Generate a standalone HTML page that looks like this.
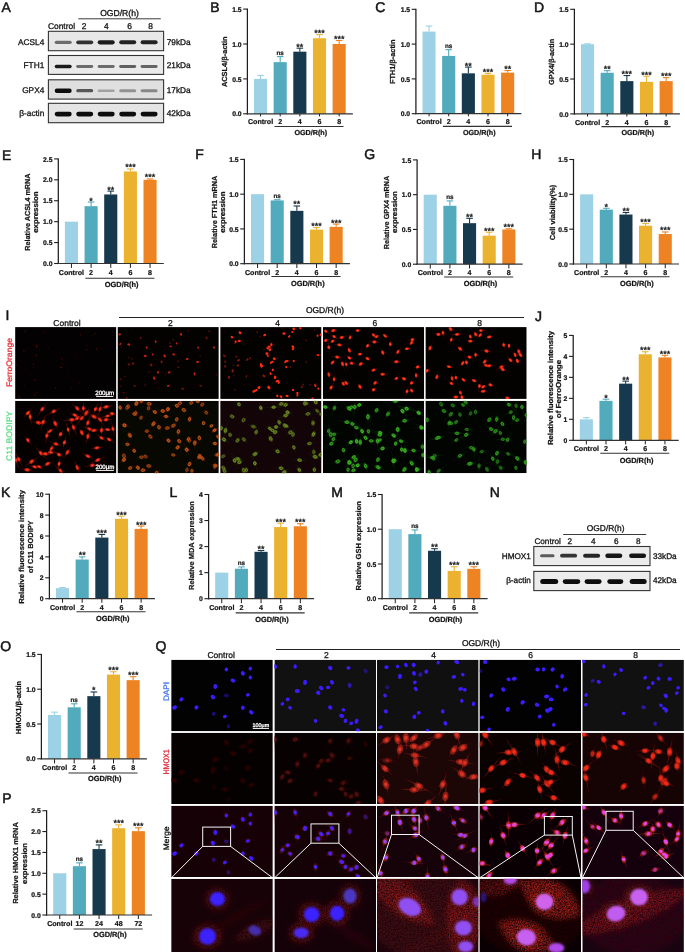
<!DOCTYPE html>
<html><head><meta charset="utf-8"><style>
html,body{margin:0;padding:0;background:#fff;width:685px;height:952px;overflow:hidden}
svg{display:block;font-family:"Liberation Sans",sans-serif;text-rendering:geometricPrecision;will-change:transform}
</style></head><body>
<svg width="685" height="952" viewBox="0 0 685 952">
<defs>
<filter id="bl" x="-30%" y="-100%" width="160%" height="300%"><feGaussianBlur stdDeviation="0.7"/></filter>
<filter id="cb" x="-5%" y="-5%" width="110%" height="110%"><feGaussianBlur stdDeviation="0.45"/></filter>
<filter id="hb" x="-5%" y="-5%" width="110%" height="110%"><feGaussianBlur stdDeviation="0.6"/></filter>
<filter id="mb" x="-20%" y="-20%" width="140%" height="140%"><feGaussianBlur stdDeviation="2.2"/></filter>
<filter id="gr" x="-10%" y="-10%" width="120%" height="120%"><feGaussianBlur in="SourceGraphic" stdDeviation="2.6" result="b"/><feTurbulence type="fractalNoise" baseFrequency="0.75" numOctaves="2" seed="7" result="n"/><feColorMatrix in="n" type="matrix" values="0 0 0 0 0  0 0 0 0 0  0 0 0 0 0  0 0 0 1.9 -0.35" result="na"/><feComposite in="b" in2="na" operator="in" result="g"/><feGaussianBlur in="g" stdDeviation="0.35"/></filter>
<filter id="nb" x="-20%" y="-20%" width="140%" height="140%"><feGaussianBlur stdDeviation="0.8"/></filter>
</defs>
<rect width="685" height="952" fill="#fff"/>
<text x="1.5" y="12.3" font-size="14" text-anchor="start" fill="#141414" stroke="#141414" stroke-width="0.5">A</text>
<text x="119.5" y="15.8" font-size="8.6" text-anchor="middle" fill="#141414" stroke="#141414" stroke-width="0.3">OGD/R(h)</text>
<line x1="78.3" y1="18.8" x2="160.8" y2="18.8" stroke="#3a3a3a" stroke-width="1"/>
<text x="61.5" y="29.4" font-size="8.4" text-anchor="middle" fill="#141414" stroke="#141414" stroke-width="0.3">Control</text>
<text x="84" y="29.4" font-size="8.4" text-anchor="middle" fill="#141414" stroke="#141414" stroke-width="0.3">2</text>
<text x="106.3" y="29.4" font-size="8.4" text-anchor="middle" fill="#141414" stroke="#141414" stroke-width="0.3">4</text>
<text x="129.5" y="29.4" font-size="8.4" text-anchor="middle" fill="#141414" stroke="#141414" stroke-width="0.3">6</text>
<text x="150.5" y="29.4" font-size="8.4" text-anchor="middle" fill="#141414" stroke="#141414" stroke-width="0.3">8</text>
<rect x="48.4" y="31.3" width="115.2" height="19.4" fill="#e7e7e7" stroke="#333" stroke-width="1.1"/>
<rect x="54.7" y="40.7" width="17" height="3.2" rx="1.6" fill="rgb(108,108,108)" filter="url(#bl)"/>
<rect x="76.2" y="40.4" width="17" height="3.8" rx="1.9" fill="rgb(49,49,49)" filter="url(#bl)"/>
<rect x="97.7" y="40.2" width="17" height="4.2" rx="2.1" fill="rgb(27,27,27)" filter="url(#bl)"/>
<rect x="119.2" y="40.3" width="17" height="4" rx="2" fill="rgb(36,36,36)" filter="url(#bl)"/>
<rect x="140.6" y="40.3" width="17" height="4" rx="2" fill="rgb(36,36,36)" filter="url(#bl)"/>
<text x="44.3" y="44.7" font-size="8.3" text-anchor="end" fill="#141414" stroke="#141414" stroke-width="0.3">ACSL4</text>
<text x="166.7" y="44.7" font-size="8.3" text-anchor="start" fill="#141414" stroke="#141414" stroke-width="0.3">79kDa</text>
<rect x="48.4" y="55.5" width="115.2" height="18.9" fill="#eaeaea" stroke="#333" stroke-width="1.1"/>
<rect x="54.7" y="64.85" width="17" height="3.3" rx="1.65" fill="rgb(31,31,31)" filter="url(#bl)"/>
<rect x="76.2" y="65.05" width="17" height="2.9" rx="1.45" fill="rgb(108,108,108)" filter="url(#bl)"/>
<rect x="97.7" y="65.05" width="17" height="2.9" rx="1.45" fill="rgb(108,108,108)" filter="url(#bl)"/>
<rect x="119.2" y="65.05" width="17" height="2.9" rx="1.45" fill="rgb(97,97,97)" filter="url(#bl)"/>
<rect x="140.6" y="65.05" width="17" height="2.9" rx="1.45" fill="rgb(101,101,101)" filter="url(#bl)"/>
<text x="44.3" y="68.1" font-size="8.3" text-anchor="end" fill="#141414" stroke="#141414" stroke-width="0.3">FTH1</text>
<text x="166.7" y="68.1" font-size="8.3" text-anchor="start" fill="#141414" stroke="#141414" stroke-width="0.3">21kDa</text>
<rect x="48.4" y="79.8" width="115.2" height="19.3" fill="#dfdfdf" stroke="#333" stroke-width="1.1"/>
<rect x="54.7" y="88.5" width="17" height="4.4" rx="2.2" fill="rgb(16,16,16)" filter="url(#bl)"/>
<rect x="76.2" y="89.05" width="17" height="3.3" rx="1.65" fill="rgb(86,86,86)" filter="url(#bl)"/>
<rect x="97.7" y="89.4" width="17" height="2.6" rx="1.3" fill="rgb(162,162,162)" filter="url(#bl)"/>
<rect x="119.2" y="89.2" width="17" height="3" rx="1.5" fill="rgb(145,145,145)" filter="url(#bl)"/>
<rect x="140.6" y="89.2" width="17" height="3" rx="1.5" fill="rgb(136,136,136)" filter="url(#bl)"/>
<text x="44.3" y="92.7" font-size="8.3" text-anchor="end" fill="#141414" stroke="#141414" stroke-width="0.3">GPX4</text>
<text x="166.7" y="92.7" font-size="8.3" text-anchor="start" fill="#141414" stroke="#141414" stroke-width="0.3">17kDa</text>
<rect x="48.4" y="103.3" width="115.2" height="19.4" fill="#e4e4e4" stroke="#333" stroke-width="1.1"/>
<rect x="54.7" y="111.7" width="17" height="4.8" rx="2.4" fill="rgb(14,14,14)" filter="url(#bl)"/>
<rect x="76.2" y="111.7" width="17" height="4.8" rx="2.4" fill="rgb(16,16,16)" filter="url(#bl)"/>
<rect x="97.7" y="111.7" width="17" height="4.8" rx="2.4" fill="rgb(16,16,16)" filter="url(#bl)"/>
<rect x="119.2" y="111.7" width="17" height="4.8" rx="2.4" fill="rgb(16,16,16)" filter="url(#bl)"/>
<rect x="140.6" y="111.7" width="17" height="4.8" rx="2.4" fill="rgb(16,16,16)" filter="url(#bl)"/>
<text x="44.3" y="116" font-size="8.3" text-anchor="end" fill="#141414" stroke="#141414" stroke-width="0.3">β-actin</text>
<text x="166.7" y="116" font-size="8.3" text-anchor="start" fill="#141414" stroke="#141414" stroke-width="0.3">42kDa</text>
<text x="210.3" y="12.4" font-size="14" text-anchor="start" fill="#141414" stroke="#141414" stroke-width="0.5">B</text>
<line x1="260.55" y1="78.9" x2="260.55" y2="75.41" stroke="#9dd2e6" stroke-width="1.1"/>
<line x1="257.25" y1="75.41" x2="263.85" y2="75.41" stroke="#9dd2e6" stroke-width="1.1"/>
<rect x="254" y="78.9" width="13.1" height="34.9" fill="#9dd2e6"/>
<line x1="260.55" y1="113.8" x2="260.55" y2="116.4" stroke="#1e1e1e" stroke-width="1"/>
<text x="260.55" y="124.4" font-size="7.1" font-weight="bold" text-anchor="middle" fill="#141414" stroke="#141414" stroke-width="0.22">Control</text>
<line x1="280.2" y1="62.15" x2="280.2" y2="56.56" stroke="#51abbd" stroke-width="1.1"/>
<line x1="276.9" y1="56.56" x2="283.5" y2="56.56" stroke="#51abbd" stroke-width="1.1"/>
<rect x="273.65" y="62.15" width="13.1" height="51.65" fill="#51abbd"/>
<text x="280.2" y="54.86" font-size="6.3" font-weight="bold" text-anchor="middle" fill="#1a1a1a" stroke="#1a1a1a" stroke-width="0.22">ns</text>
<line x1="280.2" y1="113.8" x2="280.2" y2="116.4" stroke="#1e1e1e" stroke-width="1"/>
<text x="280.2" y="124.4" font-size="7.1" font-weight="bold" text-anchor="middle" fill="#141414" stroke="#141414" stroke-width="0.22">2</text>
<line x1="299.85" y1="51.68" x2="299.85" y2="48.19" stroke="#17394d" stroke-width="1.1"/>
<line x1="296.55" y1="48.19" x2="303.15" y2="48.19" stroke="#17394d" stroke-width="1.1"/>
<rect x="293.3" y="51.68" width="13.1" height="62.12" fill="#17394d"/>
<text x="299.85" y="49.69" font-size="9" text-anchor="middle" fill="#1a1a1a" stroke="#1a1a1a" stroke-width="0.35">**</text>
<line x1="299.85" y1="113.8" x2="299.85" y2="116.4" stroke="#1e1e1e" stroke-width="1"/>
<text x="299.85" y="124.4" font-size="7.1" font-weight="bold" text-anchor="middle" fill="#141414" stroke="#141414" stroke-width="0.22">4</text>
<line x1="319.5" y1="38.21" x2="319.5" y2="34.65" stroke="#ebb22f" stroke-width="1.1"/>
<line x1="316.2" y1="34.65" x2="322.8" y2="34.65" stroke="#ebb22f" stroke-width="1.1"/>
<rect x="312.95" y="38.21" width="13.1" height="75.59" fill="#ebb22f"/>
<text x="319.5" y="36.15" font-size="9" text-anchor="middle" fill="#1a1a1a" stroke="#1a1a1a" stroke-width="0.35">***</text>
<line x1="319.5" y1="113.8" x2="319.5" y2="116.4" stroke="#1e1e1e" stroke-width="1"/>
<text x="319.5" y="124.4" font-size="7.1" font-weight="bold" text-anchor="middle" fill="#141414" stroke="#141414" stroke-width="0.22">6</text>
<line x1="339.15" y1="44" x2="339.15" y2="40.51" stroke="#ed8323" stroke-width="1.1"/>
<line x1="335.85" y1="40.51" x2="342.45" y2="40.51" stroke="#ed8323" stroke-width="1.1"/>
<rect x="332.6" y="44" width="13.1" height="69.8" fill="#ed8323"/>
<text x="339.15" y="42.01" font-size="9" text-anchor="middle" fill="#1a1a1a" stroke="#1a1a1a" stroke-width="0.35">***</text>
<line x1="339.15" y1="113.8" x2="339.15" y2="116.4" stroke="#1e1e1e" stroke-width="1"/>
<text x="339.15" y="124.4" font-size="7.1" font-weight="bold" text-anchor="middle" fill="#141414" stroke="#141414" stroke-width="0.22">8</text>
<line x1="247.4" y1="8.6" x2="247.4" y2="114.4" stroke="#1e1e1e" stroke-width="1.25"/>
<line x1="246.8" y1="113.8" x2="352.9" y2="113.8" stroke="#333" stroke-width="1.2"/>
<line x1="243.2" y1="113.8" x2="247.4" y2="113.8" stroke="#1e1e1e" stroke-width="1.1"/>
<text x="241.6" y="116.4" font-size="6.8" font-weight="bold" text-anchor="end" fill="#141414" stroke="#141414" stroke-width="0.22">0.0</text>
<line x1="243.2" y1="78.9" x2="247.4" y2="78.9" stroke="#1e1e1e" stroke-width="1.1"/>
<text x="241.6" y="81.5" font-size="6.8" font-weight="bold" text-anchor="end" fill="#141414" stroke="#141414" stroke-width="0.22">0.5</text>
<line x1="243.2" y1="44" x2="247.4" y2="44" stroke="#1e1e1e" stroke-width="1.1"/>
<text x="241.6" y="46.6" font-size="6.8" font-weight="bold" text-anchor="end" fill="#141414" stroke="#141414" stroke-width="0.22">1.0</text>
<line x1="243.2" y1="9.1" x2="247.4" y2="9.1" stroke="#1e1e1e" stroke-width="1.1"/>
<text x="241.6" y="11.7" font-size="6.8" font-weight="bold" text-anchor="end" fill="#141414" stroke="#141414" stroke-width="0.22">1.5</text>
<line x1="274.45" y1="126.5" x2="343.5" y2="126.5" stroke="#333" stroke-width="1.1"/>
<text x="310.78" y="134.6" font-size="7.2" font-weight="bold" text-anchor="middle" fill="#141414" stroke="#141414" stroke-width="0.22">OGD/R(h)</text>
<text x="227.2" y="61.75" font-size="7.3" font-weight="bold" text-anchor="middle" fill="#141414" transform="rotate(-90 227.2 61.75)" textLength="50.7" lengthAdjust="spacingAndGlyphs" stroke="#141414" stroke-width="0.22">ACSL4/β-actin</text>
<text x="375.2" y="12.4" font-size="14" text-anchor="start" fill="#141414" stroke="#141414" stroke-width="0.5">C</text>
<line x1="429.05" y1="31.57" x2="429.05" y2="26" stroke="#9dd2e6" stroke-width="1.1"/>
<line x1="425.75" y1="26" x2="432.35" y2="26" stroke="#9dd2e6" stroke-width="1.1"/>
<rect x="422.5" y="31.57" width="13.1" height="82.13" fill="#9dd2e6"/>
<line x1="429.05" y1="113.7" x2="429.05" y2="116.3" stroke="#1e1e1e" stroke-width="1"/>
<text x="429.05" y="124.3" font-size="7.1" font-weight="bold" text-anchor="middle" fill="#141414" stroke="#141414" stroke-width="0.22">Control</text>
<line x1="448.7" y1="55.93" x2="448.7" y2="49.67" stroke="#51abbd" stroke-width="1.1"/>
<line x1="445.4" y1="49.67" x2="452" y2="49.67" stroke="#51abbd" stroke-width="1.1"/>
<rect x="442.15" y="55.93" width="13.1" height="57.77" fill="#51abbd"/>
<text x="448.7" y="47.97" font-size="6.3" font-weight="bold" text-anchor="middle" fill="#1a1a1a" stroke="#1a1a1a" stroke-width="0.22">ns</text>
<line x1="448.7" y1="113.7" x2="448.7" y2="116.3" stroke="#1e1e1e" stroke-width="1"/>
<text x="448.7" y="124.3" font-size="7.1" font-weight="bold" text-anchor="middle" fill="#141414" stroke="#141414" stroke-width="0.22">2</text>
<line x1="468.35" y1="73.33" x2="468.35" y2="67.07" stroke="#17394d" stroke-width="1.1"/>
<line x1="465.05" y1="67.07" x2="471.65" y2="67.07" stroke="#17394d" stroke-width="1.1"/>
<rect x="461.8" y="73.33" width="13.1" height="40.37" fill="#17394d"/>
<text x="468.35" y="68.57" font-size="9" text-anchor="middle" fill="#1a1a1a" stroke="#1a1a1a" stroke-width="0.35">**</text>
<line x1="468.35" y1="113.7" x2="468.35" y2="116.3" stroke="#1e1e1e" stroke-width="1"/>
<text x="468.35" y="124.3" font-size="7.1" font-weight="bold" text-anchor="middle" fill="#141414" stroke="#141414" stroke-width="0.22">4</text>
<line x1="488" y1="74.72" x2="488" y2="73.33" stroke="#ebb22f" stroke-width="1.1"/>
<line x1="484.7" y1="73.33" x2="491.3" y2="73.33" stroke="#ebb22f" stroke-width="1.1"/>
<rect x="481.45" y="74.72" width="13.1" height="38.98" fill="#ebb22f"/>
<text x="488" y="74.83" font-size="9" text-anchor="middle" fill="#1a1a1a" stroke="#1a1a1a" stroke-width="0.35">***</text>
<line x1="488" y1="113.7" x2="488" y2="116.3" stroke="#1e1e1e" stroke-width="1"/>
<text x="488" y="124.3" font-size="7.1" font-weight="bold" text-anchor="middle" fill="#141414" stroke="#141414" stroke-width="0.22">6</text>
<line x1="507.65" y1="72.64" x2="507.65" y2="70.55" stroke="#ed8323" stroke-width="1.1"/>
<line x1="504.35" y1="70.55" x2="510.95" y2="70.55" stroke="#ed8323" stroke-width="1.1"/>
<rect x="501.1" y="72.64" width="13.1" height="41.06" fill="#ed8323"/>
<text x="507.65" y="72.05" font-size="9" text-anchor="middle" fill="#1a1a1a" stroke="#1a1a1a" stroke-width="0.35">**</text>
<line x1="507.65" y1="113.7" x2="507.65" y2="116.3" stroke="#1e1e1e" stroke-width="1"/>
<text x="507.65" y="124.3" font-size="7.1" font-weight="bold" text-anchor="middle" fill="#141414" stroke="#141414" stroke-width="0.22">8</text>
<line x1="415.9" y1="8.8" x2="415.9" y2="114.3" stroke="#1e1e1e" stroke-width="1.25"/>
<line x1="415.3" y1="113.7" x2="521.4" y2="113.7" stroke="#333" stroke-width="1.2"/>
<line x1="411.7" y1="113.7" x2="415.9" y2="113.7" stroke="#1e1e1e" stroke-width="1.1"/>
<text x="410.1" y="116.3" font-size="6.8" font-weight="bold" text-anchor="end" fill="#141414" stroke="#141414" stroke-width="0.22">0.0</text>
<line x1="411.7" y1="78.9" x2="415.9" y2="78.9" stroke="#1e1e1e" stroke-width="1.1"/>
<text x="410.1" y="81.5" font-size="6.8" font-weight="bold" text-anchor="end" fill="#141414" stroke="#141414" stroke-width="0.22">0.5</text>
<line x1="411.7" y1="44.1" x2="415.9" y2="44.1" stroke="#1e1e1e" stroke-width="1.1"/>
<text x="410.1" y="46.7" font-size="6.8" font-weight="bold" text-anchor="end" fill="#141414" stroke="#141414" stroke-width="0.22">1.0</text>
<line x1="411.7" y1="9.3" x2="415.9" y2="9.3" stroke="#1e1e1e" stroke-width="1.1"/>
<text x="410.1" y="11.9" font-size="6.8" font-weight="bold" text-anchor="end" fill="#141414" stroke="#141414" stroke-width="0.22">1.5</text>
<line x1="442.95" y1="126.4" x2="512" y2="126.4" stroke="#333" stroke-width="1.1"/>
<text x="479.28" y="134.5" font-size="7.2" font-weight="bold" text-anchor="middle" fill="#141414" stroke="#141414" stroke-width="0.22">OGD/R(h)</text>
<text x="394.8" y="61.85" font-size="7.3" font-weight="bold" text-anchor="middle" fill="#141414" transform="rotate(-90 394.8 61.85)" textLength="44.5" lengthAdjust="spacingAndGlyphs" stroke="#141414" stroke-width="0.22">FTH1/β-actin</text>
<text x="534" y="12.4" font-size="14" text-anchor="start" fill="#141414" stroke="#141414" stroke-width="0.5">D</text>
<line x1="587.55" y1="44.17" x2="587.55" y2="43.82" stroke="#9dd2e6" stroke-width="1.1"/>
<line x1="584.25" y1="43.82" x2="590.85" y2="43.82" stroke="#9dd2e6" stroke-width="1.1"/>
<rect x="581" y="44.17" width="13.1" height="69.73" fill="#9dd2e6"/>
<line x1="587.55" y1="113.9" x2="587.55" y2="116.5" stroke="#1e1e1e" stroke-width="1"/>
<text x="587.55" y="124.5" font-size="7.1" font-weight="bold" text-anchor="middle" fill="#141414" stroke="#141414" stroke-width="0.22">Control</text>
<line x1="607.2" y1="72.76" x2="607.2" y2="70.67" stroke="#51abbd" stroke-width="1.1"/>
<line x1="603.9" y1="70.67" x2="610.5" y2="70.67" stroke="#51abbd" stroke-width="1.1"/>
<rect x="600.65" y="72.76" width="13.1" height="41.14" fill="#51abbd"/>
<text x="607.2" y="72.17" font-size="9" text-anchor="middle" fill="#1a1a1a" stroke="#1a1a1a" stroke-width="0.35">**</text>
<line x1="607.2" y1="113.9" x2="607.2" y2="116.5" stroke="#1e1e1e" stroke-width="1"/>
<text x="607.2" y="124.5" font-size="7.1" font-weight="bold" text-anchor="middle" fill="#141414" stroke="#141414" stroke-width="0.22">2</text>
<line x1="626.85" y1="81.13" x2="626.85" y2="75.55" stroke="#17394d" stroke-width="1.1"/>
<line x1="623.55" y1="75.55" x2="630.15" y2="75.55" stroke="#17394d" stroke-width="1.1"/>
<rect x="620.3" y="81.13" width="13.1" height="32.77" fill="#17394d"/>
<text x="626.85" y="77.05" font-size="9" text-anchor="middle" fill="#1a1a1a" stroke="#1a1a1a" stroke-width="0.35">***</text>
<line x1="626.85" y1="113.9" x2="626.85" y2="116.5" stroke="#1e1e1e" stroke-width="1"/>
<text x="626.85" y="124.5" font-size="7.1" font-weight="bold" text-anchor="middle" fill="#141414" stroke="#141414" stroke-width="0.22">4</text>
<line x1="646.5" y1="81.82" x2="646.5" y2="76.24" stroke="#ebb22f" stroke-width="1.1"/>
<line x1="643.2" y1="76.24" x2="649.8" y2="76.24" stroke="#ebb22f" stroke-width="1.1"/>
<rect x="639.95" y="81.82" width="13.1" height="32.08" fill="#ebb22f"/>
<text x="646.5" y="77.74" font-size="9" text-anchor="middle" fill="#1a1a1a" stroke="#1a1a1a" stroke-width="0.35">***</text>
<line x1="646.5" y1="113.9" x2="646.5" y2="116.5" stroke="#1e1e1e" stroke-width="1"/>
<text x="646.5" y="124.5" font-size="7.1" font-weight="bold" text-anchor="middle" fill="#141414" stroke="#141414" stroke-width="0.22">6</text>
<line x1="666.15" y1="81.13" x2="666.15" y2="77.64" stroke="#ed8323" stroke-width="1.1"/>
<line x1="662.85" y1="77.64" x2="669.45" y2="77.64" stroke="#ed8323" stroke-width="1.1"/>
<rect x="659.6" y="81.13" width="13.1" height="32.77" fill="#ed8323"/>
<text x="666.15" y="79.14" font-size="9" text-anchor="middle" fill="#1a1a1a" stroke="#1a1a1a" stroke-width="0.35">***</text>
<line x1="666.15" y1="113.9" x2="666.15" y2="116.5" stroke="#1e1e1e" stroke-width="1"/>
<text x="666.15" y="124.5" font-size="7.1" font-weight="bold" text-anchor="middle" fill="#141414" stroke="#141414" stroke-width="0.22">8</text>
<line x1="574.4" y1="8.8" x2="574.4" y2="114.5" stroke="#1e1e1e" stroke-width="1.25"/>
<line x1="573.8" y1="113.9" x2="679.9" y2="113.9" stroke="#333" stroke-width="1.2"/>
<line x1="570.2" y1="113.9" x2="574.4" y2="113.9" stroke="#1e1e1e" stroke-width="1.1"/>
<text x="568.6" y="116.5" font-size="6.8" font-weight="bold" text-anchor="end" fill="#141414" stroke="#141414" stroke-width="0.22">0.0</text>
<line x1="570.2" y1="79.03" x2="574.4" y2="79.03" stroke="#1e1e1e" stroke-width="1.1"/>
<text x="568.6" y="81.63" font-size="6.8" font-weight="bold" text-anchor="end" fill="#141414" stroke="#141414" stroke-width="0.22">0.5</text>
<line x1="570.2" y1="44.17" x2="574.4" y2="44.17" stroke="#1e1e1e" stroke-width="1.1"/>
<text x="568.6" y="46.77" font-size="6.8" font-weight="bold" text-anchor="end" fill="#141414" stroke="#141414" stroke-width="0.22">1.0</text>
<line x1="570.2" y1="9.3" x2="574.4" y2="9.3" stroke="#1e1e1e" stroke-width="1.1"/>
<text x="568.6" y="11.9" font-size="6.8" font-weight="bold" text-anchor="end" fill="#141414" stroke="#141414" stroke-width="0.22">1.5</text>
<line x1="601.45" y1="126.6" x2="670.5" y2="126.6" stroke="#333" stroke-width="1.1"/>
<text x="637.77" y="134.7" font-size="7.2" font-weight="bold" text-anchor="middle" fill="#141414" stroke="#141414" stroke-width="0.22">OGD/R(h)</text>
<text x="554" y="61.85" font-size="7.3" font-weight="bold" text-anchor="middle" fill="#141414" transform="rotate(-90 554 61.85)" textLength="46.1" lengthAdjust="spacingAndGlyphs" stroke="#141414" stroke-width="0.22">GPX4/β-actin</text>
<text x="2" y="160.4" font-size="14" text-anchor="start" fill="#141414" stroke="#141414" stroke-width="0.5">E</text>
<rect x="64.9" y="221.66" width="13.1" height="41.84" fill="#9dd2e6"/>
<line x1="71.45" y1="263.5" x2="71.45" y2="267.9" stroke="#1e1e1e" stroke-width="1"/>
<text x="71.45" y="274.8" font-size="7.1" font-weight="bold" text-anchor="middle" fill="#141414" stroke="#141414" stroke-width="0.22">Control</text>
<line x1="91.1" y1="206.18" x2="91.1" y2="202" stroke="#51abbd" stroke-width="1.1"/>
<line x1="87.8" y1="202" x2="94.4" y2="202" stroke="#51abbd" stroke-width="1.1"/>
<rect x="84.55" y="206.18" width="13.1" height="57.32" fill="#51abbd"/>
<text x="91.1" y="203.5" font-size="9" text-anchor="middle" fill="#1a1a1a" stroke="#1a1a1a" stroke-width="0.35">*</text>
<line x1="91.1" y1="263.5" x2="91.1" y2="267.9" stroke="#1e1e1e" stroke-width="1"/>
<text x="91.1" y="274.8" font-size="7.1" font-weight="bold" text-anchor="middle" fill="#141414" stroke="#141414" stroke-width="0.22">2</text>
<line x1="110.75" y1="194.46" x2="110.75" y2="191.12" stroke="#17394d" stroke-width="1.1"/>
<line x1="107.45" y1="191.12" x2="114.05" y2="191.12" stroke="#17394d" stroke-width="1.1"/>
<rect x="104.2" y="194.46" width="13.1" height="69.04" fill="#17394d"/>
<text x="110.75" y="192.62" font-size="9" text-anchor="middle" fill="#1a1a1a" stroke="#1a1a1a" stroke-width="0.35">**</text>
<line x1="110.75" y1="263.5" x2="110.75" y2="267.9" stroke="#1e1e1e" stroke-width="1"/>
<text x="110.75" y="274.8" font-size="7.1" font-weight="bold" text-anchor="middle" fill="#141414" stroke="#141414" stroke-width="0.22">4</text>
<line x1="130.4" y1="171.45" x2="130.4" y2="168.94" stroke="#ebb22f" stroke-width="1.1"/>
<line x1="127.1" y1="168.94" x2="133.7" y2="168.94" stroke="#ebb22f" stroke-width="1.1"/>
<rect x="123.85" y="171.45" width="13.1" height="92.05" fill="#ebb22f"/>
<text x="130.4" y="170.44" font-size="9" text-anchor="middle" fill="#1a1a1a" stroke="#1a1a1a" stroke-width="0.35">***</text>
<line x1="130.4" y1="263.5" x2="130.4" y2="267.9" stroke="#1e1e1e" stroke-width="1"/>
<text x="130.4" y="274.8" font-size="7.1" font-weight="bold" text-anchor="middle" fill="#141414" stroke="#141414" stroke-width="0.22">6</text>
<line x1="150.05" y1="179.82" x2="150.05" y2="178.98" stroke="#ed8323" stroke-width="1.1"/>
<line x1="146.75" y1="178.98" x2="153.35" y2="178.98" stroke="#ed8323" stroke-width="1.1"/>
<rect x="143.5" y="179.82" width="13.1" height="83.68" fill="#ed8323"/>
<text x="150.05" y="180.48" font-size="9" text-anchor="middle" fill="#1a1a1a" stroke="#1a1a1a" stroke-width="0.35">***</text>
<line x1="150.05" y1="263.5" x2="150.05" y2="267.9" stroke="#1e1e1e" stroke-width="1"/>
<text x="150.05" y="274.8" font-size="7.1" font-weight="bold" text-anchor="middle" fill="#141414" stroke="#141414" stroke-width="0.22">8</text>
<line x1="58.3" y1="158.4" x2="58.3" y2="264.1" stroke="#1e1e1e" stroke-width="1.25"/>
<line x1="57.7" y1="263.5" x2="163.8" y2="263.5" stroke="#333" stroke-width="1.2"/>
<line x1="54.1" y1="263.5" x2="58.3" y2="263.5" stroke="#1e1e1e" stroke-width="1.1"/>
<text x="52.5" y="266.1" font-size="6.8" font-weight="bold" text-anchor="end" fill="#141414" stroke="#141414" stroke-width="0.22">0.0</text>
<line x1="54.1" y1="242.58" x2="58.3" y2="242.58" stroke="#1e1e1e" stroke-width="1.1"/>
<text x="52.5" y="245.18" font-size="6.8" font-weight="bold" text-anchor="end" fill="#141414" stroke="#141414" stroke-width="0.22">0.5</text>
<line x1="54.1" y1="221.66" x2="58.3" y2="221.66" stroke="#1e1e1e" stroke-width="1.1"/>
<text x="52.5" y="224.26" font-size="6.8" font-weight="bold" text-anchor="end" fill="#141414" stroke="#141414" stroke-width="0.22">1.0</text>
<line x1="54.1" y1="200.74" x2="58.3" y2="200.74" stroke="#1e1e1e" stroke-width="1.1"/>
<text x="52.5" y="203.34" font-size="6.8" font-weight="bold" text-anchor="end" fill="#141414" stroke="#141414" stroke-width="0.22">1.5</text>
<line x1="54.1" y1="179.82" x2="58.3" y2="179.82" stroke="#1e1e1e" stroke-width="1.1"/>
<text x="52.5" y="182.42" font-size="6.8" font-weight="bold" text-anchor="end" fill="#141414" stroke="#141414" stroke-width="0.22">2.0</text>
<line x1="54.1" y1="158.9" x2="58.3" y2="158.9" stroke="#1e1e1e" stroke-width="1.1"/>
<text x="52.5" y="161.5" font-size="6.8" font-weight="bold" text-anchor="end" fill="#141414" stroke="#141414" stroke-width="0.22">2.5</text>
<line x1="85.35" y1="278.2" x2="154.4" y2="278.2" stroke="#333" stroke-width="1.1"/>
<text x="121.67" y="287.1" font-size="7.45" font-weight="bold" text-anchor="middle" fill="#141414" stroke="#141414" stroke-width="0.22">OGD/R(h)</text>
<text x="29.8" y="212.1" font-size="7.3" font-weight="bold" text-anchor="middle" fill="#141414" transform="rotate(-90 29.8 212.1)" textLength="77.2" lengthAdjust="spacingAndGlyphs" stroke="#141414" stroke-width="0.22">Relative ACSL4 mRNA</text>
<text x="37.8" y="212.1" font-size="7.3" font-weight="bold" text-anchor="middle" fill="#141414" transform="rotate(-90 37.8 212.1)" textLength="41.4" lengthAdjust="spacingAndGlyphs" stroke="#141414" stroke-width="0.22">expression</text>
<text x="195.2" y="159.4" font-size="14" text-anchor="start" fill="#141414" stroke="#141414" stroke-width="0.5">F</text>
<rect x="251" y="194.17" width="13.1" height="69.53" fill="#9dd2e6"/>
<line x1="257.55" y1="263.7" x2="257.55" y2="268" stroke="#1e1e1e" stroke-width="1"/>
<text x="257.55" y="274.5" font-size="7.1" font-weight="bold" text-anchor="middle" fill="#141414" stroke="#141414" stroke-width="0.22">Control</text>
<line x1="277.2" y1="200.42" x2="277.2" y2="199.73" stroke="#51abbd" stroke-width="1.1"/>
<line x1="273.9" y1="199.73" x2="280.5" y2="199.73" stroke="#51abbd" stroke-width="1.1"/>
<rect x="270.65" y="200.42" width="13.1" height="63.28" fill="#51abbd"/>
<text x="277.2" y="198.03" font-size="6.3" font-weight="bold" text-anchor="middle" fill="#1a1a1a" stroke="#1a1a1a" stroke-width="0.22">ns</text>
<line x1="277.2" y1="263.7" x2="277.2" y2="268" stroke="#1e1e1e" stroke-width="1"/>
<text x="277.2" y="274.5" font-size="7.1" font-weight="bold" text-anchor="middle" fill="#141414" stroke="#141414" stroke-width="0.22">2</text>
<line x1="296.85" y1="210.85" x2="296.85" y2="205.99" stroke="#17394d" stroke-width="1.1"/>
<line x1="293.55" y1="205.99" x2="300.15" y2="205.99" stroke="#17394d" stroke-width="1.1"/>
<rect x="290.3" y="210.85" width="13.1" height="52.85" fill="#17394d"/>
<text x="296.85" y="207.49" font-size="9" text-anchor="middle" fill="#1a1a1a" stroke="#1a1a1a" stroke-width="0.35">**</text>
<line x1="296.85" y1="263.7" x2="296.85" y2="268" stroke="#1e1e1e" stroke-width="1"/>
<text x="296.85" y="274.5" font-size="7.1" font-weight="bold" text-anchor="middle" fill="#141414" stroke="#141414" stroke-width="0.22">4</text>
<line x1="316.5" y1="229.63" x2="316.5" y2="227.54" stroke="#ebb22f" stroke-width="1.1"/>
<line x1="313.2" y1="227.54" x2="319.8" y2="227.54" stroke="#ebb22f" stroke-width="1.1"/>
<rect x="309.95" y="229.63" width="13.1" height="34.07" fill="#ebb22f"/>
<text x="316.5" y="229.04" font-size="9" text-anchor="middle" fill="#1a1a1a" stroke="#1a1a1a" stroke-width="0.35">***</text>
<line x1="316.5" y1="263.7" x2="316.5" y2="268" stroke="#1e1e1e" stroke-width="1"/>
<text x="316.5" y="274.5" font-size="7.1" font-weight="bold" text-anchor="middle" fill="#141414" stroke="#141414" stroke-width="0.22">6</text>
<line x1="336.15" y1="226.85" x2="336.15" y2="224.07" stroke="#ed8323" stroke-width="1.1"/>
<line x1="332.85" y1="224.07" x2="339.45" y2="224.07" stroke="#ed8323" stroke-width="1.1"/>
<rect x="329.6" y="226.85" width="13.1" height="36.85" fill="#ed8323"/>
<text x="336.15" y="225.57" font-size="9" text-anchor="middle" fill="#1a1a1a" stroke="#1a1a1a" stroke-width="0.35">***</text>
<line x1="336.15" y1="263.7" x2="336.15" y2="268" stroke="#1e1e1e" stroke-width="1"/>
<text x="336.15" y="274.5" font-size="7.1" font-weight="bold" text-anchor="middle" fill="#141414" stroke="#141414" stroke-width="0.22">8</text>
<line x1="244.4" y1="158.9" x2="244.4" y2="264.3" stroke="#1e1e1e" stroke-width="1.25"/>
<line x1="243.8" y1="263.7" x2="349.9" y2="263.7" stroke="#333" stroke-width="1.2"/>
<line x1="240.2" y1="263.7" x2="244.4" y2="263.7" stroke="#1e1e1e" stroke-width="1.1"/>
<text x="238.6" y="266.3" font-size="6.8" font-weight="bold" text-anchor="end" fill="#141414" stroke="#141414" stroke-width="0.22">0.0</text>
<line x1="240.2" y1="228.93" x2="244.4" y2="228.93" stroke="#1e1e1e" stroke-width="1.1"/>
<text x="238.6" y="231.53" font-size="6.8" font-weight="bold" text-anchor="end" fill="#141414" stroke="#141414" stroke-width="0.22">0.5</text>
<line x1="240.2" y1="194.17" x2="244.4" y2="194.17" stroke="#1e1e1e" stroke-width="1.1"/>
<text x="238.6" y="196.77" font-size="6.8" font-weight="bold" text-anchor="end" fill="#141414" stroke="#141414" stroke-width="0.22">1.0</text>
<line x1="240.2" y1="159.4" x2="244.4" y2="159.4" stroke="#1e1e1e" stroke-width="1.1"/>
<text x="238.6" y="162" font-size="6.8" font-weight="bold" text-anchor="end" fill="#141414" stroke="#141414" stroke-width="0.22">1.5</text>
<line x1="271.45" y1="276.5" x2="340.5" y2="276.5" stroke="#333" stroke-width="1.1"/>
<text x="307.78" y="285.5" font-size="7.4" font-weight="bold" text-anchor="middle" fill="#141414" stroke="#141414" stroke-width="0.22">OGD/R(h)</text>
<text x="216.8" y="212" font-size="7.3" font-weight="bold" text-anchor="middle" fill="#141414" transform="rotate(-90 216.8 212)" textLength="72.5" lengthAdjust="spacingAndGlyphs" stroke="#141414" stroke-width="0.22">Relative FTH1 mRNA</text>
<text x="224.9" y="212.1" font-size="7.3" font-weight="bold" text-anchor="middle" fill="#141414" transform="rotate(-90 224.9 212.1)" textLength="41.5" lengthAdjust="spacingAndGlyphs" stroke="#141414" stroke-width="0.22">expression</text>
<text x="364.3" y="159.4" font-size="14" text-anchor="start" fill="#141414" stroke="#141414" stroke-width="0.5">G</text>
<rect x="423.7" y="194.67" width="13.1" height="69.53" fill="#9dd2e6"/>
<line x1="430.25" y1="264.2" x2="430.25" y2="268.5" stroke="#1e1e1e" stroke-width="1"/>
<text x="430.25" y="275" font-size="7.1" font-weight="bold" text-anchor="middle" fill="#141414" stroke="#141414" stroke-width="0.22">Control</text>
<line x1="449.9" y1="205.79" x2="449.9" y2="200.92" stroke="#51abbd" stroke-width="1.1"/>
<line x1="446.6" y1="200.92" x2="453.2" y2="200.92" stroke="#51abbd" stroke-width="1.1"/>
<rect x="443.35" y="205.79" width="13.1" height="58.41" fill="#51abbd"/>
<text x="449.9" y="199.22" font-size="6.3" font-weight="bold" text-anchor="middle" fill="#1a1a1a" stroke="#1a1a1a" stroke-width="0.22">ns</text>
<line x1="449.9" y1="264.2" x2="449.9" y2="268.5" stroke="#1e1e1e" stroke-width="1"/>
<text x="449.9" y="275" font-size="7.1" font-weight="bold" text-anchor="middle" fill="#141414" stroke="#141414" stroke-width="0.22">2</text>
<line x1="469.55" y1="223.18" x2="469.55" y2="218.31" stroke="#17394d" stroke-width="1.1"/>
<line x1="466.25" y1="218.31" x2="472.85" y2="218.31" stroke="#17394d" stroke-width="1.1"/>
<rect x="463" y="223.18" width="13.1" height="41.02" fill="#17394d"/>
<text x="469.55" y="219.81" font-size="9" text-anchor="middle" fill="#1a1a1a" stroke="#1a1a1a" stroke-width="0.35">**</text>
<line x1="469.55" y1="264.2" x2="469.55" y2="268.5" stroke="#1e1e1e" stroke-width="1"/>
<text x="469.55" y="275" font-size="7.1" font-weight="bold" text-anchor="middle" fill="#141414" stroke="#141414" stroke-width="0.22">4</text>
<line x1="489.2" y1="235.69" x2="489.2" y2="232.21" stroke="#ebb22f" stroke-width="1.1"/>
<line x1="485.9" y1="232.21" x2="492.5" y2="232.21" stroke="#ebb22f" stroke-width="1.1"/>
<rect x="482.65" y="235.69" width="13.1" height="28.51" fill="#ebb22f"/>
<text x="489.2" y="233.71" font-size="9" text-anchor="middle" fill="#1a1a1a" stroke="#1a1a1a" stroke-width="0.35">***</text>
<line x1="489.2" y1="264.2" x2="489.2" y2="268.5" stroke="#1e1e1e" stroke-width="1"/>
<text x="489.2" y="275" font-size="7.1" font-weight="bold" text-anchor="middle" fill="#141414" stroke="#141414" stroke-width="0.22">6</text>
<line x1="508.85" y1="229.43" x2="508.85" y2="228.74" stroke="#ed8323" stroke-width="1.1"/>
<line x1="505.55" y1="228.74" x2="512.15" y2="228.74" stroke="#ed8323" stroke-width="1.1"/>
<rect x="502.3" y="229.43" width="13.1" height="34.77" fill="#ed8323"/>
<text x="508.85" y="230.24" font-size="9" text-anchor="middle" fill="#1a1a1a" stroke="#1a1a1a" stroke-width="0.35">***</text>
<line x1="508.85" y1="264.2" x2="508.85" y2="268.5" stroke="#1e1e1e" stroke-width="1"/>
<text x="508.85" y="275" font-size="7.1" font-weight="bold" text-anchor="middle" fill="#141414" stroke="#141414" stroke-width="0.22">8</text>
<line x1="417.1" y1="159.4" x2="417.1" y2="264.8" stroke="#1e1e1e" stroke-width="1.25"/>
<line x1="416.5" y1="264.2" x2="522.6" y2="264.2" stroke="#333" stroke-width="1.2"/>
<line x1="412.9" y1="264.2" x2="417.1" y2="264.2" stroke="#1e1e1e" stroke-width="1.1"/>
<text x="411.3" y="266.8" font-size="6.8" font-weight="bold" text-anchor="end" fill="#141414" stroke="#141414" stroke-width="0.22">0.0</text>
<line x1="412.9" y1="229.43" x2="417.1" y2="229.43" stroke="#1e1e1e" stroke-width="1.1"/>
<text x="411.3" y="232.03" font-size="6.8" font-weight="bold" text-anchor="end" fill="#141414" stroke="#141414" stroke-width="0.22">0.5</text>
<line x1="412.9" y1="194.67" x2="417.1" y2="194.67" stroke="#1e1e1e" stroke-width="1.1"/>
<text x="411.3" y="197.27" font-size="6.8" font-weight="bold" text-anchor="end" fill="#141414" stroke="#141414" stroke-width="0.22">1.0</text>
<line x1="412.9" y1="159.9" x2="417.1" y2="159.9" stroke="#1e1e1e" stroke-width="1.1"/>
<text x="411.3" y="162.5" font-size="6.8" font-weight="bold" text-anchor="end" fill="#141414" stroke="#141414" stroke-width="0.22">1.5</text>
<line x1="444.15" y1="277" x2="513.2" y2="277" stroke="#333" stroke-width="1.1"/>
<text x="480.48" y="286" font-size="7.4" font-weight="bold" text-anchor="middle" fill="#141414" stroke="#141414" stroke-width="0.22">OGD/R(h)</text>
<text x="388.5" y="212.5" font-size="7.3" font-weight="bold" text-anchor="middle" fill="#141414" transform="rotate(-90 388.5 212.5)" textLength="73.5" lengthAdjust="spacingAndGlyphs" stroke="#141414" stroke-width="0.22">Relative GPX4 mRNA</text>
<text x="396.9" y="212" font-size="7.3" font-weight="bold" text-anchor="middle" fill="#141414" transform="rotate(-90 396.9 212)" textLength="41.8" lengthAdjust="spacingAndGlyphs" stroke="#141414" stroke-width="0.22">expression</text>
<text x="531.2" y="159.4" font-size="14" text-anchor="start" fill="#141414" stroke="#141414" stroke-width="0.5">H</text>
<rect x="580.1" y="194.33" width="13.1" height="69.67" fill="#9dd2e6"/>
<line x1="586.65" y1="264" x2="586.65" y2="268.3" stroke="#1e1e1e" stroke-width="1"/>
<text x="586.65" y="274.8" font-size="7.1" font-weight="bold" text-anchor="middle" fill="#141414" stroke="#141414" stroke-width="0.22">Control</text>
<line x1="606.3" y1="209.66" x2="606.3" y2="208.27" stroke="#51abbd" stroke-width="1.1"/>
<line x1="603" y1="208.27" x2="609.6" y2="208.27" stroke="#51abbd" stroke-width="1.1"/>
<rect x="599.75" y="209.66" width="13.1" height="54.34" fill="#51abbd"/>
<text x="606.3" y="209.77" font-size="9" text-anchor="middle" fill="#1a1a1a" stroke="#1a1a1a" stroke-width="0.35">*</text>
<line x1="606.3" y1="264" x2="606.3" y2="268.3" stroke="#1e1e1e" stroke-width="1"/>
<text x="606.3" y="274.8" font-size="7.1" font-weight="bold" text-anchor="middle" fill="#141414" stroke="#141414" stroke-width="0.22">2</text>
<line x1="625.95" y1="214.54" x2="625.95" y2="212.45" stroke="#17394d" stroke-width="1.1"/>
<line x1="622.65" y1="212.45" x2="629.25" y2="212.45" stroke="#17394d" stroke-width="1.1"/>
<rect x="619.4" y="214.54" width="13.1" height="49.46" fill="#17394d"/>
<text x="625.95" y="213.95" font-size="9" text-anchor="middle" fill="#1a1a1a" stroke="#1a1a1a" stroke-width="0.35">**</text>
<line x1="625.95" y1="264" x2="625.95" y2="268.3" stroke="#1e1e1e" stroke-width="1"/>
<text x="625.95" y="274.8" font-size="7.1" font-weight="bold" text-anchor="middle" fill="#141414" stroke="#141414" stroke-width="0.22">4</text>
<line x1="645.6" y1="225.68" x2="645.6" y2="223.59" stroke="#ebb22f" stroke-width="1.1"/>
<line x1="642.3" y1="223.59" x2="648.9" y2="223.59" stroke="#ebb22f" stroke-width="1.1"/>
<rect x="639.05" y="225.68" width="13.1" height="38.32" fill="#ebb22f"/>
<text x="645.6" y="225.09" font-size="9" text-anchor="middle" fill="#1a1a1a" stroke="#1a1a1a" stroke-width="0.35">***</text>
<line x1="645.6" y1="264" x2="645.6" y2="268.3" stroke="#1e1e1e" stroke-width="1"/>
<text x="645.6" y="274.8" font-size="7.1" font-weight="bold" text-anchor="middle" fill="#141414" stroke="#141414" stroke-width="0.22">6</text>
<line x1="665.25" y1="234.04" x2="665.25" y2="231.95" stroke="#ed8323" stroke-width="1.1"/>
<line x1="661.95" y1="231.95" x2="668.55" y2="231.95" stroke="#ed8323" stroke-width="1.1"/>
<rect x="658.7" y="234.04" width="13.1" height="29.96" fill="#ed8323"/>
<text x="665.25" y="233.45" font-size="9" text-anchor="middle" fill="#1a1a1a" stroke="#1a1a1a" stroke-width="0.35">***</text>
<line x1="665.25" y1="264" x2="665.25" y2="268.3" stroke="#1e1e1e" stroke-width="1"/>
<text x="665.25" y="274.8" font-size="7.1" font-weight="bold" text-anchor="middle" fill="#141414" stroke="#141414" stroke-width="0.22">8</text>
<line x1="573.5" y1="159" x2="573.5" y2="264.6" stroke="#1e1e1e" stroke-width="1.25"/>
<line x1="572.9" y1="264" x2="679" y2="264" stroke="#333" stroke-width="1.2"/>
<line x1="569.3" y1="264" x2="573.5" y2="264" stroke="#1e1e1e" stroke-width="1.1"/>
<text x="567.7" y="266.6" font-size="6.8" font-weight="bold" text-anchor="end" fill="#141414" stroke="#141414" stroke-width="0.22">0.0</text>
<line x1="569.3" y1="229.17" x2="573.5" y2="229.17" stroke="#1e1e1e" stroke-width="1.1"/>
<text x="567.7" y="231.77" font-size="6.8" font-weight="bold" text-anchor="end" fill="#141414" stroke="#141414" stroke-width="0.22">0.5</text>
<line x1="569.3" y1="194.33" x2="573.5" y2="194.33" stroke="#1e1e1e" stroke-width="1.1"/>
<text x="567.7" y="196.93" font-size="6.8" font-weight="bold" text-anchor="end" fill="#141414" stroke="#141414" stroke-width="0.22">1.0</text>
<line x1="569.3" y1="159.5" x2="573.5" y2="159.5" stroke="#1e1e1e" stroke-width="1.1"/>
<text x="567.7" y="162.1" font-size="6.8" font-weight="bold" text-anchor="end" fill="#141414" stroke="#141414" stroke-width="0.22">1.5</text>
<line x1="600.55" y1="276.8" x2="669.6" y2="276.8" stroke="#333" stroke-width="1.1"/>
<text x="636.88" y="285.8" font-size="7.4" font-weight="bold" text-anchor="middle" fill="#141414" stroke="#141414" stroke-width="0.22">OGD/R(h)</text>
<text x="554.8" y="212.6" font-size="7.3" font-weight="bold" text-anchor="middle" fill="#141414" transform="rotate(-90 554.8 212.6)" textLength="55.5" lengthAdjust="spacingAndGlyphs" stroke="#141414" stroke-width="0.22">Cell viability(%)</text>
<text x="5.5" y="319.6" font-size="14" text-anchor="start" fill="#141414" stroke="#141414" stroke-width="0.5">I</text>
<text x="67" y="326.1" font-size="8.5" text-anchor="middle" fill="#141414" stroke="#141414" stroke-width="0.3">Control</text>
<text x="170.4" y="326" font-size="8.5" text-anchor="middle" fill="#141414" stroke="#141414" stroke-width="0.3">2</text>
<text x="277.7" y="326" font-size="8.5" text-anchor="middle" fill="#141414" stroke="#141414" stroke-width="0.3">4</text>
<text x="374.9" y="326" font-size="8.5" text-anchor="middle" fill="#141414" stroke="#141414" stroke-width="0.3">6</text>
<text x="479.5" y="326" font-size="8.5" text-anchor="middle" fill="#141414" stroke="#141414" stroke-width="0.3">8</text>
<line x1="119" y1="317.5" x2="524" y2="317.5" stroke="#222" stroke-width="1"/>
<text x="325" y="313.4" font-size="8.5" text-anchor="middle" fill="#141414" stroke="#141414" stroke-width="0.3">OGD/R(h)</text>
<text x="11.6" y="362.6" font-size="8" text-anchor="middle" fill="#e8343c" transform="rotate(-90 11.6 362.6)" textLength="49" lengthAdjust="spacingAndGlyphs" stroke="#e8343c" stroke-width="0.3">FerroOrange</text>
<text x="11.6" y="435.9" font-size="8" text-anchor="middle" fill="#5ee08a" transform="rotate(-90 11.6 435.9)" textLength="50" lengthAdjust="spacingAndGlyphs" stroke="#5ee08a" stroke-width="0.3">C11 BODIPY</text>
<clipPath id="c1"><rect x="15.1" y="327.1" width="101.3" height="71.8"/></clipPath>
<g clip-path="url(#c1)">
<rect x="15.1" y="327.1" width="101.3" height="71.8" fill="#030101"/>
<g filter="url(#cb)">
<ellipse cx="60.93" cy="367.29" rx="1.14" ry="0.75" transform="rotate(24.19 60.93 367.29)" fill="#ff2a10" opacity="0.24"/>
<ellipse cx="62.27" cy="363.56" rx="0.89" ry="0.65" transform="rotate(45.91 62.27 363.56)" fill="#ff2a10" opacity="0.19"/>
<ellipse cx="33.81" cy="363.86" rx="0.91" ry="0.74" transform="rotate(117.29 33.81 363.86)" fill="#ff2a10" opacity="0.19"/>
<ellipse cx="95.43" cy="333.86" rx="1.03" ry="0.75" transform="rotate(5.1 95.43 333.86)" fill="#ff2a10" opacity="0.15"/>
<ellipse cx="24.28" cy="385.23" rx="0.69" ry="0.5" transform="rotate(137.21 24.28 385.23)" fill="#ff2a10" opacity="0.2"/>
<ellipse cx="19.34" cy="397.62" rx="0.9" ry="0.57" transform="rotate(129.88 19.34 397.62)" fill="#ff2a10" opacity="0.24"/>
<ellipse cx="81.34" cy="371.3" rx="0.62" ry="0.51" transform="rotate(162.26 81.34 371.3)" fill="#ff2a10" opacity="0.12"/>
<ellipse cx="16.62" cy="365.04" rx="1.06" ry="0.78" transform="rotate(97.45 16.62 365.04)" fill="#ff2a10" opacity="0.11"/>
<ellipse cx="34.37" cy="344.47" rx="0.76" ry="0.63" transform="rotate(38.99 34.37 344.47)" fill="#ff2a10" opacity="0.1"/>
<ellipse cx="62.1" cy="358.73" rx="0.88" ry="0.63" transform="rotate(39.9 62.1 358.73)" fill="#ff2a10" opacity="0.23"/>
<ellipse cx="67.69" cy="373.07" rx="0.73" ry="0.57" transform="rotate(41.96 67.69 373.07)" fill="#ff2a10" opacity="0.17"/>
<ellipse cx="82.21" cy="359.94" rx="0.71" ry="0.59" transform="rotate(82.73 82.21 359.94)" fill="#ff2a10" opacity="0.14"/>
<ellipse cx="116.16" cy="398.59" rx="0.97" ry="0.67" transform="rotate(150.76 116.16 398.59)" fill="#ff2a10" opacity="0.23"/>
<ellipse cx="86.8" cy="349.74" rx="1.23" ry="0.8" transform="rotate(33.46 86.8 349.74)" fill="#ff2a10" opacity="0.13"/>
<ellipse cx="44.38" cy="332.14" rx="0.89" ry="0.6" transform="rotate(21.76 44.38 332.14)" fill="#ff2a10" opacity="0.21"/>
<ellipse cx="55.66" cy="387.88" rx="1.07" ry="0.78" transform="rotate(128.01 55.66 387.88)" fill="#ff2a10" opacity="0.16"/>
<ellipse cx="112.15" cy="387.94" rx="0.93" ry="0.7" transform="rotate(149.41 112.15 387.94)" fill="#ff2a10" opacity="0.1"/>
<ellipse cx="36.34" cy="392.46" rx="1.18" ry="0.76" transform="rotate(105.76 36.34 392.46)" fill="#ff2a10" opacity="0.17"/>
<ellipse cx="114.41" cy="355.64" rx="0.82" ry="0.68" transform="rotate(90.95 114.41 355.64)" fill="#ff2a10" opacity="0.11"/>
<ellipse cx="78.86" cy="383" rx="1.01" ry="0.74" transform="rotate(43.69 78.86 383)" fill="#ff2a10" opacity="0.14"/>
<ellipse cx="23.93" cy="350.98" rx="0.98" ry="0.66" transform="rotate(31.14 23.93 350.98)" fill="#ff2a10" opacity="0.24"/>
<ellipse cx="91.89" cy="335.57" rx="0.84" ry="0.61" transform="rotate(121.41 91.89 335.57)" fill="#ff2a10" opacity="0.14"/>
<ellipse cx="25.34" cy="331.4" rx="1.03" ry="0.73" transform="rotate(91.52 25.34 331.4)" fill="#ff2a10" opacity="0.22"/>
<ellipse cx="33.1" cy="367.26" rx="0.78" ry="0.65" transform="rotate(70.79 33.1 367.26)" fill="#ff2a10" opacity="0.17"/>
<ellipse cx="34.42" cy="379.65" rx="1.13" ry="0.71" transform="rotate(7.83 34.42 379.65)" fill="#ff2a10" opacity="0.12"/>
<ellipse cx="80.31" cy="335.47" rx="0.78" ry="0.62" transform="rotate(106.77 80.31 335.47)" fill="#ff2a10" opacity="0.16"/>
<ellipse cx="36.66" cy="346.47" rx="1.2" ry="0.79" transform="rotate(90.4 36.66 346.47)" fill="#ff2a10" opacity="0.25"/>
<ellipse cx="96.49" cy="348.94" rx="0.98" ry="0.76" transform="rotate(97.13 96.49 348.94)" fill="#ff2a10" opacity="0.23"/>
<ellipse cx="36.44" cy="355.41" rx="1.12" ry="0.79" transform="rotate(92.48 36.44 355.41)" fill="#ff2a10" opacity="0.23"/>
<ellipse cx="80.12" cy="334.3" rx="0.82" ry="0.58" transform="rotate(82.64 80.12 334.3)" fill="#ff2a10" opacity="0.25"/>
<ellipse cx="36.7" cy="345.64" rx="0.76" ry="0.5" transform="rotate(172.28 36.7 345.64)" fill="#ff2a10" opacity="0.22"/>
<ellipse cx="48.42" cy="348.38" rx="1.15" ry="0.77" transform="rotate(147.69 48.42 348.38)" fill="#ff2a10" opacity="0.11"/>
<ellipse cx="24.23" cy="368.94" rx="0.93" ry="0.66" transform="rotate(145.65 24.23 368.94)" fill="#ff2a10" opacity="0.14"/>
<ellipse cx="76.01" cy="353.79" rx="0.8" ry="0.52" transform="rotate(76.7 76.01 353.79)" fill="#ff2a10" opacity="0.17"/>
<ellipse cx="112.26" cy="361.83" rx="0.78" ry="0.56" transform="rotate(102.6 112.26 361.83)" fill="#ff2a10" opacity="0.19"/>
<ellipse cx="102.88" cy="340.23" rx="0.81" ry="0.61" transform="rotate(87.29 102.88 340.23)" fill="#ff2a10" opacity="0.12"/>
<ellipse cx="107.12" cy="385.82" rx="0.99" ry="0.69" transform="rotate(96.93 107.12 385.82)" fill="#ff2a10" opacity="0.14"/>
<ellipse cx="34.33" cy="380.19" rx="0.66" ry="0.51" transform="rotate(82.47 34.33 380.19)" fill="#ff2a10" opacity="0.24"/>
<ellipse cx="35.01" cy="395.32" rx="1.04" ry="0.68" transform="rotate(31.9 35.01 395.32)" fill="#ff2a10" opacity="0.23"/>
<ellipse cx="76.24" cy="357.36" rx="1.13" ry="0.74" transform="rotate(143.72 76.24 357.36)" fill="#ff2a10" opacity="0.12"/>
<ellipse cx="19.02" cy="396.22" rx="1.11" ry="0.75" transform="rotate(45.95 19.02 396.22)" fill="#ff2a10" opacity="0.14"/>
<ellipse cx="86.47" cy="345.55" rx="0.61" ry="0.51" transform="rotate(14.98 86.47 345.55)" fill="#ff2a10" opacity="0.22"/>
<ellipse cx="75.52" cy="348.17" rx="0.72" ry="0.57" transform="rotate(136.01 75.52 348.17)" fill="#ff2a10" opacity="0.13"/>
<ellipse cx="88.07" cy="332.04" rx="0.74" ry="0.6" transform="rotate(112.46 88.07 332.04)" fill="#ff2a10" opacity="0.13"/>
<ellipse cx="71.76" cy="388.3" rx="0.83" ry="0.66" transform="rotate(28.73 71.76 388.3)" fill="#ff2a10" opacity="0.19"/>
</g></g>
<clipPath id="c2"><rect x="117.5" y="327.1" width="101.3" height="71.8"/></clipPath>
<g clip-path="url(#c2)">
<rect x="117.5" y="327.1" width="101.3" height="71.8" fill="#040101"/>
<g filter="url(#cb)">
<ellipse cx="119.74" cy="334.38" rx="1.33" ry="1.08" transform="rotate(172.09 119.74 334.38)" fill="#ff2a10" opacity="0.75"/>
<ellipse cx="128.72" cy="344.55" rx="1.57" ry="1.05" transform="rotate(15.28 128.72 344.55)" fill="#ff2a10" opacity="0.75"/>
<ellipse cx="120.34" cy="343.96" rx="1.29" ry="0.89" transform="rotate(120.55 120.34 343.96)" fill="#ff2a10" opacity="0.75"/>
<ellipse cx="146.68" cy="347.55" rx="1.23" ry="0.97" transform="rotate(109.22 146.68 347.55)" fill="#ff2a10" opacity="0.75"/>
<ellipse cx="155.66" cy="341.56" rx="1.37" ry="0.92" transform="rotate(77.52 155.66 341.56)" fill="#ff2a10" opacity="0.75"/>
<ellipse cx="145.18" cy="355.93" rx="1.54" ry="1.08" transform="rotate(179.07 145.18 355.93)" fill="#ff2a10" opacity="0.75"/>
<ellipse cx="152.66" cy="354.43" rx="1.07" ry="0.88" transform="rotate(80.07 152.66 354.43)" fill="#ff2a10" opacity="0.75"/>
<ellipse cx="170.62" cy="346.35" rx="1.25" ry="0.94" transform="rotate(4.94 170.62 346.35)" fill="#ff2a10" opacity="0.75"/>
<ellipse cx="181.09" cy="334.38" rx="1.51" ry="1.07" transform="rotate(68.4 181.09 334.38)" fill="#ff2a10" opacity="0.75"/>
<ellipse cx="176.61" cy="343.36" rx="1.05" ry="0.87" transform="rotate(100.89 176.61 343.36)" fill="#ff2a10" opacity="0.75"/>
<ellipse cx="198.15" cy="347.55" rx="1.18" ry="0.84" transform="rotate(58.53 198.15 347.55)" fill="#ff2a10" opacity="0.75"/>
<ellipse cx="214.01" cy="347.55" rx="1.28" ry="1" transform="rotate(179.76 214.01 347.55)" fill="#ff2a10" opacity="0.75"/>
<ellipse cx="187.08" cy="358.92" rx="1.55" ry="1.04" transform="rotate(160.84 187.08 358.92)" fill="#ff2a10" opacity="0.75"/>
<ellipse cx="197.55" cy="361.91" rx="1.56" ry="1.03" transform="rotate(163.19 197.55 361.91)" fill="#ff2a10" opacity="0.75"/>
<ellipse cx="164.64" cy="355.93" rx="1.73" ry="1.09" transform="rotate(63.68 164.64 355.93)" fill="#ff2a10" opacity="0.75"/>
<ellipse cx="173.61" cy="354.43" rx="1.52" ry="1.03" transform="rotate(29.01 173.61 354.43)" fill="#ff2a10" opacity="0.75"/>
<ellipse cx="158.05" cy="372.39" rx="1.34" ry="0.96" transform="rotate(83.05 158.05 372.39)" fill="#ff2a10" opacity="0.75"/>
<ellipse cx="169.12" cy="372.39" rx="1.46" ry="0.95" transform="rotate(166.47 169.12 372.39)" fill="#ff2a10" opacity="0.75"/>
<ellipse cx="154.16" cy="378.37" rx="1.66" ry="1.06" transform="rotate(63.71 154.16 378.37)" fill="#ff2a10" opacity="0.75"/>
<ellipse cx="194.56" cy="373.88" rx="1.52" ry="0.97" transform="rotate(82.98 194.56 373.88)" fill="#ff2a10" opacity="0.75"/>
<ellipse cx="128.72" cy="364.31" rx="1.22" ry="0.95" transform="rotate(130.28 128.72 364.31)" fill="#ff2a10" opacity="0.45"/>
<ellipse cx="133.21" cy="363.41" rx="1.28" ry="1.01" transform="rotate(58.44 133.21 363.41)" fill="#ff2a10" opacity="0.45"/>
<ellipse cx="168.23" cy="385.85" rx="1.38" ry="0.88" transform="rotate(163.43 168.23 385.85)" fill="#ff2a10" opacity="0.75"/>
<ellipse cx="151.17" cy="364.91" rx="1.61" ry="1.09" transform="rotate(55.72 151.17 364.91)" fill="#ff2a10" opacity="0.45"/>
<ellipse cx="161.64" cy="361.91" rx="1.4" ry="0.96" transform="rotate(90.76 161.64 361.91)" fill="#ff2a10" opacity="0.52"/>
<ellipse cx="140.69" cy="337.97" rx="1.15" ry="0.89" transform="rotate(105.83 140.69 337.97)" fill="#ff2a10" opacity="0.38"/>
<ellipse cx="206.53" cy="337.97" rx="1.57" ry="1.08" transform="rotate(92.14 206.53 337.97)" fill="#ff2a10" opacity="0.38"/>
<ellipse cx="182.59" cy="388.85" rx="1.56" ry="1.05" transform="rotate(13.57 182.59 388.85)" fill="#ff2a10" opacity="0.38"/>
<ellipse cx="134.71" cy="385.85" rx="1.28" ry="0.86" transform="rotate(163.38 134.71 385.85)" fill="#ff2a10" opacity="0.38"/>
<ellipse cx="200.55" cy="385.85" rx="1.3" ry="1" transform="rotate(10.58 200.55 385.85)" fill="#ff2a10" opacity="0.38"/>
<ellipse cx="165.57" cy="374.31" rx="0.78" ry="0.64" transform="rotate(172.48 165.57 374.31)" fill="#ff2a10" opacity="0.32"/>
<ellipse cx="131.95" cy="327.88" rx="0.82" ry="0.66" transform="rotate(179.75 131.95 327.88)" fill="#ff2a10" opacity="0.24"/>
<ellipse cx="145.26" cy="385.28" rx="1.09" ry="0.7" transform="rotate(117.26 145.26 385.28)" fill="#ff2a10" opacity="0.32"/>
<ellipse cx="178.43" cy="367.18" rx="1.18" ry="0.89" transform="rotate(41.71 178.43 367.18)" fill="#ff2a10" opacity="0.32"/>
<ellipse cx="132.22" cy="358.7" rx="1.3" ry="0.88" transform="rotate(108.21 132.22 358.7)" fill="#ff2a10" opacity="0.19"/>
<ellipse cx="209.28" cy="331.32" rx="0.99" ry="0.81" transform="rotate(166.29 209.28 331.32)" fill="#ff2a10" opacity="0.35"/>
<ellipse cx="125.06" cy="376.42" rx="1.03" ry="0.78" transform="rotate(158.65 125.06 376.42)" fill="#ff2a10" opacity="0.23"/>
<ellipse cx="158.49" cy="387.58" rx="1.23" ry="0.85" transform="rotate(34.22 158.49 387.58)" fill="#ff2a10" opacity="0.15"/>
<ellipse cx="123.66" cy="392.8" rx="1.32" ry="0.83" transform="rotate(168.84 123.66 392.8)" fill="#ff2a10" opacity="0.28"/>
<ellipse cx="126.72" cy="397.98" rx="1.17" ry="0.81" transform="rotate(101.94 126.72 397.98)" fill="#ff2a10" opacity="0.39"/>
<ellipse cx="128.9" cy="357.49" rx="1.18" ry="0.89" transform="rotate(46.51 128.9 357.49)" fill="#ff2a10" opacity="0.18"/>
<ellipse cx="149.16" cy="371.72" rx="1.29" ry="0.89" transform="rotate(140.6 149.16 371.72)" fill="#ff2a10" opacity="0.19"/>
<ellipse cx="188.09" cy="330.79" rx="1.24" ry="0.85" transform="rotate(25.6 188.09 330.79)" fill="#ff2a10" opacity="0.19"/>
<ellipse cx="200.13" cy="355.86" rx="0.87" ry="0.61" transform="rotate(33.31 200.13 355.86)" fill="#ff2a10" opacity="0.25"/>
<ellipse cx="177.87" cy="361.33" rx="1.23" ry="0.88" transform="rotate(5.81 177.87 361.33)" fill="#ff2a10" opacity="0.25"/>
<ellipse cx="120.59" cy="379.25" rx="1.06" ry="0.72" transform="rotate(93.12 120.59 379.25)" fill="#ff2a10" opacity="0.39"/>
<ellipse cx="216.4" cy="374.75" rx="0.93" ry="0.69" transform="rotate(164.96 216.4 374.75)" fill="#ff2a10" opacity="0.24"/>
<ellipse cx="154.28" cy="376.65" rx="0.99" ry="0.69" transform="rotate(104.87 154.28 376.65)" fill="#ff2a10" opacity="0.32"/>
<ellipse cx="129.03" cy="343.97" rx="1.07" ry="0.73" transform="rotate(97.76 129.03 343.97)" fill="#ff2a10" opacity="0.24"/>
<ellipse cx="169.3" cy="385.27" rx="1" ry="0.63" transform="rotate(95.08 169.3 385.27)" fill="#ff2a10" opacity="0.28"/>
<ellipse cx="120.35" cy="386.16" rx="0.99" ry="0.73" transform="rotate(64.03 120.35 386.16)" fill="#ff2a10" opacity="0.26"/>
<ellipse cx="170.07" cy="343.05" rx="1.24" ry="0.89" transform="rotate(167.31 170.07 343.05)" fill="#ff2a10" opacity="0.26"/>
<ellipse cx="156.83" cy="382.52" rx="0.98" ry="0.63" transform="rotate(72.12 156.83 382.52)" fill="#ff2a10" opacity="0.18"/>
<ellipse cx="173.21" cy="339.88" rx="1.02" ry="0.76" transform="rotate(30.85 173.21 339.88)" fill="#ff2a10" opacity="0.32"/>
<ellipse cx="121.23" cy="346.96" rx="0.9" ry="0.71" transform="rotate(59.09 121.23 346.96)" fill="#ff2a10" opacity="0.24"/>
</g></g>
<clipPath id="c3"><rect x="220.2" y="327.1" width="101.3" height="71.8"/></clipPath>
<g clip-path="url(#c3)">
<rect x="220.2" y="327.1" width="101.3" height="71.8" fill="#040101"/>
<g filter="url(#cb)">
<ellipse cx="231.91" cy="337.17" rx="1.37" ry="1.12" transform="rotate(42.83 231.91 337.17)" fill="#ff2a10" opacity="1"/>
<ellipse cx="235.64" cy="341.64" rx="1.2" ry="1.15" transform="rotate(108.71 235.64 341.64)" fill="#ff2a10" opacity="1"/>
<ellipse cx="239.36" cy="340.89" rx="1.43" ry="1.23" transform="rotate(2.37 239.36 340.89)" fill="#ff2a10" opacity="1"/>
<ellipse cx="240.1" cy="332.7" rx="1.66" ry="1.3" transform="rotate(42.18 240.1 332.7)" fill="#ff2a10" opacity="1"/>
<ellipse cx="264.67" cy="334.93" rx="1.51" ry="1.09" transform="rotate(150.56 264.67 334.93)" fill="#ff2a10" opacity="1"/>
<ellipse cx="269.14" cy="346.85" rx="1.75" ry="1.15" transform="rotate(27.11 269.14 346.85)" fill="#ff2a10" opacity="1"/>
<ellipse cx="271.37" cy="344.61" rx="1.68" ry="1.2" transform="rotate(94.17 271.37 344.61)" fill="#ff2a10" opacity="1"/>
<ellipse cx="266.91" cy="353.55" rx="1.63" ry="1.2" transform="rotate(11.53 266.91 353.55)" fill="#ff2a10" opacity="1"/>
<ellipse cx="267.65" cy="355.78" rx="1.39" ry="0.91" transform="rotate(54.23 267.65 355.78)" fill="#ff2a10" opacity="1"/>
<ellipse cx="260.95" cy="364.72" rx="1.81" ry="1.19" transform="rotate(85.09 260.95 364.72)" fill="#ff2a10" opacity="1"/>
<ellipse cx="261.69" cy="366.2" rx="1.57" ry="1.27" transform="rotate(128.54 261.69 366.2)" fill="#ff2a10" opacity="1"/>
<ellipse cx="271.37" cy="362.48" rx="1.68" ry="1.08" transform="rotate(144.16 271.37 362.48)" fill="#ff2a10" opacity="1"/>
<ellipse cx="272.86" cy="361.74" rx="1.02" ry="0.94" transform="rotate(158.2 272.86 361.74)" fill="#ff2a10" opacity="1"/>
<ellipse cx="274.35" cy="358.76" rx="1.62" ry="1.29" transform="rotate(39.06 274.35 358.76)" fill="#ff2a10" opacity="1"/>
<ellipse cx="272.86" cy="369.93" rx="1.33" ry="1.02" transform="rotate(112.8 272.86 369.93)" fill="#ff2a10" opacity="1"/>
<ellipse cx="270.63" cy="373.65" rx="1.41" ry="1.04" transform="rotate(69.46 270.63 373.65)" fill="#ff2a10" opacity="1"/>
<ellipse cx="275.09" cy="377.37" rx="1.78" ry="1.26" transform="rotate(105.17 275.09 377.37)" fill="#ff2a10" opacity="1"/>
<ellipse cx="277.33" cy="381.09" rx="1.98" ry="1.24" transform="rotate(167.21 277.33 381.09)" fill="#ff2a10" opacity="1"/>
<ellipse cx="278.82" cy="382.58" rx="1.46" ry="0.97" transform="rotate(120.83 278.82 382.58)" fill="#ff2a10" opacity="1"/>
<ellipse cx="284.03" cy="333.45" rx="1.69" ry="1.26" transform="rotate(173.63 284.03 333.45)" fill="#ff2a10" opacity="1"/>
<ellipse cx="289.24" cy="336.42" rx="1.48" ry="0.98" transform="rotate(128.49 289.24 336.42)" fill="#ff2a10" opacity="1"/>
<ellipse cx="292.22" cy="331.96" rx="1.05" ry="1.01" transform="rotate(103.24 292.22 331.96)" fill="#ff2a10" opacity="1"/>
<ellipse cx="293.71" cy="328.98" rx="1.36" ry="1.3" transform="rotate(153.71 293.71 328.98)" fill="#ff2a10" opacity="1"/>
<ellipse cx="300.41" cy="328.23" rx="1.16" ry="1.06" transform="rotate(144.11 300.41 328.23)" fill="#ff2a10" opacity="1"/>
<ellipse cx="292.96" cy="346.85" rx="1.84" ry="1.21" transform="rotate(52.9 292.96 346.85)" fill="#ff2a10" opacity="1"/>
<ellipse cx="292.96" cy="349.08" rx="1.18" ry="1.15" transform="rotate(7.95 292.96 349.08)" fill="#ff2a10" opacity="1"/>
<ellipse cx="285.52" cy="361.74" rx="1.58" ry="1.03" transform="rotate(129.32 285.52 361.74)" fill="#ff2a10" opacity="1"/>
<ellipse cx="287.01" cy="360.99" rx="1.76" ry="1.1" transform="rotate(176.51 287.01 360.99)" fill="#ff2a10" opacity="1"/>
<ellipse cx="286.26" cy="366.95" rx="1.27" ry="0.93" transform="rotate(55.74 286.26 366.95)" fill="#ff2a10" opacity="1"/>
<ellipse cx="293.71" cy="360.99" rx="1.22" ry="0.98" transform="rotate(5.65 293.71 360.99)" fill="#ff2a10" opacity="1"/>
<ellipse cx="247.55" cy="359.5" rx="0.99" ry="0.96" transform="rotate(109.88 247.55 359.5)" fill="#ff2a10" opacity="0.6"/>
<ellipse cx="238.61" cy="360.25" rx="1.62" ry="1.03" transform="rotate(156.2 238.61 360.25)" fill="#ff2a10" opacity="0.5"/>
<ellipse cx="237.87" cy="365.46" rx="1.34" ry="1.05" transform="rotate(161.4 237.87 365.46)" fill="#ff2a10" opacity="0.5"/>
<ellipse cx="228.93" cy="377.37" rx="1.57" ry="1.16" transform="rotate(93.61 228.93 377.37)" fill="#ff2a10" opacity="0.5"/>
<ellipse cx="232.66" cy="370.67" rx="1.8" ry="1.15" transform="rotate(100.67 232.66 370.67)" fill="#ff2a10" opacity="0.5"/>
<ellipse cx="225.21" cy="366.2" rx="1.54" ry="1.07" transform="rotate(91.26 225.21 366.2)" fill="#ff2a10" opacity="0.4"/>
<ellipse cx="263.93" cy="375.88" rx="1.62" ry="1.02" transform="rotate(42.77 263.93 375.88)" fill="#ff2a10" opacity="0.6"/>
<ellipse cx="259.46" cy="387.05" rx="1.13" ry="1.12" transform="rotate(93.8 259.46 387.05)" fill="#ff2a10" opacity="1"/>
<ellipse cx="256.48" cy="390.03" rx="1.15" ry="1.13" transform="rotate(74.74 256.48 390.03)" fill="#ff2a10" opacity="1"/>
<ellipse cx="253.5" cy="391.52" rx="1.19" ry="1.15" transform="rotate(110.84 253.5 391.52)" fill="#ff2a10" opacity="1"/>
<ellipse cx="268.39" cy="387.05" rx="1.53" ry="1.09" transform="rotate(112.92 268.39 387.05)" fill="#ff2a10" opacity="1"/>
<ellipse cx="269.14" cy="387.8" rx="1.71" ry="1.18" transform="rotate(63.46 269.14 387.8)" fill="#ff2a10" opacity="1"/>
<ellipse cx="292.96" cy="390.03" rx="1.3" ry="0.92" transform="rotate(3.99 292.96 390.03)" fill="#ff2a10" opacity="1"/>
<ellipse cx="297.43" cy="393.01" rx="1.27" ry="1" transform="rotate(173.4 297.43 393.01)" fill="#ff2a10" opacity="1"/>
<ellipse cx="297.43" cy="395.24" rx="1.25" ry="1.03" transform="rotate(106.68 297.43 395.24)" fill="#ff2a10" opacity="1"/>
<ellipse cx="277.33" cy="395.99" rx="1.42" ry="1.05" transform="rotate(56.28 277.33 395.99)" fill="#ff2a10" opacity="1"/>
<ellipse cx="281.05" cy="396.73" rx="1.54" ry="1.05" transform="rotate(54.07 281.05 396.73)" fill="#ff2a10" opacity="1"/>
<ellipse cx="287.01" cy="395.99" rx="1.63" ry="1.13" transform="rotate(4.85 287.01 395.99)" fill="#ff2a10" opacity="1"/>
<ellipse cx="315.3" cy="385.56" rx="1.47" ry="0.99" transform="rotate(55.8 315.3 385.56)" fill="#ff2a10" opacity="1"/>
<ellipse cx="318.28" cy="388.54" rx="1.23" ry="0.97" transform="rotate(42.97 318.28 388.54)" fill="#ff2a10" opacity="1"/>
<ellipse cx="317.53" cy="335.68" rx="1.12" ry="0.94" transform="rotate(125.65 317.53 335.68)" fill="#ff2a10" opacity="1"/>
<ellipse cx="321.26" cy="334.93" rx="1.56" ry="1.23" transform="rotate(60.08 321.26 334.93)" fill="#ff2a10" opacity="1"/>
<ellipse cx="318.28" cy="355.04" rx="1.16" ry="0.97" transform="rotate(154 318.28 355.04)" fill="#ff2a10" opacity="1"/>
<ellipse cx="312.32" cy="398.96" rx="1.59" ry="1.25" transform="rotate(117.04 312.32 398.96)" fill="#ff2a10" opacity="1"/>
<ellipse cx="225.21" cy="361.74" rx="1.25" ry="0.95" transform="rotate(40.51 225.21 361.74)" fill="#ff2a10" opacity="0.4"/>
<ellipse cx="224.47" cy="355.78" rx="1.84" ry="1.22" transform="rotate(34.34 224.47 355.78)" fill="#ff2a10" opacity="0.4"/>
<ellipse cx="267.65" cy="348.34" rx="1.5" ry="1.01" transform="rotate(33.05 267.65 348.34)" fill="#ff2a10" opacity="1"/>
<ellipse cx="269.88" cy="349.82" rx="1.48" ry="1.22" transform="rotate(115.55 269.88 349.82)" fill="#ff2a10" opacity="1"/>
<ellipse cx="258.72" cy="387.8" rx="1.5" ry="1.02" transform="rotate(23.34 258.72 387.8)" fill="#ff2a10" opacity="1"/>
<ellipse cx="254.99" cy="390.77" rx="1.3" ry="1.04" transform="rotate(48.81 254.99 390.77)" fill="#ff2a10" opacity="1"/>
<ellipse cx="246.44" cy="376.3" rx="1.21" ry="0.79" transform="rotate(102.66 246.44 376.3)" fill="#ff2a10" opacity="0.41"/>
<ellipse cx="306.24" cy="340.43" rx="1.24" ry="0.8" transform="rotate(49.91 306.24 340.43)" fill="#ff2a10" opacity="0.27"/>
<ellipse cx="235.11" cy="343.27" rx="0.96" ry="0.66" transform="rotate(163.59 235.11 343.27)" fill="#ff2a10" opacity="0.42"/>
<ellipse cx="233.39" cy="365.25" rx="1.19" ry="0.75" transform="rotate(111.08 233.39 365.25)" fill="#ff2a10" opacity="0.26"/>
<ellipse cx="250.05" cy="358.09" rx="1.16" ry="0.73" transform="rotate(95.09 250.05 358.09)" fill="#ff2a10" opacity="0.45"/>
<ellipse cx="281.83" cy="328.14" rx="0.91" ry="0.69" transform="rotate(114.41 281.83 328.14)" fill="#ff2a10" opacity="0.28"/>
<ellipse cx="235.06" cy="389.66" rx="0.89" ry="0.62" transform="rotate(89.3 235.06 389.66)" fill="#ff2a10" opacity="0.44"/>
<ellipse cx="301.85" cy="386.43" rx="1.12" ry="0.73" transform="rotate(132.45 301.85 386.43)" fill="#ff2a10" opacity="0.42"/>
<ellipse cx="316.37" cy="384.09" rx="1.13" ry="0.77" transform="rotate(167.04 316.37 384.09)" fill="#ff2a10" opacity="0.28"/>
<ellipse cx="306.3" cy="362.05" rx="0.98" ry="0.62" transform="rotate(21.11 306.3 362.05)" fill="#ff2a10" opacity="0.43"/>
<ellipse cx="277.35" cy="357.94" rx="1.03" ry="0.66" transform="rotate(51.2 277.35 357.94)" fill="#ff2a10" opacity="0.31"/>
<ellipse cx="263.74" cy="349.63" rx="0.85" ry="0.64" transform="rotate(134.97 263.74 349.63)" fill="#ff2a10" opacity="0.24"/>
<ellipse cx="303.23" cy="384.41" rx="0.82" ry="0.68" transform="rotate(43.68 303.23 384.41)" fill="#ff2a10" opacity="0.5"/>
<ellipse cx="290.19" cy="366.89" rx="0.94" ry="0.69" transform="rotate(94.44 290.19 366.89)" fill="#ff2a10" opacity="0.42"/>
<ellipse cx="233.86" cy="375.7" rx="0.77" ry="0.63" transform="rotate(33.38 233.86 375.7)" fill="#ff2a10" opacity="0.33"/>
<ellipse cx="238.09" cy="341.65" rx="1.17" ry="0.82" transform="rotate(157.1 238.09 341.65)" fill="#ff2a10" opacity="0.36"/>
<ellipse cx="245.86" cy="360.09" rx="0.8" ry="0.64" transform="rotate(22.29 245.86 360.09)" fill="#ff2a10" opacity="0.38"/>
<ellipse cx="260.29" cy="336.49" rx="0.81" ry="0.62" transform="rotate(56.98 260.29 336.49)" fill="#ff2a10" opacity="0.35"/>
<ellipse cx="244.05" cy="344.02" rx="0.96" ry="0.66" transform="rotate(36.52 244.05 344.02)" fill="#ff2a10" opacity="0.26"/>
<ellipse cx="257.32" cy="332.36" rx="1" ry="0.74" transform="rotate(82.4 257.32 332.36)" fill="#ff2a10" opacity="0.4"/>
<ellipse cx="316.81" cy="355.08" rx="1.11" ry="0.84" transform="rotate(97.02 316.81 355.08)" fill="#ff2a10" opacity="0.42"/>
<ellipse cx="314.71" cy="330.2" rx="1.01" ry="0.74" transform="rotate(12.64 314.71 330.2)" fill="#ff2a10" opacity="0.24"/>
<ellipse cx="301.86" cy="387.28" rx="0.98" ry="0.63" transform="rotate(140.49 301.86 387.28)" fill="#ff2a10" opacity="0.39"/>
<ellipse cx="236.38" cy="356.79" rx="1.05" ry="0.76" transform="rotate(2.67 236.38 356.79)" fill="#ff2a10" opacity="0.46"/>
<ellipse cx="309.97" cy="384.77" rx="1.28" ry="0.87" transform="rotate(56.76 309.97 384.77)" fill="#ff2a10" opacity="0.26"/>
</g></g>
<clipPath id="c4"><rect x="322.9" y="327.1" width="101.3" height="71.8"/></clipPath>
<g clip-path="url(#c4)">
<rect x="322.9" y="327.1" width="101.3" height="71.8" fill="#040101"/>
<g filter="url(#cb)">
<path d="M321.96,328.74 Q325.16,332.26 329.63,333.89 Q326.43,330.37 321.96,328.74Z" fill="#901408" opacity="0.45"/>
<ellipse cx="325.8" cy="331.31" rx="1.86" ry="1.42" transform="rotate(42.49 325.8 331.31)" fill="#f02814" opacity="0.9"/>
<ellipse cx="325.8" cy="331.31" rx="1.06" ry="0.88" transform="rotate(42.49 325.8 331.31)" fill="#ff3a1e" opacity="1"/>
<path d="M338.13,329.37 Q333.09,329.37 328.65,331.74 Q333.68,331.74 338.13,329.37Z" fill="#901408" opacity="0.45"/>
<ellipse cx="333.39" cy="330.55" rx="2.28" ry="1.53" transform="rotate(165.23 333.39 330.55)" fill="#f02814" opacity="0.9"/>
<ellipse cx="333.39" cy="330.55" rx="1.03" ry="0.86" transform="rotate(165.23 333.39 330.55)" fill="#ff3a1e" opacity="1"/>
<path d="M328.04,331.92 Q333.48,337.49 340.25,341.34 Q334.81,335.76 328.04,331.92Z" fill="#901408" opacity="0.45"/>
<ellipse cx="334.15" cy="336.63" rx="1.86" ry="1.36" transform="rotate(31.08 334.15 336.63)" fill="#f02814" opacity="0.9"/>
<ellipse cx="334.15" cy="336.63" rx="1.15" ry="0.96" transform="rotate(31.08 334.15 336.63)" fill="#ff3a1e" opacity="1"/>
<path d="M338.19,337.8 Q332.05,340.23 327.07,344.56 Q333.21,342.13 338.19,337.8Z" fill="#901408" opacity="0.45"/>
<ellipse cx="332.63" cy="341.18" rx="1.92" ry="1.39" transform="rotate(144.08 332.63 341.18)" fill="#f02814" opacity="0.9"/>
<ellipse cx="332.63" cy="341.18" rx="1.17" ry="0.97" transform="rotate(144.08 332.63 341.18)" fill="#ff3a1e" opacity="1"/>
<path d="M332.02,337.98 Q325.36,339.32 319.57,342.87 Q326.23,341.53 332.02,337.98Z" fill="#901408" opacity="0.45"/>
<ellipse cx="325.8" cy="340.42" rx="1.85" ry="1.48" transform="rotate(158.41 325.8 340.42)" fill="#f02814" opacity="0.9"/>
<ellipse cx="325.8" cy="340.42" rx="1" ry="0.84" transform="rotate(158.41 325.8 340.42)" fill="#ff3a1e" opacity="1"/>
<path d="M328.34,339.81 Q327.57,347.34 329.33,354.7 Q330.09,347.17 328.34,339.81Z" fill="#901408" opacity="0.45"/>
<ellipse cx="328.83" cy="347.26" rx="1.85" ry="1.58" transform="rotate(85.25 328.83 347.26)" fill="#f02814" opacity="0.9"/>
<ellipse cx="328.83" cy="347.26" rx="1.03" ry="0.86" transform="rotate(85.25 328.83 347.26)" fill="#ff3a1e" opacity="1"/>
<path d="M348.83,335.32 Q341.39,336.19 334.64,339.45 Q342.09,338.59 348.83,335.32Z" fill="#901408" opacity="0.45"/>
<ellipse cx="341.74" cy="337.39" rx="2.14" ry="1.56" transform="rotate(163.6 341.74 337.39)" fill="#f02814" opacity="0.9"/>
<ellipse cx="341.74" cy="337.39" rx="1.06" ry="0.88" transform="rotate(163.6 341.74 337.39)" fill="#ff3a1e" opacity="1"/>
<path d="M352.22,332.62 Q349.1,336.95 347.96,342.15 Q351.07,337.83 352.22,332.62Z" fill="#901408" opacity="0.45"/>
<ellipse cx="350.09" cy="337.39" rx="2.06" ry="1.35" transform="rotate(107.8 350.09 337.39)" fill="#f02814" opacity="0.9"/>
<ellipse cx="350.09" cy="337.39" rx="0.97" ry="0.81" transform="rotate(107.8 350.09 337.39)" fill="#ff3a1e" opacity="1"/>
<path d="M333.38,344.15 Q339.31,346.08 345.54,345.81 Q339.61,343.88 333.38,344.15Z" fill="#901408" opacity="0.45"/>
<ellipse cx="339.46" cy="344.98" rx="2.18" ry="1.38" transform="rotate(8.34 339.46 344.98)" fill="#f02814" opacity="0.9"/>
<ellipse cx="339.46" cy="344.98" rx="1.04" ry="0.87" transform="rotate(8.34 339.46 344.98)" fill="#ff3a1e" opacity="1"/>
<path d="M362.49,330.74 Q357.72,329.42 352.87,330.37 Q357.64,331.69 362.49,330.74Z" fill="#901408" opacity="0.45"/>
<ellipse cx="357.68" cy="330.55" rx="1.92" ry="1.42" transform="rotate(179.51 357.68 330.55)" fill="#f02814" opacity="0.9"/>
<ellipse cx="357.68" cy="330.55" rx="1.03" ry="0.86" transform="rotate(179.51 357.68 330.55)" fill="#ff3a1e" opacity="1"/>
<path d="M347.42,344.36 Q348.27,350.63 351.24,356.23 Q350.39,349.95 347.42,344.36Z" fill="#901408" opacity="0.45"/>
<ellipse cx="349.33" cy="350.29" rx="2.25" ry="1.4" transform="rotate(64.05 349.33 350.29)" fill="#f02814" opacity="0.9"/>
<ellipse cx="349.33" cy="350.29" rx="0.98" ry="0.82" transform="rotate(64.05 349.33 350.29)" fill="#ff3a1e" opacity="1"/>
<path d="M330.75,356.47 Q337.06,358.34 343.61,357.78 Q337.31,355.91 330.75,356.47Z" fill="#901408" opacity="0.45"/>
<ellipse cx="337.18" cy="357.12" rx="1.94" ry="1.53" transform="rotate(11.09 337.18 357.12)" fill="#f02814" opacity="0.9"/>
<ellipse cx="337.18" cy="357.12" rx="1.04" ry="0.87" transform="rotate(11.09 337.18 357.12)" fill="#ff3a1e" opacity="1"/>
<path d="M344.12,353.53 Q348.66,358.69 354.54,362.24 Q350,357.08 344.12,353.53Z" fill="#901408" opacity="0.45"/>
<ellipse cx="349.33" cy="357.88" rx="2.08" ry="1.31" transform="rotate(31.96 349.33 357.88)" fill="#f02814" opacity="0.9"/>
<ellipse cx="349.33" cy="357.88" rx="1.19" ry="0.99" transform="rotate(31.96 349.33 357.88)" fill="#ff3a1e" opacity="1"/>
<path d="M336.67,359.24 Q331.98,361.62 328.59,365.64 Q333.28,363.26 336.67,359.24Z" fill="#901408" opacity="0.45"/>
<ellipse cx="332.63" cy="362.44" rx="2.38" ry="1.31" transform="rotate(132.28 332.63 362.44)" fill="#f02814" opacity="0.9"/>
<ellipse cx="332.63" cy="362.44" rx="1.15" ry="0.96" transform="rotate(132.28 332.63 362.44)" fill="#ff3a1e" opacity="1"/>
<path d="M339.98,357.13 Q341.38,364.37 345.01,370.78 Q343.61,363.54 339.98,357.13Z" fill="#901408" opacity="0.45"/>
<ellipse cx="342.5" cy="363.96" rx="2.37" ry="1.49" transform="rotate(73.88 342.5 363.96)" fill="#f02814" opacity="0.9"/>
<ellipse cx="342.5" cy="363.96" rx="1.01" ry="0.84" transform="rotate(73.88 342.5 363.96)" fill="#ff3a1e" opacity="1"/>
<path d="M344.47,356.63 Q345.19,364.52 348.11,371.89 Q347.39,364 344.47,356.63Z" fill="#901408" opacity="0.45"/>
<ellipse cx="346.29" cy="364.26" rx="1.88" ry="1.41" transform="rotate(79.95 346.29 364.26)" fill="#f02814" opacity="0.9"/>
<ellipse cx="346.29" cy="364.26" rx="0.96" ry="0.8" transform="rotate(79.95 346.29 364.26)" fill="#ff3a1e" opacity="1"/>
<path d="M346.17,362.83 Q351.52,364.42 357.04,363.56 Q351.69,361.97 346.17,362.83Z" fill="#901408" opacity="0.45"/>
<ellipse cx="351.61" cy="363.2" rx="1.9" ry="1.54" transform="rotate(8.06 351.61 363.2)" fill="#f02814" opacity="0.9"/>
<ellipse cx="351.61" cy="363.2" rx="0.98" ry="0.82" transform="rotate(8.06 351.61 363.2)" fill="#ff3a1e" opacity="1"/>
<path d="M364.1,353.19 Q359.73,353.02 355.81,354.98 Q360.19,355.15 364.1,353.19Z" fill="#901408" opacity="0.45"/>
<ellipse cx="359.96" cy="354.09" rx="2.05" ry="1.36" transform="rotate(176.71 359.96 354.09)" fill="#f02814" opacity="0.9"/>
<ellipse cx="359.96" cy="354.09" rx="1" ry="0.83" transform="rotate(176.71 359.96 354.09)" fill="#ff3a1e" opacity="1"/>
<path d="M370.24,340.42 Q366.61,345.26 364.86,351.06 Q368.48,346.21 370.24,340.42Z" fill="#901408" opacity="0.45"/>
<ellipse cx="367.55" cy="345.74" rx="1.89" ry="1.31" transform="rotate(121.83 367.55 345.74)" fill="#f02814" opacity="0.9"/>
<ellipse cx="367.55" cy="345.74" rx="1.2" ry="1" transform="rotate(121.83 367.55 345.74)" fill="#ff3a1e" opacity="1"/>
<path d="M362.75,355.67 Q366.9,359.68 372.34,361.61 Q368.19,357.6 362.75,355.67Z" fill="#901408" opacity="0.45"/>
<ellipse cx="367.55" cy="358.64" rx="2.12" ry="1.53" transform="rotate(22.01 367.55 358.64)" fill="#f02814" opacity="0.9"/>
<ellipse cx="367.55" cy="358.64" rx="1.07" ry="0.9" transform="rotate(22.01 367.55 358.64)" fill="#ff3a1e" opacity="1"/>
<path d="M369.17,331.57 Q372.97,335.93 378.07,338.65 Q374.27,334.29 369.17,331.57Z" fill="#901408" opacity="0.45"/>
<ellipse cx="373.62" cy="335.11" rx="2.05" ry="1.31" transform="rotate(43.54 373.62 335.11)" fill="#f02814" opacity="0.9"/>
<ellipse cx="373.62" cy="335.11" rx="1.17" ry="0.98" transform="rotate(43.54 373.62 335.11)" fill="#ff3a1e" opacity="1"/>
<path d="M380.74,333.71 Q376.05,335.78 372.58,339.55 Q377.27,337.48 380.74,333.71Z" fill="#901408" opacity="0.45"/>
<ellipse cx="376.66" cy="336.63" rx="2.1" ry="1.31" transform="rotate(149.59 376.66 336.63)" fill="#f02814" opacity="0.9"/>
<ellipse cx="376.66" cy="336.63" rx="1.01" ry="0.84" transform="rotate(149.59 376.66 336.63)" fill="#ff3a1e" opacity="1"/>
<path d="M382.32,332.64 Q384.18,336.56 387.7,339.1 Q385.83,335.18 382.32,332.64Z" fill="#901408" opacity="0.45"/>
<ellipse cx="385.01" cy="335.87" rx="2.32" ry="1.34" transform="rotate(41.66 385.01 335.87)" fill="#f02814" opacity="0.9"/>
<ellipse cx="385.01" cy="335.87" rx="1.1" ry="0.91" transform="rotate(41.66 385.01 335.87)" fill="#ff3a1e" opacity="1"/>
<path d="M380.98,342.42 Q374.47,340.69 367.78,341.47 Q374.29,343.19 380.98,342.42Z" fill="#901408" opacity="0.45"/>
<ellipse cx="374.38" cy="341.94" rx="2.04" ry="1.57" transform="rotate(178.3 374.38 341.94)" fill="#f02814" opacity="0.9"/>
<ellipse cx="374.38" cy="341.94" rx="1.14" ry="0.95" transform="rotate(178.3 374.38 341.94)" fill="#ff3a1e" opacity="1"/>
<path d="M391.23,336.78 Q389.24,344.09 389.41,351.66 Q391.4,344.35 391.23,336.78Z" fill="#901408" opacity="0.45"/>
<ellipse cx="390.32" cy="344.22" rx="1.86" ry="1.36" transform="rotate(88.97 390.32 344.22)" fill="#f02814" opacity="0.9"/>
<ellipse cx="390.32" cy="344.22" rx="1.18" ry="0.98" transform="rotate(88.97 390.32 344.22)" fill="#ff3a1e" opacity="1"/>
<path d="M380.15,346.53 Q381.6,353.05 385.31,358.61 Q383.86,352.09 380.15,346.53Z" fill="#901408" opacity="0.45"/>
<ellipse cx="382.73" cy="352.57" rx="2.19" ry="1.54" transform="rotate(60.59 382.73 352.57)" fill="#f02814" opacity="0.9"/>
<ellipse cx="382.73" cy="352.57" rx="1.09" ry="0.91" transform="rotate(60.59 382.73 352.57)" fill="#ff3a1e" opacity="1"/>
<path d="M402.54,345.67 Q397.03,351.15 393.29,357.95 Q398.79,352.47 402.54,345.67Z" fill="#901408" opacity="0.45"/>
<ellipse cx="397.91" cy="351.81" rx="2.21" ry="1.38" transform="rotate(117.85 397.91 351.81)" fill="#f02814" opacity="0.9"/>
<ellipse cx="397.91" cy="351.81" rx="0.98" ry="0.81" transform="rotate(117.85 397.91 351.81)" fill="#ff3a1e" opacity="1"/>
<path d="M400.57,361.88 Q396.45,360.48 392.22,361.48 Q396.34,362.88 400.57,361.88Z" fill="#901408" opacity="0.45"/>
<ellipse cx="396.39" cy="361.68" rx="2.38" ry="1.5" transform="rotate(174.8 396.39 361.68)" fill="#f02814" opacity="0.9"/>
<ellipse cx="396.39" cy="361.68" rx="0.99" ry="0.83" transform="rotate(174.8 396.39 361.68)" fill="#ff3a1e" opacity="1"/>
<path d="M411.68,348.53 Q406.97,347.72 402.36,349.01 Q407.08,349.83 411.68,348.53Z" fill="#901408" opacity="0.45"/>
<ellipse cx="407.02" cy="348.77" rx="2.2" ry="1.32" transform="rotate(174.34 407.02 348.77)" fill="#f02814" opacity="0.9"/>
<ellipse cx="407.02" cy="348.77" rx="1.1" ry="0.91" transform="rotate(174.34 407.02 348.77)" fill="#ff3a1e" opacity="1"/>
<path d="M414.77,340.28 Q410.92,341.83 408.38,345.13 Q412.24,343.57 414.77,340.28Z" fill="#901408" opacity="0.45"/>
<ellipse cx="411.58" cy="342.7" rx="2.36" ry="1.37" transform="rotate(134.37 411.58 342.7)" fill="#f02814" opacity="0.9"/>
<ellipse cx="411.58" cy="342.7" rx="0.96" ry="0.8" transform="rotate(134.37 411.58 342.7)" fill="#ff3a1e" opacity="1"/>
<path d="M419.23,337.86 Q412.02,338.47 405.44,341.47 Q412.65,340.86 419.23,337.86Z" fill="#901408" opacity="0.45"/>
<ellipse cx="412.34" cy="339.66" rx="1.87" ry="1.54" transform="rotate(157.76 412.34 339.66)" fill="#f02814" opacity="0.9"/>
<ellipse cx="412.34" cy="339.66" rx="1.09" ry="0.91" transform="rotate(157.76 412.34 339.66)" fill="#ff3a1e" opacity="1"/>
<path d="M422.81,365.71 Q417.36,365.83 412.49,368.28 Q417.94,368.16 422.81,365.71Z" fill="#901408" opacity="0.45"/>
<ellipse cx="417.65" cy="366.99" rx="1.92" ry="1.5" transform="rotate(158.17 417.65 366.99)" fill="#f02814" opacity="0.9"/>
<ellipse cx="417.65" cy="366.99" rx="1.15" ry="0.95" transform="rotate(158.17 417.65 366.99)" fill="#ff3a1e" opacity="1"/>
<path d="M415.9,371.21 Q415.09,375.4 416.37,379.47 Q417.18,375.28 415.9,371.21Z" fill="#901408" opacity="0.45"/>
<ellipse cx="416.13" cy="375.34" rx="2.12" ry="1.31" transform="rotate(84.87 416.13 375.34)" fill="#f02814" opacity="0.9"/>
<ellipse cx="416.13" cy="375.34" rx="1.08" ry="0.9" transform="rotate(84.87 416.13 375.34)" fill="#ff3a1e" opacity="1"/>
<path d="M378.77,368.25 Q373.27,369.01 368.47,371.8 Q373.97,371.04 378.77,368.25Z" fill="#901408" opacity="0.45"/>
<ellipse cx="373.62" cy="370.03" rx="2.16" ry="1.34" transform="rotate(155.65 373.62 370.03)" fill="#f02814" opacity="0.9"/>
<ellipse cx="373.62" cy="370.03" rx="1.09" ry="0.9" transform="rotate(155.65 373.62 370.03)" fill="#ff3a1e" opacity="1"/>
<path d="M378.39,374.07 Q382.67,375.52 387.07,374.49 Q382.79,373.04 378.39,374.07Z" fill="#901408" opacity="0.45"/>
<ellipse cx="382.73" cy="374.28" rx="2.3" ry="1.55" transform="rotate(1.9 382.73 374.28)" fill="#f02814" opacity="0.9"/>
<ellipse cx="382.73" cy="374.28" rx="1.05" ry="0.88" transform="rotate(1.9 382.73 374.28)" fill="#ff3a1e" opacity="1"/>
<path d="M401.6,375.5 Q395.86,377.42 391.19,381.26 Q396.92,379.34 401.6,375.5Z" fill="#901408" opacity="0.45"/>
<ellipse cx="396.39" cy="378.38" rx="1.99" ry="1.37" transform="rotate(141.73 396.39 378.38)" fill="#f02814" opacity="0.9"/>
<ellipse cx="396.39" cy="378.38" rx="0.98" ry="0.82" transform="rotate(141.73 396.39 378.38)" fill="#ff3a1e" opacity="1"/>
<path d="M398.27,376.84 Q403.57,380.02 409.7,380.83 Q404.4,377.65 398.27,376.84Z" fill="#901408" opacity="0.45"/>
<ellipse cx="403.99" cy="378.84" rx="2.17" ry="1.57" transform="rotate(20.6 403.99 378.84)" fill="#f02814" opacity="0.9"/>
<ellipse cx="403.99" cy="378.84" rx="1.17" ry="0.97" transform="rotate(20.6 403.99 378.84)" fill="#ff3a1e" opacity="1"/>
<path d="M415.01,379.6 Q410.7,382.04 408.15,386.27 Q412.45,383.83 415.01,379.6Z" fill="#901408" opacity="0.45"/>
<ellipse cx="411.58" cy="382.93" rx="1.84" ry="1.56" transform="rotate(139.79 411.58 382.93)" fill="#f02814" opacity="0.9"/>
<ellipse cx="411.58" cy="382.93" rx="1.16" ry="0.97" transform="rotate(139.79 411.58 382.93)" fill="#ff3a1e" opacity="1"/>
<path d="M326.22,367.56 Q327.82,374.96 331.45,381.61 Q329.84,374.21 326.22,367.56Z" fill="#901408" opacity="0.45"/>
<ellipse cx="328.83" cy="374.58" rx="2.28" ry="1.35" transform="rotate(76.04 328.83 374.58)" fill="#f02814" opacity="0.9"/>
<ellipse cx="328.83" cy="374.58" rx="1" ry="0.83" transform="rotate(76.04 328.83 374.58)" fill="#ff3a1e" opacity="1"/>
<path d="M334.57,371.53 Q332.98,379.07 333.72,386.74 Q335.31,379.2 334.57,371.53Z" fill="#901408" opacity="0.45"/>
<ellipse cx="334.15" cy="379.14" rx="2" ry="1.46" transform="rotate(88.97 334.15 379.14)" fill="#f02814" opacity="0.9"/>
<ellipse cx="334.15" cy="379.14" rx="0.96" ry="0.8" transform="rotate(88.97 334.15 379.14)" fill="#ff3a1e" opacity="1"/>
<path d="M339.4,378.02 Q342.3,384.34 347.11,389.37 Q344.21,383.04 339.4,378.02Z" fill="#901408" opacity="0.45"/>
<ellipse cx="343.26" cy="383.69" rx="2.13" ry="1.45" transform="rotate(56.13 343.26 383.69)" fill="#f02814" opacity="0.9"/>
<ellipse cx="343.26" cy="383.69" rx="0.98" ry="0.82" transform="rotate(56.13 343.26 383.69)" fill="#ff3a1e" opacity="1"/>
<path d="M342.13,377.22 Q345.38,383.6 350.46,388.64 Q347.2,382.27 342.13,377.22Z" fill="#901408" opacity="0.45"/>
<ellipse cx="346.29" cy="382.93" rx="2.31" ry="1.41" transform="rotate(44.18 346.29 382.93)" fill="#f02814" opacity="0.9"/>
<ellipse cx="346.29" cy="382.93" rx="1.11" ry="0.93" transform="rotate(44.18 346.29 382.93)" fill="#ff3a1e" opacity="1"/>
<path d="M335.07,380.94 Q330.16,386.91 327.15,394.04 Q332.06,388.07 335.07,380.94Z" fill="#901408" opacity="0.45"/>
<ellipse cx="331.11" cy="387.49" rx="2.17" ry="1.39" transform="rotate(121.81 331.11 387.49)" fill="#f02814" opacity="0.9"/>
<ellipse cx="331.11" cy="387.49" rx="1.18" ry="0.98" transform="rotate(121.81 331.11 387.49)" fill="#ff3a1e" opacity="1"/>
<path d="M356.15,381.52 Q358.96,387.45 363.76,391.94 Q360.95,386.01 356.15,381.52Z" fill="#901408" opacity="0.45"/>
<ellipse cx="359.96" cy="386.73" rx="2.32" ry="1.54" transform="rotate(55.02 359.96 386.73)" fill="#f02814" opacity="0.9"/>
<ellipse cx="359.96" cy="386.73" rx="0.99" ry="0.83" transform="rotate(55.02 359.96 386.73)" fill="#ff3a1e" opacity="1"/>
<path d="M378.08,379.48 Q374.23,382.16 372.2,386.38 Q376.05,383.71 378.08,379.48Z" fill="#901408" opacity="0.45"/>
<ellipse cx="375.14" cy="382.93" rx="2.02" ry="1.5" transform="rotate(138.79 375.14 382.93)" fill="#f02814" opacity="0.9"/>
<ellipse cx="375.14" cy="382.93" rx="0.99" ry="0.83" transform="rotate(138.79 375.14 382.93)" fill="#ff3a1e" opacity="1"/>
<path d="M378.23,386.79 Q372.94,388.71 369.01,392.74 Q374.3,390.82 378.23,386.79Z" fill="#901408" opacity="0.45"/>
<ellipse cx="373.62" cy="389.77" rx="1.91" ry="1.57" transform="rotate(145.62 373.62 389.77)" fill="#f02814" opacity="0.9"/>
<ellipse cx="373.62" cy="389.77" rx="1.04" ry="0.87" transform="rotate(145.62 373.62 389.77)" fill="#ff3a1e" opacity="1"/>
<path d="M409.07,383.82 Q405.93,390.98 404.97,398.75 Q408.12,391.59 409.07,383.82Z" fill="#901408" opacity="0.45"/>
<ellipse cx="407.02" cy="391.28" rx="1.86" ry="1.42" transform="rotate(111.75 407.02 391.28)" fill="#f02814" opacity="0.9"/>
<ellipse cx="407.02" cy="391.28" rx="1.12" ry="0.93" transform="rotate(111.75 407.02 391.28)" fill="#ff3a1e" opacity="1"/>
<path d="M410.03,386.75 Q410.61,390.92 413.12,394.3 Q412.54,390.13 410.03,386.75Z" fill="#901408" opacity="0.45"/>
<ellipse cx="411.58" cy="390.53" rx="1.98" ry="1.31" transform="rotate(58.8 411.58 390.53)" fill="#f02814" opacity="0.9"/>
<ellipse cx="411.58" cy="390.53" rx="1.16" ry="0.97" transform="rotate(58.8 411.58 390.53)" fill="#ff3a1e" opacity="1"/>
<path d="M364.55,361.36 Q360,362.91 356.88,366.56 Q361.43,365.01 364.55,361.36Z" fill="#901408" opacity="0.45"/>
<ellipse cx="360.72" cy="363.96" rx="2.28" ry="1.59" transform="rotate(144.2 360.72 363.96)" fill="#f02814" opacity="0.9"/>
<ellipse cx="360.72" cy="363.96" rx="1.08" ry="0.9" transform="rotate(144.2 360.72 363.96)" fill="#ff3a1e" opacity="1"/>
</g></g>
<clipPath id="c5"><rect x="425.4" y="327.1" width="101.3" height="71.8"/></clipPath>
<g clip-path="url(#c5)">
<rect x="425.4" y="327.1" width="101.3" height="71.8" fill="#040101"/>
<g filter="url(#cb)">
<path d="M433.59,341.09 Q428.98,347.46 426.56,354.94 Q431.17,348.57 433.59,341.09Z" fill="#901408" opacity="0.45"/>
<ellipse cx="430.07" cy="348.01" rx="2.25" ry="1.54" transform="rotate(112.12 430.07 348.01)" fill="#f02814" opacity="0.9"/>
<ellipse cx="430.07" cy="348.01" rx="1.18" ry="0.98" transform="rotate(112.12 430.07 348.01)" fill="#ff3a1e" opacity="1"/>
<path d="M432,332.84 Q438.13,335.58 444.84,335.86 Q438.71,333.12 432,332.84Z" fill="#901408" opacity="0.45"/>
<ellipse cx="438.42" cy="334.35" rx="2.08" ry="1.58" transform="rotate(5.22 438.42 334.35)" fill="#f02814" opacity="0.9"/>
<ellipse cx="438.42" cy="334.35" rx="0.99" ry="0.82" transform="rotate(5.22 438.42 334.35)" fill="#ff3a1e" opacity="1"/>
<path d="M441.32,326.76 Q441.85,333.14 444.64,338.9 Q444.11,332.52 441.32,326.76Z" fill="#901408" opacity="0.45"/>
<ellipse cx="442.98" cy="332.83" rx="1.95" ry="1.46" transform="rotate(84.43 442.98 332.83)" fill="#f02814" opacity="0.9"/>
<ellipse cx="442.98" cy="332.83" rx="1.01" ry="0.84" transform="rotate(84.43 442.98 332.83)" fill="#ff3a1e" opacity="1"/>
<path d="M447.99,325.18 Q449.55,329.72 453.15,332.89 Q451.59,328.36 447.99,325.18Z" fill="#901408" opacity="0.45"/>
<ellipse cx="450.57" cy="329.04" rx="2.35" ry="1.53" transform="rotate(50.31 450.57 329.04)" fill="#f02814" opacity="0.9"/>
<ellipse cx="450.57" cy="329.04" rx="0.99" ry="0.83" transform="rotate(50.31 450.57 329.04)" fill="#ff3a1e" opacity="1"/>
<path d="M453.31,332.44 Q450.33,339.39 449.35,346.88 Q452.33,339.94 453.31,332.44Z" fill="#901408" opacity="0.45"/>
<ellipse cx="451.33" cy="339.66" rx="1.88" ry="1.3" transform="rotate(111.14 451.33 339.66)" fill="#f02814" opacity="0.9"/>
<ellipse cx="451.33" cy="339.66" rx="1.01" ry="0.84" transform="rotate(111.14 451.33 339.66)" fill="#ff3a1e" opacity="1"/>
<path d="M464.94,334.02 Q457.05,333.24 449.26,334.68 Q457.14,335.46 464.94,334.02Z" fill="#901408" opacity="0.45"/>
<ellipse cx="457.1" cy="334.35" rx="2.32" ry="1.39" transform="rotate(176.84 457.1 334.35)" fill="#f02814" opacity="0.9"/>
<ellipse cx="457.1" cy="334.35" rx="1.12" ry="0.94" transform="rotate(176.84 457.1 334.35)" fill="#ff3a1e" opacity="1"/>
<path d="M454.55,343.24 Q459.29,349.63 465.72,354.31 Q460.98,347.92 454.55,343.24Z" fill="#901408" opacity="0.45"/>
<ellipse cx="460.13" cy="348.77" rx="2.36" ry="1.51" transform="rotate(36.86 460.13 348.77)" fill="#f02814" opacity="0.9"/>
<ellipse cx="460.13" cy="348.77" rx="1.03" ry="0.86" transform="rotate(36.86 460.13 348.77)" fill="#ff3a1e" opacity="1"/>
<path d="M468.24,332.9 Q469.37,337.15 472.37,340.36 Q471.25,336.11 468.24,332.9Z" fill="#901408" opacity="0.45"/>
<ellipse cx="470.31" cy="336.63" rx="1.9" ry="1.34" transform="rotate(65.01 470.31 336.63)" fill="#f02814" opacity="0.9"/>
<ellipse cx="470.31" cy="336.63" rx="1.1" ry="0.92" transform="rotate(65.01 470.31 336.63)" fill="#ff3a1e" opacity="1"/>
<path d="M465.11,340.55 Q470.17,342.3 475.51,341.82 Q470.44,340.07 465.11,340.55Z" fill="#901408" opacity="0.45"/>
<ellipse cx="470.31" cy="341.18" rx="2.21" ry="1.4" transform="rotate(0.61 470.31 341.18)" fill="#f02814" opacity="0.9"/>
<ellipse cx="470.31" cy="341.18" rx="1.08" ry="0.9" transform="rotate(0.61 470.31 341.18)" fill="#ff3a1e" opacity="1"/>
<path d="M473.92,330.48 Q474.51,334.84 477.32,338.22 Q476.73,333.87 473.92,330.48Z" fill="#901408" opacity="0.45"/>
<ellipse cx="475.62" cy="334.35" rx="2.09" ry="1.51" transform="rotate(56.84 475.62 334.35)" fill="#f02814" opacity="0.9"/>
<ellipse cx="475.62" cy="334.35" rx="0.97" ry="0.8" transform="rotate(56.84 475.62 334.35)" fill="#ff3a1e" opacity="1"/>
<path d="M484.99,329.82 Q479.4,334.41 475.36,340.4 Q480.95,335.81 484.99,329.82Z" fill="#901408" opacity="0.45"/>
<ellipse cx="480.18" cy="335.11" rx="2.31" ry="1.31" transform="rotate(134.96 480.18 335.11)" fill="#f02814" opacity="0.9"/>
<ellipse cx="480.18" cy="335.11" rx="1.1" ry="0.92" transform="rotate(134.96 480.18 335.11)" fill="#ff3a1e" opacity="1"/>
<path d="M473.14,331.16 Q481.02,331.63 488.73,329.95 Q480.85,329.47 473.14,331.16Z" fill="#901408" opacity="0.45"/>
<ellipse cx="480.93" cy="330.55" rx="1.83" ry="1.35" transform="rotate(1.63 480.93 330.55)" fill="#f02814" opacity="0.9"/>
<ellipse cx="480.93" cy="330.55" rx="1.14" ry="0.95" transform="rotate(1.63 480.93 330.55)" fill="#ff3a1e" opacity="1"/>
<path d="M494.58,335.79 Q489.05,335.83 483.99,338.07 Q489.52,338.03 494.58,335.79Z" fill="#901408" opacity="0.45"/>
<ellipse cx="489.28" cy="336.93" rx="2.37" ry="1.4" transform="rotate(167.34 489.28 336.93)" fill="#f02814" opacity="0.9"/>
<ellipse cx="489.28" cy="336.93" rx="1.15" ry="0.96" transform="rotate(167.34 489.28 336.93)" fill="#ff3a1e" opacity="1"/>
<path d="M479.23,349.74 Q486.33,352.26 493.87,352.37 Q486.77,349.84 479.23,349.74Z" fill="#901408" opacity="0.45"/>
<ellipse cx="486.55" cy="351.05" rx="2.25" ry="1.54" transform="rotate(19.45 486.55 351.05)" fill="#f02814" opacity="0.9"/>
<ellipse cx="486.55" cy="351.05" rx="1.19" ry="0.99" transform="rotate(19.45 486.55 351.05)" fill="#ff3a1e" opacity="1"/>
<path d="M462.08,355.37 Q469.28,358.28 477.02,358.88 Q469.82,355.97 462.08,355.37Z" fill="#901408" opacity="0.45"/>
<ellipse cx="469.55" cy="357.12" rx="2" ry="1.48" transform="rotate(16.41 469.55 357.12)" fill="#f02814" opacity="0.9"/>
<ellipse cx="469.55" cy="357.12" rx="1.18" ry="0.98" transform="rotate(16.41 469.55 357.12)" fill="#ff3a1e" opacity="1"/>
<path d="M475.59,350.14 Q474.5,354.85 475.65,359.56 Q476.74,354.84 475.59,350.14Z" fill="#901408" opacity="0.45"/>
<ellipse cx="475.62" cy="354.85" rx="1.99" ry="1.4" transform="rotate(98.13 475.62 354.85)" fill="#f02814" opacity="0.9"/>
<ellipse cx="475.62" cy="354.85" rx="1" ry="0.83" transform="rotate(98.13 475.62 354.85)" fill="#ff3a1e" opacity="1"/>
<path d="M465.62,360.17 Q461.94,362.45 459.81,366.23 Q463.49,363.94 465.62,360.17Z" fill="#901408" opacity="0.45"/>
<ellipse cx="462.72" cy="363.2" rx="2.4" ry="1.35" transform="rotate(124.05 462.72 363.2)" fill="#f02814" opacity="0.9"/>
<ellipse cx="462.72" cy="363.2" rx="1.09" ry="0.91" transform="rotate(124.05 462.72 363.2)" fill="#ff3a1e" opacity="1"/>
<path d="M464.27,355.48 Q465.39,362.8 468.75,369.39 Q467.64,362.08 464.27,355.48Z" fill="#901408" opacity="0.45"/>
<ellipse cx="466.51" cy="362.44" rx="1.94" ry="1.48" transform="rotate(73.06 466.51 362.44)" fill="#f02814" opacity="0.9"/>
<ellipse cx="466.51" cy="362.44" rx="1.06" ry="0.88" transform="rotate(73.06 466.51 362.44)" fill="#ff3a1e" opacity="1"/>
<path d="M443.33,364.96 Q448.75,367.69 454.77,368.42 Q449.35,365.69 443.33,364.96Z" fill="#901408" opacity="0.45"/>
<ellipse cx="449.05" cy="366.69" rx="2.35" ry="1.31" transform="rotate(10.03 449.05 366.69)" fill="#f02814" opacity="0.9"/>
<ellipse cx="449.05" cy="366.69" rx="0.99" ry="0.83" transform="rotate(10.03 449.05 366.69)" fill="#ff3a1e" opacity="1"/>
<path d="M488.71,355.74 Q483.74,361.02 480.75,367.62 Q485.72,362.34 488.71,355.74Z" fill="#901408" opacity="0.45"/>
<ellipse cx="484.73" cy="361.68" rx="2.37" ry="1.49" transform="rotate(131.7 484.73 361.68)" fill="#f02814" opacity="0.9"/>
<ellipse cx="484.73" cy="361.68" rx="1.06" ry="0.89" transform="rotate(131.7 484.73 361.68)" fill="#ff3a1e" opacity="1"/>
<path d="M481.6,361.99 Q485.58,366.36 490.9,368.96 Q486.91,364.59 481.6,361.99Z" fill="#901408" opacity="0.45"/>
<ellipse cx="486.25" cy="365.47" rx="2.31" ry="1.39" transform="rotate(26.86 486.25 365.47)" fill="#f02814" opacity="0.9"/>
<ellipse cx="486.25" cy="365.47" rx="1.16" ry="0.97" transform="rotate(26.86 486.25 365.47)" fill="#ff3a1e" opacity="1"/>
<path d="M496.18,365.21 Q489.19,364.62 482.39,366.35 Q489.38,366.93 496.18,365.21Z" fill="#901408" opacity="0.45"/>
<ellipse cx="489.28" cy="365.78" rx="2.07" ry="1.45" transform="rotate(175.68 489.28 365.78)" fill="#f02814" opacity="0.9"/>
<ellipse cx="489.28" cy="365.78" rx="1.03" ry="0.86" transform="rotate(175.68 489.28 365.78)" fill="#ff3a1e" opacity="1"/>
<path d="M502.58,337.1 Q502.59,345.14 504.83,352.85 Q504.83,344.82 502.58,337.1Z" fill="#901408" opacity="0.45"/>
<ellipse cx="503.71" cy="344.98" rx="1.89" ry="1.41" transform="rotate(72.68 503.71 344.98)" fill="#f02814" opacity="0.9"/>
<ellipse cx="503.71" cy="344.98" rx="1.11" ry="0.93" transform="rotate(72.68 503.71 344.98)" fill="#ff3a1e" opacity="1"/>
<path d="M509.51,340.67 Q507.97,345.64 508.53,350.8 Q510.08,345.84 509.51,340.67Z" fill="#901408" opacity="0.45"/>
<ellipse cx="509.02" cy="345.74" rx="2" ry="1.33" transform="rotate(89.88 509.02 345.74)" fill="#f02814" opacity="0.9"/>
<ellipse cx="509.02" cy="345.74" rx="1.17" ry="0.97" transform="rotate(89.88 509.02 345.74)" fill="#ff3a1e" opacity="1"/>
<path d="M516.39,345.21 Q517.75,351.96 521.39,357.81 Q520.03,351.05 516.39,345.21Z" fill="#901408" opacity="0.45"/>
<ellipse cx="518.89" cy="351.51" rx="2.27" ry="1.53" transform="rotate(65.04 518.89 351.51)" fill="#f02814" opacity="0.9"/>
<ellipse cx="518.89" cy="351.51" rx="1.14" ry="0.95" transform="rotate(65.04 518.89 351.51)" fill="#ff3a1e" opacity="1"/>
<path d="M513.14,349.23 Q514.05,355.21 517.05,360.46 Q516.14,354.48 513.14,349.23Z" fill="#901408" opacity="0.45"/>
<ellipse cx="515.09" cy="354.85" rx="2.22" ry="1.38" transform="rotate(65.42 515.09 354.85)" fill="#f02814" opacity="0.9"/>
<ellipse cx="515.09" cy="354.85" rx="1.13" ry="0.94" transform="rotate(65.42 515.09 354.85)" fill="#ff3a1e" opacity="1"/>
<path d="M515.79,350.52 Q519.59,355.72 525.02,359.17 Q521.23,353.97 515.79,350.52Z" fill="#901408" opacity="0.45"/>
<ellipse cx="520.41" cy="354.85" rx="2.37" ry="1.49" transform="rotate(52.89 520.41 354.85)" fill="#f02814" opacity="0.9"/>
<ellipse cx="520.41" cy="354.85" rx="1.09" ry="0.91" transform="rotate(52.89 520.41 354.85)" fill="#ff3a1e" opacity="1"/>
<path d="M505.68,354.75 Q509.68,360.93 515.4,365.57 Q511.4,359.39 505.68,354.75Z" fill="#901408" opacity="0.45"/>
<ellipse cx="510.54" cy="360.16" rx="2.2" ry="1.44" transform="rotate(45.12 510.54 360.16)" fill="#f02814" opacity="0.9"/>
<ellipse cx="510.54" cy="360.16" rx="1.15" ry="0.96" transform="rotate(45.12 510.54 360.16)" fill="#ff3a1e" opacity="1"/>
<path d="M513.67,354.61 Q516.32,361.54 521.07,367.23 Q518.42,360.3 513.67,354.61Z" fill="#901408" opacity="0.45"/>
<ellipse cx="517.37" cy="360.92" rx="2.19" ry="1.52" transform="rotate(62.62 517.37 360.92)" fill="#f02814" opacity="0.9"/>
<ellipse cx="517.37" cy="360.92" rx="1.16" ry="0.97" transform="rotate(62.62 517.37 360.92)" fill="#ff3a1e" opacity="1"/>
<path d="M508.63,363.93 Q500.93,365.82 494.23,370.06 Q501.93,368.17 508.63,363.93Z" fill="#901408" opacity="0.45"/>
<ellipse cx="501.43" cy="366.99" rx="2.21" ry="1.59" transform="rotate(156.58 501.43 366.99)" fill="#f02814" opacity="0.9"/>
<ellipse cx="501.43" cy="366.99" rx="1.09" ry="0.91" transform="rotate(156.58 501.43 366.99)" fill="#ff3a1e" opacity="1"/>
<path d="M497.73,365.99 Q501.94,370.32 507.56,372.55 Q503.35,368.22 497.73,365.99Z" fill="#901408" opacity="0.45"/>
<ellipse cx="502.65" cy="369.27" rx="2.3" ry="1.58" transform="rotate(29.91 502.65 369.27)" fill="#f02814" opacity="0.9"/>
<ellipse cx="502.65" cy="369.27" rx="1.13" ry="0.94" transform="rotate(29.91 502.65 369.27)" fill="#ff3a1e" opacity="1"/>
<path d="M431.49,366.3 Q426.17,369.92 422.58,375.28 Q427.91,371.65 431.49,366.3Z" fill="#901408" opacity="0.45"/>
<ellipse cx="427.04" cy="370.79" rx="1.9" ry="1.53" transform="rotate(131.46 427.04 370.79)" fill="#f02814" opacity="0.9"/>
<ellipse cx="427.04" cy="370.79" rx="1.06" ry="0.88" transform="rotate(131.46 427.04 370.79)" fill="#ff3a1e" opacity="1"/>
<path d="M438.43,370.15 Q435.74,376.6 435.38,383.57 Q438.07,377.13 438.43,370.15Z" fill="#901408" opacity="0.45"/>
<ellipse cx="436.91" cy="376.86" rx="2.26" ry="1.49" transform="rotate(112.27 436.91 376.86)" fill="#f02814" opacity="0.9"/>
<ellipse cx="436.91" cy="376.86" rx="1" ry="0.83" transform="rotate(112.27 436.91 376.86)" fill="#ff3a1e" opacity="1"/>
<path d="M451.15,371.7 Q451.01,378.53 453.03,385.06 Q453.17,378.23 451.15,371.7Z" fill="#901408" opacity="0.45"/>
<ellipse cx="452.09" cy="378.38" rx="2.19" ry="1.37" transform="rotate(79.39 452.09 378.38)" fill="#f02814" opacity="0.9"/>
<ellipse cx="452.09" cy="378.38" rx="0.97" ry="0.81" transform="rotate(79.39 452.09 378.38)" fill="#ff3a1e" opacity="1"/>
<path d="M455.19,373.14 Q454.84,377.78 456.57,382.1 Q456.92,377.46 455.19,373.14Z" fill="#901408" opacity="0.45"/>
<ellipse cx="455.88" cy="377.62" rx="1.94" ry="1.32" transform="rotate(84.89 455.88 377.62)" fill="#f02814" opacity="0.9"/>
<ellipse cx="455.88" cy="377.62" rx="1" ry="0.84" transform="rotate(84.89 455.88 377.62)" fill="#ff3a1e" opacity="1"/>
<path d="M446.92,380.06 Q450.63,384.31 455.74,386.72 Q452.02,382.47 446.92,380.06Z" fill="#901408" opacity="0.45"/>
<ellipse cx="451.33" cy="383.39" rx="1.82" ry="1.44" transform="rotate(34.8 451.33 383.39)" fill="#f02814" opacity="0.9"/>
<ellipse cx="451.33" cy="383.39" rx="1.1" ry="0.92" transform="rotate(34.8 451.33 383.39)" fill="#ff3a1e" opacity="1"/>
<path d="M459.07,376.41 Q462.83,380.71 467.88,383.39 Q464.12,379.08 459.07,376.41Z" fill="#901408" opacity="0.45"/>
<ellipse cx="463.47" cy="379.9" rx="2.34" ry="1.3" transform="rotate(42.81 463.47 379.9)" fill="#f02814" opacity="0.9"/>
<ellipse cx="463.47" cy="379.9" rx="1.06" ry="0.88" transform="rotate(42.81 463.47 379.9)" fill="#ff3a1e" opacity="1"/>
<path d="M470.29,379.04 Q473.66,381.7 477.92,382.28 Q474.54,379.62 470.29,379.04Z" fill="#901408" opacity="0.45"/>
<ellipse cx="474.1" cy="380.66" rx="2.3" ry="1.41" transform="rotate(20.71 474.1 380.66)" fill="#f02814" opacity="0.9"/>
<ellipse cx="474.1" cy="380.66" rx="0.98" ry="0.82" transform="rotate(20.71 474.1 380.66)" fill="#ff3a1e" opacity="1"/>
<path d="M481.38,378.39 Q478.27,385.68 477.45,393.55 Q480.56,386.27 481.38,378.39Z" fill="#901408" opacity="0.45"/>
<ellipse cx="479.42" cy="385.97" rx="2" ry="1.47" transform="rotate(98.14 479.42 385.97)" fill="#f02814" opacity="0.9"/>
<ellipse cx="479.42" cy="385.97" rx="1.06" ry="0.88" transform="rotate(98.14 479.42 385.97)" fill="#ff3a1e" opacity="1"/>
<path d="M487.1,384.33 Q482.62,385.77 479.33,389.13 Q483.81,387.69 487.1,384.33Z" fill="#901408" opacity="0.45"/>
<ellipse cx="483.21" cy="386.73" rx="2.19" ry="1.41" transform="rotate(146.34 483.21 386.73)" fill="#f02814" opacity="0.9"/>
<ellipse cx="483.21" cy="386.73" rx="1.1" ry="0.91" transform="rotate(146.34 483.21 386.73)" fill="#ff3a1e" opacity="1"/>
<path d="M488.62,391.3 Q483.22,390.1 477.81,391.27 Q483.21,392.47 488.62,391.3Z" fill="#901408" opacity="0.45"/>
<ellipse cx="483.21" cy="391.28" rx="2.38" ry="1.48" transform="rotate(172.3 483.21 391.28)" fill="#f02814" opacity="0.9"/>
<ellipse cx="483.21" cy="391.28" rx="0.96" ry="0.8" transform="rotate(172.3 483.21 391.28)" fill="#ff3a1e" opacity="1"/>
<path d="M486.27,383.2 Q490.05,386.01 494.73,386.62 Q490.94,383.81 486.27,383.2Z" fill="#901408" opacity="0.45"/>
<ellipse cx="490.5" cy="384.91" rx="2.14" ry="1.48" transform="rotate(19.43 490.5 384.91)" fill="#f02814" opacity="0.9"/>
<ellipse cx="490.5" cy="384.91" rx="1.17" ry="0.98" transform="rotate(19.43 490.5 384.91)" fill="#ff3a1e" opacity="1"/>
<path d="M459.28,387.77 Q459.37,393.05 461.59,397.84 Q461.5,392.56 459.28,387.77Z" fill="#901408" opacity="0.45"/>
<ellipse cx="460.44" cy="392.8" rx="2.06" ry="1.37" transform="rotate(67.65 460.44 392.8)" fill="#f02814" opacity="0.9"/>
<ellipse cx="460.44" cy="392.8" rx="1.05" ry="0.88" transform="rotate(67.65 460.44 392.8)" fill="#ff3a1e" opacity="1"/>
<path d="M460.92,397.28 Q455.94,395.87 450.85,396.82 Q455.83,398.24 460.92,397.28Z" fill="#901408" opacity="0.45"/>
<ellipse cx="455.88" cy="397.05" rx="2.35" ry="1.48" transform="rotate(173.01 455.88 397.05)" fill="#f02814" opacity="0.9"/>
<ellipse cx="455.88" cy="397.05" rx="1.08" ry="0.9" transform="rotate(173.01 455.88 397.05)" fill="#ff3a1e" opacity="1"/>
<path d="M459.97,391.73 Q460.75,397.78 463.95,402.98 Q463.16,396.93 459.97,391.73Z" fill="#901408" opacity="0.45"/>
<ellipse cx="461.96" cy="397.36" rx="1.99" ry="1.6" transform="rotate(74.79 461.96 397.36)" fill="#f02814" opacity="0.9"/>
<ellipse cx="461.96" cy="397.36" rx="1.07" ry="0.9" transform="rotate(74.79 461.96 397.36)" fill="#ff3a1e" opacity="1"/>
<path d="M502.92,395.72 Q506.97,399.13 512.09,400.51 Q508.03,397.1 502.92,395.72Z" fill="#901408" opacity="0.45"/>
<ellipse cx="507.5" cy="398.12" rx="2.17" ry="1.43" transform="rotate(21.94 507.5 398.12)" fill="#f02814" opacity="0.9"/>
<ellipse cx="507.5" cy="398.12" rx="1.16" ry="0.97" transform="rotate(21.94 507.5 398.12)" fill="#ff3a1e" opacity="1"/>
</g></g>
<clipPath id="c6"><rect x="15.1" y="400.8" width="101.3" height="72.4"/></clipPath>
<g clip-path="url(#c6)">
<rect x="15.1" y="400.8" width="101.3" height="72.4" fill="#060101"/>
<g filter="url(#cb)">
<path d="M32.87,407.54 Q26.85,411.93 22.94,418.27 Q28.96,413.88 32.87,407.54Z" fill="#b01a0c" opacity="0.45"/>
<ellipse cx="27.91" cy="412.91" rx="2.78" ry="1.59" transform="rotate(142.8 27.91 412.91)" fill="#d42212" opacity="0.9"/>
<ellipse cx="27.91" cy="412.91" rx="1.2" ry="1" transform="rotate(142.8 27.91 412.91)" fill="#ff3a1e" opacity="1"/>
<path d="M28.49,407 Q28.81,416.94 31.88,426.4 Q31.56,416.46 28.49,407Z" fill="#b01a0c" opacity="0.45"/>
<ellipse cx="30.18" cy="416.7" rx="2.73" ry="1.55" transform="rotate(84.65 30.18 416.7)" fill="#d42212" opacity="0.9"/>
<ellipse cx="30.18" cy="416.7" rx="1.25" ry="1.04" transform="rotate(84.65 30.18 416.7)" fill="#ff3a1e" opacity="1"/>
<path d="M47.76,401.42 Q41.14,408.27 36.9,416.8 Q43.52,409.95 47.76,401.42Z" fill="#b01a0c" opacity="0.45"/>
<ellipse cx="42.33" cy="409.11" rx="2.49" ry="1.62" transform="rotate(131.37 42.33 409.11)" fill="#d42212" opacity="0.9"/>
<ellipse cx="42.33" cy="409.11" rx="1.16" ry="0.97" transform="rotate(131.37 42.33 409.11)" fill="#ff3a1e" opacity="1"/>
<path d="M62.03,406.93 Q52.98,410.02 45.41,415.84 Q54.45,412.75 62.03,406.93Z" fill="#b01a0c" opacity="0.45"/>
<ellipse cx="53.72" cy="411.39" rx="2.39" ry="1.72" transform="rotate(144.92 53.72 411.39)" fill="#d42212" opacity="0.9"/>
<ellipse cx="53.72" cy="411.39" rx="1.08" ry="0.9" transform="rotate(144.92 53.72 411.39)" fill="#ff3a1e" opacity="1"/>
<path d="M30.4,421.54 Q38.3,424.31 46.67,424.01 Q38.77,421.24 30.4,421.54Z" fill="#b01a0c" opacity="0.45"/>
<ellipse cx="38.53" cy="422.77" rx="2.76" ry="1.72" transform="rotate(16.76 38.53 422.77)" fill="#d42212" opacity="0.9"/>
<ellipse cx="38.53" cy="422.77" rx="1.03" ry="0.86" transform="rotate(16.76 38.53 422.77)" fill="#ff3a1e" opacity="1"/>
<path d="M45.9,413.52 Q41.57,421.51 40.28,430.51 Q44.61,422.52 45.9,413.52Z" fill="#b01a0c" opacity="0.45"/>
<ellipse cx="43.09" cy="422.01" rx="2.4" ry="1.78" transform="rotate(114.29 43.09 422.01)" fill="#d42212" opacity="0.9"/>
<ellipse cx="43.09" cy="422.01" rx="1.2" ry="1" transform="rotate(114.29 43.09 422.01)" fill="#ff3a1e" opacity="1"/>
<path d="M51.99,415.6 Q53.76,424.13 58.48,431.47 Q56.7,422.93 51.99,415.6Z" fill="#b01a0c" opacity="0.45"/>
<ellipse cx="55.23" cy="423.53" rx="2.85" ry="1.76" transform="rotate(64.87 55.23 423.53)" fill="#d42212" opacity="0.9"/>
<ellipse cx="55.23" cy="423.53" rx="1.21" ry="1.01" transform="rotate(64.87 55.23 423.53)" fill="#ff3a1e" opacity="1"/>
<path d="M56.47,426.88 Q49.23,430.06 43.37,435.37 Q50.61,432.19 56.47,426.88Z" fill="#b01a0c" opacity="0.45"/>
<ellipse cx="49.92" cy="431.12" rx="2.88" ry="1.41" transform="rotate(144.99 49.92 431.12)" fill="#d42212" opacity="0.9"/>
<ellipse cx="49.92" cy="431.12" rx="1.07" ry="0.89" transform="rotate(144.99 49.92 431.12)" fill="#ff3a1e" opacity="1"/>
<path d="M48.14,427.14 Q45.32,435.45 45.63,444.21 Q48.44,435.91 48.14,427.14Z" fill="#b01a0c" opacity="0.45"/>
<ellipse cx="46.88" cy="435.68" rx="2.26" ry="1.75" transform="rotate(106.05 46.88 435.68)" fill="#d42212" opacity="0.9"/>
<ellipse cx="46.88" cy="435.68" rx="1.2" ry="1" transform="rotate(106.05 46.88 435.68)" fill="#ff3a1e" opacity="1"/>
<path d="M23.64,435.08 Q26.8,441.15 32.17,445.39 Q29.01,439.32 23.64,435.08Z" fill="#b01a0c" opacity="0.45"/>
<ellipse cx="27.91" cy="440.23" rx="2.34" ry="1.59" transform="rotate(56.21 27.91 440.23)" fill="#d42212" opacity="0.9"/>
<ellipse cx="27.91" cy="440.23" rx="1.27" ry="1.06" transform="rotate(56.21 27.91 440.23)" fill="#ff3a1e" opacity="1"/>
<path d="M63.8,429.02 Q59.25,433.34 57.29,439.3 Q61.85,434.98 63.8,429.02Z" fill="#b01a0c" opacity="0.45"/>
<ellipse cx="60.55" cy="434.16" rx="2.21" ry="1.71" transform="rotate(125.68 60.55 434.16)" fill="#d42212" opacity="0.9"/>
<ellipse cx="60.55" cy="434.16" rx="1.29" ry="1.07" transform="rotate(125.68 60.55 434.16)" fill="#ff3a1e" opacity="1"/>
<path d="M66.29,434.81 Q62.99,442.17 62.4,450.21 Q65.7,442.85 66.29,434.81Z" fill="#b01a0c" opacity="0.45"/>
<ellipse cx="64.34" cy="442.51" rx="2.41" ry="1.55" transform="rotate(111.65 64.34 442.51)" fill="#d42212" opacity="0.9"/>
<ellipse cx="64.34" cy="442.51" rx="1.32" ry="1.1" transform="rotate(111.65 64.34 442.51)" fill="#ff3a1e" opacity="1"/>
<path d="M48.45,441.39 Q55.49,445.47 63.53,446.67 Q56.5,442.59 48.45,441.39Z" fill="#b01a0c" opacity="0.45"/>
<ellipse cx="55.99" cy="444.03" rx="2.5" ry="1.7" transform="rotate(9.69 55.99 444.03)" fill="#d42212" opacity="0.9"/>
<ellipse cx="55.99" cy="444.03" rx="1.05" ry="0.87" transform="rotate(9.69 55.99 444.03)" fill="#ff3a1e" opacity="1"/>
<path d="M82.35,418.86 Q71.81,418.24 61.52,420.61 Q72.06,421.23 82.35,418.86Z" fill="#b01a0c" opacity="0.45"/>
<ellipse cx="71.93" cy="419.74" rx="2.82" ry="1.67" transform="rotate(176.27 71.93 419.74)" fill="#d42212" opacity="0.9"/>
<ellipse cx="71.93" cy="419.74" rx="1.26" ry="1.05" transform="rotate(176.27 71.93 419.74)" fill="#ff3a1e" opacity="1"/>
<path d="M84.7,412.28 Q76.36,417.1 69.79,424.15 Q78.14,419.34 84.7,412.28Z" fill="#b01a0c" opacity="0.45"/>
<ellipse cx="77.25" cy="418.22" rx="2.56" ry="1.59" transform="rotate(143.3 77.25 418.22)" fill="#d42212" opacity="0.9"/>
<ellipse cx="77.25" cy="418.22" rx="0.99" ry="0.83" transform="rotate(143.3 77.25 418.22)" fill="#ff3a1e" opacity="1"/>
<path d="M87.89,410.38 Q80.67,417.34 75.72,426.06 Q82.94,419.1 87.89,410.38Z" fill="#b01a0c" opacity="0.45"/>
<ellipse cx="81.8" cy="418.22" rx="2.39" ry="1.6" transform="rotate(134.37 81.8 418.22)" fill="#d42212" opacity="0.9"/>
<ellipse cx="81.8" cy="418.22" rx="0.97" ry="0.81" transform="rotate(134.37 81.8 418.22)" fill="#ff3a1e" opacity="1"/>
<path d="M68.18,412.54 Q74.47,416.48 81.76,417.82 Q75.47,413.89 68.18,412.54Z" fill="#b01a0c" opacity="0.45"/>
<ellipse cx="74.97" cy="415.18" rx="2.61" ry="1.54" transform="rotate(22.23 74.97 415.18)" fill="#d42212" opacity="0.9"/>
<ellipse cx="74.97" cy="415.18" rx="1.29" ry="1.08" transform="rotate(22.23 74.97 415.18)" fill="#ff3a1e" opacity="1"/>
<path d="M70.43,402.38 Q76.21,409.54 84.06,414.32 Q78.29,407.16 70.43,402.38Z" fill="#b01a0c" opacity="0.45"/>
<ellipse cx="77.25" cy="408.35" rx="2.49" ry="1.75" transform="rotate(45.86 77.25 408.35)" fill="#d42212" opacity="0.9"/>
<ellipse cx="77.25" cy="408.35" rx="1.13" ry="0.94" transform="rotate(45.86 77.25 408.35)" fill="#ff3a1e" opacity="1"/>
<path d="M83.61,400.83 Q81.93,408.3 83.03,415.87 Q84.72,408.4 83.61,400.83Z" fill="#b01a0c" opacity="0.45"/>
<ellipse cx="83.32" cy="408.35" rx="2.3" ry="1.55" transform="rotate(86.14 83.32 408.35)" fill="#d42212" opacity="0.9"/>
<ellipse cx="83.32" cy="408.35" rx="1.08" ry="0.9" transform="rotate(86.14 83.32 408.35)" fill="#ff3a1e" opacity="1"/>
<path d="M90.38,406.13 Q84.99,412.09 82.33,419.68 Q87.73,413.72 90.38,406.13Z" fill="#b01a0c" opacity="0.45"/>
<ellipse cx="86.36" cy="412.91" rx="2.88" ry="1.77" transform="rotate(118.66 86.36 412.91)" fill="#d42212" opacity="0.9"/>
<ellipse cx="86.36" cy="412.91" rx="1.08" ry="0.9" transform="rotate(118.66 86.36 412.91)" fill="#ff3a1e" opacity="1"/>
<path d="M69.37,417.46 Q72.02,427.92 77.54,437.2 Q74.88,426.74 69.37,417.46Z" fill="#b01a0c" opacity="0.45"/>
<ellipse cx="73.45" cy="427.33" rx="2.54" ry="1.72" transform="rotate(71.69 73.45 427.33)" fill="#d42212" opacity="0.9"/>
<ellipse cx="73.45" cy="427.33" rx="0.96" ry="0.8" transform="rotate(71.69 73.45 427.33)" fill="#ff3a1e" opacity="1"/>
<path d="M65.27,420.16 Q66.92,429.97 71,439.05 Q69.35,429.24 65.27,420.16Z" fill="#b01a0c" opacity="0.45"/>
<ellipse cx="68.14" cy="429.61" rx="2.24" ry="1.41" transform="rotate(80.88 68.14 429.61)" fill="#d42212" opacity="0.9"/>
<ellipse cx="68.14" cy="429.61" rx="1.22" ry="1.02" transform="rotate(80.88 68.14 429.61)" fill="#ff3a1e" opacity="1"/>
<path d="M78.55,427.23 Q80.46,433.45 85.05,438.05 Q83.15,431.84 78.55,427.23Z" fill="#b01a0c" opacity="0.45"/>
<ellipse cx="81.8" cy="432.64" rx="2.86" ry="1.74" transform="rotate(65.16 81.8 432.64)" fill="#d42212" opacity="0.9"/>
<ellipse cx="81.8" cy="432.64" rx="1.3" ry="1.08" transform="rotate(65.16 81.8 432.64)" fill="#ff3a1e" opacity="1"/>
<path d="M91.36,413.33 Q86.43,422.24 84.39,432.22 Q89.32,423.31 91.36,413.33Z" fill="#b01a0c" opacity="0.45"/>
<ellipse cx="87.88" cy="422.77" rx="2.5" ry="1.71" transform="rotate(110.42 87.88 422.77)" fill="#d42212" opacity="0.9"/>
<ellipse cx="87.88" cy="422.77" rx="1.13" ry="0.94" transform="rotate(110.42 87.88 422.77)" fill="#ff3a1e" opacity="1"/>
<path d="M80.83,425.7 Q88.94,430.08 97.96,431.99 Q89.85,427.61 80.83,425.7Z" fill="#b01a0c" opacity="0.45"/>
<ellipse cx="89.39" cy="428.85" rx="2.45" ry="1.46" transform="rotate(18.03 89.39 428.85)" fill="#d42212" opacity="0.9"/>
<ellipse cx="89.39" cy="428.85" rx="1.01" ry="0.84" transform="rotate(18.03 89.39 428.85)" fill="#ff3a1e" opacity="1"/>
<path d="M98.97,400.57 Q94.27,408.62 91.97,417.65 Q96.67,409.6 98.97,400.57Z" fill="#b01a0c" opacity="0.45"/>
<ellipse cx="95.47" cy="409.11" rx="2.27" ry="1.44" transform="rotate(113.04 95.47 409.11)" fill="#d42212" opacity="0.9"/>
<ellipse cx="95.47" cy="409.11" rx="1.28" ry="1.07" transform="rotate(113.04 95.47 409.11)" fill="#ff3a1e" opacity="1"/>
<path d="M102.64,399.29 Q98.76,408.77 97.4,418.93 Q101.28,409.45 102.64,399.29Z" fill="#b01a0c" opacity="0.45"/>
<ellipse cx="100.02" cy="409.11" rx="2.69" ry="1.45" transform="rotate(113.26 100.02 409.11)" fill="#d42212" opacity="0.9"/>
<ellipse cx="100.02" cy="409.11" rx="1.18" ry="0.99" transform="rotate(113.26 100.02 409.11)" fill="#ff3a1e" opacity="1"/>
<path d="M114.17,405.1 Q105.76,405.29 98.02,408.56 Q106.43,408.38 114.17,405.1Z" fill="#b01a0c" opacity="0.45"/>
<ellipse cx="106.09" cy="406.83" rx="2.84" ry="1.76" transform="rotate(164.05 106.09 406.83)" fill="#d42212" opacity="0.9"/>
<ellipse cx="106.09" cy="406.83" rx="1.24" ry="1.04" transform="rotate(164.05 106.09 406.83)" fill="#ff3a1e" opacity="1"/>
<path d="M86.86,412.57 Q93.15,418.07 101.04,420.83 Q94.75,415.33 86.86,412.57Z" fill="#b01a0c" opacity="0.45"/>
<ellipse cx="93.95" cy="416.7" rx="2.86" ry="1.76" transform="rotate(24.67 93.95 416.7)" fill="#d42212" opacity="0.9"/>
<ellipse cx="93.95" cy="416.7" rx="1.12" ry="0.93" transform="rotate(24.67 93.95 416.7)" fill="#ff3a1e" opacity="1"/>
<path d="M94.92,411.14 Q98.92,420.39 105.13,428.34 Q101.13,419.08 94.92,411.14Z" fill="#b01a0c" opacity="0.45"/>
<ellipse cx="100.02" cy="419.74" rx="2.7" ry="1.43" transform="rotate(49.75 100.02 419.74)" fill="#d42212" opacity="0.9"/>
<ellipse cx="100.02" cy="419.74" rx="1.06" ry="0.89" transform="rotate(49.75 100.02 419.74)" fill="#ff3a1e" opacity="1"/>
<path d="M113.49,419.54 Q106.05,418.17 98.7,419.94 Q106.14,421.31 113.49,419.54Z" fill="#b01a0c" opacity="0.45"/>
<ellipse cx="106.09" cy="419.74" rx="2.26" ry="1.74" transform="rotate(169.14 106.09 419.74)" fill="#d42212" opacity="0.9"/>
<ellipse cx="106.09" cy="419.74" rx="1.12" ry="0.93" transform="rotate(169.14 106.09 419.74)" fill="#ff3a1e" opacity="1"/>
<path d="M117.5,413.98 Q107.36,414.68 97.72,417.91 Q107.86,417.21 117.5,413.98Z" fill="#b01a0c" opacity="0.45"/>
<ellipse cx="107.61" cy="415.94" rx="2.22" ry="1.43" transform="rotate(165.99 107.61 415.94)" fill="#d42212" opacity="0.9"/>
<ellipse cx="107.61" cy="415.94" rx="1.15" ry="0.96" transform="rotate(165.99 107.61 415.94)" fill="#ff3a1e" opacity="1"/>
<path d="M106.14,411.97 Q111.79,415.01 118.19,415.36 Q112.55,412.32 106.14,411.97Z" fill="#b01a0c" opacity="0.45"/>
<ellipse cx="112.17" cy="413.66" rx="2.32" ry="1.55" transform="rotate(5.89 112.17 413.66)" fill="#d42212" opacity="0.9"/>
<ellipse cx="112.17" cy="413.66" rx="1.24" ry="1.03" transform="rotate(5.89 112.17 413.66)" fill="#ff3a1e" opacity="1"/>
<path d="M100.32,429.87 Q93.84,428.99 87.58,430.86 Q94.06,431.74 100.32,429.87Z" fill="#b01a0c" opacity="0.45"/>
<ellipse cx="93.95" cy="430.36" rx="2.69" ry="1.54" transform="rotate(170.96 93.95 430.36)" fill="#d42212" opacity="0.9"/>
<ellipse cx="93.95" cy="430.36" rx="1" ry="0.83" transform="rotate(170.96 93.95 430.36)" fill="#ff3a1e" opacity="1"/>
<path d="M101.54,423.99 Q100.1,430.37 101.54,436.74 Q102.98,430.36 101.54,423.99Z" fill="#b01a0c" opacity="0.45"/>
<ellipse cx="101.54" cy="430.36" rx="2.52" ry="1.6" transform="rotate(98.48 101.54 430.36)" fill="#d42212" opacity="0.9"/>
<ellipse cx="101.54" cy="430.36" rx="1.15" ry="0.96" transform="rotate(98.48 101.54 430.36)" fill="#ff3a1e" opacity="1"/>
<path d="M100.21,429.8 Q107.65,430.92 115.02,429.41 Q107.58,428.29 100.21,429.8Z" fill="#b01a0c" opacity="0.45"/>
<ellipse cx="107.61" cy="429.61" rx="2.57" ry="1.46" transform="rotate(5.49 107.61 429.61)" fill="#d42212" opacity="0.9"/>
<ellipse cx="107.61" cy="429.61" rx="1.16" ry="0.97" transform="rotate(5.49 107.61 429.61)" fill="#ff3a1e" opacity="1"/>
<path d="M111.11,420.22 Q111.62,429.12 114.74,437.48 Q114.24,428.57 111.11,420.22Z" fill="#b01a0c" opacity="0.45"/>
<ellipse cx="112.93" cy="428.85" rx="2.36" ry="1.49" transform="rotate(69.9 112.93 428.85)" fill="#d42212" opacity="0.9"/>
<ellipse cx="112.93" cy="428.85" rx="1.11" ry="0.93" transform="rotate(69.9 112.93 428.85)" fill="#ff3a1e" opacity="1"/>
<path d="M94.29,432.86 Q100.77,439.06 108.79,443.05 Q102.31,436.85 94.29,432.86Z" fill="#b01a0c" opacity="0.45"/>
<ellipse cx="101.54" cy="437.96" rx="2.42" ry="1.5" transform="rotate(29.37 101.54 437.96)" fill="#d42212" opacity="0.9"/>
<ellipse cx="101.54" cy="437.96" rx="1.16" ry="0.97" transform="rotate(29.37 101.54 437.96)" fill="#ff3a1e" opacity="1"/>
<path d="M102.16,435.15 Q108.39,440.66 116.1,443.8 Q109.87,438.29 102.16,435.15Z" fill="#b01a0c" opacity="0.45"/>
<ellipse cx="109.13" cy="439.47" rx="2.43" ry="1.55" transform="rotate(33.87 109.13 439.47)" fill="#d42212" opacity="0.9"/>
<ellipse cx="109.13" cy="439.47" rx="1.32" ry="1.1" transform="rotate(33.87 109.13 439.47)" fill="#ff3a1e" opacity="1"/>
<path d="M90.31,427.54 Q86.41,436.04 85.44,445.34 Q89.34,436.84 90.31,427.54Z" fill="#b01a0c" opacity="0.45"/>
<ellipse cx="87.88" cy="436.44" rx="2.66" ry="1.69" transform="rotate(99.19 87.88 436.44)" fill="#d42212" opacity="0.9"/>
<ellipse cx="87.88" cy="436.44" rx="1.09" ry="0.91" transform="rotate(99.19 87.88 436.44)" fill="#ff3a1e" opacity="1"/>
<path d="M55.68,440.5 Q50.27,447.97 47.2,456.67 Q52.61,449.2 55.68,440.5Z" fill="#b01a0c" opacity="0.45"/>
<ellipse cx="51.44" cy="448.58" rx="2.88" ry="1.47" transform="rotate(119.98 51.44 448.58)" fill="#d42212" opacity="0.9"/>
<ellipse cx="51.44" cy="448.58" rx="0.98" ry="0.82" transform="rotate(119.98 51.44 448.58)" fill="#ff3a1e" opacity="1"/>
<path d="M41.12,452.52 Q50.7,453.68 60.23,452.24 Q50.66,451.08 41.12,452.52Z" fill="#b01a0c" opacity="0.45"/>
<ellipse cx="50.68" cy="452.38" rx="2.73" ry="1.45" transform="rotate(7.18 50.68 452.38)" fill="#d42212" opacity="0.9"/>
<ellipse cx="50.68" cy="452.38" rx="1.09" ry="0.91" transform="rotate(7.18 50.68 452.38)" fill="#ff3a1e" opacity="1"/>
<path d="M38.29,453.02 Q45.17,455.43 52.44,454.78 Q45.56,452.37 38.29,453.02Z" fill="#b01a0c" opacity="0.45"/>
<ellipse cx="45.36" cy="453.9" rx="2.58" ry="1.71" transform="rotate(5.79 45.36 453.9)" fill="#d42212" opacity="0.9"/>
<ellipse cx="45.36" cy="453.9" rx="1.29" ry="1.08" transform="rotate(5.79 45.36 453.9)" fill="#ff3a1e" opacity="1"/>
<path d="M33.67,445.69 Q39.71,454.19 47.95,460.59 Q41.91,452.09 33.67,445.69Z" fill="#b01a0c" opacity="0.45"/>
<ellipse cx="40.81" cy="453.14" rx="2.53" ry="1.69" transform="rotate(52.83 40.81 453.14)" fill="#d42212" opacity="0.9"/>
<ellipse cx="40.81" cy="453.14" rx="1.2" ry="1" transform="rotate(52.83 40.81 453.14)" fill="#ff3a1e" opacity="1"/>
<path d="M53.62,451.53 Q58.22,456.05 64.44,457.78 Q59.84,453.26 53.62,451.53Z" fill="#b01a0c" opacity="0.45"/>
<ellipse cx="59.03" cy="454.66" rx="2.28" ry="1.79" transform="rotate(21.61 59.03 454.66)" fill="#d42212" opacity="0.9"/>
<ellipse cx="59.03" cy="454.66" rx="1.23" ry="1.03" transform="rotate(21.61 59.03 454.66)" fill="#ff3a1e" opacity="1"/>
<path d="M71.16,445.98 Q66.09,451.62 63.6,458.78 Q68.67,453.14 71.16,445.98Z" fill="#b01a0c" opacity="0.45"/>
<ellipse cx="67.38" cy="452.38" rx="2.71" ry="1.66" transform="rotate(121.67 67.38 452.38)" fill="#d42212" opacity="0.9"/>
<ellipse cx="67.38" cy="452.38" rx="1.03" ry="0.86" transform="rotate(121.67 67.38 452.38)" fill="#ff3a1e" opacity="1"/>
<path d="M54.13,460.95 Q47.03,462.35 41.16,466.58 Q48.26,465.18 54.13,460.95Z" fill="#b01a0c" opacity="0.45"/>
<ellipse cx="47.64" cy="463.77" rx="2.75" ry="1.72" transform="rotate(154.67 47.64 463.77)" fill="#d42212" opacity="0.9"/>
<ellipse cx="47.64" cy="463.77" rx="1.05" ry="0.88" transform="rotate(154.67 47.64 463.77)" fill="#ff3a1e" opacity="1"/>
<path d="M39.61,456.15 Q30.8,460.15 23.79,466.83 Q32.61,462.83 39.61,456.15Z" fill="#b01a0c" opacity="0.45"/>
<ellipse cx="31.7" cy="461.49" rx="2.72" ry="1.8" transform="rotate(142.3 31.7 461.49)" fill="#d42212" opacity="0.9"/>
<ellipse cx="31.7" cy="461.49" rx="1.24" ry="1.03" transform="rotate(142.3 31.7 461.49)" fill="#ff3a1e" opacity="1"/>
<path d="M27,465.55 Q34.53,468.06 42.47,468.06 Q34.94,465.55 27,465.55Z" fill="#b01a0c" opacity="0.45"/>
<ellipse cx="34.74" cy="466.8" rx="2.62" ry="1.41" transform="rotate(16.86 34.74 466.8)" fill="#d42212" opacity="0.9"/>
<ellipse cx="34.74" cy="466.8" rx="1.3" ry="1.08" transform="rotate(16.86 34.74 466.8)" fill="#ff3a1e" opacity="1"/>
<path d="M19.14,468.18 Q26.82,471.41 35.15,471.5 Q27.47,468.27 19.14,468.18Z" fill="#b01a0c" opacity="0.45"/>
<ellipse cx="27.15" cy="469.84" rx="2.84" ry="1.78" transform="rotate(5.04 27.15 469.84)" fill="#d42212" opacity="0.9"/>
<ellipse cx="27.15" cy="469.84" rx="0.98" ry="0.82" transform="rotate(5.04 27.15 469.84)" fill="#ff3a1e" opacity="1"/>
<path d="M34.17,463.65 Q38.62,467.9 44.41,469.96 Q39.97,465.71 34.17,463.65Z" fill="#b01a0c" opacity="0.45"/>
<ellipse cx="39.29" cy="466.8" rx="2.21" ry="1.43" transform="rotate(25.09 39.29 466.8)" fill="#d42212" opacity="0.9"/>
<ellipse cx="39.29" cy="466.8" rx="0.99" ry="0.83" transform="rotate(25.09 39.29 466.8)" fill="#ff3a1e" opacity="1"/>
<path d="M60.43,455.79 Q57.74,463.54 57.63,471.74 Q60.32,463.99 60.43,455.79Z" fill="#b01a0c" opacity="0.45"/>
<ellipse cx="59.03" cy="463.77" rx="2.39" ry="1.45" transform="rotate(106.33 59.03 463.77)" fill="#d42212" opacity="0.9"/>
<ellipse cx="59.03" cy="463.77" rx="1.31" ry="1.09" transform="rotate(106.33 59.03 463.77)" fill="#ff3a1e" opacity="1"/>
<path d="M73.93,459.05 Q75.89,468.09 80.56,476.07 Q78.61,467.03 73.93,459.05Z" fill="#b01a0c" opacity="0.45"/>
<ellipse cx="77.25" cy="467.56" rx="2.62" ry="1.63" transform="rotate(69.1 77.25 467.56)" fill="#d42212" opacity="0.9"/>
<ellipse cx="77.25" cy="467.56" rx="1.06" ry="0.88" transform="rotate(69.1 77.25 467.56)" fill="#ff3a1e" opacity="1"/>
<path d="M80.8,451.96 Q87.2,457.32 94.96,460.39 Q88.56,455.03 80.8,451.96Z" fill="#b01a0c" opacity="0.45"/>
<ellipse cx="87.88" cy="456.18" rx="2.82" ry="1.48" transform="rotate(24.62 87.88 456.18)" fill="#d42212" opacity="0.9"/>
<ellipse cx="87.88" cy="456.18" rx="1.17" ry="0.97" transform="rotate(24.62 87.88 456.18)" fill="#ff3a1e" opacity="1"/>
<path d="M103.53,446.96 Q96.8,446.39 90.44,448.69 Q97.17,449.26 103.53,446.96Z" fill="#b01a0c" opacity="0.45"/>
<ellipse cx="96.99" cy="447.82" rx="2.77" ry="1.61" transform="rotate(170.65 96.99 447.82)" fill="#d42212" opacity="0.9"/>
<ellipse cx="96.99" cy="447.82" rx="1.13" ry="0.94" transform="rotate(170.65 96.99 447.82)" fill="#ff3a1e" opacity="1"/>
<path d="M106.82,455.64 Q97.1,458.61 88.66,464.3 Q98.39,461.33 106.82,455.64Z" fill="#b01a0c" opacity="0.45"/>
<ellipse cx="97.74" cy="459.97" rx="2.57" ry="1.68" transform="rotate(155.12 97.74 459.97)" fill="#d42212" opacity="0.9"/>
<ellipse cx="97.74" cy="459.97" rx="1.26" ry="1.05" transform="rotate(155.12 97.74 459.97)" fill="#ff3a1e" opacity="1"/>
<path d="M102.59,463.31 Q92.13,463.72 82.27,467.26 Q92.73,466.85 102.59,463.31Z" fill="#b01a0c" opacity="0.45"/>
<ellipse cx="92.43" cy="465.28" rx="2.31" ry="1.77" transform="rotate(161.88 92.43 465.28)" fill="#d42212" opacity="0.9"/>
<ellipse cx="92.43" cy="465.28" rx="1.08" ry="0.9" transform="rotate(161.88 92.43 465.28)" fill="#ff3a1e" opacity="1"/>
<path d="M52.98,463.65 Q59.6,471.62 68.11,477.55 Q61.49,469.57 52.98,463.65Z" fill="#b01a0c" opacity="0.45"/>
<ellipse cx="60.55" cy="470.6" rx="2.29" ry="1.55" transform="rotate(45.33 60.55 470.6)" fill="#d42212" opacity="0.9"/>
<ellipse cx="60.55" cy="470.6" rx="0.96" ry="0.8" transform="rotate(45.33 60.55 470.6)" fill="#ff3a1e" opacity="1"/>
<path d="M14.39,450.41 Q17.47,459.88 23.2,468.01 Q20.12,458.55 14.39,450.41Z" fill="#b01a0c" opacity="0.45"/>
<ellipse cx="18.8" cy="459.21" rx="2.26" ry="1.65" transform="rotate(54.89 18.8 459.21)" fill="#d42212" opacity="0.9"/>
<ellipse cx="18.8" cy="459.21" rx="0.99" ry="0.83" transform="rotate(54.89 18.8 459.21)" fill="#ff3a1e" opacity="1"/>
<path d="M12.09,450.47 Q14.28,460.54 19.43,469.47 Q17.24,459.4 12.09,450.47Z" fill="#b01a0c" opacity="0.45"/>
<ellipse cx="15.76" cy="459.97" rx="2.29" ry="1.76" transform="rotate(68.47 15.76 459.97)" fill="#d42212" opacity="0.9"/>
<ellipse cx="15.76" cy="459.97" rx="1.3" ry="1.09" transform="rotate(68.47 15.76 459.97)" fill="#ff3a1e" opacity="1"/>
</g></g>
<clipPath id="c7"><rect x="117.5" y="400.8" width="101.3" height="72.4"/></clipPath>
<g clip-path="url(#c7)">
<rect x="117.5" y="400.8" width="101.3" height="72.4" fill="#070801"/>
<g filter="url(#cb)">
<path d="M131.49,446.2 Q133.2,451.34 136.93,455.27 Q135.22,450.13 131.49,446.2Z" fill="#5a1c06" opacity="0.38"/>
<ellipse cx="134.21" cy="450.74" rx="2.31" ry="1.96" transform="rotate(58.29 134.21 450.74)" fill="#a83410" opacity="0.63"/>
<ellipse cx="134.21" cy="450.74" rx="1.33" ry="1.11" transform="rotate(58.29 134.21 450.74)" fill="none" stroke="#e0781c" stroke-width="0.7" opacity="0.84"/>
<path d="M159.3,416.22 Q166,417.47 172.76,416.66 Q166.07,415.41 159.3,416.22Z" fill="#5a1c06" opacity="0.41"/>
<ellipse cx="166.03" cy="416.44" rx="2.56" ry="1.71" transform="rotate(10.44 166.03 416.44)" fill="#a83410" opacity="0.68"/>
<ellipse cx="166.03" cy="416.44" rx="1.23" ry="1.03" transform="rotate(10.44 166.03 416.44)" fill="none" stroke="#e0781c" stroke-width="0.7" opacity="0.91"/>
<path d="M198.21,432.12 Q198.31,438.1 200.46,443.69 Q200.37,437.7 198.21,432.12Z" fill="#5a1c06" opacity="0.35"/>
<ellipse cx="199.34" cy="437.9" rx="2.78" ry="1.75" transform="rotate(76.41 199.34 437.9)" fill="#a83410" opacity="0.58"/>
<ellipse cx="199.34" cy="437.9" rx="1.54" ry="1.28" transform="rotate(76.41 199.34 437.9)" fill="none" stroke="#e0781c" stroke-width="0.7" opacity="0.78"/>
<path d="M143.28,396.19 Q140.24,400.58 139.55,405.87 Q142.58,401.48 143.28,396.19Z" fill="#5a1c06" opacity="0.32"/>
<ellipse cx="141.41" cy="401.03" rx="2.48" ry="2.09" transform="rotate(103.88 141.41 401.03)" fill="#a83410" opacity="0.54"/>
<ellipse cx="141.41" cy="401.03" rx="1.3" ry="1.09" transform="rotate(103.88 141.41 401.03)" fill="none" stroke="#e0781c" stroke-width="0.7" opacity="0.72"/>
<path d="M169.01,403.05 Q176.43,406.85 184.58,408.58 Q177.16,404.78 169.01,403.05Z" fill="#5a1c06" opacity="0.41"/>
<ellipse cx="176.8" cy="405.81" rx="2.28" ry="1.82" transform="rotate(25.97 176.8 405.81)" fill="#a83410" opacity="0.68"/>
<ellipse cx="176.8" cy="405.81" rx="1.41" ry="1.17" transform="rotate(25.97 176.8 405.81)" fill="none" stroke="#e0781c" stroke-width="0.7" opacity="0.91"/>
<path d="M142.49,412.6 Q139.92,417.33 139.56,422.69 Q142.13,417.97 142.49,412.6Z" fill="#5a1c06" opacity="0.26"/>
<ellipse cx="141.03" cy="417.65" rx="2.46" ry="1.92" transform="rotate(115 141.03 417.65)" fill="#a83410" opacity="0.43"/>
<ellipse cx="141.03" cy="417.65" rx="1.27" ry="1.06" transform="rotate(115 141.03 417.65)" fill="none" stroke="#e0781c" stroke-width="0.7" opacity="0.57"/>
<path d="M222.39,448.02 Q217.62,453.71 214.71,460.54 Q219.49,454.85 222.39,448.02Z" fill="#5a1c06" opacity="0.42"/>
<ellipse cx="218.55" cy="454.28" rx="2.5" ry="1.83" transform="rotate(122.47 218.55 454.28)" fill="#a83410" opacity="0.71"/>
<ellipse cx="218.55" cy="454.28" rx="1.31" ry="1.09" transform="rotate(122.47 218.55 454.28)" fill="none" stroke="#e0781c" stroke-width="0.7" opacity="0.94"/>
<path d="M185.76,398.93 Q179.25,402.4 174.02,407.61 Q180.53,404.13 185.76,398.93Z" fill="#5a1c06" opacity="0.31"/>
<ellipse cx="179.89" cy="403.27" rx="2.69" ry="1.8" transform="rotate(142.99 179.89 403.27)" fill="#a83410" opacity="0.52"/>
<ellipse cx="179.89" cy="403.27" rx="1.52" ry="1.26" transform="rotate(142.99 179.89 403.27)" fill="none" stroke="#e0781c" stroke-width="0.7" opacity="0.7"/>
<path d="M171.39,404.97 Q166.94,408.38 164.41,413.4 Q168.87,409.99 171.39,404.97Z" fill="#5a1c06" opacity="0.44"/>
<ellipse cx="167.9" cy="409.18" rx="2.4" ry="2.09" transform="rotate(131.3 167.9 409.18)" fill="#a83410" opacity="0.73"/>
<ellipse cx="167.9" cy="409.18" rx="1.47" ry="1.23" transform="rotate(131.3 167.9 409.18)" fill="none" stroke="#e0781c" stroke-width="0.7" opacity="0.98"/>
<path d="M148.36,407.87 Q154.27,412.88 161.28,416.15 Q155.38,411.14 148.36,407.87Z" fill="#5a1c06" opacity="0.41"/>
<ellipse cx="154.82" cy="412.01" rx="2.54" ry="1.72" transform="rotate(27.36 154.82 412.01)" fill="#a83410" opacity="0.69"/>
<ellipse cx="154.82" cy="412.01" rx="1.41" ry="1.17" transform="rotate(27.36 154.82 412.01)" fill="none" stroke="#e0781c" stroke-width="0.7" opacity="0.92"/>
<path d="M137.05,465.36 Q129.73,466.87 123.25,470.6 Q130.57,469.09 137.05,465.36Z" fill="#5a1c06" opacity="0.34"/>
<ellipse cx="130.15" cy="467.98" rx="2.42" ry="1.98" transform="rotate(157.59 130.15 467.98)" fill="#a83410" opacity="0.57"/>
<ellipse cx="130.15" cy="467.98" rx="1.36" ry="1.14" transform="rotate(157.59 130.15 467.98)" fill="none" stroke="#e0781c" stroke-width="0.7" opacity="0.75"/>
<path d="M179.48,420.96 Q172.73,424.73 167.35,430.3 Q174.11,426.53 179.48,420.96Z" fill="#5a1c06" opacity="0.35"/>
<ellipse cx="173.42" cy="425.63" rx="2.86" ry="1.89" transform="rotate(151.19 173.42 425.63)" fill="#a83410" opacity="0.58"/>
<ellipse cx="173.42" cy="425.63" rx="1.45" ry="1.21" transform="rotate(151.19 173.42 425.63)" fill="none" stroke="#e0781c" stroke-width="0.7" opacity="0.77"/>
<path d="M138.95,397.89 Q135.32,402.99 133.92,409.09 Q137.54,403.99 138.95,397.89Z" fill="#5a1c06" opacity="0.42"/>
<ellipse cx="136.43" cy="403.49" rx="2.9" ry="2.03" transform="rotate(116.48 136.43 403.49)" fill="#a83410" opacity="0.7"/>
<ellipse cx="136.43" cy="403.49" rx="1.44" ry="1.2" transform="rotate(116.48 136.43 403.49)" fill="none" stroke="#e0781c" stroke-width="0.7" opacity="0.94"/>
<path d="M135.84,457.74 Q141.38,458.35 146.74,456.84 Q141.2,456.23 135.84,457.74Z" fill="#5a1c06" opacity="0.29"/>
<ellipse cx="141.29" cy="457.29" rx="2.52" ry="1.77" transform="rotate(4.06 141.29 457.29)" fill="#a83410" opacity="0.48"/>
<ellipse cx="141.29" cy="457.29" rx="1.48" ry="1.23" transform="rotate(4.06 141.29 457.29)" fill="none" stroke="#e0781c" stroke-width="0.7" opacity="0.64"/>
<path d="M207.44,463.34 Q215.35,466.6 223.84,467.7 Q215.92,464.45 207.44,463.34Z" fill="#5a1c06" opacity="0.4"/>
<ellipse cx="215.64" cy="465.52" rx="2.37" ry="1.86" transform="rotate(23.28 215.64 465.52)" fill="#a83410" opacity="0.67"/>
<ellipse cx="215.64" cy="465.52" rx="1.36" ry="1.13" transform="rotate(23.28 215.64 465.52)" fill="none" stroke="#e0781c" stroke-width="0.7" opacity="0.89"/>
<path d="M195.43,434.42 Q193.56,442.75 194.11,451.28 Q195.98,442.94 195.43,434.42Z" fill="#5a1c06" opacity="0.4"/>
<ellipse cx="194.77" cy="442.85" rx="2.82" ry="2.03" transform="rotate(98.9 194.77 442.85)" fill="#a83410" opacity="0.66"/>
<ellipse cx="194.77" cy="442.85" rx="1.35" ry="1.12" transform="rotate(98.9 194.77 442.85)" fill="none" stroke="#e0781c" stroke-width="0.7" opacity="0.88"/>
<path d="M126.95,430.53 Q128.85,435.95 132.87,440.04 Q130.97,434.63 126.95,430.53Z" fill="#5a1c06" opacity="0.41"/>
<ellipse cx="129.91" cy="435.29" rx="2.82" ry="2.08" transform="rotate(64.58 129.91 435.29)" fill="#a83410" opacity="0.69"/>
<ellipse cx="129.91" cy="435.29" rx="1.28" ry="1.07" transform="rotate(64.58 129.91 435.29)" fill="none" stroke="#e0781c" stroke-width="0.7" opacity="0.92"/>
<path d="M132.74,464.42 Q137.25,468.62 143,470.85 Q138.49,466.65 132.74,464.42Z" fill="#5a1c06" opacity="0.43"/>
<ellipse cx="137.87" cy="467.64" rx="2.54" ry="1.94" transform="rotate(42 137.87 467.64)" fill="#a83410" opacity="0.71"/>
<ellipse cx="137.87" cy="467.64" rx="1.35" ry="1.13" transform="rotate(42 137.87 467.64)" fill="none" stroke="#e0781c" stroke-width="0.7" opacity="0.95"/>
<path d="M155.93,420.11 Q157.85,427.73 162.05,434.37 Q160.14,426.75 155.93,420.11Z" fill="#5a1c06" opacity="0.34"/>
<ellipse cx="158.99" cy="427.24" rx="2.6" ry="2.08" transform="rotate(66.47 158.99 427.24)" fill="#a83410" opacity="0.56"/>
<ellipse cx="158.99" cy="427.24" rx="1.42" ry="1.19" transform="rotate(66.47 158.99 427.24)" fill="none" stroke="#e0781c" stroke-width="0.7" opacity="0.75"/>
<path d="M161.71,466.53 Q155.62,472.05 151.45,479.12 Q157.54,473.61 161.71,466.53Z" fill="#5a1c06" opacity="0.33"/>
<ellipse cx="156.58" cy="472.83" rx="2.24" ry="2.06" transform="rotate(121.72 156.58 472.83)" fill="#a83410" opacity="0.54"/>
<ellipse cx="156.58" cy="472.83" rx="1.49" ry="1.24" transform="rotate(121.72 156.58 472.83)" fill="none" stroke="#e0781c" stroke-width="0.7" opacity="0.72"/>
<path d="M116.67,400.91 Q119.3,408.04 123.77,414.2 Q121.14,407.06 116.67,400.91Z" fill="#5a1c06" opacity="0.39"/>
<ellipse cx="120.22" cy="407.55" rx="2.48" ry="1.74" transform="rotate(70.63 120.22 407.55)" fill="#a83410" opacity="0.65"/>
<ellipse cx="120.22" cy="407.55" rx="1.22" ry="1.02" transform="rotate(70.63 120.22 407.55)" fill="none" stroke="#e0781c" stroke-width="0.7" opacity="0.87"/>
<path d="M213.45,434.3 Q217.56,437.69 222.69,439.12 Q218.58,435.73 213.45,434.3Z" fill="#5a1c06" opacity="0.35"/>
<ellipse cx="218.07" cy="436.71" rx="2.31" ry="1.84" transform="rotate(37.58 218.07 436.71)" fill="#a83410" opacity="0.58"/>
<ellipse cx="218.07" cy="436.71" rx="1.25" ry="1.05" transform="rotate(37.58 218.07 436.71)" fill="none" stroke="#e0781c" stroke-width="0.7" opacity="0.77"/>
<path d="M165.3,451.99 Q172.9,455.93 181.22,457.95 Q173.62,454.01 165.3,451.99Z" fill="#5a1c06" opacity="0.29"/>
<ellipse cx="173.26" cy="454.97" rx="2.45" ry="1.71" transform="rotate(18.26 173.26 454.97)" fill="#a83410" opacity="0.49"/>
<ellipse cx="173.26" cy="454.97" rx="1.25" ry="1.04" transform="rotate(18.26 173.26 454.97)" fill="none" stroke="#e0781c" stroke-width="0.7" opacity="0.65"/>
<path d="M175.83,436.74 Q178.3,441.77 182.53,445.44 Q180.06,440.41 175.83,436.74Z" fill="#5a1c06" opacity="0.37"/>
<ellipse cx="179.18" cy="441.09" rx="2.44" ry="1.85" transform="rotate(45.41 179.18 441.09)" fill="#a83410" opacity="0.62"/>
<ellipse cx="179.18" cy="441.09" rx="1.56" ry="1.3" transform="rotate(45.41 179.18 441.09)" fill="none" stroke="#e0781c" stroke-width="0.7" opacity="0.83"/>
<path d="M134.93,407.78 Q134.78,413.28 136.67,418.45 Q136.83,412.95 134.93,407.78Z" fill="#5a1c06" opacity="0.32"/>
<ellipse cx="135.8" cy="413.11" rx="2.54" ry="1.73" transform="rotate(83.88 135.8 413.11)" fill="#a83410" opacity="0.53"/>
<ellipse cx="135.8" cy="413.11" rx="1.3" ry="1.08" transform="rotate(83.88 135.8 413.11)" fill="none" stroke="#e0781c" stroke-width="0.7" opacity="0.71"/>
<path d="M219.02,421.46 Q210.9,425.01 203.81,430.33 Q211.93,426.78 219.02,421.46Z" fill="#5a1c06" opacity="0.37"/>
<ellipse cx="211.41" cy="425.89" rx="2.31" ry="1.71" transform="rotate(149.19 211.41 425.89)" fill="#a83410" opacity="0.61"/>
<ellipse cx="211.41" cy="425.89" rx="1.25" ry="1.04" transform="rotate(149.19 211.41 425.89)" fill="none" stroke="#e0781c" stroke-width="0.7" opacity="0.82"/>
<path d="M150.87,399.67 Q147.45,407.98 146.25,416.89 Q149.67,408.57 150.87,399.67Z" fill="#5a1c06" opacity="0.26"/>
<ellipse cx="148.56" cy="408.28" rx="2.22" ry="1.91" transform="rotate(97.77 148.56 408.28)" fill="#a83410" opacity="0.43"/>
<ellipse cx="148.56" cy="408.28" rx="1.45" ry="1.21" transform="rotate(97.77 148.56 408.28)" fill="none" stroke="#e0781c" stroke-width="0.7" opacity="0.58"/>
<path d="M194.48,451.08 Q199.14,457.77 205.38,463.03 Q200.71,456.34 194.48,451.08Z" fill="#5a1c06" opacity="0.32"/>
<ellipse cx="199.93" cy="457.06" rx="2.46" ry="1.77" transform="rotate(47 199.93 457.06)" fill="#a83410" opacity="0.54"/>
<ellipse cx="199.93" cy="457.06" rx="1.48" ry="1.23" transform="rotate(47 199.93 457.06)" fill="none" stroke="#e0781c" stroke-width="0.7" opacity="0.72"/>
<path d="M183.14,441.54 Q185.61,450.22 190.3,457.93 Q187.84,449.25 183.14,441.54Z" fill="#5a1c06" opacity="0.43"/>
<ellipse cx="186.72" cy="449.74" rx="2.36" ry="2.02" transform="rotate(59.34 186.72 449.74)" fill="#a83410" opacity="0.72"/>
<ellipse cx="186.72" cy="449.74" rx="1.49" ry="1.24" transform="rotate(59.34 186.72 449.74)" fill="none" stroke="#e0781c" stroke-width="0.7" opacity="0.95"/>
<path d="M220.32,426.15 Q213.95,429.39 208.82,434.38 Q215.2,431.14 220.32,426.15Z" fill="#5a1c06" opacity="0.45"/>
<ellipse cx="214.57" cy="430.27" rx="2.72" ry="1.79" transform="rotate(147.3 214.57 430.27)" fill="#a83410" opacity="0.75"/>
<ellipse cx="214.57" cy="430.27" rx="1.21" ry="1.01" transform="rotate(147.3 214.57 430.27)" fill="none" stroke="#e0781c" stroke-width="0.7" opacity="1"/>
<path d="M207.36,441.65 Q214.63,444.6 222.43,445.45 Q215.16,442.5 207.36,441.65Z" fill="#5a1c06" opacity="0.43"/>
<ellipse cx="214.89" cy="443.55" rx="2.4" ry="1.8" transform="rotate(5.03 214.89 443.55)" fill="#a83410" opacity="0.71"/>
<ellipse cx="214.89" cy="443.55" rx="1.36" ry="1.13" transform="rotate(5.03 214.89 443.55)" fill="none" stroke="#e0781c" stroke-width="0.7" opacity="0.95"/>
<path d="M173.41,426.11 Q166.87,426.8 161.05,429.87 Q167.59,429.19 173.41,426.11Z" fill="#5a1c06" opacity="0.3"/>
<ellipse cx="167.23" cy="427.99" rx="2.89" ry="2.08" transform="rotate(168.66 167.23 427.99)" fill="#a83410" opacity="0.5"/>
<ellipse cx="167.23" cy="427.99" rx="1.28" ry="1.07" transform="rotate(168.66 167.23 427.99)" fill="none" stroke="#e0781c" stroke-width="0.7" opacity="0.66"/>
<path d="M199.88,406.77 Q205.47,413.42 212.62,418.33 Q207.04,411.68 199.88,406.77Z" fill="#5a1c06" opacity="0.26"/>
<ellipse cx="206.25" cy="412.55" rx="2.34" ry="1.95" transform="rotate(35.41 206.25 412.55)" fill="#a83410" opacity="0.44"/>
<ellipse cx="206.25" cy="412.55" rx="1.37" ry="1.14" transform="rotate(35.41 206.25 412.55)" fill="none" stroke="#e0781c" stroke-width="0.7" opacity="0.58"/>
<path d="M203.54,450.63 Q198.23,456.22 194.61,463.04 Q199.92,457.44 203.54,450.63Z" fill="#5a1c06" opacity="0.35"/>
<ellipse cx="199.08" cy="456.83" rx="2.76" ry="1.73" transform="rotate(117.54 199.08 456.83)" fill="#a83410" opacity="0.58"/>
<ellipse cx="199.08" cy="456.83" rx="1.48" ry="1.23" transform="rotate(117.54 199.08 456.83)" fill="none" stroke="#e0781c" stroke-width="0.7" opacity="0.77"/>
<path d="M207.71,398.49 Q201.49,403.87 196.86,410.67 Q203.08,405.28 207.71,398.49Z" fill="#5a1c06" opacity="0.3"/>
<ellipse cx="202.29" cy="404.58" rx="2.53" ry="1.77" transform="rotate(135.03 202.29 404.58)" fill="#a83410" opacity="0.5"/>
<ellipse cx="202.29" cy="404.58" rx="1.49" ry="1.24" transform="rotate(135.03 202.29 404.58)" fill="none" stroke="#e0781c" stroke-width="0.7" opacity="0.67"/>
<path d="M155.65,431.08 Q146.85,430.06 138.08,431.27 Q146.88,432.29 155.65,431.08Z" fill="#5a1c06" opacity="0.28"/>
<ellipse cx="146.86" cy="431.18" rx="2.48" ry="1.86" transform="rotate(174.9 146.86 431.18)" fill="#a83410" opacity="0.47"/>
<ellipse cx="146.86" cy="431.18" rx="1.26" ry="1.05" transform="rotate(174.9 146.86 431.18)" fill="none" stroke="#e0781c" stroke-width="0.7" opacity="0.63"/>
<path d="M116.62,423.04 Q124.2,426.47 132.45,427.52 Q124.87,424.09 116.62,423.04Z" fill="#5a1c06" opacity="0.43"/>
<ellipse cx="124.54" cy="425.28" rx="2.31" ry="2.06" transform="rotate(22.87 124.54 425.28)" fill="#a83410" opacity="0.72"/>
<ellipse cx="124.54" cy="425.28" rx="1.5" ry="1.25" transform="rotate(22.87 124.54 425.28)" fill="none" stroke="#e0781c" stroke-width="0.7" opacity="0.95"/>
<path d="M224.19,453.44 Q216.91,453.72 210.06,456.16 Q217.33,455.88 224.19,453.44Z" fill="#5a1c06" opacity="0.34"/>
<ellipse cx="217.12" cy="454.8" rx="2.66" ry="1.84" transform="rotate(176.46 217.12 454.8)" fill="#a83410" opacity="0.57"/>
<ellipse cx="217.12" cy="454.8" rx="1.21" ry="1" transform="rotate(176.46 217.12 454.8)" fill="none" stroke="#e0781c" stroke-width="0.7" opacity="0.77"/>
<path d="M151.73,469.22 Q142.92,469.08 134.37,471.22 Q143.18,471.36 151.73,469.22Z" fill="#5a1c06" opacity="0.35"/>
<ellipse cx="143.05" cy="470.22" rx="2.65" ry="1.91" transform="rotate(174.76 143.05 470.22)" fill="#a83410" opacity="0.59"/>
<ellipse cx="143.05" cy="470.22" rx="1.51" ry="1.26" transform="rotate(174.76 143.05 470.22)" fill="none" stroke="#e0781c" stroke-width="0.7" opacity="0.79"/>
<path d="M196.27,399.18 Q190.67,401.98 186.35,406.52 Q191.95,403.72 196.27,399.18Z" fill="#5a1c06" opacity="0.29"/>
<ellipse cx="191.31" cy="402.85" rx="2.35" ry="1.8" transform="rotate(148.71 191.31 402.85)" fill="#a83410" opacity="0.48"/>
<ellipse cx="191.31" cy="402.85" rx="1.41" ry="1.18" transform="rotate(148.71 191.31 402.85)" fill="none" stroke="#e0781c" stroke-width="0.7" opacity="0.65"/>
<path d="M196.18,452.4 Q201.69,459.13 208.66,464.35 Q203.14,457.61 196.18,452.4Z" fill="#5a1c06" opacity="0.43"/>
<ellipse cx="202.42" cy="458.37" rx="2.49" ry="1.75" transform="rotate(46.69 202.42 458.37)" fill="#a83410" opacity="0.71"/>
<ellipse cx="202.42" cy="458.37" rx="1.36" ry="1.14" transform="rotate(46.69 202.42 458.37)" fill="none" stroke="#e0781c" stroke-width="0.7" opacity="0.95"/>
<path d="M180.67,423.27 Q177.33,431.36 176.17,440.02 Q179.5,431.94 180.67,423.27Z" fill="#5a1c06" opacity="0.37"/>
<ellipse cx="178.42" cy="431.65" rx="2.83" ry="1.87" transform="rotate(105 178.42 431.65)" fill="#a83410" opacity="0.61"/>
<ellipse cx="178.42" cy="431.65" rx="1.39" ry="1.16" transform="rotate(105 178.42 431.65)" fill="none" stroke="#e0781c" stroke-width="0.7" opacity="0.81"/>
<path d="M202.97,417.39 Q202.42,423.21 204.11,428.8 Q204.66,422.99 202.97,417.39Z" fill="#5a1c06" opacity="0.36"/>
<ellipse cx="203.54" cy="423.1" rx="2.21" ry="1.88" transform="rotate(94.23 203.54 423.1)" fill="#a83410" opacity="0.59"/>
<ellipse cx="203.54" cy="423.1" rx="1.49" ry="1.24" transform="rotate(94.23 203.54 423.1)" fill="none" stroke="#e0781c" stroke-width="0.7" opacity="0.79"/>
<path d="M139.05,453.08 Q144.9,457.48 151.86,459.76 Q146.01,455.36 139.05,453.08Z" fill="#5a1c06" opacity="0.25"/>
<ellipse cx="145.46" cy="456.42" rx="2.53" ry="1.99" transform="rotate(31.02 145.46 456.42)" fill="#a83410" opacity="0.42"/>
<ellipse cx="145.46" cy="456.42" rx="1.39" ry="1.16" transform="rotate(31.02 145.46 456.42)" fill="none" stroke="#e0781c" stroke-width="0.7" opacity="0.55"/>
<path d="M187.55,462.65 Q185.88,469.78 186.3,477.08 Q187.96,469.96 187.55,462.65Z" fill="#5a1c06" opacity="0.25"/>
<ellipse cx="186.92" cy="469.87" rx="2.75" ry="1.74" transform="rotate(99.98 186.92 469.87)" fill="#a83410" opacity="0.42"/>
<ellipse cx="186.92" cy="469.87" rx="1.3" ry="1.08" transform="rotate(99.98 186.92 469.87)" fill="none" stroke="#e0781c" stroke-width="0.7" opacity="0.56"/>
<path d="M184.4,443.07 Q177.02,446.44 170.88,451.76 Q178.27,448.39 184.4,443.07Z" fill="#5a1c06" opacity="0.42"/>
<ellipse cx="177.64" cy="447.42" rx="2.56" ry="1.92" transform="rotate(139.01 177.64 447.42)" fill="#a83410" opacity="0.7"/>
<ellipse cx="177.64" cy="447.42" rx="1.36" ry="1.13" transform="rotate(139.01 177.64 447.42)" fill="none" stroke="#e0781c" stroke-width="0.7" opacity="0.93"/>
<path d="M179.26,412.09 Q175.61,419.04 174.13,426.76 Q177.77,419.8 179.26,412.09Z" fill="#5a1c06" opacity="0.33"/>
<ellipse cx="176.69" cy="419.42" rx="2.55" ry="1.9" transform="rotate(110.26 176.69 419.42)" fill="#a83410" opacity="0.55"/>
<ellipse cx="176.69" cy="419.42" rx="1.39" ry="1.16" transform="rotate(110.26 176.69 419.42)" fill="none" stroke="#e0781c" stroke-width="0.7" opacity="0.73"/>
<path d="M215.34,457.89 Q213.43,466.26 213.89,474.84 Q215.8,466.47 215.34,457.89Z" fill="#5a1c06" opacity="0.27"/>
<ellipse cx="214.62" cy="466.37" rx="2.86" ry="1.98" transform="rotate(86.05 214.62 466.37)" fill="#a83410" opacity="0.46"/>
<ellipse cx="214.62" cy="466.37" rx="1.29" ry="1.08" transform="rotate(86.05 214.62 466.37)" fill="none" stroke="#e0781c" stroke-width="0.7" opacity="0.61"/>
<path d="M127.41,402.06 Q125.89,407.53 126.8,413.14 Q128.33,407.67 127.41,402.06Z" fill="#5a1c06" opacity="0.25"/>
<ellipse cx="127.11" cy="407.6" rx="2.86" ry="2.04" transform="rotate(100.71 127.11 407.6)" fill="#a83410" opacity="0.42"/>
<ellipse cx="127.11" cy="407.6" rx="1.36" ry="1.13" transform="rotate(100.71 127.11 407.6)" fill="none" stroke="#e0781c" stroke-width="0.7" opacity="0.56"/>
<path d="M155.5,408.53 Q162.43,411.98 170.04,413.46 Q163.1,410.01 155.5,408.53Z" fill="#5a1c06" opacity="0.42"/>
<ellipse cx="162.77" cy="411" rx="2.37" ry="1.73" transform="rotate(13.06 162.77 411)" fill="#a83410" opacity="0.71"/>
<ellipse cx="162.77" cy="411" rx="1.52" ry="1.27" transform="rotate(13.06 162.77 411)" fill="none" stroke="#e0781c" stroke-width="0.7" opacity="0.94"/>
<path d="M179.35,406.73 Q183.2,410.92 188.42,413.19 Q184.57,409 179.35,406.73Z" fill="#5a1c06" opacity="0.36"/>
<ellipse cx="183.88" cy="409.96" rx="2.7" ry="1.96" transform="rotate(27.8 183.88 409.96)" fill="#a83410" opacity="0.59"/>
<ellipse cx="183.88" cy="409.96" rx="1.55" ry="1.29" transform="rotate(27.8 183.88 409.96)" fill="none" stroke="#e0781c" stroke-width="0.7" opacity="0.79"/>
<path d="M145.82,431.29 Q149.5,437.28 154.88,441.83 Q151.2,435.83 145.82,431.29Z" fill="#5a1c06" opacity="0.29"/>
<ellipse cx="150.35" cy="436.56" rx="2.87" ry="1.86" transform="rotate(39.53 150.35 436.56)" fill="#a83410" opacity="0.49"/>
<ellipse cx="150.35" cy="436.56" rx="1.5" ry="1.25" transform="rotate(39.53 150.35 436.56)" fill="none" stroke="#e0781c" stroke-width="0.7" opacity="0.65"/>
<path d="M128.47,411.64 Q133.88,415.17 140.18,416.6 Q134.77,413.06 128.47,411.64Z" fill="#5a1c06" opacity="0.32"/>
<ellipse cx="134.32" cy="414.12" rx="2.5" ry="1.91" transform="rotate(29.06 134.32 414.12)" fill="#a83410" opacity="0.54"/>
<ellipse cx="134.32" cy="414.12" rx="1.31" ry="1.1" transform="rotate(29.06 134.32 414.12)" fill="none" stroke="#e0781c" stroke-width="0.7" opacity="0.72"/>
<path d="M192.84,434.79 Q188.43,440.04 186,446.46 Q190.42,441.21 192.84,434.79Z" fill="#5a1c06" opacity="0.26"/>
<ellipse cx="189.42" cy="440.62" rx="2.21" ry="1.92" transform="rotate(129.99 189.42 440.62)" fill="#a83410" opacity="0.43"/>
<ellipse cx="189.42" cy="440.62" rx="1.32" ry="1.1" transform="rotate(129.99 189.42 440.62)" fill="none" stroke="#e0781c" stroke-width="0.7" opacity="0.57"/>
<path d="M193.72,456.18 Q188.6,463.58 185.3,471.96 Q190.43,464.56 193.72,456.18Z" fill="#5a1c06" opacity="0.4"/>
<ellipse cx="189.51" cy="464.07" rx="2.56" ry="1.73" transform="rotate(112.31 189.51 464.07)" fill="#a83410" opacity="0.67"/>
<ellipse cx="189.51" cy="464.07" rx="1.55" ry="1.29" transform="rotate(112.31 189.51 464.07)" fill="none" stroke="#e0781c" stroke-width="0.7" opacity="0.9"/>
<path d="M189.73,399.37 Q197.35,402.36 205.47,403.37 Q197.85,400.37 189.73,399.37Z" fill="#5a1c06" opacity="0.34"/>
<ellipse cx="197.6" cy="401.37" rx="2.39" ry="1.72" transform="rotate(18.86 197.6 401.37)" fill="#a83410" opacity="0.57"/>
<ellipse cx="197.6" cy="401.37" rx="1.25" ry="1.04" transform="rotate(18.86 197.6 401.37)" fill="none" stroke="#e0781c" stroke-width="0.7" opacity="0.76"/>
<path d="M121.77,450.47 Q122.8,456.54 126.09,461.74 Q125.07,455.67 121.77,450.47Z" fill="#5a1c06" opacity="0.28"/>
<ellipse cx="123.93" cy="456.11" rx="2.84" ry="2.03" transform="rotate(76.01 123.93 456.11)" fill="#a83410" opacity="0.47"/>
<ellipse cx="123.93" cy="456.11" rx="1.53" ry="1.28" transform="rotate(76.01 123.93 456.11)" fill="none" stroke="#e0781c" stroke-width="0.7" opacity="0.63"/>
<path d="M191.06,414.09 Q188.57,418.82 188.09,424.13 Q190.57,419.41 191.06,414.09Z" fill="#5a1c06" opacity="0.39"/>
<ellipse cx="189.57" cy="419.11" rx="2.69" ry="1.74" transform="rotate(102.71 189.57 419.11)" fill="#a83410" opacity="0.65"/>
<ellipse cx="189.57" cy="419.11" rx="1.35" ry="1.13" transform="rotate(102.71 189.57 419.11)" fill="none" stroke="#e0781c" stroke-width="0.7" opacity="0.86"/>
<path d="M141.09,403.16 Q149.17,405 157.45,404.51 Q149.37,402.67 141.09,403.16Z" fill="#5a1c06" opacity="0.33"/>
<ellipse cx="149.27" cy="403.83" rx="2.86" ry="1.95" transform="rotate(13.03 149.27 403.83)" fill="#a83410" opacity="0.54"/>
<ellipse cx="149.27" cy="403.83" rx="1.51" ry="1.26" transform="rotate(13.03 149.27 403.83)" fill="none" stroke="#e0781c" stroke-width="0.7" opacity="0.72"/>
<path d="M142.65,464.58 Q148.59,467.11 155.04,467.45 Q149.1,464.91 142.65,464.58Z" fill="#5a1c06" opacity="0.31"/>
<ellipse cx="148.84" cy="466.01" rx="2.8" ry="1.88" transform="rotate(11.99 148.84 466.01)" fill="#a83410" opacity="0.51"/>
<ellipse cx="148.84" cy="466.01" rx="1.53" ry="1.28" transform="rotate(11.99 148.84 466.01)" fill="none" stroke="#e0781c" stroke-width="0.7" opacity="0.68"/>
<path d="M163.93,436.71 Q167.72,441.44 173,444.43 Q169.21,439.7 163.93,436.71Z" fill="#5a1c06" opacity="0.44"/>
<ellipse cx="168.47" cy="440.57" rx="2.29" ry="1.91" transform="rotate(48.21 168.47 440.57)" fill="#a83410" opacity="0.73"/>
<ellipse cx="168.47" cy="440.57" rx="1.26" ry="1.05" transform="rotate(48.21 168.47 440.57)" fill="none" stroke="#e0781c" stroke-width="0.7" opacity="0.98"/>
<path d="M121.46,442.79 Q127.21,445.39 133.51,445.86 Q127.75,443.26 121.46,442.79Z" fill="#5a1c06" opacity="0.35"/>
<ellipse cx="127.48" cy="444.33" rx="2.34" ry="1.82" transform="rotate(9.07 127.48 444.33)" fill="#a83410" opacity="0.58"/>
<ellipse cx="127.48" cy="444.33" rx="1.3" ry="1.09" transform="rotate(9.07 127.48 444.33)" fill="none" stroke="#e0781c" stroke-width="0.7" opacity="0.78"/>
<path d="M191.47,465.77 Q190.81,470.91 192.35,475.87 Q193.01,470.72 191.47,465.77Z" fill="#5a1c06" opacity="0.31"/>
<ellipse cx="191.91" cy="470.82" rx="2.32" ry="1.84" transform="rotate(90.02 191.91 470.82)" fill="#a83410" opacity="0.52"/>
<ellipse cx="191.91" cy="470.82" rx="1.21" ry="1" transform="rotate(90.02 191.91 470.82)" fill="none" stroke="#e0781c" stroke-width="0.7" opacity="0.69"/>
<path d="M193.69,434.49 Q187.68,438.04 183.02,443.24 Q189.03,439.69 193.69,434.49Z" fill="#5a1c06" opacity="0.36"/>
<ellipse cx="188.35" cy="438.87" rx="2.59" ry="1.78" transform="rotate(131.95 188.35 438.87)" fill="#a83410" opacity="0.6"/>
<ellipse cx="188.35" cy="438.87" rx="1.24" ry="1.03" transform="rotate(131.95 188.35 438.87)" fill="none" stroke="#e0781c" stroke-width="0.7" opacity="0.8"/>
<path d="M130.81,455.03 Q123.31,458.85 117.1,464.53 Q124.6,460.72 130.81,455.03Z" fill="#5a1c06" opacity="0.45"/>
<ellipse cx="123.96" cy="459.78" rx="2.5" ry="1.9" transform="rotate(147.41 123.96 459.78)" fill="#a83410" opacity="0.74"/>
<ellipse cx="123.96" cy="459.78" rx="1.38" ry="1.15" transform="rotate(147.41 123.96 459.78)" fill="none" stroke="#e0781c" stroke-width="0.7" opacity="0.99"/>
<path d="M158.6,417.26 Q152.61,423.15 148.36,430.4 Q154.35,424.51 158.6,417.26Z" fill="#5a1c06" opacity="0.45"/>
<ellipse cx="153.48" cy="423.83" rx="2.89" ry="1.84" transform="rotate(123.79 153.48 423.83)" fill="#a83410" opacity="0.75"/>
<ellipse cx="153.48" cy="423.83" rx="1.43" ry="1.19" transform="rotate(123.79 153.48 423.83)" fill="none" stroke="#e0781c" stroke-width="0.7" opacity="1"/>
<path d="M126,401.34 Q127.47,406.76 130.8,411.28 Q129.33,405.86 126,401.34Z" fill="#5a1c06" opacity="0.26"/>
<ellipse cx="128.4" cy="406.31" rx="2.44" ry="1.72" transform="rotate(72.85 128.4 406.31)" fill="#a83410" opacity="0.44"/>
<ellipse cx="128.4" cy="406.31" rx="1.47" ry="1.22" transform="rotate(72.85 128.4 406.31)" fill="none" stroke="#e0781c" stroke-width="0.7" opacity="0.58"/>
<path d="M195.01,449.1 Q199.16,456.44 204.98,462.53 Q200.83,455.2 195.01,449.1Z" fill="#5a1c06" opacity="0.34"/>
<ellipse cx="199.99" cy="455.82" rx="2.31" ry="1.73" transform="rotate(46.01 199.99 455.82)" fill="#a83410" opacity="0.56"/>
<ellipse cx="199.99" cy="455.82" rx="1.44" ry="1.2" transform="rotate(46.01 199.99 455.82)" fill="none" stroke="#e0781c" stroke-width="0.7" opacity="0.75"/>
</g></g>
<clipPath id="c8"><rect x="220.2" y="400.8" width="101.3" height="72.4"/></clipPath>
<g clip-path="url(#c8)">
<rect x="220.2" y="400.8" width="101.3" height="72.4" fill="#130407"/>
<g filter="url(#cb)">
<path d="M309.24,405.84 Q316.7,411.85 325.3,416.08 Q317.83,410.08 309.24,405.84Z" fill="#2a3a0c" opacity="0.25"/>
<ellipse cx="317.27" cy="410.96" rx="2.97" ry="1.75" transform="rotate(40.81 317.27 410.96)" fill="#4e6c16" opacity="0.42"/>
<ellipse cx="317.27" cy="410.96" rx="1.29" ry="1.07" transform="rotate(40.81 317.27 410.96)" fill="none" stroke="#90b030" stroke-width="0.7" opacity="0.56"/>
<path d="M329.66,413.98 Q321.34,412.97 313.07,414.3 Q321.38,415.31 329.66,413.98Z" fill="#2a3a0c" opacity="0.27"/>
<ellipse cx="321.36" cy="414.14" rx="2.45" ry="1.96" transform="rotate(179.84 321.36 414.14)" fill="#4e6c16" opacity="0.45"/>
<ellipse cx="321.36" cy="414.14" rx="1.38" ry="1.15" transform="rotate(179.84 321.36 414.14)" fill="none" stroke="#90b030" stroke-width="0.7" opacity="0.6"/>
<path d="M279.69,422.79 Q285.75,426.77 292.69,428.86 Q286.63,424.88 279.69,422.79Z" fill="#2a3a0c" opacity="0.43"/>
<ellipse cx="286.19" cy="425.82" rx="2.88" ry="1.74" transform="rotate(34.6 286.19 425.82)" fill="#4e6c16" opacity="0.71"/>
<ellipse cx="286.19" cy="425.82" rx="1.3" ry="1.08" transform="rotate(34.6 286.19 425.82)" fill="none" stroke="#90b030" stroke-width="0.7" opacity="0.95"/>
<path d="M241.27,464.15 Q242.64,470.67 246.08,476.38 Q244.71,469.86 241.27,464.15Z" fill="#2a3a0c" opacity="0.31"/>
<ellipse cx="243.68" cy="470.27" rx="2.93" ry="1.85" transform="rotate(73.38 243.68 470.27)" fill="#4e6c16" opacity="0.52"/>
<ellipse cx="243.68" cy="470.27" rx="1.56" ry="1.3" transform="rotate(73.38 243.68 470.27)" fill="none" stroke="#90b030" stroke-width="0.7" opacity="0.69"/>
<path d="M271.88,466.97 Q280.94,469.38 290.31,469.6 Q281.25,467.18 271.88,466.97Z" fill="#2a3a0c" opacity="0.39"/>
<ellipse cx="281.1" cy="468.28" rx="2.73" ry="1.85" transform="rotate(11.36 281.1 468.28)" fill="#4e6c16" opacity="0.64"/>
<ellipse cx="281.1" cy="468.28" rx="1.45" ry="1.21" transform="rotate(11.36 281.1 468.28)" fill="none" stroke="#90b030" stroke-width="0.7" opacity="0.86"/>
<path d="M312.61,443.24 Q312.56,452.23 314.96,460.9 Q315.01,451.9 312.61,443.24Z" fill="#2a3a0c" opacity="0.26"/>
<ellipse cx="313.79" cy="452.07" rx="2.75" ry="2.06" transform="rotate(89.56 313.79 452.07)" fill="#4e6c16" opacity="0.43"/>
<ellipse cx="313.79" cy="452.07" rx="1.22" ry="1.02" transform="rotate(89.56 313.79 452.07)" fill="none" stroke="#90b030" stroke-width="0.7" opacity="0.57"/>
<path d="M320.1,441.97 Q309.33,442.43 298.86,445 Q309.63,444.54 320.1,441.97Z" fill="#2a3a0c" opacity="0.31"/>
<ellipse cx="309.48" cy="443.48" rx="2.64" ry="1.78" transform="rotate(170.29 309.48 443.48)" fill="#4e6c16" opacity="0.52"/>
<ellipse cx="309.48" cy="443.48" rx="1.46" ry="1.22" transform="rotate(170.29 309.48 443.48)" fill="none" stroke="#90b030" stroke-width="0.7" opacity="0.69"/>
<path d="M248.57,457.33 Q238.93,461.36 230.35,467.32 Q239.99,463.3 248.57,457.33Z" fill="#2a3a0c" opacity="0.37"/>
<ellipse cx="239.46" cy="462.33" rx="2.5" ry="1.84" transform="rotate(158.57 239.46 462.33)" fill="#4e6c16" opacity="0.61"/>
<ellipse cx="239.46" cy="462.33" rx="1.48" ry="1.23" transform="rotate(158.57 239.46 462.33)" fill="none" stroke="#90b030" stroke-width="0.7" opacity="0.81"/>
<path d="M305.43,452.39 Q314.73,457.92 325,461.28 Q315.71,455.75 305.43,452.39Z" fill="#2a3a0c" opacity="0.44"/>
<ellipse cx="315.22" cy="456.83" rx="2.78" ry="1.98" transform="rotate(17.57 315.22 456.83)" fill="#4e6c16" opacity="0.74"/>
<ellipse cx="315.22" cy="456.83" rx="1.38" ry="1.15" transform="rotate(17.57 315.22 456.83)" fill="none" stroke="#90b030" stroke-width="0.7" opacity="0.98"/>
<path d="M269.95,447.48 Q277.05,452.38 285.18,455.24 Q278.09,450.34 269.95,447.48Z" fill="#2a3a0c" opacity="0.37"/>
<ellipse cx="277.57" cy="451.36" rx="2.41" ry="1.91" transform="rotate(35.58 277.57 451.36)" fill="#4e6c16" opacity="0.62"/>
<ellipse cx="277.57" cy="451.36" rx="1.53" ry="1.27" transform="rotate(35.58 277.57 451.36)" fill="none" stroke="#90b030" stroke-width="0.7" opacity="0.83"/>
<path d="M245.32,462.92 Q245.32,470.22 247.43,477.21 Q247.44,469.91 245.32,462.92Z" fill="#2a3a0c" opacity="0.31"/>
<ellipse cx="246.38" cy="470.07" rx="2.79" ry="1.79" transform="rotate(91.34 246.38 470.07)" fill="#4e6c16" opacity="0.52"/>
<ellipse cx="246.38" cy="470.07" rx="1.32" ry="1.1" transform="rotate(91.34 246.38 470.07)" fill="none" stroke="#90b030" stroke-width="0.7" opacity="0.69"/>
<path d="M293.62,461.5 Q298.41,470.54 305.03,478.33 Q300.25,469.29 293.62,461.5Z" fill="#2a3a0c" opacity="0.38"/>
<ellipse cx="299.33" cy="469.92" rx="2.6" ry="1.85" transform="rotate(48.03 299.33 469.92)" fill="#4e6c16" opacity="0.63"/>
<ellipse cx="299.33" cy="469.92" rx="1.26" ry="1.05" transform="rotate(48.03 299.33 469.92)" fill="none" stroke="#90b030" stroke-width="0.7" opacity="0.84"/>
<path d="M230.07,450.66 Q233.54,461.04 239.14,470.43 Q235.68,460.05 230.07,450.66Z" fill="#2a3a0c" opacity="0.38"/>
<ellipse cx="234.61" cy="460.55" rx="2.42" ry="1.97" transform="rotate(71.33 234.61 460.55)" fill="#4e6c16" opacity="0.64"/>
<ellipse cx="234.61" cy="460.55" rx="1.48" ry="1.23" transform="rotate(71.33 234.61 460.55)" fill="none" stroke="#90b030" stroke-width="0.7" opacity="0.85"/>
<path d="M233.73,398.68 Q238.06,405.17 244.16,410.03 Q239.83,403.54 233.73,398.68Z" fill="#2a3a0c" opacity="0.36"/>
<ellipse cx="238.94" cy="404.36" rx="2.31" ry="2.01" transform="rotate(54.01 238.94 404.36)" fill="#4e6c16" opacity="0.59"/>
<ellipse cx="238.94" cy="404.36" rx="1.36" ry="1.13" transform="rotate(54.01 238.94 404.36)" fill="none" stroke="#90b030" stroke-width="0.7" opacity="0.79"/>
<path d="M217.6,462.21 Q222.69,468.59 229.34,473.34 Q224.24,466.96 217.6,462.21Z" fill="#2a3a0c" opacity="0.35"/>
<ellipse cx="223.47" cy="467.78" rx="2.59" ry="1.88" transform="rotate(41.71 223.47 467.78)" fill="#4e6c16" opacity="0.58"/>
<ellipse cx="223.47" cy="467.78" rx="1.3" ry="1.09" transform="rotate(41.71 223.47 467.78)" fill="none" stroke="#90b030" stroke-width="0.7" opacity="0.78"/>
<path d="M264.27,428.31 Q272.35,431.46 280.94,432.57 Q272.86,429.43 264.27,428.31Z" fill="#2a3a0c" opacity="0.38"/>
<ellipse cx="272.6" cy="430.44" rx="2.36" ry="1.74" transform="rotate(17.12 272.6 430.44)" fill="#4e6c16" opacity="0.64"/>
<ellipse cx="272.6" cy="430.44" rx="1.49" ry="1.24" transform="rotate(17.12 272.6 430.44)" fill="none" stroke="#90b030" stroke-width="0.7" opacity="0.85"/>
<path d="M312.07,416.81 Q311.8,423.24 314,429.29 Q314.28,422.86 312.07,416.81Z" fill="#2a3a0c" opacity="0.32"/>
<ellipse cx="313.04" cy="423.05" rx="2.8" ry="2.09" transform="rotate(90.89 313.04 423.05)" fill="#4e6c16" opacity="0.54"/>
<ellipse cx="313.04" cy="423.05" rx="1.25" ry="1.04" transform="rotate(90.89 313.04 423.05)" fill="none" stroke="#90b030" stroke-width="0.7" opacity="0.72"/>
<path d="M277.72,414.72 Q278.04,422.56 280.72,429.94 Q280.39,422.09 277.72,414.72Z" fill="#2a3a0c" opacity="0.37"/>
<ellipse cx="279.22" cy="422.33" rx="2.7" ry="2" transform="rotate(69.54 279.22 422.33)" fill="#4e6c16" opacity="0.61"/>
<ellipse cx="279.22" cy="422.33" rx="1.2" ry="1" transform="rotate(69.54 279.22 422.33)" fill="none" stroke="#90b030" stroke-width="0.7" opacity="0.82"/>
<path d="M281,430.05 Q274.79,431.03 269.43,434.32 Q275.64,433.34 281,430.05Z" fill="#2a3a0c" opacity="0.38"/>
<ellipse cx="275.22" cy="432.18" rx="2.45" ry="2.05" transform="rotate(150.42 275.22 432.18)" fill="#4e6c16" opacity="0.64"/>
<ellipse cx="275.22" cy="432.18" rx="1.47" ry="1.23" transform="rotate(150.42 275.22 432.18)" fill="none" stroke="#90b030" stroke-width="0.7" opacity="0.85"/>
<path d="M284.55,406.63 Q273.66,406.12 262.88,407.73 Q273.76,408.24 284.55,406.63Z" fill="#2a3a0c" opacity="0.45"/>
<ellipse cx="273.71" cy="407.18" rx="2.71" ry="1.77" transform="rotate(178.28 273.71 407.18)" fill="#4e6c16" opacity="0.75"/>
<ellipse cx="273.71" cy="407.18" rx="1.23" ry="1.03" transform="rotate(178.28 273.71 407.18)" fill="none" stroke="#90b030" stroke-width="0.7" opacity="1"/>
<path d="M257.57,425.42 Q255.12,431.84 254.89,438.7 Q257.34,432.28 257.57,425.42Z" fill="#2a3a0c" opacity="0.33"/>
<ellipse cx="256.23" cy="432.06" rx="2.65" ry="1.89" transform="rotate(108.97 256.23 432.06)" fill="#4e6c16" opacity="0.55"/>
<ellipse cx="256.23" cy="432.06" rx="1.41" ry="1.17" transform="rotate(108.97 256.23 432.06)" fill="none" stroke="#90b030" stroke-width="0.7" opacity="0.73"/>
<path d="M313.65,460.13 Q313.24,469.82 315.06,479.34 Q315.48,469.65 313.65,460.13Z" fill="#2a3a0c" opacity="0.35"/>
<ellipse cx="314.36" cy="469.74" rx="2.39" ry="1.88" transform="rotate(81.48 314.36 469.74)" fill="#4e6c16" opacity="0.59"/>
<ellipse cx="314.36" cy="469.74" rx="1.37" ry="1.14" transform="rotate(81.48 314.36 469.74)" fill="none" stroke="#90b030" stroke-width="0.7" opacity="0.78"/>
<path d="M258.37,401.23 Q259.78,408.16 263.2,414.35 Q261.79,407.42 258.37,401.23Z" fill="#2a3a0c" opacity="0.43"/>
<ellipse cx="260.79" cy="407.79" rx="2.55" ry="1.79" transform="rotate(70.88 260.79 407.79)" fill="#4e6c16" opacity="0.71"/>
<ellipse cx="260.79" cy="407.79" rx="1.24" ry="1.03" transform="rotate(70.88 260.79 407.79)" fill="none" stroke="#90b030" stroke-width="0.7" opacity="0.95"/>
<path d="M241.31,435.55 Q236.64,439.66 233.82,445.21 Q238.48,441.09 241.31,435.55Z" fill="#2a3a0c" opacity="0.32"/>
<ellipse cx="237.56" cy="440.38" rx="2.8" ry="1.94" transform="rotate(130.53 237.56 440.38)" fill="#4e6c16" opacity="0.53"/>
<ellipse cx="237.56" cy="440.38" rx="1.36" ry="1.13" transform="rotate(130.53 237.56 440.38)" fill="none" stroke="#90b030" stroke-width="0.7" opacity="0.71"/>
<path d="M245.5,423.62 Q253.03,427.78 261.41,429.7 Q253.88,425.54 245.5,423.62Z" fill="#2a3a0c" opacity="0.29"/>
<ellipse cx="253.46" cy="426.66" rx="2.98" ry="2" transform="rotate(16.8 253.46 426.66)" fill="#4e6c16" opacity="0.48"/>
<ellipse cx="253.46" cy="426.66" rx="1.27" ry="1.06" transform="rotate(16.8 253.46 426.66)" fill="none" stroke="#90b030" stroke-width="0.7" opacity="0.64"/>
<path d="M216.06,434.75 Q223.32,440.59 231.83,444.38 Q224.57,438.54 216.06,434.75Z" fill="#2a3a0c" opacity="0.41"/>
<ellipse cx="223.95" cy="439.57" rx="2.67" ry="2" transform="rotate(41.3 223.95 439.57)" fill="#4e6c16" opacity="0.68"/>
<ellipse cx="223.95" cy="439.57" rx="1.42" ry="1.18" transform="rotate(41.3 223.95 439.57)" fill="none" stroke="#90b030" stroke-width="0.7" opacity="0.91"/>
<path d="M295.87,411.31 Q285.28,414.24 275.63,419.46 Q286.21,416.54 295.87,411.31Z" fill="#2a3a0c" opacity="0.39"/>
<ellipse cx="285.75" cy="415.39" rx="2.82" ry="2.07" transform="rotate(163.59 285.75 415.39)" fill="#4e6c16" opacity="0.65"/>
<ellipse cx="285.75" cy="415.39" rx="1.31" ry="1.09" transform="rotate(163.59 285.75 415.39)" fill="none" stroke="#90b030" stroke-width="0.7" opacity="0.86"/>
<path d="M228.34,420.22 Q224.41,430.24 222.61,440.85 Q226.55,430.83 228.34,420.22Z" fill="#2a3a0c" opacity="0.42"/>
<ellipse cx="225.48" cy="430.54" rx="2.98" ry="1.85" transform="rotate(98.52 225.48 430.54)" fill="#4e6c16" opacity="0.69"/>
<ellipse cx="225.48" cy="430.54" rx="1.39" ry="1.15" transform="rotate(98.52 225.48 430.54)" fill="none" stroke="#90b030" stroke-width="0.7" opacity="0.92"/>
<path d="M317.17,427.63 Q312.45,433.55 309.82,440.66 Q314.55,434.74 317.17,427.63Z" fill="#2a3a0c" opacity="0.42"/>
<ellipse cx="313.5" cy="434.15" rx="2.97" ry="2.01" transform="rotate(112.52 313.5 434.15)" fill="#4e6c16" opacity="0.7"/>
<ellipse cx="313.5" cy="434.15" rx="1.27" ry="1.06" transform="rotate(112.52 313.5 434.15)" fill="none" stroke="#90b030" stroke-width="0.7" opacity="0.93"/>
<path d="M267.2,432.03 Q269.62,439.3 274.2,445.43 Q271.79,438.17 267.2,432.03Z" fill="#2a3a0c" opacity="0.37"/>
<ellipse cx="270.7" cy="438.73" rx="2.97" ry="2.04" transform="rotate(66.6 270.7 438.73)" fill="#4e6c16" opacity="0.61"/>
<ellipse cx="270.7" cy="438.73" rx="1.42" ry="1.18" transform="rotate(66.6 270.7 438.73)" fill="none" stroke="#90b030" stroke-width="0.7" opacity="0.81"/>
<path d="M329.56,451.05 Q320.15,453.49 311.67,458.24 Q321.08,455.8 329.56,451.05Z" fill="#2a3a0c" opacity="0.34"/>
<ellipse cx="320.62" cy="454.64" rx="2.78" ry="2.07" transform="rotate(151.67 320.62 454.64)" fill="#4e6c16" opacity="0.57"/>
<ellipse cx="320.62" cy="454.64" rx="1.42" ry="1.18" transform="rotate(151.67 320.62 454.64)" fill="none" stroke="#90b030" stroke-width="0.7" opacity="0.76"/>
<path d="M291.19,439.15 Q292.79,447.72 296.55,455.59 Q294.95,447.02 291.19,439.15Z" fill="#2a3a0c" opacity="0.32"/>
<ellipse cx="293.87" cy="447.37" rx="2.6" ry="1.9" transform="rotate(65.19 293.87 447.37)" fill="#4e6c16" opacity="0.53"/>
<ellipse cx="293.87" cy="447.37" rx="1.3" ry="1.08" transform="rotate(65.19 293.87 447.37)" fill="none" stroke="#90b030" stroke-width="0.7" opacity="0.71"/>
<path d="M291.57,459.49 Q299.55,461.23 307.71,460.82 Q299.73,459.07 291.57,459.49Z" fill="#2a3a0c" opacity="0.37"/>
<ellipse cx="299.64" cy="460.15" rx="2.81" ry="1.81" transform="rotate(12.35 299.64 460.15)" fill="#4e6c16" opacity="0.62"/>
<ellipse cx="299.64" cy="460.15" rx="1.5" ry="1.25" transform="rotate(12.35 299.64 460.15)" fill="none" stroke="#90b030" stroke-width="0.7" opacity="0.82"/>
<path d="M309.66,396.11 Q314.84,402.98 321.74,408.13 Q316.55,401.26 309.66,396.11Z" fill="#2a3a0c" opacity="0.35"/>
<ellipse cx="315.7" cy="402.12" rx="2.5" ry="2.02" transform="rotate(49.31 315.7 402.12)" fill="#4e6c16" opacity="0.58"/>
<ellipse cx="315.7" cy="402.12" rx="1.52" ry="1.27" transform="rotate(49.31 315.7 402.12)" fill="none" stroke="#90b030" stroke-width="0.7" opacity="0.78"/>
<path d="M282.6,415.69 Q283.25,425.69 286.37,435.23 Q285.71,425.22 282.6,415.69Z" fill="#2a3a0c" opacity="0.28"/>
<ellipse cx="284.48" cy="425.46" rx="2.55" ry="2.09" transform="rotate(74.12 284.48 425.46)" fill="#4e6c16" opacity="0.47"/>
<ellipse cx="284.48" cy="425.46" rx="1.29" ry="1.07" transform="rotate(74.12 284.48 425.46)" fill="none" stroke="#90b030" stroke-width="0.7" opacity="0.63"/>
<path d="M297.23,428.57 Q289.74,431.17 283.39,435.93 Q290.88,433.33 297.23,428.57Z" fill="#2a3a0c" opacity="0.3"/>
<ellipse cx="290.31" cy="432.25" rx="2.72" ry="2.03" transform="rotate(146.39 290.31 432.25)" fill="#4e6c16" opacity="0.5"/>
<ellipse cx="290.31" cy="432.25" rx="1.49" ry="1.24" transform="rotate(146.39 290.31 432.25)" fill="none" stroke="#90b030" stroke-width="0.7" opacity="0.67"/>
<path d="M222.21,460.09 Q223.26,471.07 226.68,481.56 Q225.62,470.57 222.21,460.09Z" fill="#2a3a0c" opacity="0.32"/>
<ellipse cx="224.44" cy="470.82" rx="2.76" ry="2.01" transform="rotate(69.83 224.44 470.82)" fill="#4e6c16" opacity="0.53"/>
<ellipse cx="224.44" cy="470.82" rx="1.48" ry="1.24" transform="rotate(69.83 224.44 470.82)" fill="none" stroke="#90b030" stroke-width="0.7" opacity="0.71"/>
<path d="M226.28,413.86 Q231.68,417.55 238.05,419.07 Q232.64,415.38 226.28,413.86Z" fill="#2a3a0c" opacity="0.3"/>
<ellipse cx="232.16" cy="416.46" rx="2.73" ry="1.97" transform="rotate(24.62 232.16 416.46)" fill="#4e6c16" opacity="0.5"/>
<ellipse cx="232.16" cy="416.46" rx="1.51" ry="1.26" transform="rotate(24.62 232.16 416.46)" fill="none" stroke="#90b030" stroke-width="0.7" opacity="0.66"/>
<path d="M316.85,412.35 Q307.77,412.85 299.04,415.41 Q308.12,414.91 316.85,412.35Z" fill="#2a3a0c" opacity="0.3"/>
<ellipse cx="307.95" cy="413.88" rx="2.95" ry="1.74" transform="rotate(162.98 307.95 413.88)" fill="#4e6c16" opacity="0.51"/>
<ellipse cx="307.95" cy="413.88" rx="1.43" ry="1.2" transform="rotate(162.98 307.95 413.88)" fill="none" stroke="#90b030" stroke-width="0.7" opacity="0.67"/>
<path d="M225.02,425.85 Q228.98,435.43 235.11,443.8 Q231.14,434.22 225.02,425.85Z" fill="#2a3a0c" opacity="0.29"/>
<ellipse cx="230.06" cy="434.83" rx="2.33" ry="2.07" transform="rotate(57.59 230.06 434.83)" fill="#4e6c16" opacity="0.48"/>
<ellipse cx="230.06" cy="434.83" rx="1.33" ry="1.11" transform="rotate(57.59 230.06 434.83)" fill="none" stroke="#90b030" stroke-width="0.7" opacity="0.64"/>
<path d="M262.48,448.91 Q254.38,453.02 247.64,459.1 Q255.74,454.99 262.48,448.91Z" fill="#2a3a0c" opacity="0.43"/>
<ellipse cx="255.06" cy="454.01" rx="2.87" ry="1.99" transform="rotate(149.12 255.06 454.01)" fill="#4e6c16" opacity="0.72"/>
<ellipse cx="255.06" cy="454.01" rx="1.31" ry="1.09" transform="rotate(149.12 255.06 454.01)" fill="none" stroke="#90b030" stroke-width="0.7" opacity="0.97"/>
<path d="M302.32,397.45 Q303.63,403.99 307.08,409.7 Q305.77,403.16 302.32,397.45Z" fill="#2a3a0c" opacity="0.32"/>
<ellipse cx="304.7" cy="403.57" rx="2.53" ry="1.91" transform="rotate(64.35 304.7 403.57)" fill="#4e6c16" opacity="0.54"/>
<ellipse cx="304.7" cy="403.57" rx="1.33" ry="1.1" transform="rotate(64.35 304.7 403.57)" fill="none" stroke="#90b030" stroke-width="0.7" opacity="0.72"/>
<path d="M299.47,398.58 Q305.57,404.11 312.93,407.79 Q306.83,402.27 299.47,398.58Z" fill="#2a3a0c" opacity="0.29"/>
<ellipse cx="306.2" cy="403.19" rx="2.48" ry="1.86" transform="rotate(28.75 306.2 403.19)" fill="#4e6c16" opacity="0.48"/>
<ellipse cx="306.2" cy="403.19" rx="1.24" ry="1.03" transform="rotate(28.75 306.2 403.19)" fill="none" stroke="#90b030" stroke-width="0.7" opacity="0.64"/>
<path d="M261.59,423.29 Q269.27,429.39 278.08,433.69 Q270.4,427.59 261.59,423.29Z" fill="#2a3a0c" opacity="0.4"/>
<ellipse cx="269.84" cy="428.49" rx="2.51" ry="1.77" transform="rotate(40.07 269.84 428.49)" fill="#4e6c16" opacity="0.67"/>
<ellipse cx="269.84" cy="428.49" rx="1.22" ry="1.02" transform="rotate(40.07 269.84 428.49)" fill="none" stroke="#90b030" stroke-width="0.7" opacity="0.89"/>
<path d="M293.96,425.69 Q291.74,434.29 291.94,443.17 Q294.16,434.57 293.96,425.69Z" fill="#2a3a0c" opacity="0.3"/>
<ellipse cx="292.95" cy="434.43" rx="2.82" ry="2.03" transform="rotate(100.05 292.95 434.43)" fill="#4e6c16" opacity="0.5"/>
<ellipse cx="292.95" cy="434.43" rx="1.52" ry="1.26" transform="rotate(100.05 292.95 434.43)" fill="none" stroke="#90b030" stroke-width="0.7" opacity="0.66"/>
<path d="M252.04,413.57 Q242.87,419.16 235.11,426.59 Q244.28,420.99 252.04,413.57Z" fill="#2a3a0c" opacity="0.26"/>
<ellipse cx="243.57" cy="420.08" rx="2.64" ry="1.93" transform="rotate(132.51 243.57 420.08)" fill="#4e6c16" opacity="0.43"/>
<ellipse cx="243.57" cy="420.08" rx="1.54" ry="1.28" transform="rotate(132.51 243.57 420.08)" fill="none" stroke="#90b030" stroke-width="0.7" opacity="0.58"/>
<path d="M281.66,408.89 Q287.1,413.2 293.62,415.56 Q288.19,411.25 281.66,408.89Z" fill="#2a3a0c" opacity="0.43"/>
<ellipse cx="287.64" cy="412.22" rx="2.53" ry="1.86" transform="rotate(23.88 287.64 412.22)" fill="#4e6c16" opacity="0.71"/>
<ellipse cx="287.64" cy="412.22" rx="1.22" ry="1.02" transform="rotate(23.88 287.64 412.22)" fill="none" stroke="#90b030" stroke-width="0.7" opacity="0.95"/>
<path d="M293.55,403.3 Q285.4,403.77 277.72,406.53 Q285.87,406.06 293.55,403.3Z" fill="#2a3a0c" opacity="0.35"/>
<ellipse cx="285.63" cy="404.91" rx="2.71" ry="1.95" transform="rotate(159.74 285.63 404.91)" fill="#4e6c16" opacity="0.58"/>
<ellipse cx="285.63" cy="404.91" rx="1.41" ry="1.17" transform="rotate(159.74 285.63 404.91)" fill="none" stroke="#90b030" stroke-width="0.7" opacity="0.77"/>
<path d="M291.68,400.34 Q280.97,402.74 271.02,407.38 Q281.73,404.98 291.68,400.34Z" fill="#2a3a0c" opacity="0.35"/>
<ellipse cx="281.35" cy="403.86" rx="2.95" ry="1.98" transform="rotate(161.38 281.35 403.86)" fill="#4e6c16" opacity="0.58"/>
<ellipse cx="281.35" cy="403.86" rx="1.33" ry="1.11" transform="rotate(161.38 281.35 403.86)" fill="none" stroke="#90b030" stroke-width="0.7" opacity="0.77"/>
<path d="M231.48,451.78 Q222.7,455.32 214.97,460.77 Q223.75,457.24 231.48,451.78Z" fill="#2a3a0c" opacity="0.25"/>
<ellipse cx="223.22" cy="456.28" rx="2.67" ry="1.82" transform="rotate(151.92 223.22 456.28)" fill="#4e6c16" opacity="0.41"/>
<ellipse cx="223.22" cy="456.28" rx="1.25" ry="1.04" transform="rotate(151.92 223.22 456.28)" fill="none" stroke="#90b030" stroke-width="0.7" opacity="0.55"/>
<path d="M292.34,469.12 Q283.78,470.98 276.1,475.18 Q284.66,473.33 292.34,469.12Z" fill="#2a3a0c" opacity="0.42"/>
<ellipse cx="284.22" cy="472.15" rx="2.65" ry="2.09" transform="rotate(150.81 284.22 472.15)" fill="#4e6c16" opacity="0.7"/>
<ellipse cx="284.22" cy="472.15" rx="1.3" ry="1.09" transform="rotate(150.81 284.22 472.15)" fill="none" stroke="#90b030" stroke-width="0.7" opacity="0.93"/>
<path d="M236.32,432.71 Q243.03,440.39 251.35,446.29 Q244.64,438.61 236.32,432.71Z" fill="#2a3a0c" opacity="0.28"/>
<ellipse cx="243.84" cy="439.5" rx="2.67" ry="2.01" transform="rotate(39.15 243.84 439.5)" fill="#4e6c16" opacity="0.46"/>
<ellipse cx="243.84" cy="439.5" rx="1.24" ry="1.04" transform="rotate(39.15 243.84 439.5)" fill="none" stroke="#90b030" stroke-width="0.7" opacity="0.61"/>
<path d="M250.84,453.41 Q253.85,463.76 258.91,473.28 Q255.9,462.93 250.84,453.41Z" fill="#2a3a0c" opacity="0.41"/>
<ellipse cx="254.87" cy="463.34" rx="2.32" ry="1.85" transform="rotate(70.93 254.87 463.34)" fill="#4e6c16" opacity="0.69"/>
<ellipse cx="254.87" cy="463.34" rx="1.45" ry="1.21" transform="rotate(70.93 254.87 463.34)" fill="none" stroke="#90b030" stroke-width="0.7" opacity="0.92"/>
<path d="M222.84,422.14 Q219.98,427.99 219.41,434.47 Q222.26,428.62 222.84,422.14Z" fill="#2a3a0c" opacity="0.38"/>
<ellipse cx="221.12" cy="428.3" rx="2.4" ry="1.98" transform="rotate(111.86 221.12 428.3)" fill="#4e6c16" opacity="0.63"/>
<ellipse cx="221.12" cy="428.3" rx="1.41" ry="1.17" transform="rotate(111.86 221.12 428.3)" fill="none" stroke="#90b030" stroke-width="0.7" opacity="0.84"/>
<path d="M230.24,454.03 Q237.38,459.86 245.72,463.79 Q238.57,457.96 230.24,454.03Z" fill="#2a3a0c" opacity="0.43"/>
<ellipse cx="237.98" cy="458.91" rx="2.98" ry="1.87" transform="rotate(22.93 237.98 458.91)" fill="#4e6c16" opacity="0.71"/>
<ellipse cx="237.98" cy="458.91" rx="1.24" ry="1.03" transform="rotate(22.93 237.98 458.91)" fill="none" stroke="#90b030" stroke-width="0.7" opacity="0.95"/>
<path d="M285.21,428.55 Q276.25,425.87 266.91,425.47 Q275.86,428.16 285.21,428.55Z" fill="#2a3a0c" opacity="0.42"/>
<ellipse cx="276.06" cy="427.01" rx="2.33" ry="1.94" transform="rotate(179.83 276.06 427.01)" fill="#4e6c16" opacity="0.7"/>
<ellipse cx="276.06" cy="427.01" rx="1.33" ry="1.11" transform="rotate(179.83 276.06 427.01)" fill="none" stroke="#90b030" stroke-width="0.7" opacity="0.93"/>
</g></g>
<clipPath id="c9"><rect x="322.9" y="400.8" width="101.3" height="72.4"/></clipPath>
<g clip-path="url(#c9)">
<rect x="322.9" y="400.8" width="101.3" height="72.4" fill="#020402"/>
<g filter="url(#cb)">
<path d="M413.36,458.61 Q415.58,469.78 419.81,480.34 Q417.6,469.18 413.36,458.61Z" fill="#14500c" opacity="0.48"/>
<ellipse cx="416.59" cy="469.48" rx="2.56" ry="1.76" transform="rotate(83.34 416.59 469.48)" fill="#2a9a18" opacity="0.77"/>
<ellipse cx="416.59" cy="469.48" rx="1.38" ry="1.15" transform="rotate(83.34 416.59 469.48)" fill="none" stroke="#50d82c" stroke-width="0.7" opacity="0.96"/>
<path d="M340.31,439.01 Q330.83,442.64 322.42,448.32 Q331.9,444.69 340.31,439.01Z" fill="#14500c" opacity="0.38"/>
<ellipse cx="331.36" cy="443.66" rx="2.36" ry="1.92" transform="rotate(161.69 331.36 443.66)" fill="#2a9a18" opacity="0.62"/>
<ellipse cx="331.36" cy="443.66" rx="1.34" ry="1.11" transform="rotate(161.69 331.36 443.66)" fill="none" stroke="#50d82c" stroke-width="0.7" opacity="0.77"/>
<path d="M380.65,403.59 Q375.58,409.61 372.54,416.88 Q377.62,410.86 380.65,403.59Z" fill="#14500c" opacity="0.34"/>
<ellipse cx="376.6" cy="410.23" rx="2.62" ry="1.99" transform="rotate(126.63 376.6 410.23)" fill="#2a9a18" opacity="0.54"/>
<ellipse cx="376.6" cy="410.23" rx="1.24" ry="1.03" transform="rotate(126.63 376.6 410.23)" fill="none" stroke="#50d82c" stroke-width="0.7" opacity="0.68"/>
<path d="M367.71,405.93 Q366.77,416.83 368.16,427.67 Q369.1,416.78 367.71,405.93Z" fill="#14500c" opacity="0.39"/>
<ellipse cx="367.94" cy="416.8" rx="2.95" ry="1.94" transform="rotate(91.13 367.94 416.8)" fill="#2a9a18" opacity="0.63"/>
<ellipse cx="367.94" cy="416.8" rx="1.47" ry="1.22" transform="rotate(91.13 367.94 416.8)" fill="none" stroke="#50d82c" stroke-width="0.7" opacity="0.78"/>
<path d="M315.23,403.95 Q325.07,408.14 335.59,410.07 Q325.75,405.88 315.23,403.95Z" fill="#14500c" opacity="0.44"/>
<ellipse cx="325.41" cy="407.01" rx="2.5" ry="1.97" transform="rotate(18.3 325.41 407.01)" fill="#2a9a18" opacity="0.71"/>
<ellipse cx="325.41" cy="407.01" rx="1.23" ry="1.03" transform="rotate(18.3 325.41 407.01)" fill="none" stroke="#50d82c" stroke-width="0.7" opacity="0.88"/>
<path d="M357.36,430.52 Q364.84,438.72 373.78,445.31 Q366.3,437.11 357.36,430.52Z" fill="#14500c" opacity="0.45"/>
<ellipse cx="365.57" cy="437.91" rx="2.45" ry="1.81" transform="rotate(48.01 365.57 437.91)" fill="#2a9a18" opacity="0.71"/>
<ellipse cx="365.57" cy="437.91" rx="1.52" ry="1.27" transform="rotate(48.01 365.57 437.91)" fill="none" stroke="#50d82c" stroke-width="0.7" opacity="0.89"/>
<path d="M367.35,400.06 Q358.69,404.02 351.18,409.87 Q359.84,405.92 367.35,400.06Z" fill="#14500c" opacity="0.46"/>
<ellipse cx="359.27" cy="404.97" rx="2.34" ry="1.85" transform="rotate(158.29 359.27 404.97)" fill="#2a9a18" opacity="0.73"/>
<ellipse cx="359.27" cy="404.97" rx="1.35" ry="1.13" transform="rotate(158.29 359.27 404.97)" fill="none" stroke="#50d82c" stroke-width="0.7" opacity="0.91"/>
<path d="M389.92,446.43 Q382.27,447.31 375.24,450.44 Q382.88,449.56 389.92,446.43Z" fill="#14500c" opacity="0.42"/>
<ellipse cx="382.58" cy="448.43" rx="2.38" ry="1.94" transform="rotate(163.15 382.58 448.43)" fill="#2a9a18" opacity="0.68"/>
<ellipse cx="382.58" cy="448.43" rx="1.52" ry="1.27" transform="rotate(163.15 382.58 448.43)" fill="none" stroke="#50d82c" stroke-width="0.7" opacity="0.85"/>
<path d="M412.59,422.68 Q420.76,427.99 429.88,431.45 Q421.71,426.14 412.59,422.68Z" fill="#14500c" opacity="0.45"/>
<ellipse cx="421.24" cy="427.07" rx="2.31" ry="1.73" transform="rotate(36.55 421.24 427.07)" fill="#2a9a18" opacity="0.72"/>
<ellipse cx="421.24" cy="427.07" rx="1.23" ry="1.03" transform="rotate(36.55 421.24 427.07)" fill="none" stroke="#50d82c" stroke-width="0.7" opacity="0.9"/>
<path d="M360.59,433.23 Q359.13,442.17 359.9,451.2 Q361.37,442.26 360.59,433.23Z" fill="#14500c" opacity="0.43"/>
<ellipse cx="360.25" cy="442.22" rx="2.94" ry="1.87" transform="rotate(89.41 360.25 442.22)" fill="#2a9a18" opacity="0.69"/>
<ellipse cx="360.25" cy="442.22" rx="1.23" ry="1.03" transform="rotate(89.41 360.25 442.22)" fill="none" stroke="#50d82c" stroke-width="0.7" opacity="0.86"/>
<path d="M355.87,395.27 Q353.59,406.9 353.63,418.75 Q355.91,407.12 355.87,395.27Z" fill="#14500c" opacity="0.39"/>
<ellipse cx="354.75" cy="407.01" rx="2.42" ry="1.94" transform="rotate(104.36 354.75 407.01)" fill="#2a9a18" opacity="0.63"/>
<ellipse cx="354.75" cy="407.01" rx="1.4" ry="1.17" transform="rotate(104.36 354.75 407.01)" fill="none" stroke="#50d82c" stroke-width="0.7" opacity="0.79"/>
<path d="M401.45,433.1 Q394.68,443.03 389.8,454.02 Q396.57,444.09 401.45,433.1Z" fill="#14500c" opacity="0.39"/>
<ellipse cx="395.62" cy="443.56" rx="2.4" ry="1.81" transform="rotate(109.15 395.62 443.56)" fill="#2a9a18" opacity="0.62"/>
<ellipse cx="395.62" cy="443.56" rx="1.24" ry="1.04" transform="rotate(109.15 395.62 443.56)" fill="none" stroke="#50d82c" stroke-width="0.7" opacity="0.78"/>
<path d="M392.67,405.09 Q387.02,413.48 383.28,422.87 Q388.93,414.48 392.67,405.09Z" fill="#14500c" opacity="0.34"/>
<ellipse cx="387.97" cy="413.98" rx="2.97" ry="1.79" transform="rotate(126.98 387.97 413.98)" fill="#2a9a18" opacity="0.54"/>
<ellipse cx="387.97" cy="413.98" rx="1.33" ry="1.11" transform="rotate(126.98 387.97 413.98)" fill="none" stroke="#50d82c" stroke-width="0.7" opacity="0.67"/>
<path d="M359.18,453.32 Q354.6,459.3 352.14,466.42 Q356.72,460.44 359.18,453.32Z" fill="#14500c" opacity="0.34"/>
<ellipse cx="355.66" cy="459.87" rx="2.71" ry="2.01" transform="rotate(121.34 355.66 459.87)" fill="#2a9a18" opacity="0.54"/>
<ellipse cx="355.66" cy="459.87" rx="1.51" ry="1.26" transform="rotate(121.34 355.66 459.87)" fill="none" stroke="#50d82c" stroke-width="0.7" opacity="0.68"/>
<path d="M337.89,396.51 Q333.41,407.62 331.06,419.37 Q335.55,408.26 337.89,396.51Z" fill="#14500c" opacity="0.31"/>
<ellipse cx="334.48" cy="407.94" rx="2.62" ry="1.86" transform="rotate(105.15 334.48 407.94)" fill="#2a9a18" opacity="0.49"/>
<ellipse cx="334.48" cy="407.94" rx="1.21" ry="1.01" transform="rotate(105.15 334.48 407.94)" fill="none" stroke="#50d82c" stroke-width="0.7" opacity="0.62"/>
<path d="M357.24,437.39 Q350.13,441.38 344.39,447.15 Q351.49,443.17 357.24,437.39Z" fill="#14500c" opacity="0.46"/>
<ellipse cx="350.81" cy="442.27" rx="2.53" ry="1.87" transform="rotate(143.89 350.81 442.27)" fill="#2a9a18" opacity="0.74"/>
<ellipse cx="350.81" cy="442.27" rx="1.32" ry="1.1" transform="rotate(143.89 350.81 442.27)" fill="none" stroke="#50d82c" stroke-width="0.7" opacity="0.93"/>
<path d="M345.56,426.33 Q356.29,428.6 367.26,428.8 Q356.53,426.52 345.56,426.33Z" fill="#14500c" opacity="0.36"/>
<ellipse cx="356.41" cy="427.56" rx="2.74" ry="1.74" transform="rotate(15.99 356.41 427.56)" fill="#2a9a18" opacity="0.57"/>
<ellipse cx="356.41" cy="427.56" rx="1.48" ry="1.23" transform="rotate(15.99 356.41 427.56)" fill="none" stroke="#50d82c" stroke-width="0.7" opacity="0.72"/>
<path d="M360.92,452.99 Q353.18,456.07 346.63,461.2 Q354.37,458.13 360.92,452.99Z" fill="#14500c" opacity="0.41"/>
<ellipse cx="353.77" cy="457.1" rx="2.65" ry="1.98" transform="rotate(145.36 353.77 457.1)" fill="#2a9a18" opacity="0.66"/>
<ellipse cx="353.77" cy="457.1" rx="1.35" ry="1.13" transform="rotate(145.36 353.77 457.1)" fill="none" stroke="#50d82c" stroke-width="0.7" opacity="0.82"/>
<path d="M343.24,401.89 Q348.24,409.29 354.92,415.22 Q349.92,407.82 343.24,401.89Z" fill="#14500c" opacity="0.46"/>
<ellipse cx="349.08" cy="408.56" rx="2.97" ry="1.86" transform="rotate(41.57 349.08 408.56)" fill="#2a9a18" opacity="0.73"/>
<ellipse cx="349.08" cy="408.56" rx="1.33" ry="1.11" transform="rotate(41.57 349.08 408.56)" fill="none" stroke="#50d82c" stroke-width="0.7" opacity="0.91"/>
<path d="M397.53,453.05 Q393.39,460.35 391.54,468.52 Q395.67,461.23 397.53,453.05Z" fill="#14500c" opacity="0.35"/>
<ellipse cx="394.53" cy="460.79" rx="2.42" ry="2.04" transform="rotate(120.15 394.53 460.79)" fill="#2a9a18" opacity="0.56"/>
<ellipse cx="394.53" cy="460.79" rx="1.55" ry="1.29" transform="rotate(120.15 394.53 460.79)" fill="none" stroke="#50d82c" stroke-width="0.7" opacity="0.7"/>
<path d="M368.81,463.67 Q377.7,468.49 387.5,470.97 Q378.61,466.15 368.81,463.67Z" fill="#14500c" opacity="0.42"/>
<ellipse cx="378.16" cy="467.32" rx="2.96" ry="2.09" transform="rotate(31.1 378.16 467.32)" fill="#2a9a18" opacity="0.67"/>
<ellipse cx="378.16" cy="467.32" rx="1.22" ry="1.02" transform="rotate(31.1 378.16 467.32)" fill="none" stroke="#50d82c" stroke-width="0.7" opacity="0.84"/>
<path d="M408.94,406.18 Q418.01,413.87 428.41,419.64 Q419.34,411.95 408.94,406.18Z" fill="#14500c" opacity="0.5"/>
<ellipse cx="418.68" cy="412.91" rx="2.57" ry="1.94" transform="rotate(37.55 418.68 412.91)" fill="#2a9a18" opacity="0.79"/>
<ellipse cx="418.68" cy="412.91" rx="1.25" ry="1.04" transform="rotate(37.55 418.68 412.91)" fill="none" stroke="#50d82c" stroke-width="0.7" opacity="0.99"/>
<path d="M331.11,421.49 Q327.56,430.66 326.02,440.38 Q329.57,431.21 331.11,421.49Z" fill="#14500c" opacity="0.3"/>
<ellipse cx="328.56" cy="430.93" rx="2.4" ry="1.73" transform="rotate(101.15 328.56 430.93)" fill="#2a9a18" opacity="0.49"/>
<ellipse cx="328.56" cy="430.93" rx="1.22" ry="1.02" transform="rotate(101.15 328.56 430.93)" fill="none" stroke="#50d82c" stroke-width="0.7" opacity="0.61"/>
<path d="M404.75,441.64 Q403.71,450.57 405.07,459.47 Q406.11,450.53 404.75,441.64Z" fill="#14500c" opacity="0.49"/>
<ellipse cx="404.91" cy="450.55" rx="2.79" ry="2.01" transform="rotate(81.25 404.91 450.55)" fill="#2a9a18" opacity="0.79"/>
<ellipse cx="404.91" cy="450.55" rx="1.26" ry="1.05" transform="rotate(81.25 404.91 450.55)" fill="none" stroke="#50d82c" stroke-width="0.7" opacity="0.99"/>
<path d="M409.29,461.36 Q403.38,468.87 399.6,477.63 Q405.5,470.13 409.29,461.36Z" fill="#14500c" opacity="0.41"/>
<ellipse cx="404.44" cy="469.5" rx="2.84" ry="2.05" transform="rotate(128.78 404.44 469.5)" fill="#2a9a18" opacity="0.65"/>
<ellipse cx="404.44" cy="469.5" rx="1.22" ry="1.01" transform="rotate(128.78 404.44 469.5)" fill="none" stroke="#50d82c" stroke-width="0.7" opacity="0.82"/>
<path d="M424.4,447.74 Q421.86,454.81 421.62,462.32 Q424.16,455.25 424.4,447.74Z" fill="#14500c" opacity="0.37"/>
<ellipse cx="423.01" cy="455.03" rx="2.42" ry="1.95" transform="rotate(95.19 423.01 455.03)" fill="#2a9a18" opacity="0.59"/>
<ellipse cx="423.01" cy="455.03" rx="1.28" ry="1.07" transform="rotate(95.19 423.01 455.03)" fill="none" stroke="#50d82c" stroke-width="0.7" opacity="0.74"/>
<path d="M411.81,428.08 Q421.6,429.22 431.4,428.11 Q421.61,426.97 411.81,428.08Z" fill="#14500c" opacity="0.34"/>
<ellipse cx="421.61" cy="428.09" rx="2.42" ry="1.88" transform="rotate(2.34 421.61 428.09)" fill="#2a9a18" opacity="0.54"/>
<ellipse cx="421.61" cy="428.09" rx="1.26" ry="1.05" transform="rotate(2.34 421.61 428.09)" fill="none" stroke="#50d82c" stroke-width="0.7" opacity="0.68"/>
<path d="M328.02,423.11 Q329.47,434.79 333.15,445.96 Q331.71,434.28 328.02,423.11Z" fill="#14500c" opacity="0.34"/>
<ellipse cx="330.59" cy="434.54" rx="2.96" ry="1.91" transform="rotate(86.77 330.59 434.54)" fill="#2a9a18" opacity="0.54"/>
<ellipse cx="330.59" cy="434.54" rx="1.56" ry="1.3" transform="rotate(86.77 330.59 434.54)" fill="none" stroke="#50d82c" stroke-width="0.7" opacity="0.68"/>
<path d="M426.95,467.63 Q417.24,468.49 407.99,471.59 Q417.71,470.73 426.95,467.63Z" fill="#14500c" opacity="0.34"/>
<ellipse cx="417.47" cy="469.61" rx="2.68" ry="1.91" transform="rotate(160.02 417.47 469.61)" fill="#2a9a18" opacity="0.55"/>
<ellipse cx="417.47" cy="469.61" rx="1.22" ry="1.02" transform="rotate(160.02 417.47 469.61)" fill="none" stroke="#50d82c" stroke-width="0.7" opacity="0.69"/>
<path d="M338.72,429.91 Q332.44,438.55 328.05,448.29 Q334.33,439.65 338.72,429.91Z" fill="#14500c" opacity="0.33"/>
<ellipse cx="333.38" cy="439.1" rx="2.68" ry="1.82" transform="rotate(115.71 333.38 439.1)" fill="#2a9a18" opacity="0.53"/>
<ellipse cx="333.38" cy="439.1" rx="1.24" ry="1.03" transform="rotate(115.71 333.38 439.1)" fill="none" stroke="#50d82c" stroke-width="0.7" opacity="0.67"/>
<path d="M382.59,450.57 Q376.96,459.13 373.35,468.73 Q378.99,460.17 382.59,450.57Z" fill="#14500c" opacity="0.35"/>
<ellipse cx="377.97" cy="459.65" rx="2.62" ry="1.9" transform="rotate(125.91 377.97 459.65)" fill="#2a9a18" opacity="0.56"/>
<ellipse cx="377.97" cy="459.65" rx="1.42" ry="1.18" transform="rotate(125.91 377.97 459.65)" fill="none" stroke="#50d82c" stroke-width="0.7" opacity="0.7"/>
<path d="M362.14,455.47 Q364.6,466.36 369.1,476.58 Q366.64,465.69 362.14,455.47Z" fill="#14500c" opacity="0.39"/>
<ellipse cx="365.62" cy="466.02" rx="2.92" ry="1.79" transform="rotate(67.17 365.62 466.02)" fill="#2a9a18" opacity="0.62"/>
<ellipse cx="365.62" cy="466.02" rx="1.42" ry="1.19" transform="rotate(67.17 365.62 466.02)" fill="none" stroke="#50d82c" stroke-width="0.7" opacity="0.78"/>
<path d="M367.15,462.16 Q357.25,464.3 348.09,468.65 Q358,466.51 367.15,462.16Z" fill="#14500c" opacity="0.46"/>
<ellipse cx="357.62" cy="465.4" rx="2.33" ry="1.94" transform="rotate(157.65 357.62 465.4)" fill="#2a9a18" opacity="0.74"/>
<ellipse cx="357.62" cy="465.4" rx="1.35" ry="1.12" transform="rotate(157.65 357.62 465.4)" fill="none" stroke="#50d82c" stroke-width="0.7" opacity="0.93"/>
<path d="M405.69,450.08 Q413.51,451.76 421.47,451.1 Q413.66,449.43 405.69,450.08Z" fill="#14500c" opacity="0.38"/>
<ellipse cx="413.58" cy="450.59" rx="2.43" ry="1.94" transform="rotate(12.41 413.58 450.59)" fill="#2a9a18" opacity="0.61"/>
<ellipse cx="413.58" cy="450.59" rx="1.33" ry="1.11" transform="rotate(12.41 413.58 450.59)" fill="none" stroke="#50d82c" stroke-width="0.7" opacity="0.77"/>
<path d="M391.46,450.13 Q392.09,461.03 394.74,471.63 Q394.12,460.72 391.46,450.13Z" fill="#14500c" opacity="0.43"/>
<ellipse cx="393.1" cy="460.88" rx="2.67" ry="1.71" transform="rotate(84.64 393.1 460.88)" fill="#2a9a18" opacity="0.68"/>
<ellipse cx="393.1" cy="460.88" rx="1.48" ry="1.23" transform="rotate(84.64 393.1 460.88)" fill="none" stroke="#50d82c" stroke-width="0.7" opacity="0.86"/>
<path d="M335.4,419.85 Q346.83,423.32 358.71,424.5 Q347.28,421.04 335.4,419.85Z" fill="#14500c" opacity="0.38"/>
<ellipse cx="347.05" cy="422.18" rx="2.97" ry="1.94" transform="rotate(1.54 347.05 422.18)" fill="#2a9a18" opacity="0.61"/>
<ellipse cx="347.05" cy="422.18" rx="1.5" ry="1.25" transform="rotate(1.54 347.05 422.18)" fill="none" stroke="#50d82c" stroke-width="0.7" opacity="0.76"/>
<path d="M390.45,438.69 Q400.83,442.18 411.69,443.58 Q401.31,440.09 390.45,438.69Z" fill="#14500c" opacity="0.41"/>
<ellipse cx="401.07" cy="441.13" rx="2.54" ry="1.79" transform="rotate(19.12 401.07 441.13)" fill="#2a9a18" opacity="0.66"/>
<ellipse cx="401.07" cy="441.13" rx="1.28" ry="1.07" transform="rotate(19.12 401.07 441.13)" fill="none" stroke="#50d82c" stroke-width="0.7" opacity="0.82"/>
<path d="M395.29,405.11 Q406.26,409.84 417.97,412.2 Q407,407.46 395.29,405.11Z" fill="#14500c" opacity="0.43"/>
<ellipse cx="406.63" cy="408.65" rx="2.38" ry="2.08" transform="rotate(19.91 406.63 408.65)" fill="#2a9a18" opacity="0.68"/>
<ellipse cx="406.63" cy="408.65" rx="1.47" ry="1.22" transform="rotate(19.91 406.63 408.65)" fill="none" stroke="#50d82c" stroke-width="0.7" opacity="0.85"/>
<path d="M354.62,431.31 Q355.49,441.51 358.55,451.28 Q357.67,441.08 354.62,431.31Z" fill="#14500c" opacity="0.47"/>
<ellipse cx="356.58" cy="441.3" rx="2.67" ry="1.85" transform="rotate(84.15 356.58 441.3)" fill="#2a9a18" opacity="0.75"/>
<ellipse cx="356.58" cy="441.3" rx="1.29" ry="1.08" transform="rotate(84.15 356.58 441.3)" fill="none" stroke="#50d82c" stroke-width="0.7" opacity="0.93"/>
<path d="M346.76,458.04 Q346.94,469.81 349.35,481.34 Q349.18,469.57 346.76,458.04Z" fill="#14500c" opacity="0.32"/>
<ellipse cx="348.06" cy="469.69" rx="2.44" ry="1.88" transform="rotate(93.21 348.06 469.69)" fill="#2a9a18" opacity="0.51"/>
<ellipse cx="348.06" cy="469.69" rx="1.24" ry="1.03" transform="rotate(93.21 348.06 469.69)" fill="none" stroke="#50d82c" stroke-width="0.7" opacity="0.63"/>
<path d="M389.18,433.75 Q379.23,439.13 370.49,446.31 Q380.44,440.92 389.18,433.75Z" fill="#14500c" opacity="0.35"/>
<ellipse cx="379.83" cy="440.03" rx="2.34" ry="1.8" transform="rotate(143.99 379.83 440.03)" fill="#2a9a18" opacity="0.56"/>
<ellipse cx="379.83" cy="440.03" rx="1.28" ry="1.07" transform="rotate(143.99 379.83 440.03)" fill="none" stroke="#50d82c" stroke-width="0.7" opacity="0.69"/>
<path d="M369.38,431.11 Q379.34,435.91 390.05,438.65 Q380.09,433.85 369.38,431.11Z" fill="#14500c" opacity="0.39"/>
<ellipse cx="379.71" cy="434.88" rx="2.49" ry="1.82" transform="rotate(10.55 379.71 434.88)" fill="#2a9a18" opacity="0.62"/>
<ellipse cx="379.71" cy="434.88" rx="1.48" ry="1.24" transform="rotate(10.55 379.71 434.88)" fill="none" stroke="#50d82c" stroke-width="0.7" opacity="0.78"/>
<path d="M407.15,399.4 Q395.49,399.87 384.19,402.77 Q395.85,402.3 407.15,399.4Z" fill="#14500c" opacity="0.38"/>
<ellipse cx="395.67" cy="401.09" rx="2.95" ry="2.05" transform="rotate(162.31 395.67 401.09)" fill="#2a9a18" opacity="0.6"/>
<ellipse cx="395.67" cy="401.09" rx="1.23" ry="1.03" transform="rotate(162.31 395.67 401.09)" fill="none" stroke="#50d82c" stroke-width="0.7" opacity="0.75"/>
<path d="M396.94,403.41 Q401.54,411.75 408.02,418.73 Q403.43,410.39 396.94,403.41Z" fill="#14500c" opacity="0.47"/>
<ellipse cx="402.48" cy="411.07" rx="2.47" ry="1.94" transform="rotate(57.18 402.48 411.07)" fill="#2a9a18" opacity="0.76"/>
<ellipse cx="402.48" cy="411.07" rx="1.5" ry="1.25" transform="rotate(57.18 402.48 411.07)" fill="none" stroke="#50d82c" stroke-width="0.7" opacity="0.95"/>
<path d="M340.97,441.16 Q342.48,450.41 346.08,459.06 Q344.57,449.82 340.97,441.16Z" fill="#14500c" opacity="0.33"/>
<ellipse cx="343.52" cy="450.11" rx="2.45" ry="1.81" transform="rotate(71.84 343.52 450.11)" fill="#2a9a18" opacity="0.54"/>
<ellipse cx="343.52" cy="450.11" rx="1.4" ry="1.17" transform="rotate(71.84 343.52 450.11)" fill="none" stroke="#50d82c" stroke-width="0.7" opacity="0.67"/>
<path d="M365.84,423.16 Q367.35,431.73 371,439.62 Q369.48,431.06 365.84,423.16Z" fill="#14500c" opacity="0.32"/>
<ellipse cx="368.42" cy="431.39" rx="2.43" ry="1.86" transform="rotate(79.19 368.42 431.39)" fill="#2a9a18" opacity="0.51"/>
<ellipse cx="368.42" cy="431.39" rx="1.4" ry="1.16" transform="rotate(79.19 368.42 431.39)" fill="none" stroke="#50d82c" stroke-width="0.7" opacity="0.63"/>
<path d="M387.59,431 Q393.07,436.51 399.95,440.13 Q394.47,434.62 387.59,431Z" fill="#14500c" opacity="0.44"/>
<ellipse cx="393.77" cy="435.56" rx="2.8" ry="1.96" transform="rotate(33.94 393.77 435.56)" fill="#2a9a18" opacity="0.7"/>
<ellipse cx="393.77" cy="435.56" rx="1.32" ry="1.1" transform="rotate(33.94 393.77 435.56)" fill="none" stroke="#50d82c" stroke-width="0.7" opacity="0.88"/>
<path d="M376.55,429.67 Q376.32,441.15 378.48,452.42 Q378.71,440.94 376.55,429.67Z" fill="#14500c" opacity="0.41"/>
<ellipse cx="377.51" cy="441.05" rx="2.72" ry="2" transform="rotate(80.47 377.51 441.05)" fill="#2a9a18" opacity="0.65"/>
<ellipse cx="377.51" cy="441.05" rx="1.28" ry="1.06" transform="rotate(80.47 377.51 441.05)" fill="none" stroke="#50d82c" stroke-width="0.7" opacity="0.81"/>
<path d="M354.25,456.18 Q352.05,465.75 351.88,475.56 Q354.08,465.99 354.25,456.18Z" fill="#14500c" opacity="0.32"/>
<ellipse cx="353.07" cy="465.87" rx="2.53" ry="1.71" transform="rotate(97.55 353.07 465.87)" fill="#2a9a18" opacity="0.51"/>
<ellipse cx="353.07" cy="465.87" rx="1.51" ry="1.26" transform="rotate(97.55 353.07 465.87)" fill="none" stroke="#50d82c" stroke-width="0.7" opacity="0.63"/>
<path d="M408.25,456.66 Q410.69,463.84 415.15,469.97 Q412.72,462.79 408.25,456.66Z" fill="#14500c" opacity="0.4"/>
<ellipse cx="411.7" cy="463.31" rx="2.88" ry="1.91" transform="rotate(58.26 411.7 463.31)" fill="#2a9a18" opacity="0.64"/>
<ellipse cx="411.7" cy="463.31" rx="1.3" ry="1.09" transform="rotate(58.26 411.7 463.31)" fill="none" stroke="#50d82c" stroke-width="0.7" opacity="0.8"/>
<path d="M400.97,437.96 Q400.58,449.61 402.24,461.14 Q402.63,449.5 400.97,437.96Z" fill="#14500c" opacity="0.42"/>
<ellipse cx="401.6" cy="449.55" rx="2.35" ry="1.7" transform="rotate(96.03 401.6 449.55)" fill="#2a9a18" opacity="0.67"/>
<ellipse cx="401.6" cy="449.55" rx="1.25" ry="1.04" transform="rotate(96.03 401.6 449.55)" fill="none" stroke="#50d82c" stroke-width="0.7" opacity="0.84"/>
<path d="M342.33,417.53 Q351.79,424.97 362.56,430.36 Q353.09,422.91 342.33,417.53Z" fill="#14500c" opacity="0.37"/>
<ellipse cx="352.44" cy="423.94" rx="2.37" ry="2.03" transform="rotate(29.39 352.44 423.94)" fill="#2a9a18" opacity="0.59"/>
<ellipse cx="352.44" cy="423.94" rx="1.34" ry="1.12" transform="rotate(29.39 352.44 423.94)" fill="none" stroke="#50d82c" stroke-width="0.7" opacity="0.74"/>
<path d="M363.14,466.22 Q353.1,469.31 343.88,474.35 Q353.92,471.25 363.14,466.22Z" fill="#14500c" opacity="0.37"/>
<ellipse cx="353.51" cy="470.28" rx="2.65" ry="1.75" transform="rotate(159.92 353.51 470.28)" fill="#2a9a18" opacity="0.59"/>
<ellipse cx="353.51" cy="470.28" rx="1.3" ry="1.08" transform="rotate(159.92 353.51 470.28)" fill="none" stroke="#50d82c" stroke-width="0.7" opacity="0.74"/>
<path d="M357.91,422.05 Q361.19,431.62 366.4,440.3 Q363.12,430.73 357.91,422.05Z" fill="#14500c" opacity="0.46"/>
<ellipse cx="362.16" cy="431.18" rx="2.57" ry="1.77" transform="rotate(57.68 362.16 431.18)" fill="#2a9a18" opacity="0.74"/>
<ellipse cx="362.16" cy="431.18" rx="1.41" ry="1.17" transform="rotate(57.68 362.16 431.18)" fill="none" stroke="#50d82c" stroke-width="0.7" opacity="0.93"/>
<path d="M362.02,439.42 Q371.14,441.9 380.57,442.36 Q371.46,439.88 362.02,439.42Z" fill="#14500c" opacity="0.35"/>
<ellipse cx="371.3" cy="440.89" rx="2.78" ry="1.71" transform="rotate(1.7 371.3 440.89)" fill="#2a9a18" opacity="0.56"/>
<ellipse cx="371.3" cy="440.89" rx="1.44" ry="1.2" transform="rotate(1.7 371.3 440.89)" fill="none" stroke="#50d82c" stroke-width="0.7" opacity="0.7"/>
<path d="M358.43,404.93 Q350.74,406.21 343.71,409.57 Q351.39,408.29 358.43,404.93Z" fill="#14500c" opacity="0.34"/>
<ellipse cx="351.07" cy="407.25" rx="2.83" ry="1.81" transform="rotate(163.48 351.07 407.25)" fill="#2a9a18" opacity="0.55"/>
<ellipse cx="351.07" cy="407.25" rx="1.44" ry="1.2" transform="rotate(163.48 351.07 407.25)" fill="none" stroke="#50d82c" stroke-width="0.7" opacity="0.69"/>
<path d="M343.32,456.46 Q348.8,463.37 355.94,468.55 Q350.46,461.64 343.32,456.46Z" fill="#14500c" opacity="0.4"/>
<ellipse cx="349.63" cy="462.5" rx="2.53" ry="2" transform="rotate(41.77 349.63 462.5)" fill="#2a9a18" opacity="0.64"/>
<ellipse cx="349.63" cy="462.5" rx="1.4" ry="1.16" transform="rotate(41.77 349.63 462.5)" fill="none" stroke="#50d82c" stroke-width="0.7" opacity="0.8"/>
<path d="M344.83,432.52 Q333.91,433.25 323.34,436.08 Q334.26,435.35 344.83,432.52Z" fill="#14500c" opacity="0.32"/>
<ellipse cx="334.08" cy="434.3" rx="2.32" ry="1.77" transform="rotate(167.2 334.08 434.3)" fill="#2a9a18" opacity="0.52"/>
<ellipse cx="334.08" cy="434.3" rx="1.23" ry="1.03" transform="rotate(167.2 334.08 434.3)" fill="none" stroke="#50d82c" stroke-width="0.7" opacity="0.65"/>
<path d="M369.32,429.15 Q379.87,433.9 391.15,436.47 Q380.6,431.72 369.32,429.15Z" fill="#14500c" opacity="0.47"/>
<ellipse cx="380.24" cy="432.81" rx="2.45" ry="1.92" transform="rotate(24.22 380.24 432.81)" fill="#2a9a18" opacity="0.75"/>
<ellipse cx="380.24" cy="432.81" rx="1.27" ry="1.06" transform="rotate(24.22 380.24 432.81)" fill="none" stroke="#50d82c" stroke-width="0.7" opacity="0.94"/>
<path d="M357.22,453.51 Q348.26,461.58 341.11,471.29 Q350.07,463.22 357.22,453.51Z" fill="#14500c" opacity="0.35"/>
<ellipse cx="349.16" cy="462.4" rx="2.6" ry="2.04" transform="rotate(123.44 349.16 462.4)" fill="#2a9a18" opacity="0.56"/>
<ellipse cx="349.16" cy="462.4" rx="1.46" ry="1.21" transform="rotate(123.44 349.16 462.4)" fill="none" stroke="#50d82c" stroke-width="0.7" opacity="0.7"/>
<path d="M422.22,437.72 Q421.23,446.74 422.66,455.7 Q423.65,446.68 422.22,437.72Z" fill="#14500c" opacity="0.31"/>
<ellipse cx="422.44" cy="446.71" rx="2.34" ry="2.02" transform="rotate(89.32 422.44 446.71)" fill="#2a9a18" opacity="0.49"/>
<ellipse cx="422.44" cy="446.71" rx="1.43" ry="1.19" transform="rotate(89.32 422.44 446.71)" fill="none" stroke="#50d82c" stroke-width="0.7" opacity="0.62"/>
<path d="M416.1,417.74 Q404.35,419.56 393.24,423.77 Q404.98,421.96 416.1,417.74Z" fill="#14500c" opacity="0.37"/>
<ellipse cx="404.67" cy="420.76" rx="2.69" ry="2.07" transform="rotate(173.53 404.67 420.76)" fill="#2a9a18" opacity="0.6"/>
<ellipse cx="404.67" cy="420.76" rx="1.33" ry="1.11" transform="rotate(173.53 404.67 420.76)" fill="none" stroke="#50d82c" stroke-width="0.7" opacity="0.74"/>
<path d="M345.23,458.79 Q337.33,460.25 330.27,464.07 Q338.17,462.61 345.23,458.79Z" fill="#14500c" opacity="0.32"/>
<ellipse cx="337.75" cy="461.43" rx="2.84" ry="2.09" transform="rotate(159.93 337.75 461.43)" fill="#2a9a18" opacity="0.51"/>
<ellipse cx="337.75" cy="461.43" rx="1.54" ry="1.28" transform="rotate(159.93 337.75 461.43)" fill="none" stroke="#50d82c" stroke-width="0.7" opacity="0.64"/>
<path d="M397.45,421.59 Q396.43,429.49 397.92,437.31 Q398.94,429.41 397.45,421.59Z" fill="#14500c" opacity="0.44"/>
<ellipse cx="397.69" cy="429.45" rx="2.77" ry="2.09" transform="rotate(97.17 397.69 429.45)" fill="#2a9a18" opacity="0.7"/>
<ellipse cx="397.69" cy="429.45" rx="1.51" ry="1.26" transform="rotate(97.17 397.69 429.45)" fill="none" stroke="#50d82c" stroke-width="0.7" opacity="0.87"/>
</g></g>
<clipPath id="c10"><rect x="425.4" y="400.8" width="101.3" height="72.4"/></clipPath>
<g clip-path="url(#c10)">
<rect x="425.4" y="400.8" width="101.3" height="72.4" fill="#020402"/>
<g filter="url(#cb)">
<path d="M500.19,454.01 Q496.52,461.24 494.93,469.19 Q498.6,461.96 500.19,454.01Z" fill="#124a0c" opacity="0.29"/>
<ellipse cx="497.56" cy="461.6" rx="2.5" ry="1.83" transform="rotate(102.85 497.56 461.6)" fill="#238416" opacity="0.47"/>
<ellipse cx="497.56" cy="461.6" rx="1.5" ry="1.25" transform="rotate(102.85 497.56 461.6)" fill="none" stroke="#40b826" stroke-width="0.7" opacity="0.58"/>
<path d="M529.85,406.88 Q525.52,414.44 523.2,422.83 Q527.53,415.27 529.85,406.88Z" fill="#124a0c" opacity="0.4"/>
<ellipse cx="526.53" cy="414.85" rx="2.31" ry="1.81" transform="rotate(117.63 526.53 414.85)" fill="#238416" opacity="0.64"/>
<ellipse cx="526.53" cy="414.85" rx="1.54" ry="1.29" transform="rotate(117.63 526.53 414.85)" fill="none" stroke="#40b826" stroke-width="0.7" opacity="0.8"/>
<path d="M444.7,455.14 Q434.64,454.5 424.7,456.18 Q434.76,456.83 444.7,455.14Z" fill="#124a0c" opacity="0.28"/>
<ellipse cx="434.7" cy="455.66" rx="2.23" ry="1.94" transform="rotate(179.38 434.7 455.66)" fill="#238416" opacity="0.45"/>
<ellipse cx="434.7" cy="455.66" rx="1.3" ry="1.09" transform="rotate(179.38 434.7 455.66)" fill="none" stroke="#40b826" stroke-width="0.7" opacity="0.57"/>
<path d="M501.19,443.84 Q495.95,452.79 492.76,462.66 Q498,453.71 501.19,443.84Z" fill="#124a0c" opacity="0.42"/>
<ellipse cx="496.98" cy="453.25" rx="2.52" ry="1.87" transform="rotate(121.49 496.98 453.25)" fill="#238416" opacity="0.68"/>
<ellipse cx="496.98" cy="453.25" rx="1.48" ry="1.23" transform="rotate(121.49 496.98 453.25)" fill="none" stroke="#40b826" stroke-width="0.7" opacity="0.84"/>
<path d="M477.15,461.85 Q469.86,462.4 463.08,465.12 Q470.36,464.56 477.15,461.85Z" fill="#124a0c" opacity="0.47"/>
<ellipse cx="470.11" cy="463.48" rx="2.88" ry="1.85" transform="rotate(176.83 470.11 463.48)" fill="#238416" opacity="0.76"/>
<ellipse cx="470.11" cy="463.48" rx="1.25" ry="1.04" transform="rotate(176.83 470.11 463.48)" fill="none" stroke="#40b826" stroke-width="0.7" opacity="0.94"/>
<path d="M448.24,435.38 Q436.85,437.21 425.98,441.07 Q437.37,439.24 448.24,435.38Z" fill="#124a0c" opacity="0.47"/>
<ellipse cx="437.11" cy="438.22" rx="2.41" ry="1.75" transform="rotate(169.38 437.11 438.22)" fill="#238416" opacity="0.74"/>
<ellipse cx="437.11" cy="438.22" rx="1.4" ry="1.16" transform="rotate(169.38 437.11 438.22)" fill="none" stroke="#40b826" stroke-width="0.7" opacity="0.93"/>
<path d="M496.74,422.31 Q499.23,433.31 503.81,443.61 Q501.32,432.61 496.74,422.31Z" fill="#124a0c" opacity="0.32"/>
<ellipse cx="500.28" cy="432.96" rx="2.25" ry="1.83" transform="rotate(78.49 500.28 432.96)" fill="#238416" opacity="0.51"/>
<ellipse cx="500.28" cy="432.96" rx="1.28" ry="1.07" transform="rotate(78.49 500.28 432.96)" fill="none" stroke="#40b826" stroke-width="0.7" opacity="0.64"/>
<path d="M519.54,396.14 Q520.89,407.2 524.35,417.79 Q523,406.73 519.54,396.14Z" fill="#124a0c" opacity="0.42"/>
<ellipse cx="521.94" cy="406.96" rx="2.23" ry="1.8" transform="rotate(74.32 521.94 406.96)" fill="#238416" opacity="0.67"/>
<ellipse cx="521.94" cy="406.96" rx="1.39" ry="1.16" transform="rotate(74.32 521.94 406.96)" fill="none" stroke="#40b826" stroke-width="0.7" opacity="0.84"/>
<path d="M518.92,408.6 Q510.37,411.22 502.72,415.83 Q511.27,413.22 518.92,408.6Z" fill="#124a0c" opacity="0.32"/>
<ellipse cx="510.82" cy="412.22" rx="2.3" ry="1.83" transform="rotate(153.92 510.82 412.22)" fill="#238416" opacity="0.52"/>
<ellipse cx="510.82" cy="412.22" rx="1.24" ry="1.03" transform="rotate(153.92 510.82 412.22)" fill="none" stroke="#40b826" stroke-width="0.7" opacity="0.65"/>
<path d="M465.75,434.29 Q455.81,439.19 446.92,445.81 Q456.85,440.9 465.75,434.29Z" fill="#124a0c" opacity="0.33"/>
<ellipse cx="456.33" cy="440.05" rx="2.27" ry="1.67" transform="rotate(139.59 456.33 440.05)" fill="#238416" opacity="0.53"/>
<ellipse cx="456.33" cy="440.05" rx="1.36" ry="1.13" transform="rotate(139.59 456.33 440.05)" fill="none" stroke="#40b826" stroke-width="0.7" opacity="0.67"/>
<path d="M512.17,458.38 Q514.98,468.13 519.69,477.1 Q516.88,467.36 512.17,458.38Z" fill="#124a0c" opacity="0.32"/>
<ellipse cx="515.93" cy="467.74" rx="2.37" ry="1.71" transform="rotate(74.53 515.93 467.74)" fill="#238416" opacity="0.51"/>
<ellipse cx="515.93" cy="467.74" rx="1.24" ry="1.04" transform="rotate(74.53 515.93 467.74)" fill="none" stroke="#40b826" stroke-width="0.7" opacity="0.64"/>
<path d="M515.57,394.74 Q514.93,405.89 516.51,416.94 Q517.16,405.79 515.57,394.74Z" fill="#124a0c" opacity="0.27"/>
<ellipse cx="516.04" cy="405.84" rx="2.32" ry="1.86" transform="rotate(82.03 516.04 405.84)" fill="#238416" opacity="0.43"/>
<ellipse cx="516.04" cy="405.84" rx="1.37" ry="1.14" transform="rotate(82.03 516.04 405.84)" fill="none" stroke="#40b826" stroke-width="0.7" opacity="0.54"/>
<path d="M487.37,449.58 Q491.95,459.14 498.19,467.73 Q493.6,458.16 487.37,449.58Z" fill="#124a0c" opacity="0.43"/>
<ellipse cx="492.78" cy="458.65" rx="2.5" ry="1.6" transform="rotate(62.56 492.78 458.65)" fill="#238416" opacity="0.69"/>
<ellipse cx="492.78" cy="458.65" rx="1.31" ry="1.1" transform="rotate(62.56 492.78 458.65)" fill="none" stroke="#40b826" stroke-width="0.7" opacity="0.87"/>
<path d="M517.57,459.72 Q525.48,464.07 534.2,466.37 Q526.3,462.02 517.57,459.72Z" fill="#124a0c" opacity="0.31"/>
<ellipse cx="525.89" cy="463.04" rx="2.51" ry="1.83" transform="rotate(14.39 525.89 463.04)" fill="#238416" opacity="0.5"/>
<ellipse cx="525.89" cy="463.04" rx="1.44" ry="1.2" transform="rotate(14.39 525.89 463.04)" fill="none" stroke="#40b826" stroke-width="0.7" opacity="0.62"/>
<path d="M493.91,460.9 Q499.8,468.57 507.37,474.59 Q501.48,466.92 493.91,460.9Z" fill="#124a0c" opacity="0.27"/>
<ellipse cx="500.64" cy="467.74" rx="2.57" ry="1.96" transform="rotate(43.45 500.64 467.74)" fill="#238416" opacity="0.43"/>
<ellipse cx="500.64" cy="467.74" rx="1.22" ry="1.02" transform="rotate(43.45 500.64 467.74)" fill="none" stroke="#40b826" stroke-width="0.7" opacity="0.54"/>
<path d="M475.45,402.87 Q474.43,411.97 475.52,421.07 Q476.54,411.97 475.45,402.87Z" fill="#124a0c" opacity="0.28"/>
<ellipse cx="475.49" cy="411.97" rx="2.52" ry="1.76" transform="rotate(88.09 475.49 411.97)" fill="#238416" opacity="0.45"/>
<ellipse cx="475.49" cy="411.97" rx="1.39" ry="1.16" transform="rotate(88.09 475.49 411.97)" fill="none" stroke="#40b826" stroke-width="0.7" opacity="0.56"/>
<path d="M473.25,437.51 Q472.91,449.4 474.7,461.16 Q475.04,449.27 473.25,437.51Z" fill="#124a0c" opacity="0.47"/>
<ellipse cx="473.98" cy="449.34" rx="2.32" ry="1.78" transform="rotate(88.18 473.98 449.34)" fill="#238416" opacity="0.75"/>
<ellipse cx="473.98" cy="449.34" rx="1.21" ry="1.01" transform="rotate(88.18 473.98 449.34)" fill="none" stroke="#40b826" stroke-width="0.7" opacity="0.94"/>
<path d="M431.3,438.34 Q438.83,438.36 446.11,436.44 Q438.58,436.43 431.3,438.34Z" fill="#124a0c" opacity="0.47"/>
<ellipse cx="438.71" cy="437.39" rx="2.57" ry="1.62" transform="rotate(0.51 438.71 437.39)" fill="#238416" opacity="0.76"/>
<ellipse cx="438.71" cy="437.39" rx="1.36" ry="1.14" transform="rotate(0.51 438.71 437.39)" fill="none" stroke="#40b826" stroke-width="0.7" opacity="0.95"/>
<path d="M512.08,439.12 Q502.87,438.25 493.71,439.53 Q502.92,440.39 512.08,439.12Z" fill="#124a0c" opacity="0.3"/>
<ellipse cx="502.9" cy="439.32" rx="2.54" ry="1.78" transform="rotate(178.68 502.9 439.32)" fill="#238416" opacity="0.49"/>
<ellipse cx="502.9" cy="439.32" rx="1.36" ry="1.13" transform="rotate(178.68 502.9 439.32)" fill="none" stroke="#40b826" stroke-width="0.7" opacity="0.61"/>
<path d="M495.62,413.1 Q488.5,418.91 483.02,426.28 Q490.13,420.47 495.62,413.1Z" fill="#124a0c" opacity="0.39"/>
<ellipse cx="489.32" cy="419.69" rx="2.83" ry="1.88" transform="rotate(130.72 489.32 419.69)" fill="#238416" opacity="0.63"/>
<ellipse cx="489.32" cy="419.69" rx="1.53" ry="1.27" transform="rotate(130.72 489.32 419.69)" fill="none" stroke="#40b826" stroke-width="0.7" opacity="0.79"/>
<path d="M482.12,423.83 Q490.55,430.08 500.1,434.42 Q491.68,428.17 482.12,423.83Z" fill="#124a0c" opacity="0.43"/>
<ellipse cx="491.11" cy="429.13" rx="2.37" ry="1.85" transform="rotate(27.65 491.11 429.13)" fill="#238416" opacity="0.69"/>
<ellipse cx="491.11" cy="429.13" rx="1.41" ry="1.18" transform="rotate(27.65 491.11 429.13)" fill="none" stroke="#40b826" stroke-width="0.7" opacity="0.86"/>
<path d="M476.3,428.49 Q465.67,433.77 456.26,441.01 Q466.89,435.73 476.3,428.49Z" fill="#124a0c" opacity="0.44"/>
<ellipse cx="466.28" cy="434.75" rx="2.54" ry="1.92" transform="rotate(149.3 466.28 434.75)" fill="#238416" opacity="0.7"/>
<ellipse cx="466.28" cy="434.75" rx="1.51" ry="1.26" transform="rotate(149.3 466.28 434.75)" fill="none" stroke="#40b826" stroke-width="0.7" opacity="0.87"/>
<path d="M458.9,406 Q450.09,413.55 442.65,422.46 Q451.47,414.91 458.9,406Z" fill="#124a0c" opacity="0.38"/>
<ellipse cx="450.78" cy="414.23" rx="2.82" ry="1.62" transform="rotate(129.28 450.78 414.23)" fill="#238416" opacity="0.61"/>
<ellipse cx="450.78" cy="414.23" rx="1.55" ry="1.29" transform="rotate(129.28 450.78 414.23)" fill="none" stroke="#40b826" stroke-width="0.7" opacity="0.76"/>
<path d="M477.13,463.89 Q469.39,462.97 461.72,464.29 Q469.45,465.21 477.13,463.89Z" fill="#124a0c" opacity="0.31"/>
<ellipse cx="469.42" cy="464.09" rx="2.4" ry="1.87" transform="rotate(176.64 469.42 464.09)" fill="#238416" opacity="0.49"/>
<ellipse cx="469.42" cy="464.09" rx="1.53" ry="1.28" transform="rotate(176.64 469.42 464.09)" fill="none" stroke="#40b826" stroke-width="0.7" opacity="0.61"/>
<path d="M456.02,401.15 Q462.54,405.84 470.01,408.81 Q463.49,404.12 456.02,401.15Z" fill="#124a0c" opacity="0.35"/>
<ellipse cx="463.01" cy="404.98" rx="2.44" ry="1.63" transform="rotate(34.56 463.01 404.98)" fill="#238416" opacity="0.56"/>
<ellipse cx="463.01" cy="404.98" rx="1.23" ry="1.03" transform="rotate(34.56 463.01 404.98)" fill="none" stroke="#40b826" stroke-width="0.7" opacity="0.7"/>
<path d="M467.76,434.01 Q457.14,432.22 446.37,432.57 Q456.99,434.36 467.76,434.01Z" fill="#124a0c" opacity="0.42"/>
<ellipse cx="457.06" cy="433.29" rx="2.82" ry="1.79" transform="rotate(179.95 457.06 433.29)" fill="#238416" opacity="0.68"/>
<ellipse cx="457.06" cy="433.29" rx="1.39" ry="1.16" transform="rotate(179.95 457.06 433.29)" fill="none" stroke="#40b826" stroke-width="0.7" opacity="0.84"/>
<path d="M426.83,464.43 Q428.15,472.73 431.56,480.41 Q430.24,472.11 426.83,464.43Z" fill="#124a0c" opacity="0.41"/>
<ellipse cx="429.2" cy="472.42" rx="2.66" ry="1.82" transform="rotate(76.23 429.2 472.42)" fill="#238416" opacity="0.66"/>
<ellipse cx="429.2" cy="472.42" rx="1.43" ry="1.19" transform="rotate(76.23 429.2 472.42)" fill="none" stroke="#40b826" stroke-width="0.7" opacity="0.82"/>
<path d="M513.33,429.99 Q506.63,439.25 501.85,449.63 Q508.54,440.37 513.33,429.99Z" fill="#124a0c" opacity="0.38"/>
<ellipse cx="507.59" cy="439.81" rx="2.35" ry="1.84" transform="rotate(112.88 507.59 439.81)" fill="#238416" opacity="0.61"/>
<ellipse cx="507.59" cy="439.81" rx="1.43" ry="1.2" transform="rotate(112.88 507.59 439.81)" fill="none" stroke="#40b826" stroke-width="0.7" opacity="0.76"/>
<path d="M459.68,428.5 Q466.76,430.46 474.1,430.46 Q467.02,428.51 459.68,428.5Z" fill="#124a0c" opacity="0.3"/>
<ellipse cx="466.89" cy="429.48" rx="2.5" ry="1.64" transform="rotate(12.63 466.89 429.48)" fill="#238416" opacity="0.48"/>
<ellipse cx="466.89" cy="429.48" rx="1.36" ry="1.14" transform="rotate(12.63 466.89 429.48)" fill="none" stroke="#40b826" stroke-width="0.7" opacity="0.6"/>
<path d="M463.73,414.91 Q455.39,421.32 448.45,429.24 Q456.8,422.82 463.73,414.91Z" fill="#124a0c" opacity="0.33"/>
<ellipse cx="456.09" cy="422.07" rx="2.64" ry="1.71" transform="rotate(136.69 456.09 422.07)" fill="#238416" opacity="0.52"/>
<ellipse cx="456.09" cy="422.07" rx="1.38" ry="1.15" transform="rotate(136.69 456.09 422.07)" fill="none" stroke="#40b826" stroke-width="0.7" opacity="0.65"/>
<path d="M510.06,450.82 Q516.54,459.31 524.54,466.39 Q518.06,457.9 510.06,450.82Z" fill="#124a0c" opacity="0.39"/>
<ellipse cx="517.3" cy="458.61" rx="2.51" ry="1.74" transform="rotate(47.45 517.3 458.61)" fill="#238416" opacity="0.63"/>
<ellipse cx="517.3" cy="458.61" rx="1.36" ry="1.13" transform="rotate(47.45 517.3 458.61)" fill="none" stroke="#40b826" stroke-width="0.7" opacity="0.79"/>
<path d="M427.49,409.2 Q426.02,419.76 426.79,430.39 Q428.27,419.83 427.49,409.2Z" fill="#124a0c" opacity="0.37"/>
<ellipse cx="427.14" cy="419.79" rx="2.54" ry="1.88" transform="rotate(85.86 427.14 419.79)" fill="#238416" opacity="0.6"/>
<ellipse cx="427.14" cy="419.79" rx="1.35" ry="1.12" transform="rotate(85.86 427.14 419.79)" fill="none" stroke="#40b826" stroke-width="0.7" opacity="0.74"/>
<path d="M502.9,423.55 Q494.65,430.32 488.12,438.76 Q496.37,431.99 502.9,423.55Z" fill="#124a0c" opacity="0.39"/>
<ellipse cx="495.51" cy="431.15" rx="2.88" ry="2" transform="rotate(142.84 495.51 431.15)" fill="#238416" opacity="0.63"/>
<ellipse cx="495.51" cy="431.15" rx="1.51" ry="1.25" transform="rotate(142.84 495.51 431.15)" fill="none" stroke="#40b826" stroke-width="0.7" opacity="0.78"/>
<path d="M524.92,416.58 Q516.66,419.22 509.26,423.76 Q517.52,421.11 524.92,416.58Z" fill="#124a0c" opacity="0.34"/>
<ellipse cx="517.09" cy="420.17" rx="2.21" ry="1.73" transform="rotate(150.56 517.09 420.17)" fill="#238416" opacity="0.54"/>
<ellipse cx="517.09" cy="420.17" rx="1.42" ry="1.18" transform="rotate(150.56 517.09 420.17)" fill="none" stroke="#40b826" stroke-width="0.7" opacity="0.67"/>
<path d="M498.3,417.62 Q501.58,424.42 506.53,430.11 Q503.25,423.31 498.3,417.62Z" fill="#124a0c" opacity="0.41"/>
<ellipse cx="502.41" cy="423.86" rx="2.33" ry="1.67" transform="rotate(50.82 502.41 423.86)" fill="#238416" opacity="0.66"/>
<ellipse cx="502.41" cy="423.86" rx="1.54" ry="1.28" transform="rotate(50.82 502.41 423.86)" fill="none" stroke="#40b826" stroke-width="0.7" opacity="0.82"/>
<path d="M459.63,396.98 Q464.85,403.1 471.64,407.43 Q466.41,401.31 459.63,396.98Z" fill="#124a0c" opacity="0.35"/>
<ellipse cx="465.63" cy="402.2" rx="2.72" ry="1.98" transform="rotate(39.58 465.63 402.2)" fill="#238416" opacity="0.57"/>
<ellipse cx="465.63" cy="402.2" rx="1.36" ry="1.13" transform="rotate(39.58 465.63 402.2)" fill="none" stroke="#40b826" stroke-width="0.7" opacity="0.71"/>
<path d="M440.3,457.95 Q432.34,456.65 424.3,457.27 Q432.26,458.58 440.3,457.95Z" fill="#124a0c" opacity="0.44"/>
<ellipse cx="432.3" cy="457.61" rx="2.81" ry="1.61" transform="rotate(175.47 432.3 457.61)" fill="#238416" opacity="0.7"/>
<ellipse cx="432.3" cy="457.61" rx="1.41" ry="1.17" transform="rotate(175.47 432.3 457.61)" fill="none" stroke="#40b826" stroke-width="0.7" opacity="0.88"/>
<path d="M479.18,454.14 Q477.9,465.9 478.91,477.68 Q480.19,465.92 479.18,454.14Z" fill="#124a0c" opacity="0.3"/>
<ellipse cx="479.04" cy="465.91" rx="2.77" ry="1.91" transform="rotate(94.11 479.04 465.91)" fill="#238416" opacity="0.48"/>
<ellipse cx="479.04" cy="465.91" rx="1.22" ry="1.01" transform="rotate(94.11 479.04 465.91)" fill="none" stroke="#40b826" stroke-width="0.7" opacity="0.6"/>
<path d="M476.63,403.99 Q469.63,412.93 464.47,423.04 Q471.47,414.11 476.63,403.99Z" fill="#124a0c" opacity="0.26"/>
<ellipse cx="470.55" cy="413.52" rx="2.24" ry="1.83" transform="rotate(124.61 470.55 413.52)" fill="#238416" opacity="0.42"/>
<ellipse cx="470.55" cy="413.52" rx="1.42" ry="1.18" transform="rotate(124.61 470.55 413.52)" fill="none" stroke="#40b826" stroke-width="0.7" opacity="0.52"/>
<path d="M500.35,397.17 Q508.19,405.42 517.48,411.99 Q509.64,403.74 500.35,397.17Z" fill="#124a0c" opacity="0.46"/>
<ellipse cx="508.92" cy="404.58" rx="2.31" ry="1.84" transform="rotate(30.86 508.92 404.58)" fill="#238416" opacity="0.74"/>
<ellipse cx="508.92" cy="404.58" rx="1.21" ry="1.01" transform="rotate(30.86 508.92 404.58)" fill="none" stroke="#40b826" stroke-width="0.7" opacity="0.92"/>
<path d="M490.57,449.56 Q481.57,450.51 473.03,453.5 Q482.03,452.55 490.57,449.56Z" fill="#124a0c" opacity="0.26"/>
<ellipse cx="481.8" cy="451.53" rx="2.56" ry="1.74" transform="rotate(165.78 481.8 451.53)" fill="#238416" opacity="0.42"/>
<ellipse cx="481.8" cy="451.53" rx="1.33" ry="1.1" transform="rotate(165.78 481.8 451.53)" fill="none" stroke="#40b826" stroke-width="0.7" opacity="0.52"/>
<path d="M508.66,453.15 Q516.73,459.24 525.95,463.39 Q517.88,457.3 508.66,453.15Z" fill="#124a0c" opacity="0.27"/>
<ellipse cx="517.31" cy="458.27" rx="2.81" ry="1.88" transform="rotate(26.19 517.31 458.27)" fill="#238416" opacity="0.44"/>
<ellipse cx="517.31" cy="458.27" rx="1.55" ry="1.3" transform="rotate(26.19 517.31 458.27)" fill="none" stroke="#40b826" stroke-width="0.7" opacity="0.55"/>
<path d="M436.59,406.29 Q443.3,411.97 451.26,415.7 Q444.55,410.02 436.59,406.29Z" fill="#124a0c" opacity="0.36"/>
<ellipse cx="443.92" cy="410.99" rx="2.78" ry="1.93" transform="rotate(31.52 443.92 410.99)" fill="#238416" opacity="0.58"/>
<ellipse cx="443.92" cy="410.99" rx="1.37" ry="1.14" transform="rotate(31.52 443.92 410.99)" fill="none" stroke="#40b826" stroke-width="0.7" opacity="0.73"/>
<path d="M423.15,453.01 Q432.89,459.48 443.6,464.22 Q433.85,457.74 423.15,453.01Z" fill="#124a0c" opacity="0.36"/>
<ellipse cx="433.37" cy="458.61" rx="2.5" ry="1.66" transform="rotate(34.98 433.37 458.61)" fill="#238416" opacity="0.58"/>
<ellipse cx="433.37" cy="458.61" rx="1.43" ry="1.19" transform="rotate(34.98 433.37 458.61)" fill="none" stroke="#40b826" stroke-width="0.7" opacity="0.72"/>
<path d="M498.27,410.57 Q495.59,419.03 495.18,427.9 Q497.86,419.44 498.27,410.57Z" fill="#124a0c" opacity="0.4"/>
<ellipse cx="496.72" cy="419.23" rx="2.88" ry="1.92" transform="rotate(102.6 496.72 419.23)" fill="#238416" opacity="0.64"/>
<ellipse cx="496.72" cy="419.23" rx="1.22" ry="1.01" transform="rotate(102.6 496.72 419.23)" fill="none" stroke="#40b826" stroke-width="0.7" opacity="0.79"/>
<path d="M464.11,447.38 Q471.29,448.93 478.59,448.1 Q471.41,446.55 464.11,447.38Z" fill="#124a0c" opacity="0.34"/>
<ellipse cx="471.35" cy="447.74" rx="2.42" ry="1.98" transform="rotate(9.33 471.35 447.74)" fill="#238416" opacity="0.55"/>
<ellipse cx="471.35" cy="447.74" rx="1.43" ry="1.19" transform="rotate(9.33 471.35 447.74)" fill="none" stroke="#40b826" stroke-width="0.7" opacity="0.68"/>
<path d="M522.83,455.43 Q524.57,462.53 528.5,468.7 Q526.75,461.6 522.83,455.43Z" fill="#124a0c" opacity="0.44"/>
<ellipse cx="525.66" cy="462.07" rx="2.33" ry="1.98" transform="rotate(64.88 525.66 462.07)" fill="#238416" opacity="0.7"/>
<ellipse cx="525.66" cy="462.07" rx="1.35" ry="1.13" transform="rotate(64.88 525.66 462.07)" fill="none" stroke="#40b826" stroke-width="0.7" opacity="0.87"/>
<path d="M456.47,406.31 Q459.05,415.02 463.47,422.96 Q460.89,414.25 456.47,406.31Z" fill="#124a0c" opacity="0.28"/>
<ellipse cx="459.97" cy="414.63" rx="2.34" ry="1.67" transform="rotate(62.16 459.97 414.63)" fill="#238416" opacity="0.46"/>
<ellipse cx="459.97" cy="414.63" rx="1.37" ry="1.14" transform="rotate(62.16 459.97 414.63)" fill="none" stroke="#40b826" stroke-width="0.7" opacity="0.57"/>
<path d="M447.66,463.75 Q438.11,470.06 429.81,477.93 Q439.35,471.63 447.66,463.75Z" fill="#124a0c" opacity="0.31"/>
<ellipse cx="438.73" cy="470.84" rx="2.82" ry="1.67" transform="rotate(139.92 438.73 470.84)" fill="#238416" opacity="0.5"/>
<ellipse cx="438.73" cy="470.84" rx="1.35" ry="1.13" transform="rotate(139.92 438.73 470.84)" fill="none" stroke="#40b826" stroke-width="0.7" opacity="0.63"/>
<path d="M515.09,410.29 Q512.56,417.4 512.09,424.93 Q514.62,417.82 515.09,410.29Z" fill="#124a0c" opacity="0.39"/>
<ellipse cx="513.59" cy="417.61" rx="2.82" ry="1.76" transform="rotate(92.4 513.59 417.61)" fill="#238416" opacity="0.62"/>
<ellipse cx="513.59" cy="417.61" rx="1.24" ry="1.04" transform="rotate(92.4 513.59 417.61)" fill="none" stroke="#40b826" stroke-width="0.7" opacity="0.78"/>
<path d="M442.82,419.84 Q450.25,424 458.47,426.23 Q451.04,422.08 442.82,419.84Z" fill="#124a0c" opacity="0.42"/>
<ellipse cx="450.64" cy="423.04" rx="2.71" ry="1.72" transform="rotate(19.23 450.64 423.04)" fill="#238416" opacity="0.67"/>
<ellipse cx="450.64" cy="423.04" rx="1.52" ry="1.27" transform="rotate(19.23 450.64 423.04)" fill="none" stroke="#40b826" stroke-width="0.7" opacity="0.84"/>
<path d="M482.45,460.35 Q486.04,469.79 491.61,478.22 Q488.02,468.78 482.45,460.35Z" fill="#124a0c" opacity="0.3"/>
<ellipse cx="487.03" cy="469.28" rx="2.84" ry="1.85" transform="rotate(62.2 487.03 469.28)" fill="#238416" opacity="0.49"/>
<ellipse cx="487.03" cy="469.28" rx="1.2" ry="1" transform="rotate(62.2 487.03 469.28)" fill="none" stroke="#40b826" stroke-width="0.7" opacity="0.61"/>
<path d="M446.4,401.47 Q452.22,406.31 459.2,409.22 Q453.38,404.38 446.4,401.47Z" fill="#124a0c" opacity="0.3"/>
<ellipse cx="452.8" cy="405.35" rx="2.67" ry="1.88" transform="rotate(28.45 452.8 405.35)" fill="#238416" opacity="0.48"/>
<ellipse cx="452.8" cy="405.35" rx="1.37" ry="1.14" transform="rotate(28.45 452.8 405.35)" fill="none" stroke="#40b826" stroke-width="0.7" opacity="0.6"/>
<path d="M528.2,433.55 Q523.81,441.22 521.28,449.69 Q525.67,442.02 528.2,433.55Z" fill="#124a0c" opacity="0.36"/>
<ellipse cx="524.74" cy="441.62" rx="2.48" ry="1.69" transform="rotate(103.85 524.74 441.62)" fill="#238416" opacity="0.57"/>
<ellipse cx="524.74" cy="441.62" rx="1.27" ry="1.06" transform="rotate(103.85 524.74 441.62)" fill="none" stroke="#40b826" stroke-width="0.7" opacity="0.71"/>
<path d="M469.05,449.55 Q459.37,455 450.81,462.06 Q460.48,456.61 469.05,449.55Z" fill="#124a0c" opacity="0.41"/>
<ellipse cx="459.93" cy="455.8" rx="2.57" ry="1.63" transform="rotate(155.21 459.93 455.8)" fill="#238416" opacity="0.65"/>
<ellipse cx="459.93" cy="455.8" rx="1.5" ry="1.25" transform="rotate(155.21 459.93 455.8)" fill="none" stroke="#40b826" stroke-width="0.7" opacity="0.81"/>
<path d="M437.23,396.29 Q440.15,404.66 445.1,412.02 Q442.18,403.65 437.23,396.29Z" fill="#124a0c" opacity="0.29"/>
<ellipse cx="441.16" cy="404.15" rx="2.84" ry="1.89" transform="rotate(60.93 441.16 404.15)" fill="#238416" opacity="0.46"/>
<ellipse cx="441.16" cy="404.15" rx="1.56" ry="1.3" transform="rotate(60.93 441.16 404.15)" fill="none" stroke="#40b826" stroke-width="0.7" opacity="0.58"/>
<path d="M498.17,449.04 Q507.73,454.79 518.18,458.68 Q508.62,452.93 498.17,449.04Z" fill="#124a0c" opacity="0.3"/>
<ellipse cx="508.18" cy="453.86" rx="2.34" ry="1.72" transform="rotate(30.8 508.18 453.86)" fill="#238416" opacity="0.48"/>
<ellipse cx="508.18" cy="453.86" rx="1.29" ry="1.07" transform="rotate(30.8 508.18 453.86)" fill="none" stroke="#40b826" stroke-width="0.7" opacity="0.6"/>
<path d="M451.03,413.48 Q448.08,422.84 447.22,432.61 Q450.16,423.25 451.03,413.48Z" fill="#124a0c" opacity="0.4"/>
<ellipse cx="449.12" cy="423.05" rx="2.61" ry="1.77" transform="rotate(110.65 449.12 423.05)" fill="#238416" opacity="0.64"/>
<ellipse cx="449.12" cy="423.05" rx="1.2" ry="1" transform="rotate(110.65 449.12 423.05)" fill="none" stroke="#40b826" stroke-width="0.7" opacity="0.81"/>
</g></g>
<line x1="96.1" y1="396.5" x2="113.4" y2="396.5" stroke="#fff" stroke-width="0.9"/>
<text x="104.75" y="394.8" font-size="6.2" text-anchor="middle" fill="#fff" stroke="#fff" stroke-width="0.3">200μm</text>
<line x1="96.1" y1="470.5" x2="113.9" y2="470.5" stroke="#fff" stroke-width="0.9"/>
<text x="105" y="469" font-size="6.2" text-anchor="middle" fill="#fff" stroke="#fff" stroke-width="0.3">200μm</text>
<text x="535" y="321" font-size="14" text-anchor="start" fill="#141414" stroke="#141414" stroke-width="0.5">J</text>
<line x1="586.35" y1="419.32" x2="586.35" y2="417.64" stroke="#9dd2e6" stroke-width="1.1"/>
<line x1="583.05" y1="417.64" x2="589.65" y2="417.64" stroke="#9dd2e6" stroke-width="1.1"/>
<rect x="579.8" y="419.32" width="13.1" height="20.98" fill="#9dd2e6"/>
<line x1="586.35" y1="440.3" x2="586.35" y2="444.4" stroke="#1e1e1e" stroke-width="1"/>
<text x="586.35" y="450.8" font-size="7.1" font-weight="bold" text-anchor="middle" fill="#141414" stroke="#141414" stroke-width="0.22">Control</text>
<line x1="606" y1="400.86" x2="606" y2="399.18" stroke="#51abbd" stroke-width="1.1"/>
<line x1="602.7" y1="399.18" x2="609.3" y2="399.18" stroke="#51abbd" stroke-width="1.1"/>
<rect x="599.45" y="400.86" width="13.1" height="39.44" fill="#51abbd"/>
<text x="606" y="400.68" font-size="9" text-anchor="middle" fill="#1a1a1a" stroke="#1a1a1a" stroke-width="0.35">*</text>
<line x1="606" y1="440.3" x2="606" y2="444.4" stroke="#1e1e1e" stroke-width="1"/>
<text x="606" y="450.8" font-size="7.1" font-weight="bold" text-anchor="middle" fill="#141414" stroke="#141414" stroke-width="0.22">2</text>
<line x1="625.65" y1="383.65" x2="625.65" y2="381.14" stroke="#17394d" stroke-width="1.1"/>
<line x1="622.35" y1="381.14" x2="628.95" y2="381.14" stroke="#17394d" stroke-width="1.1"/>
<rect x="619.1" y="383.65" width="13.1" height="56.65" fill="#17394d"/>
<text x="625.65" y="382.64" font-size="9" text-anchor="middle" fill="#1a1a1a" stroke="#1a1a1a" stroke-width="0.35">**</text>
<line x1="625.65" y1="440.3" x2="625.65" y2="444.4" stroke="#1e1e1e" stroke-width="1"/>
<text x="625.65" y="450.8" font-size="7.1" font-weight="bold" text-anchor="middle" fill="#141414" stroke="#141414" stroke-width="0.22">4</text>
<line x1="645.3" y1="354.28" x2="645.3" y2="351.76" stroke="#ebb22f" stroke-width="1.1"/>
<line x1="642" y1="351.76" x2="648.6" y2="351.76" stroke="#ebb22f" stroke-width="1.1"/>
<rect x="638.75" y="354.28" width="13.1" height="86.02" fill="#ebb22f"/>
<text x="645.3" y="353.26" font-size="9" text-anchor="middle" fill="#1a1a1a" stroke="#1a1a1a" stroke-width="0.35">***</text>
<line x1="645.3" y1="440.3" x2="645.3" y2="444.4" stroke="#1e1e1e" stroke-width="1"/>
<text x="645.3" y="450.8" font-size="7.1" font-weight="bold" text-anchor="middle" fill="#141414" stroke="#141414" stroke-width="0.22">6</text>
<line x1="664.95" y1="357.43" x2="664.95" y2="355.33" stroke="#ed8323" stroke-width="1.1"/>
<line x1="661.65" y1="355.33" x2="668.25" y2="355.33" stroke="#ed8323" stroke-width="1.1"/>
<rect x="658.4" y="357.43" width="13.1" height="82.87" fill="#ed8323"/>
<text x="664.95" y="356.83" font-size="9" text-anchor="middle" fill="#1a1a1a" stroke="#1a1a1a" stroke-width="0.35">***</text>
<line x1="664.95" y1="440.3" x2="664.95" y2="444.4" stroke="#1e1e1e" stroke-width="1"/>
<text x="664.95" y="450.8" font-size="7.1" font-weight="bold" text-anchor="middle" fill="#141414" stroke="#141414" stroke-width="0.22">8</text>
<line x1="573.2" y1="334.9" x2="573.2" y2="440.9" stroke="#1e1e1e" stroke-width="1.25"/>
<line x1="572.6" y1="440.3" x2="678.7" y2="440.3" stroke="#333" stroke-width="1.2"/>
<line x1="569" y1="440.3" x2="573.2" y2="440.3" stroke="#1e1e1e" stroke-width="1.1"/>
<text x="567.4" y="442.9" font-size="6.8" font-weight="bold" text-anchor="end" fill="#141414" stroke="#141414" stroke-width="0.22">0</text>
<line x1="569" y1="419.32" x2="573.2" y2="419.32" stroke="#1e1e1e" stroke-width="1.1"/>
<text x="567.4" y="421.92" font-size="6.8" font-weight="bold" text-anchor="end" fill="#141414" stroke="#141414" stroke-width="0.22">1</text>
<line x1="569" y1="398.34" x2="573.2" y2="398.34" stroke="#1e1e1e" stroke-width="1.1"/>
<text x="567.4" y="400.94" font-size="6.8" font-weight="bold" text-anchor="end" fill="#141414" stroke="#141414" stroke-width="0.22">2</text>
<line x1="569" y1="377.36" x2="573.2" y2="377.36" stroke="#1e1e1e" stroke-width="1.1"/>
<text x="567.4" y="379.96" font-size="6.8" font-weight="bold" text-anchor="end" fill="#141414" stroke="#141414" stroke-width="0.22">3</text>
<line x1="569" y1="356.38" x2="573.2" y2="356.38" stroke="#1e1e1e" stroke-width="1.1"/>
<text x="567.4" y="358.98" font-size="6.8" font-weight="bold" text-anchor="end" fill="#141414" stroke="#141414" stroke-width="0.22">4</text>
<line x1="569" y1="335.4" x2="573.2" y2="335.4" stroke="#1e1e1e" stroke-width="1.1"/>
<text x="567.4" y="338" font-size="6.8" font-weight="bold" text-anchor="end" fill="#141414" stroke="#141414" stroke-width="0.22">5</text>
<line x1="600.25" y1="453.2" x2="669.3" y2="453.2" stroke="#333" stroke-width="1.1"/>
<text x="636.58" y="462.5" font-size="7.4" font-weight="bold" text-anchor="middle" fill="#141414" stroke="#141414" stroke-width="0.22">OGD/R(h)</text>
<text x="552.5" y="388" font-size="7.3" font-weight="bold" text-anchor="middle" fill="#141414" transform="rotate(-90 552.5 388)" textLength="114.2" lengthAdjust="spacingAndGlyphs" stroke="#141414" stroke-width="0.22">Relative fluorescence intensity</text>
<text x="561" y="389" font-size="7.3" font-weight="bold" text-anchor="middle" fill="#141414" transform="rotate(-90 561 389)" textLength="58.4" lengthAdjust="spacingAndGlyphs" stroke="#141414" stroke-width="0.22">of FerroOrange</text>
<text x="1" y="496.9" font-size="14" text-anchor="start" fill="#141414" stroke="#141414" stroke-width="0.5">K</text>
<line x1="62.55" y1="588.15" x2="62.55" y2="587.52" stroke="#9dd2e6" stroke-width="1.1"/>
<line x1="59.25" y1="587.52" x2="65.85" y2="587.52" stroke="#9dd2e6" stroke-width="1.1"/>
<rect x="56" y="588.15" width="13.1" height="10.55" fill="#9dd2e6"/>
<line x1="62.55" y1="598.7" x2="62.55" y2="602.7" stroke="#1e1e1e" stroke-width="1"/>
<text x="62.55" y="609.5" font-size="7.1" font-weight="bold" text-anchor="middle" fill="#141414" stroke="#141414" stroke-width="0.22">Control</text>
<line x1="82.2" y1="559.51" x2="82.2" y2="556.9" stroke="#51abbd" stroke-width="1.1"/>
<line x1="78.9" y1="556.9" x2="85.5" y2="556.9" stroke="#51abbd" stroke-width="1.1"/>
<rect x="75.65" y="559.51" width="13.1" height="39.19" fill="#51abbd"/>
<text x="82.2" y="558.4" font-size="9" text-anchor="middle" fill="#1a1a1a" stroke="#1a1a1a" stroke-width="0.35">**</text>
<line x1="82.2" y1="598.7" x2="82.2" y2="602.7" stroke="#1e1e1e" stroke-width="1"/>
<text x="82.2" y="609.5" font-size="7.1" font-weight="bold" text-anchor="middle" fill="#141414" stroke="#141414" stroke-width="0.22">2</text>
<line x1="101.85" y1="537.57" x2="101.85" y2="534.43" stroke="#17394d" stroke-width="1.1"/>
<line x1="98.55" y1="534.43" x2="105.15" y2="534.43" stroke="#17394d" stroke-width="1.1"/>
<rect x="95.3" y="537.57" width="13.1" height="61.13" fill="#17394d"/>
<text x="101.85" y="535.93" font-size="9" text-anchor="middle" fill="#1a1a1a" stroke="#1a1a1a" stroke-width="0.35">***</text>
<line x1="101.85" y1="598.7" x2="101.85" y2="602.7" stroke="#1e1e1e" stroke-width="1"/>
<text x="101.85" y="609.5" font-size="7.1" font-weight="bold" text-anchor="middle" fill="#141414" stroke="#141414" stroke-width="0.22">4</text>
<line x1="121.5" y1="518.76" x2="121.5" y2="516.14" stroke="#ebb22f" stroke-width="1.1"/>
<line x1="118.2" y1="516.14" x2="124.8" y2="516.14" stroke="#ebb22f" stroke-width="1.1"/>
<rect x="114.95" y="518.76" width="13.1" height="79.94" fill="#ebb22f"/>
<text x="121.5" y="517.64" font-size="9" text-anchor="middle" fill="#1a1a1a" stroke="#1a1a1a" stroke-width="0.35">***</text>
<line x1="121.5" y1="598.7" x2="121.5" y2="602.7" stroke="#1e1e1e" stroke-width="1"/>
<text x="121.5" y="609.5" font-size="7.1" font-weight="bold" text-anchor="middle" fill="#141414" stroke="#141414" stroke-width="0.22">6</text>
<line x1="141.15" y1="528.89" x2="141.15" y2="526.07" stroke="#ed8323" stroke-width="1.1"/>
<line x1="137.85" y1="526.07" x2="144.45" y2="526.07" stroke="#ed8323" stroke-width="1.1"/>
<rect x="134.6" y="528.89" width="13.1" height="69.81" fill="#ed8323"/>
<text x="141.15" y="527.57" font-size="9" text-anchor="middle" fill="#1a1a1a" stroke="#1a1a1a" stroke-width="0.35">***</text>
<line x1="141.15" y1="598.7" x2="141.15" y2="602.7" stroke="#1e1e1e" stroke-width="1"/>
<text x="141.15" y="609.5" font-size="7.1" font-weight="bold" text-anchor="middle" fill="#141414" stroke="#141414" stroke-width="0.22">8</text>
<line x1="49.4" y1="493.7" x2="49.4" y2="599.3" stroke="#1e1e1e" stroke-width="1.25"/>
<line x1="48.8" y1="598.7" x2="154.9" y2="598.7" stroke="#333" stroke-width="1.2"/>
<line x1="45.2" y1="598.7" x2="49.4" y2="598.7" stroke="#1e1e1e" stroke-width="1.1"/>
<text x="43.6" y="601.3" font-size="6.8" font-weight="bold" text-anchor="end" fill="#141414" stroke="#141414" stroke-width="0.22">0</text>
<line x1="45.2" y1="577.8" x2="49.4" y2="577.8" stroke="#1e1e1e" stroke-width="1.1"/>
<text x="43.6" y="580.4" font-size="6.8" font-weight="bold" text-anchor="end" fill="#141414" stroke="#141414" stroke-width="0.22">2</text>
<line x1="45.2" y1="556.9" x2="49.4" y2="556.9" stroke="#1e1e1e" stroke-width="1.1"/>
<text x="43.6" y="559.5" font-size="6.8" font-weight="bold" text-anchor="end" fill="#141414" stroke="#141414" stroke-width="0.22">4</text>
<line x1="45.2" y1="536" x2="49.4" y2="536" stroke="#1e1e1e" stroke-width="1.1"/>
<text x="43.6" y="538.6" font-size="6.8" font-weight="bold" text-anchor="end" fill="#141414" stroke="#141414" stroke-width="0.22">6</text>
<line x1="45.2" y1="515.1" x2="49.4" y2="515.1" stroke="#1e1e1e" stroke-width="1.1"/>
<text x="43.6" y="517.7" font-size="6.8" font-weight="bold" text-anchor="end" fill="#141414" stroke="#141414" stroke-width="0.22">8</text>
<line x1="45.2" y1="494.2" x2="49.4" y2="494.2" stroke="#1e1e1e" stroke-width="1.1"/>
<text x="43.6" y="496.8" font-size="6.8" font-weight="bold" text-anchor="end" fill="#141414" stroke="#141414" stroke-width="0.22">10</text>
<line x1="76.45" y1="611.7" x2="145.5" y2="611.7" stroke="#333" stroke-width="1.1"/>
<text x="112.77" y="620.6" font-size="7.4" font-weight="bold" text-anchor="middle" fill="#141414" stroke="#141414" stroke-width="0.22">OGD/R(h)</text>
<text x="24.5" y="546.9" font-size="7.3" font-weight="bold" text-anchor="middle" fill="#141414" transform="rotate(-90 24.5 546.9)" textLength="113.8" lengthAdjust="spacingAndGlyphs" stroke="#141414" stroke-width="0.22">Relative fluorescence intensity</text>
<text x="33" y="546.7" font-size="7.3" font-weight="bold" text-anchor="middle" fill="#141414" transform="rotate(-90 33 546.7)" textLength="52.5" lengthAdjust="spacingAndGlyphs" stroke="#141414" stroke-width="0.22">of C11 BODIPY</text>
<text x="169.5" y="497" font-size="14" text-anchor="start" fill="#141414" stroke="#141414" stroke-width="0.5">L</text>
<rect x="215.2" y="572.65" width="13.1" height="26.05" fill="#9dd2e6"/>
<line x1="221.75" y1="598.7" x2="221.75" y2="603.2" stroke="#1e1e1e" stroke-width="1"/>
<text x="221.75" y="610" font-size="7.1" font-weight="bold" text-anchor="middle" fill="#141414" stroke="#141414" stroke-width="0.22">Control</text>
<line x1="241.4" y1="568.74" x2="241.4" y2="566.92" stroke="#51abbd" stroke-width="1.1"/>
<line x1="238.1" y1="566.92" x2="244.7" y2="566.92" stroke="#51abbd" stroke-width="1.1"/>
<rect x="234.85" y="568.74" width="13.1" height="29.96" fill="#51abbd"/>
<text x="241.4" y="565.22" font-size="6.3" font-weight="bold" text-anchor="middle" fill="#1a1a1a" stroke="#1a1a1a" stroke-width="0.22">ns</text>
<line x1="241.4" y1="598.7" x2="241.4" y2="603.2" stroke="#1e1e1e" stroke-width="1"/>
<text x="241.4" y="610" font-size="7.1" font-weight="bold" text-anchor="middle" fill="#141414" stroke="#141414" stroke-width="0.22">2</text>
<line x1="261.05" y1="551.81" x2="261.05" y2="550.51" stroke="#17394d" stroke-width="1.1"/>
<line x1="257.75" y1="550.51" x2="264.35" y2="550.51" stroke="#17394d" stroke-width="1.1"/>
<rect x="254.5" y="551.81" width="13.1" height="46.89" fill="#17394d"/>
<text x="261.05" y="552.01" font-size="9" text-anchor="middle" fill="#1a1a1a" stroke="#1a1a1a" stroke-width="0.35">**</text>
<line x1="261.05" y1="598.7" x2="261.05" y2="603.2" stroke="#1e1e1e" stroke-width="1"/>
<text x="261.05" y="610" font-size="7.1" font-weight="bold" text-anchor="middle" fill="#141414" stroke="#141414" stroke-width="0.22">4</text>
<line x1="280.7" y1="527.06" x2="280.7" y2="523.15" stroke="#ebb22f" stroke-width="1.1"/>
<line x1="277.4" y1="523.15" x2="284" y2="523.15" stroke="#ebb22f" stroke-width="1.1"/>
<rect x="274.15" y="527.06" width="13.1" height="71.64" fill="#ebb22f"/>
<text x="280.7" y="524.65" font-size="9" text-anchor="middle" fill="#1a1a1a" stroke="#1a1a1a" stroke-width="0.35">***</text>
<line x1="280.7" y1="598.7" x2="280.7" y2="603.2" stroke="#1e1e1e" stroke-width="1"/>
<text x="280.7" y="610" font-size="7.1" font-weight="bold" text-anchor="middle" fill="#141414" stroke="#141414" stroke-width="0.22">6</text>
<line x1="300.35" y1="526.28" x2="300.35" y2="523.68" stroke="#ed8323" stroke-width="1.1"/>
<line x1="297.05" y1="523.68" x2="303.65" y2="523.68" stroke="#ed8323" stroke-width="1.1"/>
<rect x="293.8" y="526.28" width="13.1" height="72.42" fill="#ed8323"/>
<text x="300.35" y="525.18" font-size="9" text-anchor="middle" fill="#1a1a1a" stroke="#1a1a1a" stroke-width="0.35">***</text>
<line x1="300.35" y1="598.7" x2="300.35" y2="603.2" stroke="#1e1e1e" stroke-width="1"/>
<text x="300.35" y="610" font-size="7.1" font-weight="bold" text-anchor="middle" fill="#141414" stroke="#141414" stroke-width="0.22">8</text>
<line x1="208.6" y1="494" x2="208.6" y2="599.3" stroke="#1e1e1e" stroke-width="1.25"/>
<line x1="208" y1="598.7" x2="314.1" y2="598.7" stroke="#333" stroke-width="1.2"/>
<line x1="204.4" y1="598.7" x2="208.6" y2="598.7" stroke="#1e1e1e" stroke-width="1.1"/>
<text x="202.8" y="601.3" font-size="6.8" font-weight="bold" text-anchor="end" fill="#141414" stroke="#141414" stroke-width="0.22">0</text>
<line x1="204.4" y1="572.65" x2="208.6" y2="572.65" stroke="#1e1e1e" stroke-width="1.1"/>
<text x="202.8" y="575.25" font-size="6.8" font-weight="bold" text-anchor="end" fill="#141414" stroke="#141414" stroke-width="0.22">1</text>
<line x1="204.4" y1="546.6" x2="208.6" y2="546.6" stroke="#1e1e1e" stroke-width="1.1"/>
<text x="202.8" y="549.2" font-size="6.8" font-weight="bold" text-anchor="end" fill="#141414" stroke="#141414" stroke-width="0.22">2</text>
<line x1="204.4" y1="520.55" x2="208.6" y2="520.55" stroke="#1e1e1e" stroke-width="1.1"/>
<text x="202.8" y="523.15" font-size="6.8" font-weight="bold" text-anchor="end" fill="#141414" stroke="#141414" stroke-width="0.22">3</text>
<line x1="204.4" y1="494.5" x2="208.6" y2="494.5" stroke="#1e1e1e" stroke-width="1.1"/>
<text x="202.8" y="497.1" font-size="6.8" font-weight="bold" text-anchor="end" fill="#141414" stroke="#141414" stroke-width="0.22">4</text>
<line x1="235.65" y1="612.9" x2="304.7" y2="612.9" stroke="#333" stroke-width="1.1"/>
<text x="271.98" y="621.5" font-size="7.4" font-weight="bold" text-anchor="middle" fill="#141414" stroke="#141414" stroke-width="0.22">OGD/R(h)</text>
<text x="193.9" y="545.5" font-size="7.3" font-weight="bold" text-anchor="middle" fill="#141414" transform="rotate(-90 193.9 545.5)" textLength="88.9" lengthAdjust="spacingAndGlyphs" stroke="#141414" stroke-width="0.22">Relative MDA expression</text>
<text x="331.3" y="497" font-size="14" text-anchor="start" fill="#141414" stroke="#141414" stroke-width="0.5">M</text>
<rect x="388.7" y="529.23" width="13.1" height="69.47" fill="#9dd2e6"/>
<line x1="395.25" y1="598.7" x2="395.25" y2="603.2" stroke="#1e1e1e" stroke-width="1"/>
<text x="395.25" y="610" font-size="7.1" font-weight="bold" text-anchor="middle" fill="#141414" stroke="#141414" stroke-width="0.22">Control</text>
<line x1="414.9" y1="534.1" x2="414.9" y2="529.93" stroke="#51abbd" stroke-width="1.1"/>
<line x1="411.6" y1="529.93" x2="418.2" y2="529.93" stroke="#51abbd" stroke-width="1.1"/>
<rect x="408.35" y="534.1" width="13.1" height="64.6" fill="#51abbd"/>
<text x="414.9" y="528.23" font-size="6.3" font-weight="bold" text-anchor="middle" fill="#1a1a1a" stroke="#1a1a1a" stroke-width="0.22">ns</text>
<line x1="414.9" y1="598.7" x2="414.9" y2="603.2" stroke="#1e1e1e" stroke-width="1"/>
<text x="414.9" y="610" font-size="7.1" font-weight="bold" text-anchor="middle" fill="#141414" stroke="#141414" stroke-width="0.22">2</text>
<line x1="434.55" y1="550.77" x2="434.55" y2="548.68" stroke="#17394d" stroke-width="1.1"/>
<line x1="431.25" y1="548.68" x2="437.85" y2="548.68" stroke="#17394d" stroke-width="1.1"/>
<rect x="428" y="550.77" width="13.1" height="47.93" fill="#17394d"/>
<text x="434.55" y="550.18" font-size="9" text-anchor="middle" fill="#1a1a1a" stroke="#1a1a1a" stroke-width="0.35">**</text>
<line x1="434.55" y1="598.7" x2="434.55" y2="603.2" stroke="#1e1e1e" stroke-width="1"/>
<text x="434.55" y="610" font-size="7.1" font-weight="bold" text-anchor="middle" fill="#141414" stroke="#141414" stroke-width="0.22">4</text>
<line x1="454.2" y1="570.91" x2="454.2" y2="566.75" stroke="#ebb22f" stroke-width="1.1"/>
<line x1="450.9" y1="566.75" x2="457.5" y2="566.75" stroke="#ebb22f" stroke-width="1.1"/>
<rect x="447.65" y="570.91" width="13.1" height="27.79" fill="#ebb22f"/>
<text x="454.2" y="568.25" font-size="9" text-anchor="middle" fill="#1a1a1a" stroke="#1a1a1a" stroke-width="0.35">***</text>
<line x1="454.2" y1="598.7" x2="454.2" y2="603.2" stroke="#1e1e1e" stroke-width="1"/>
<text x="454.2" y="610" font-size="7.1" font-weight="bold" text-anchor="middle" fill="#141414" stroke="#141414" stroke-width="0.22">6</text>
<line x1="473.85" y1="568.83" x2="473.85" y2="566.75" stroke="#ed8323" stroke-width="1.1"/>
<line x1="470.55" y1="566.75" x2="477.15" y2="566.75" stroke="#ed8323" stroke-width="1.1"/>
<rect x="467.3" y="568.83" width="13.1" height="29.87" fill="#ed8323"/>
<text x="473.85" y="568.25" font-size="9" text-anchor="middle" fill="#1a1a1a" stroke="#1a1a1a" stroke-width="0.35">***</text>
<line x1="473.85" y1="598.7" x2="473.85" y2="603.2" stroke="#1e1e1e" stroke-width="1"/>
<text x="473.85" y="610" font-size="7.1" font-weight="bold" text-anchor="middle" fill="#141414" stroke="#141414" stroke-width="0.22">8</text>
<line x1="382.1" y1="494" x2="382.1" y2="599.3" stroke="#1e1e1e" stroke-width="1.25"/>
<line x1="381.5" y1="598.7" x2="487.6" y2="598.7" stroke="#333" stroke-width="1.2"/>
<line x1="377.9" y1="598.7" x2="382.1" y2="598.7" stroke="#1e1e1e" stroke-width="1.1"/>
<text x="376.3" y="601.3" font-size="6.8" font-weight="bold" text-anchor="end" fill="#141414" stroke="#141414" stroke-width="0.22">0.0</text>
<line x1="377.9" y1="563.97" x2="382.1" y2="563.97" stroke="#1e1e1e" stroke-width="1.1"/>
<text x="376.3" y="566.57" font-size="6.8" font-weight="bold" text-anchor="end" fill="#141414" stroke="#141414" stroke-width="0.22">0.5</text>
<line x1="377.9" y1="529.23" x2="382.1" y2="529.23" stroke="#1e1e1e" stroke-width="1.1"/>
<text x="376.3" y="531.83" font-size="6.8" font-weight="bold" text-anchor="end" fill="#141414" stroke="#141414" stroke-width="0.22">1.0</text>
<line x1="377.9" y1="494.5" x2="382.1" y2="494.5" stroke="#1e1e1e" stroke-width="1.1"/>
<text x="376.3" y="497.1" font-size="6.8" font-weight="bold" text-anchor="end" fill="#141414" stroke="#141414" stroke-width="0.22">1.5</text>
<line x1="409.15" y1="612.9" x2="478.2" y2="612.9" stroke="#333" stroke-width="1.1"/>
<text x="445.48" y="621.5" font-size="7.4" font-weight="bold" text-anchor="middle" fill="#141414" stroke="#141414" stroke-width="0.22">OGD/R(h)</text>
<text x="361.3" y="545.8" font-size="7.3" font-weight="bold" text-anchor="middle" fill="#141414" transform="rotate(-90 361.3 545.8)" textLength="89.5" lengthAdjust="spacingAndGlyphs" stroke="#141414" stroke-width="0.22">Relative GSH expression</text>
<text x="489.8" y="497.3" font-size="14" text-anchor="start" fill="#141414" stroke="#141414" stroke-width="0.5">N</text>
<text x="605.7" y="530.8" font-size="8.4" text-anchor="middle" fill="#141414" stroke="#141414" stroke-width="0.3">OGD/R(h)</text>
<line x1="563.2" y1="534.5" x2="646.2" y2="534.5" stroke="#3a3a3a" stroke-width="1"/>
<text x="547.6" y="543.8" font-size="8.2" text-anchor="middle" fill="#141414" stroke="#141414" stroke-width="0.3">Control</text>
<text x="569.8" y="543.8" font-size="8.2" text-anchor="middle" fill="#141414" stroke="#141414" stroke-width="0.3">2</text>
<text x="593.2" y="543.8" font-size="8.2" text-anchor="middle" fill="#141414" stroke="#141414" stroke-width="0.3">4</text>
<text x="616.2" y="543.8" font-size="8.2" text-anchor="middle" fill="#141414" stroke="#141414" stroke-width="0.3">6</text>
<text x="638.2" y="543.8" font-size="8.2" text-anchor="middle" fill="#141414" stroke="#141414" stroke-width="0.3">8</text>
<rect x="533.8" y="546.5" width="116.2" height="19.1" fill="#ececec" stroke="#333" stroke-width="1.1"/>
<rect x="540.05" y="554.2" width="14.5" height="3" rx="1.5" fill="rgb(92,92,92)" filter="url(#bl)"/>
<rect x="560.1" y="553.8" width="17" height="3.8" rx="1.9" fill="rgb(53,53,53)" filter="url(#bl)"/>
<rect x="583.1" y="553.7" width="17" height="4" rx="2" fill="rgb(40,40,40)" filter="url(#bl)"/>
<rect x="605.3" y="553.4" width="17" height="4.6" rx="2.3" fill="rgb(25,25,25)" filter="url(#bl)"/>
<rect x="629.1" y="553.4" width="17" height="4.6" rx="2.3" fill="rgb(25,25,25)" filter="url(#bl)"/>
<text x="530.9" y="559" font-size="8.2" text-anchor="end" fill="#141414" stroke="#141414" stroke-width="0.3">HMOX1</text>
<text x="653" y="559" font-size="8.2" text-anchor="start" fill="#141414" stroke="#141414" stroke-width="0.3">33kDa</text>
<rect x="533.8" y="571.4" width="116.2" height="19.2" fill="#ececec" stroke="#333" stroke-width="1.1"/>
<rect x="540.2" y="579.1" width="18" height="5" rx="2.5" fill="rgb(14,14,14)" filter="url(#bl)"/>
<rect x="562.75" y="579.2" width="17.5" height="4.8" rx="2.4" fill="rgb(16,16,16)" filter="url(#bl)"/>
<rect x="584.6" y="579.2" width="17" height="4.8" rx="2.4" fill="rgb(16,16,16)" filter="url(#bl)"/>
<rect x="607.3" y="579.2" width="16" height="4.8" rx="2.4" fill="rgb(16,16,16)" filter="url(#bl)"/>
<rect x="629.7" y="579.1" width="17" height="5" rx="2.5" fill="rgb(16,16,16)" filter="url(#bl)"/>
<text x="530.9" y="583" font-size="8.2" text-anchor="end" fill="#141414" stroke="#141414" stroke-width="0.3">β-actin</text>
<text x="653" y="583" font-size="8.2" text-anchor="start" fill="#141414" stroke="#141414" stroke-width="0.3">42kDa</text>
<text x="0.3" y="651" font-size="14" text-anchor="start" fill="#141414" stroke="#141414" stroke-width="0.5">O</text>
<line x1="54.55" y1="714.95" x2="54.55" y2="712.17" stroke="#9dd2e6" stroke-width="1.1"/>
<line x1="51.25" y1="712.17" x2="57.85" y2="712.17" stroke="#9dd2e6" stroke-width="1.1"/>
<rect x="48" y="714.95" width="13.1" height="43.85" fill="#9dd2e6"/>
<line x1="54.55" y1="758.8" x2="54.55" y2="763.4" stroke="#1e1e1e" stroke-width="1"/>
<text x="54.55" y="770.4" font-size="7.1" font-weight="bold" text-anchor="middle" fill="#141414" stroke="#141414" stroke-width="0.22">Control</text>
<line x1="74.2" y1="707.3" x2="74.2" y2="703.82" stroke="#51abbd" stroke-width="1.1"/>
<line x1="70.9" y1="703.82" x2="77.5" y2="703.82" stroke="#51abbd" stroke-width="1.1"/>
<rect x="67.65" y="707.3" width="13.1" height="51.5" fill="#51abbd"/>
<text x="74.2" y="702.12" font-size="6.3" font-weight="bold" text-anchor="middle" fill="#1a1a1a" stroke="#1a1a1a" stroke-width="0.22">ns</text>
<line x1="74.2" y1="758.8" x2="74.2" y2="763.4" stroke="#1e1e1e" stroke-width="1"/>
<text x="74.2" y="770.4" font-size="7.1" font-weight="bold" text-anchor="middle" fill="#141414" stroke="#141414" stroke-width="0.22">2</text>
<line x1="93.85" y1="696.16" x2="93.85" y2="691.98" stroke="#17394d" stroke-width="1.1"/>
<line x1="90.55" y1="691.98" x2="97.15" y2="691.98" stroke="#17394d" stroke-width="1.1"/>
<rect x="87.3" y="696.16" width="13.1" height="62.64" fill="#17394d"/>
<text x="93.85" y="693.48" font-size="9" text-anchor="middle" fill="#1a1a1a" stroke="#1a1a1a" stroke-width="0.35">*</text>
<line x1="93.85" y1="758.8" x2="93.85" y2="763.4" stroke="#1e1e1e" stroke-width="1"/>
<text x="93.85" y="770.4" font-size="7.1" font-weight="bold" text-anchor="middle" fill="#141414" stroke="#141414" stroke-width="0.22">4</text>
<line x1="113.5" y1="674.58" x2="113.5" y2="671.8" stroke="#ebb22f" stroke-width="1.1"/>
<line x1="110.2" y1="671.8" x2="116.8" y2="671.8" stroke="#ebb22f" stroke-width="1.1"/>
<rect x="106.95" y="674.58" width="13.1" height="84.22" fill="#ebb22f"/>
<text x="113.5" y="673.3" font-size="9" text-anchor="middle" fill="#1a1a1a" stroke="#1a1a1a" stroke-width="0.35">***</text>
<line x1="113.5" y1="758.8" x2="113.5" y2="763.4" stroke="#1e1e1e" stroke-width="1"/>
<text x="113.5" y="770.4" font-size="7.1" font-weight="bold" text-anchor="middle" fill="#141414" stroke="#141414" stroke-width="0.22">6</text>
<line x1="133.15" y1="680.15" x2="133.15" y2="676.67" stroke="#ed8323" stroke-width="1.1"/>
<line x1="129.85" y1="676.67" x2="136.45" y2="676.67" stroke="#ed8323" stroke-width="1.1"/>
<rect x="126.6" y="680.15" width="13.1" height="78.65" fill="#ed8323"/>
<text x="133.15" y="678.17" font-size="9" text-anchor="middle" fill="#1a1a1a" stroke="#1a1a1a" stroke-width="0.35">***</text>
<line x1="133.15" y1="758.8" x2="133.15" y2="763.4" stroke="#1e1e1e" stroke-width="1"/>
<text x="133.15" y="770.4" font-size="7.1" font-weight="bold" text-anchor="middle" fill="#141414" stroke="#141414" stroke-width="0.22">8</text>
<line x1="41.4" y1="653.9" x2="41.4" y2="759.4" stroke="#1e1e1e" stroke-width="1.25"/>
<line x1="40.8" y1="758.8" x2="146.9" y2="758.8" stroke="#333" stroke-width="1.2"/>
<line x1="37.2" y1="758.8" x2="41.4" y2="758.8" stroke="#1e1e1e" stroke-width="1.1"/>
<text x="35.6" y="761.4" font-size="6.8" font-weight="bold" text-anchor="end" fill="#141414" stroke="#141414" stroke-width="0.22">0.0</text>
<line x1="37.2" y1="724" x2="41.4" y2="724" stroke="#1e1e1e" stroke-width="1.1"/>
<text x="35.6" y="726.6" font-size="6.8" font-weight="bold" text-anchor="end" fill="#141414" stroke="#141414" stroke-width="0.22">0.5</text>
<line x1="37.2" y1="689.2" x2="41.4" y2="689.2" stroke="#1e1e1e" stroke-width="1.1"/>
<text x="35.6" y="691.8" font-size="6.8" font-weight="bold" text-anchor="end" fill="#141414" stroke="#141414" stroke-width="0.22">1.0</text>
<line x1="37.2" y1="654.4" x2="41.4" y2="654.4" stroke="#1e1e1e" stroke-width="1.1"/>
<text x="35.6" y="657" font-size="6.8" font-weight="bold" text-anchor="end" fill="#141414" stroke="#141414" stroke-width="0.22">1.5</text>
<line x1="68.45" y1="773" x2="137.5" y2="773" stroke="#333" stroke-width="1.1"/>
<text x="104.77" y="781.3" font-size="7.4" font-weight="bold" text-anchor="middle" fill="#141414" stroke="#141414" stroke-width="0.22">OGD/R(h)</text>
<text x="21.4" y="707.5" font-size="7.3" font-weight="bold" text-anchor="middle" fill="#141414" transform="rotate(-90 21.4 707.5)" textLength="53.3" lengthAdjust="spacingAndGlyphs" stroke="#141414" stroke-width="0.22">HMOX1/β-actin</text>
<text x="2.2" y="802.8" font-size="14" text-anchor="start" fill="#141414" stroke="#141414" stroke-width="0.5">P</text>
<rect x="53.2" y="873.28" width="13.1" height="41.72" fill="#9dd2e6"/>
<line x1="59.75" y1="915" x2="59.75" y2="919" stroke="#1e1e1e" stroke-width="1"/>
<text x="59.75" y="925.9" font-size="7.1" font-weight="bold" text-anchor="middle" fill="#141414" stroke="#141414" stroke-width="0.22">Control</text>
<line x1="79.4" y1="866.19" x2="79.4" y2="862.85" stroke="#51abbd" stroke-width="1.1"/>
<line x1="76.1" y1="862.85" x2="82.7" y2="862.85" stroke="#51abbd" stroke-width="1.1"/>
<rect x="72.85" y="866.19" width="13.1" height="48.81" fill="#51abbd"/>
<text x="79.4" y="861.15" font-size="6.3" font-weight="bold" text-anchor="middle" fill="#1a1a1a" stroke="#1a1a1a" stroke-width="0.22">ns</text>
<line x1="79.4" y1="915" x2="79.4" y2="919" stroke="#1e1e1e" stroke-width="1"/>
<text x="79.4" y="925.9" font-size="7.1" font-weight="bold" text-anchor="middle" fill="#141414" stroke="#141414" stroke-width="0.22">12</text>
<line x1="99.05" y1="849.08" x2="99.05" y2="844.91" stroke="#17394d" stroke-width="1.1"/>
<line x1="95.75" y1="844.91" x2="102.35" y2="844.91" stroke="#17394d" stroke-width="1.1"/>
<rect x="92.5" y="849.08" width="13.1" height="65.92" fill="#17394d"/>
<text x="99.05" y="846.41" font-size="9" text-anchor="middle" fill="#1a1a1a" stroke="#1a1a1a" stroke-width="0.35">**</text>
<line x1="99.05" y1="915" x2="99.05" y2="919" stroke="#1e1e1e" stroke-width="1"/>
<text x="99.05" y="925.9" font-size="7.1" font-weight="bold" text-anchor="middle" fill="#141414" stroke="#141414" stroke-width="0.22">24</text>
<line x1="118.7" y1="828.22" x2="118.7" y2="824.88" stroke="#ebb22f" stroke-width="1.1"/>
<line x1="115.4" y1="824.88" x2="122" y2="824.88" stroke="#ebb22f" stroke-width="1.1"/>
<rect x="112.15" y="828.22" width="13.1" height="86.78" fill="#ebb22f"/>
<text x="118.7" y="826.38" font-size="9" text-anchor="middle" fill="#1a1a1a" stroke="#1a1a1a" stroke-width="0.35">***</text>
<line x1="118.7" y1="915" x2="118.7" y2="919" stroke="#1e1e1e" stroke-width="1"/>
<text x="118.7" y="925.9" font-size="7.1" font-weight="bold" text-anchor="middle" fill="#141414" stroke="#141414" stroke-width="0.22">48</text>
<line x1="138.35" y1="831.14" x2="138.35" y2="827.81" stroke="#ed8323" stroke-width="1.1"/>
<line x1="135.05" y1="827.81" x2="141.65" y2="827.81" stroke="#ed8323" stroke-width="1.1"/>
<rect x="131.8" y="831.14" width="13.1" height="83.86" fill="#ed8323"/>
<text x="138.35" y="829.31" font-size="9" text-anchor="middle" fill="#1a1a1a" stroke="#1a1a1a" stroke-width="0.35">***</text>
<line x1="138.35" y1="915" x2="138.35" y2="919" stroke="#1e1e1e" stroke-width="1"/>
<text x="138.35" y="925.9" font-size="7.1" font-weight="bold" text-anchor="middle" fill="#141414" stroke="#141414" stroke-width="0.22">72</text>
<line x1="46.6" y1="810.2" x2="46.6" y2="915.6" stroke="#1e1e1e" stroke-width="1.25"/>
<line x1="46" y1="915" x2="152.1" y2="915" stroke="#333" stroke-width="1.2"/>
<line x1="42.4" y1="915" x2="46.6" y2="915" stroke="#1e1e1e" stroke-width="1.1"/>
<text x="40.8" y="917.6" font-size="6.8" font-weight="bold" text-anchor="end" fill="#141414" stroke="#141414" stroke-width="0.22">0.0</text>
<line x1="42.4" y1="894.14" x2="46.6" y2="894.14" stroke="#1e1e1e" stroke-width="1.1"/>
<text x="40.8" y="896.74" font-size="6.8" font-weight="bold" text-anchor="end" fill="#141414" stroke="#141414" stroke-width="0.22">0.5</text>
<line x1="42.4" y1="873.28" x2="46.6" y2="873.28" stroke="#1e1e1e" stroke-width="1.1"/>
<text x="40.8" y="875.88" font-size="6.8" font-weight="bold" text-anchor="end" fill="#141414" stroke="#141414" stroke-width="0.22">1.0</text>
<line x1="42.4" y1="852.42" x2="46.6" y2="852.42" stroke="#1e1e1e" stroke-width="1.1"/>
<text x="40.8" y="855.02" font-size="6.8" font-weight="bold" text-anchor="end" fill="#141414" stroke="#141414" stroke-width="0.22">1.5</text>
<line x1="42.4" y1="831.56" x2="46.6" y2="831.56" stroke="#1e1e1e" stroke-width="1.1"/>
<text x="40.8" y="834.16" font-size="6.8" font-weight="bold" text-anchor="end" fill="#141414" stroke="#141414" stroke-width="0.22">2.0</text>
<line x1="42.4" y1="810.7" x2="46.6" y2="810.7" stroke="#1e1e1e" stroke-width="1.1"/>
<text x="40.8" y="813.3" font-size="6.8" font-weight="bold" text-anchor="end" fill="#141414" stroke="#141414" stroke-width="0.22">2.5</text>
<line x1="73.65" y1="929" x2="142.7" y2="929" stroke="#333" stroke-width="1.1"/>
<text x="109.98" y="936.8" font-size="7.4" font-weight="bold" text-anchor="middle" fill="#141414" stroke="#141414" stroke-width="0.22">OGD/R(h)</text>
<text x="18" y="863" font-size="7.3" font-weight="bold" text-anchor="middle" fill="#141414" transform="rotate(-90 18 863)" textLength="81.6" lengthAdjust="spacingAndGlyphs" stroke="#141414" stroke-width="0.22">Relative HMOX1 mRNA</text>
<text x="26.9" y="863.4" font-size="7.3" font-weight="bold" text-anchor="middle" fill="#141414" transform="rotate(-90 26.9 863.4)" textLength="41" lengthAdjust="spacingAndGlyphs" stroke="#141414" stroke-width="0.22">expression</text>
<text x="155.6" y="651.4" font-size="14" text-anchor="start" fill="#141414" stroke="#141414" stroke-width="0.5">Q</text>
<text x="221.2" y="658.4" font-size="8.5" text-anchor="middle" fill="#141414" stroke="#141414" stroke-width="0.3">Control</text>
<text x="326.3" y="658.1" font-size="8.5" text-anchor="middle" fill="#141414" stroke="#141414" stroke-width="0.3">2</text>
<text x="433.5" y="658.1" font-size="8.5" text-anchor="middle" fill="#141414" stroke="#141414" stroke-width="0.3">4</text>
<text x="530.5" y="658.1" font-size="8.5" text-anchor="middle" fill="#141414" stroke="#141414" stroke-width="0.3">6</text>
<text x="635.7" y="658.1" font-size="8.5" text-anchor="middle" fill="#141414" stroke="#141414" stroke-width="0.3">8</text>
<line x1="276" y1="649.5" x2="680" y2="649.5" stroke="#222" stroke-width="1"/>
<text x="481" y="645.9" font-size="8.5" text-anchor="middle" fill="#141414" stroke="#141414" stroke-width="0.3">OGD/R(h)</text>
<text x="168.9" y="691.5" font-size="8" text-anchor="middle" fill="#4a7ae8" transform="rotate(-90 168.9 691.5)" textLength="19" lengthAdjust="spacingAndGlyphs" stroke="#4a7ae8" stroke-width="0.3">DAPI</text>
<text x="168.9" y="761.9" font-size="8" text-anchor="middle" fill="#e02a3a" transform="rotate(-90 168.9 761.9)" textLength="25.2" lengthAdjust="spacingAndGlyphs" stroke="#e02a3a" stroke-width="0.3">HMOX1</text>
<text x="168.6" y="838.3" font-size="8" text-anchor="middle" fill="#111" transform="rotate(-90 168.6 838.3)" textLength="23.7" lengthAdjust="spacingAndGlyphs" stroke="#111" stroke-width="0.3">Merge</text>
<clipPath id="c11"><rect x="171.2" y="659.7" width="101.6" height="71.6"/></clipPath>
<g clip-path="url(#c11)">
<rect x="171.2" y="659.7" width="101.6" height="71.6" fill="#020202"/>
<g filter="url(#cb)">
<ellipse cx="226.36" cy="669.47" rx="1.91" ry="1.74" transform="rotate(107.59 226.36 669.47)" fill="#3a1cff" opacity="1"/>
<ellipse cx="242.82" cy="673.36" rx="2.33" ry="1.93" transform="rotate(62.36 242.82 673.36)" fill="#3a1cff" opacity="1"/>
<ellipse cx="250.31" cy="668.58" rx="2.01" ry="1.66" transform="rotate(104.37 250.31 668.58)" fill="#3a1cff" opacity="1"/>
<ellipse cx="250.31" cy="677.55" rx="1.92" ry="1.66" transform="rotate(66.28 250.31 677.55)" fill="#3a1cff" opacity="1"/>
<ellipse cx="232.95" cy="680.55" rx="2.39" ry="1.95" transform="rotate(16.98 232.95 680.55)" fill="#3a1cff" opacity="1"/>
<ellipse cx="215.29" cy="686.53" rx="2.43" ry="1.91" transform="rotate(92.74 215.29 686.53)" fill="#3a1cff" opacity="1"/>
<ellipse cx="212.9" cy="697.01" rx="2.42" ry="1.95" transform="rotate(53.42 212.9 697.01)" fill="#3a1cff" opacity="1"/>
<ellipse cx="247.91" cy="694.91" rx="2.03" ry="1.71" transform="rotate(172.27 247.91 694.91)" fill="#3a1cff" opacity="1"/>
<ellipse cx="226.36" cy="695.51" rx="2.41" ry="1.92" transform="rotate(11.94 226.36 695.51)" fill="#3a1cff" opacity="0.4"/>
<ellipse cx="181.47" cy="699.4" rx="2.33" ry="1.75" transform="rotate(145.63 181.47 699.4)" fill="#3a1cff" opacity="1"/>
<ellipse cx="196.44" cy="707.48" rx="2.13" ry="1.93" transform="rotate(135.26 196.44 707.48)" fill="#3a1cff" opacity="1"/>
<ellipse cx="174.59" cy="707.48" rx="2.54" ry="1.98" transform="rotate(148.15 174.59 707.48)" fill="#3a1cff" opacity="1"/>
<ellipse cx="242.82" cy="707.78" rx="2.16" ry="1.85" transform="rotate(79.97 242.82 707.78)" fill="#3a1cff" opacity="1"/>
<ellipse cx="251.2" cy="712.27" rx="2.47" ry="1.96" transform="rotate(35.36 251.2 712.27)" fill="#3a1cff" opacity="1"/>
<ellipse cx="224.87" cy="716.46" rx="2.04" ry="1.7" transform="rotate(157.68 224.87 716.46)" fill="#3a1cff" opacity="1"/>
<ellipse cx="213.8" cy="713.77" rx="2.04" ry="1.66" transform="rotate(147.76 213.8 713.77)" fill="#3a1cff" opacity="0.5"/>
<ellipse cx="228.46" cy="726.34" rx="2.18" ry="1.7" transform="rotate(81.78 228.46 726.34)" fill="#3a1cff" opacity="0.4"/>
</g></g>
<clipPath id="c12"><rect x="274.4" y="659.7" width="101.6" height="71.6"/></clipPath>
<g clip-path="url(#c12)">
<rect x="274.4" y="659.7" width="101.6" height="71.6" fill="#111111"/>
<g filter="url(#cb)">
<ellipse cx="275.15" cy="666.48" rx="2.35" ry="1.92" transform="rotate(71.77 275.15 666.48)" fill="#3a1cff" opacity="1"/>
<ellipse cx="295.2" cy="666.48" rx="2.15" ry="1.69" transform="rotate(82.63 295.2 666.48)" fill="#3a1cff" opacity="1"/>
<ellipse cx="330.21" cy="667.98" rx="2.31" ry="1.99" transform="rotate(45.88 330.21 667.98)" fill="#3a1cff" opacity="1"/>
<ellipse cx="348.47" cy="667.98" rx="1.98" ry="1.64" transform="rotate(173.12 348.47 667.98)" fill="#3a1cff" opacity="1"/>
<ellipse cx="305.07" cy="682.34" rx="2.6" ry="1.98" transform="rotate(99.51 305.07 682.34)" fill="#3a1cff" opacity="1"/>
<ellipse cx="332.01" cy="682.34" rx="2.44" ry="1.85" transform="rotate(55.8 332.01 682.34)" fill="#3a1cff" opacity="1"/>
<ellipse cx="321.23" cy="688.03" rx="2.51" ry="1.93" transform="rotate(31.49 321.23 688.03)" fill="#3a1cff" opacity="1"/>
<ellipse cx="328.12" cy="687.43" rx="2.17" ry="1.69" transform="rotate(173.57 328.12 687.43)" fill="#3a1cff" opacity="1"/>
<ellipse cx="349.66" cy="685.34" rx="2.56" ry="1.98" transform="rotate(82.36 349.66 685.34)" fill="#3a1cff" opacity="0.6"/>
<ellipse cx="297.29" cy="691.02" rx="2.58" ry="1.98" transform="rotate(3.15 297.29 691.02)" fill="#3a1cff" opacity="1"/>
<ellipse cx="318.24" cy="692.82" rx="2.27" ry="1.99" transform="rotate(51.09 318.24 692.82)" fill="#3a1cff" opacity="1"/>
<ellipse cx="287.72" cy="699.4" rx="2.03" ry="1.84" transform="rotate(169.28 287.72 699.4)" fill="#3a1cff" opacity="1"/>
<ellipse cx="282.33" cy="703.89" rx="1.93" ry="1.73" transform="rotate(145.97 282.33 703.89)" fill="#3a1cff" opacity="1"/>
<ellipse cx="290.11" cy="707.78" rx="1.98" ry="1.63" transform="rotate(29.69 290.11 707.78)" fill="#3a1cff" opacity="1"/>
<ellipse cx="330.21" cy="707.48" rx="2.35" ry="1.97" transform="rotate(51.66 330.21 707.48)" fill="#3a1cff" opacity="1"/>
<ellipse cx="343.38" cy="709.88" rx="2.04" ry="1.6" transform="rotate(19.2 343.38 709.88)" fill="#3a1cff" opacity="1"/>
<ellipse cx="341.58" cy="715.86" rx="2.55" ry="1.98" transform="rotate(19.43 341.58 715.86)" fill="#3a1cff" opacity="1"/>
<ellipse cx="345.47" cy="720.95" rx="2.14" ry="1.83" transform="rotate(102.32 345.47 720.95)" fill="#3a1cff" opacity="1"/>
<ellipse cx="351.16" cy="723.34" rx="1.96" ry="1.72" transform="rotate(162.62 351.16 723.34)" fill="#3a1cff" opacity="1"/>
<ellipse cx="356.55" cy="721.25" rx="2.61" ry="1.95" transform="rotate(104.09 356.55 721.25)" fill="#3a1cff" opacity="1"/>
<ellipse cx="315.55" cy="720.95" rx="2.06" ry="1.7" transform="rotate(68.29 315.55 720.95)" fill="#3a1cff" opacity="1"/>
<ellipse cx="358.04" cy="730.23" rx="2.12" ry="1.84" transform="rotate(19.34 358.04 730.23)" fill="#3a1cff" opacity="1"/>
<ellipse cx="365.53" cy="670.97" rx="2.56" ry="1.92" transform="rotate(53.45 365.53 670.97)" fill="#3a1cff" opacity="0.4"/>
</g></g>
<clipPath id="c13"><rect x="377" y="659.7" width="101.6" height="71.6"/></clipPath>
<g clip-path="url(#c13)">
<rect x="377" y="659.7" width="101.6" height="71.6" fill="#101010"/>
<g filter="url(#cb)">
<ellipse cx="386.47" cy="667.08" rx="2.25" ry="1.82" transform="rotate(173.74 386.47 667.08)" fill="#3a1cff" opacity="1"/>
<ellipse cx="397.55" cy="666.48" rx="1.86" ry="1.68" transform="rotate(85.47 397.55 666.48)" fill="#3a1cff" opacity="1"/>
<ellipse cx="405.93" cy="664.99" rx="2.33" ry="1.8" transform="rotate(71.59 405.93 664.99)" fill="#3a1cff" opacity="1"/>
<ellipse cx="413.71" cy="664.99" rx="2.24" ry="1.99" transform="rotate(61.12 413.71 664.99)" fill="#3a1cff" opacity="1"/>
<ellipse cx="438.25" cy="662.59" rx="1.86" ry="1.61" transform="rotate(118.3 438.25 662.59)" fill="#3a1cff" opacity="1"/>
<ellipse cx="456.8" cy="661.99" rx="2.53" ry="1.99" transform="rotate(22.98 456.8 661.99)" fill="#3a1cff" opacity="1"/>
<ellipse cx="399.94" cy="676.36" rx="2.6" ry="1.94" transform="rotate(99.72 399.94 676.36)" fill="#3a1cff" opacity="1"/>
<ellipse cx="414.01" cy="673.36" rx="2.28" ry="1.94" transform="rotate(67.9 414.01 673.36)" fill="#3a1cff" opacity="1"/>
<ellipse cx="420.29" cy="674.56" rx="2.31" ry="1.93" transform="rotate(126.71 420.29 674.56)" fill="#3a1cff" opacity="0.6"/>
<ellipse cx="426.28" cy="671.57" rx="2.12" ry="1.89" transform="rotate(118.09 426.28 671.57)" fill="#3a1cff" opacity="1"/>
<ellipse cx="414.91" cy="682.34" rx="1.97" ry="1.68" transform="rotate(137.12 414.91 682.34)" fill="#3a1cff" opacity="1"/>
<ellipse cx="415.8" cy="688.93" rx="2.29" ry="1.71" transform="rotate(43.42 415.8 688.93)" fill="#3a1cff" opacity="1"/>
<ellipse cx="387.37" cy="687.43" rx="2.2" ry="1.94" transform="rotate(78.01 387.37 687.43)" fill="#3a1cff" opacity="0.4"/>
<ellipse cx="384.98" cy="695.51" rx="1.95" ry="1.6" transform="rotate(44.65 384.98 695.51)" fill="#3a1cff" opacity="1"/>
<ellipse cx="453.81" cy="676.96" rx="2.31" ry="1.81" transform="rotate(171.08 453.81 676.96)" fill="#3a1cff" opacity="1"/>
<ellipse cx="462.79" cy="674.56" rx="1.88" ry="1.62" transform="rotate(29.44 462.79 674.56)" fill="#3a1cff" opacity="1"/>
<ellipse cx="460.69" cy="688.93" rx="2.5" ry="1.88" transform="rotate(171.48 460.69 688.93)" fill="#3a1cff" opacity="1"/>
<ellipse cx="464.88" cy="689.82" rx="1.96" ry="1.7" transform="rotate(139.48 464.88 689.82)" fill="#3a1cff" opacity="1"/>
<ellipse cx="461.89" cy="700.9" rx="2.02" ry="1.66" transform="rotate(110.27 461.89 700.9)" fill="#3a1cff" opacity="1"/>
<ellipse cx="473.56" cy="703.89" rx="2.28" ry="1.7" transform="rotate(96.86 473.56 703.89)" fill="#3a1cff" opacity="1"/>
<ellipse cx="385.88" cy="711.37" rx="2.19" ry="1.97" transform="rotate(10.5 385.88 711.37)" fill="#3a1cff" opacity="1"/>
<ellipse cx="418.8" cy="712.87" rx="2.01" ry="1.76" transform="rotate(174.23 418.8 712.87)" fill="#3a1cff" opacity="1"/>
<ellipse cx="414.31" cy="716.76" rx="2.26" ry="1.88" transform="rotate(112.44 414.31 716.76)" fill="#3a1cff" opacity="1"/>
<ellipse cx="442.74" cy="711.37" rx="2.18" ry="1.87" transform="rotate(85.7 442.74 711.37)" fill="#3a1cff" opacity="1"/>
<ellipse cx="445.43" cy="723.34" rx="2.28" ry="1.88" transform="rotate(56.24 445.43 723.34)" fill="#3a1cff" opacity="1"/>
<ellipse cx="380.49" cy="727.23" rx="2.28" ry="1.78" transform="rotate(150.2 380.49 727.23)" fill="#3a1cff" opacity="1"/>
<ellipse cx="427.47" cy="730.82" rx="2.02" ry="1.7" transform="rotate(98.23 427.47 730.82)" fill="#3a1cff" opacity="1"/>
</g></g>
<clipPath id="c14"><rect x="479.4" y="659.7" width="101.6" height="71.6"/></clipPath>
<g clip-path="url(#c14)">
<rect x="479.4" y="659.7" width="101.6" height="71.6" fill="#020202"/>
<g filter="url(#cb)">
<ellipse cx="485.23" cy="661.99" rx="2.28" ry="1.99" transform="rotate(5.7 485.23 661.99)" fill="#3a1cff" opacity="1"/>
<ellipse cx="537.61" cy="669.47" rx="2.3" ry="1.98" transform="rotate(178.99 537.61 669.47)" fill="#3a1cff" opacity="1"/>
<ellipse cx="543.59" cy="669.47" rx="2.12" ry="1.76" transform="rotate(92.93 543.59 669.47)" fill="#3a1cff" opacity="1"/>
<ellipse cx="552.57" cy="669.47" rx="2.25" ry="1.93" transform="rotate(142.14 552.57 669.47)" fill="#3a1cff" opacity="1"/>
<ellipse cx="562.15" cy="676.36" rx="2.34" ry="1.87" transform="rotate(97.9 562.15 676.36)" fill="#3a1cff" opacity="1"/>
<ellipse cx="508.58" cy="679.35" rx="2.15" ry="1.76" transform="rotate(21.86 508.58 679.35)" fill="#3a1cff" opacity="1"/>
<ellipse cx="514.26" cy="678.75" rx="2.45" ry="1.93" transform="rotate(166.34 514.26 678.75)" fill="#3a1cff" opacity="1"/>
<ellipse cx="503.19" cy="689.53" rx="2.29" ry="1.98" transform="rotate(50.43 503.19 689.53)" fill="#3a1cff" opacity="1"/>
<ellipse cx="557.06" cy="686.53" rx="2.07" ry="1.66" transform="rotate(60.81 557.06 686.53)" fill="#3a1cff" opacity="1"/>
<ellipse cx="565.14" cy="689.53" rx="2.46" ry="1.88" transform="rotate(143.21 565.14 689.53)" fill="#3a1cff" opacity="1"/>
<ellipse cx="491.22" cy="695.51" rx="2.16" ry="1.86" transform="rotate(126.44 491.22 695.51)" fill="#3a1cff" opacity="1"/>
<ellipse cx="546.58" cy="696.41" rx="2.56" ry="2" transform="rotate(172.53 546.58 696.41)" fill="#3a1cff" opacity="1"/>
<ellipse cx="551.07" cy="699.4" rx="2.58" ry="1.95" transform="rotate(179.46 551.07 699.4)" fill="#3a1cff" opacity="1"/>
<ellipse cx="522.64" cy="702.39" rx="2.45" ry="1.92" transform="rotate(136.23 522.64 702.39)" fill="#3a1cff" opacity="1"/>
<ellipse cx="537.01" cy="704.79" rx="2.3" ry="1.93" transform="rotate(22.97 537.01 704.79)" fill="#3a1cff" opacity="1"/>
<ellipse cx="507.68" cy="709.28" rx="2.4" ry="1.96" transform="rotate(115.86 507.68 709.28)" fill="#3a1cff" opacity="1"/>
<ellipse cx="547.18" cy="710.77" rx="2.4" ry="1.82" transform="rotate(48.68 547.18 710.77)" fill="#3a1cff" opacity="1"/>
<ellipse cx="550.18" cy="709.28" rx="2.65" ry="2" transform="rotate(151.35 550.18 709.28)" fill="#3a1cff" opacity="1"/>
<ellipse cx="539.7" cy="716.46" rx="2.06" ry="1.79" transform="rotate(144.88 539.7 716.46)" fill="#3a1cff" opacity="1"/>
<ellipse cx="482.24" cy="717.36" rx="2.16" ry="1.62" transform="rotate(167.9 482.24 717.36)" fill="#3a1cff" opacity="1"/>
<ellipse cx="553.77" cy="724.84" rx="1.93" ry="1.69" transform="rotate(115.07 553.77 724.84)" fill="#3a1cff" opacity="1"/>
<ellipse cx="489.12" cy="729.33" rx="1.97" ry="1.63" transform="rotate(129.05 489.12 729.33)" fill="#3a1cff" opacity="1"/>
<ellipse cx="480.74" cy="670.97" rx="1.92" ry="1.65" transform="rotate(19.2 480.74 670.97)" fill="#3a1cff" opacity="0.4"/>
</g></g>
<clipPath id="c15"><rect x="582.3" y="659.7" width="101.6" height="71.6"/></clipPath>
<g clip-path="url(#c15)">
<rect x="582.3" y="659.7" width="101.6" height="71.6" fill="#111111"/>
<g filter="url(#cb)">
<ellipse cx="583.37" cy="661.3" rx="2.33" ry="1.77" transform="rotate(24.1 583.37 661.3)" fill="#3a1cff" opacity="1"/>
<ellipse cx="603.76" cy="666.36" rx="2.15" ry="1.69" transform="rotate(81.25 603.76 666.36)" fill="#3a1cff" opacity="1"/>
<ellipse cx="621.08" cy="670.04" rx="2.12" ry="1.83" transform="rotate(55.08 621.08 670.04)" fill="#3a1cff" opacity="1"/>
<ellipse cx="614.95" cy="674.33" rx="1.9" ry="1.62" transform="rotate(136.06 614.95 674.33)" fill="#3a1cff" opacity="1"/>
<ellipse cx="592.57" cy="680.77" rx="1.96" ry="1.63" transform="rotate(167.32 592.57 680.77)" fill="#3a1cff" opacity="0.6"/>
<ellipse cx="598.7" cy="681.69" rx="2.18" ry="1.75" transform="rotate(33.55 598.7 681.69)" fill="#3a1cff" opacity="1"/>
<ellipse cx="660.47" cy="665.13" rx="2.33" ry="1.98" transform="rotate(171.79 660.47 665.13)" fill="#3a1cff" opacity="0.6"/>
<ellipse cx="645.15" cy="677.7" rx="2.01" ry="1.78" transform="rotate(137.64 645.15 677.7)" fill="#3a1cff" opacity="1"/>
<ellipse cx="658.48" cy="678.62" rx="2.07" ry="1.73" transform="rotate(48.29 658.48 678.62)" fill="#3a1cff" opacity="1"/>
<ellipse cx="669.67" cy="678.93" rx="2.16" ry="1.92" transform="rotate(179.58 669.67 678.93)" fill="#3a1cff" opacity="1"/>
<ellipse cx="652.81" cy="683.07" rx="2" ry="1.72" transform="rotate(104.38 652.81 683.07)" fill="#3a1cff" opacity="1"/>
<ellipse cx="648.52" cy="687.82" rx="2.09" ry="1.63" transform="rotate(157.19 648.52 687.82)" fill="#3a1cff" opacity="1"/>
<ellipse cx="678.1" cy="687.82" rx="1.88" ry="1.6" transform="rotate(159.83 678.1 687.82)" fill="#3a1cff" opacity="1"/>
<ellipse cx="676.88" cy="693.03" rx="1.93" ry="1.62" transform="rotate(142.19 676.88 693.03)" fill="#3a1cff" opacity="1"/>
<ellipse cx="665.84" cy="695.79" rx="2.55" ry="1.95" transform="rotate(42.33 665.84 695.79)" fill="#3a1cff" opacity="1"/>
<ellipse cx="586.13" cy="695.02" rx="1.93" ry="1.71" transform="rotate(137.62 586.13 695.02)" fill="#3a1cff" opacity="1"/>
<ellipse cx="585.82" cy="704.68" rx="1.95" ry="1.69" transform="rotate(162.77 585.82 704.68)" fill="#3a1cff" opacity="1"/>
<ellipse cx="643.61" cy="707.28" rx="2.34" ry="1.93" transform="rotate(14.66 643.61 707.28)" fill="#3a1cff" opacity="0.6"/>
<ellipse cx="660.93" cy="705.29" rx="1.95" ry="1.61" transform="rotate(31.78 660.93 705.29)" fill="#3a1cff" opacity="1"/>
<ellipse cx="664" cy="708.36" rx="1.95" ry="1.6" transform="rotate(7.49 664 708.36)" fill="#3a1cff" opacity="1"/>
<ellipse cx="666.15" cy="710.35" rx="2.42" ry="1.82" transform="rotate(101.45 666.15 710.35)" fill="#3a1cff" opacity="1"/>
<ellipse cx="623.69" cy="713.42" rx="1.83" ry="1.63" transform="rotate(7.98 623.69 713.42)" fill="#3a1cff" opacity="1"/>
<ellipse cx="655.11" cy="723.69" rx="2.16" ry="1.86" transform="rotate(110.45 655.11 723.69)" fill="#3a1cff" opacity="0.6"/>
</g></g>
<clipPath id="c16"><rect x="171.2" y="732.7" width="101.6" height="71.4"/></clipPath>
<g clip-path="url(#c16)">
<rect x="171.2" y="732.7" width="101.6" height="71.4" fill="#050101"/>
<g filter="url(#hb)">
<path d="M220.29,731.52 Q225.27,743.08 232.44,753.43 Q227.46,741.87 220.29,731.52Z" fill="#220504" opacity="0.3"/>
<ellipse cx="226.36" cy="742.47" rx="3.65" ry="2.79" transform="rotate(55.38 226.36 742.47)" fill="#220504" opacity="0.47"/>
<ellipse cx="226.36" cy="742.47" rx="2.26" ry="1.88" transform="rotate(55.38 226.36 742.47)" fill="#3a0a08" opacity="0.55"/>
<path d="M257.78,742.11 Q242.5,745.23 227.87,750.62 Q243.15,747.5 257.78,742.11Z" fill="#220504" opacity="0.3"/>
<ellipse cx="242.82" cy="746.36" rx="4.25" ry="2.63" transform="rotate(168.43 242.82 746.36)" fill="#220504" opacity="0.47"/>
<ellipse cx="242.82" cy="746.36" rx="2.14" ry="1.78" transform="rotate(168.43 242.82 746.36)" fill="#3a0a08" opacity="0.55"/>
<path d="M262.65,735.4 Q249.75,740.46 237.96,747.76 Q250.87,742.69 262.65,735.4Z" fill="#220504" opacity="0.3"/>
<ellipse cx="250.31" cy="741.58" rx="4.35" ry="2.77" transform="rotate(162.5 250.31 741.58)" fill="#220504" opacity="0.47"/>
<ellipse cx="250.31" cy="741.58" rx="2.16" ry="1.8" transform="rotate(162.5 250.31 741.58)" fill="#3a0a08" opacity="0.55"/>
<path d="M258.63,745.32 Q249.71,749.61 241.98,755.78 Q250.9,751.5 258.63,745.32Z" fill="#220504" opacity="0.3"/>
<ellipse cx="250.31" cy="750.55" rx="3.41" ry="2.48" transform="rotate(139.19 250.31 750.55)" fill="#220504" opacity="0.47"/>
<ellipse cx="250.31" cy="750.55" rx="2.15" ry="1.79" transform="rotate(139.19 250.31 750.55)" fill="#3a0a08" opacity="0.55"/>
<path d="M221.39,748.12 Q232.4,754.71 244.51,758.97 Q233.49,752.38 221.39,748.12Z" fill="#220504" opacity="0.3"/>
<ellipse cx="232.95" cy="753.55" rx="3.73" ry="2.85" transform="rotate(17.75 232.95 753.55)" fill="#220504" opacity="0.47"/>
<ellipse cx="232.95" cy="753.55" rx="2.41" ry="2.01" transform="rotate(17.75 232.95 753.55)" fill="#3a0a08" opacity="0.55"/>
<path d="M222.48,755.02 Q214.65,758.51 208.11,764.05 Q215.93,760.55 222.48,755.02Z" fill="#220504" opacity="0.3"/>
<ellipse cx="215.29" cy="759.53" rx="4.4" ry="2.68" transform="rotate(155.95 215.29 759.53)" fill="#220504" opacity="0.47"/>
<ellipse cx="215.29" cy="759.53" rx="2.47" ry="2.06" transform="rotate(155.95 215.29 759.53)" fill="#3a0a08" opacity="0.55"/>
<path d="M214.81,754.16 Q211.7,769.86 210.99,785.85 Q214.09,770.15 214.81,754.16Z" fill="#220504" opacity="0.3"/>
<ellipse cx="212.9" cy="770.01" rx="4.4" ry="2.67" transform="rotate(98.81 212.9 770.01)" fill="#220504" opacity="0.47"/>
<ellipse cx="212.9" cy="770.01" rx="2.47" ry="2.06" transform="rotate(98.81 212.9 770.01)" fill="#3a0a08" opacity="0.55"/>
<path d="M257.49,764.22 Q247.5,766.84 238.33,771.6 Q248.33,768.98 257.49,764.22Z" fill="#220504" opacity="0.3"/>
<ellipse cx="247.91" cy="767.91" rx="4.3" ry="2.55" transform="rotate(155.11 247.91 767.91)" fill="#220504" opacity="0.47"/>
<ellipse cx="247.91" cy="767.91" rx="2.36" ry="1.97" transform="rotate(155.11 247.91 767.91)" fill="#3a0a08" opacity="0.55"/>
<path d="M215.64,758.43 Q225.49,769.44 237.09,778.59 Q227.24,767.58 215.64,758.43Z" fill="#220504" opacity="0.12"/>
<ellipse cx="226.36" cy="768.51" rx="4.13" ry="2.83" transform="rotate(49.9 226.36 768.51)" fill="#220504" opacity="0.19"/>
<ellipse cx="226.36" cy="768.51" rx="2.3" ry="1.91" transform="rotate(49.9 226.36 768.51)" fill="#3a0a08" opacity="0.22"/>
<path d="M187.21,765.19 Q180.61,771.72 175.74,779.62 Q182.33,773.08 187.21,765.19Z" fill="#220504" opacity="0.3"/>
<ellipse cx="181.47" cy="772.4" rx="4.01" ry="2.44" transform="rotate(126.25 181.47 772.4)" fill="#220504" opacity="0.47"/>
<ellipse cx="181.47" cy="772.4" rx="2.48" ry="2.07" transform="rotate(126.25 181.47 772.4)" fill="#3a0a08" opacity="0.55"/>
<path d="M186.14,776.2 Q196.01,781.51 206.74,784.77 Q196.86,779.46 186.14,776.2Z" fill="#220504" opacity="0.3"/>
<ellipse cx="196.44" cy="780.48" rx="4.19" ry="2.47" transform="rotate(13.68 196.44 780.48)" fill="#220504" opacity="0.47"/>
<ellipse cx="196.44" cy="780.48" rx="2.4" ry="2" transform="rotate(13.68 196.44 780.48)" fill="#3a0a08" opacity="0.55"/>
<path d="M162.66,774.48 Q174.07,781.51 186.53,786.49 Q175.11,779.45 162.66,774.48Z" fill="#220504" opacity="0.3"/>
<ellipse cx="174.59" cy="780.48" rx="3.79" ry="2.56" transform="rotate(22.19 174.59 780.48)" fill="#220504" opacity="0.47"/>
<ellipse cx="174.59" cy="780.48" rx="2.42" ry="2.02" transform="rotate(22.19 174.59 780.48)" fill="#3a0a08" opacity="0.55"/>
<path d="M236.85,771.67 Q241.84,781.43 248.8,789.89 Q243.81,780.13 236.85,771.67Z" fill="#220504" opacity="0.3"/>
<ellipse cx="242.82" cy="780.78" rx="4.08" ry="2.63" transform="rotate(57.57 242.82 780.78)" fill="#220504" opacity="0.47"/>
<ellipse cx="242.82" cy="780.78" rx="2.3" ry="1.91" transform="rotate(57.57 242.82 780.78)" fill="#3a0a08" opacity="0.55"/>
<path d="M262.12,780.77 Q250.78,784.24 240.29,789.77 Q251.63,786.3 262.12,780.77Z" fill="#220504" opacity="0.3"/>
<ellipse cx="251.2" cy="785.27" rx="4.27" ry="2.48" transform="rotate(153.13 251.2 785.27)" fill="#220504" opacity="0.47"/>
<ellipse cx="251.2" cy="785.27" rx="2.23" ry="1.86" transform="rotate(153.13 251.2 785.27)" fill="#3a0a08" opacity="0.55"/>
<path d="M210.78,790.16 Q224.92,790.5 238.96,788.76 Q224.82,788.42 210.78,790.16Z" fill="#220504" opacity="0.3"/>
<ellipse cx="224.87" cy="789.46" rx="4.16" ry="2.32" transform="rotate(4.74 224.87 789.46)" fill="#220504" opacity="0.47"/>
<ellipse cx="224.87" cy="789.46" rx="2.07" ry="1.72" transform="rotate(4.74 224.87 789.46)" fill="#3a0a08" opacity="0.55"/>
<path d="M207.63,774.16 Q212.81,787.25 219.96,799.38 Q214.79,786.28 207.63,774.16Z" fill="#220504" opacity="0.15"/>
<ellipse cx="213.8" cy="786.77" rx="3.74" ry="2.45" transform="rotate(58.21 213.8 786.77)" fill="#220504" opacity="0.23"/>
<ellipse cx="213.8" cy="786.77" rx="2.14" ry="1.78" transform="rotate(58.21 213.8 786.77)" fill="#3a0a08" opacity="0.28"/>
<path d="M240.33,792.26 Q227.85,798.31 216.59,806.41 Q229.07,800.36 240.33,792.26Z" fill="#220504" opacity="0.12"/>
<ellipse cx="228.46" cy="799.34" rx="4.08" ry="2.65" transform="rotate(142.83 228.46 799.34)" fill="#220504" opacity="0.19"/>
<ellipse cx="228.46" cy="799.34" rx="2.32" ry="1.93" transform="rotate(142.83 228.46 799.34)" fill="#3a0a08" opacity="0.22"/>
</g></g>
<clipPath id="c17"><rect x="274.4" y="732.7" width="101.6" height="71.4"/></clipPath>
<g clip-path="url(#c17)">
<rect x="274.4" y="732.7" width="101.6" height="71.4" fill="#070101"/>
<g filter="url(#hb)">
<path d="M276.51,725.19 Q273.89,739.36 273.78,753.77 Q276.4,739.6 276.51,725.19Z" fill="#300806" opacity="0.39"/>
<ellipse cx="275.15" cy="739.48" rx="3.83" ry="2.79" transform="rotate(89.58 275.15 739.48)" fill="#300806" opacity="0.59"/>
<ellipse cx="275.15" cy="739.48" rx="2.23" ry="1.86" transform="rotate(89.58 275.15 739.48)" fill="#5a100c" opacity="0.7"/>
<path d="M308.12,736.12 Q294.88,738.27 282.27,742.84 Q295.51,740.69 308.12,736.12Z" fill="#300806" opacity="0.39"/>
<ellipse cx="295.2" cy="739.48" rx="3.59" ry="2.77" transform="rotate(171.67 295.2 739.48)" fill="#300806" opacity="0.59"/>
<ellipse cx="295.2" cy="739.48" rx="2.49" ry="2.08" transform="rotate(171.67 295.2 739.48)" fill="#5a100c" opacity="0.7"/>
<path d="M337.35,729.62 Q329.16,740.32 323.07,752.34 Q331.26,741.64 337.35,729.62Z" fill="#300806" opacity="0.39"/>
<ellipse cx="330.21" cy="740.98" rx="3.47" ry="2.75" transform="rotate(121.62 330.21 740.98)" fill="#300806" opacity="0.59"/>
<ellipse cx="330.21" cy="740.98" rx="2.05" ry="1.7" transform="rotate(121.62 330.21 740.98)" fill="#5a100c" opacity="0.7"/>
<path d="M353.96,732.17 Q347.38,740.3 342.97,749.78 Q349.55,741.66 353.96,732.17Z" fill="#300806" opacity="0.39"/>
<ellipse cx="348.47" cy="740.98" rx="4.37" ry="2.85" transform="rotate(118.63 348.47 740.98)" fill="#300806" opacity="0.59"/>
<ellipse cx="348.47" cy="740.98" rx="2.12" ry="1.76" transform="rotate(118.63 348.47 740.98)" fill="#5a100c" opacity="0.7"/>
<path d="M305.65,746.04 Q303.9,755.27 304.5,764.65 Q306.25,755.42 305.65,746.04Z" fill="#300806" opacity="0.39"/>
<ellipse cx="305.07" cy="755.34" rx="3.63" ry="2.61" transform="rotate(94.17 305.07 755.34)" fill="#300806" opacity="0.59"/>
<ellipse cx="305.07" cy="755.34" rx="2.23" ry="1.86" transform="rotate(94.17 305.07 755.34)" fill="#5a100c" opacity="0.7"/>
<path d="M324.48,745.04 Q330.97,756.1 339.53,765.65 Q333.05,754.58 324.48,745.04Z" fill="#300806" opacity="0.39"/>
<ellipse cx="332.01" cy="755.34" rx="4.28" ry="2.86" transform="rotate(48.07 332.01 755.34)" fill="#300806" opacity="0.59"/>
<ellipse cx="332.01" cy="755.34" rx="2.34" ry="1.95" transform="rotate(48.07 332.01 755.34)" fill="#5a100c" opacity="0.7"/>
<path d="M328.8,753.79 Q320.47,760.23 313.66,768.27 Q322,761.83 328.8,753.79Z" fill="#300806" opacity="0.39"/>
<ellipse cx="321.23" cy="761.03" rx="3.65" ry="2.46" transform="rotate(136.15 321.23 761.03)" fill="#300806" opacity="0.59"/>
<ellipse cx="321.23" cy="761.03" rx="2.29" ry="1.91" transform="rotate(136.15 321.23 761.03)" fill="#5a100c" opacity="0.7"/>
<path d="M338.89,758.23 Q327.89,759.33 317.35,762.63 Q328.34,761.53 338.89,758.23Z" fill="#300806" opacity="0.39"/>
<ellipse cx="328.12" cy="760.43" rx="4.21" ry="2.5" transform="rotate(164.4 328.12 760.43)" fill="#300806" opacity="0.59"/>
<ellipse cx="328.12" cy="760.43" rx="2.39" ry="2" transform="rotate(164.4 328.12 760.43)" fill="#5a100c" opacity="0.7"/>
<path d="M336.85,753.95 Q349.33,759.32 362.48,762.72 Q350,757.35 336.85,753.95Z" fill="#300806" opacity="0.23"/>
<ellipse cx="349.66" cy="758.34" rx="3.82" ry="2.3" transform="rotate(9.32 349.66 758.34)" fill="#300806" opacity="0.36"/>
<ellipse cx="349.66" cy="758.34" rx="2.13" ry="1.77" transform="rotate(9.32 349.66 758.34)" fill="#5a100c" opacity="0.42"/>
<path d="M299.45,755.91 Q296.21,763.73 295.13,772.14 Q298.37,764.31 299.45,755.91Z" fill="#300806" opacity="0.39"/>
<ellipse cx="297.29" cy="764.02" rx="4.34" ry="2.49" transform="rotate(103.27 297.29 764.02)" fill="#300806" opacity="0.59"/>
<ellipse cx="297.29" cy="764.02" rx="2.33" ry="1.94" transform="rotate(103.27 297.29 764.02)" fill="#5a100c" opacity="0.7"/>
<path d="M326.04,755.51 Q317.33,765.13 310.44,776.12 Q319.15,766.5 326.04,755.51Z" fill="#300806" opacity="0.39"/>
<ellipse cx="318.24" cy="765.82" rx="4.27" ry="2.53" transform="rotate(118.5 318.24 765.82)" fill="#300806" opacity="0.59"/>
<ellipse cx="318.24" cy="765.82" rx="2.13" ry="1.77" transform="rotate(118.5 318.24 765.82)" fill="#5a100c" opacity="0.7"/>
<path d="M273.87,767.95 Q287.38,773.43 301.56,776.86 Q288.05,771.37 273.87,767.95Z" fill="#300806" opacity="0.39"/>
<ellipse cx="287.72" cy="772.4" rx="3.98" ry="2.4" transform="rotate(10.09 287.72 772.4)" fill="#300806" opacity="0.59"/>
<ellipse cx="287.72" cy="772.4" rx="2.35" ry="1.96" transform="rotate(10.09 287.72 772.4)" fill="#5a100c" opacity="0.7"/>
<path d="M285.2,769.21 Q281.36,776.53 279.45,784.57 Q283.3,777.25 285.2,769.21Z" fill="#300806" opacity="0.39"/>
<ellipse cx="282.33" cy="776.89" rx="4.08" ry="2.3" transform="rotate(119.24 282.33 776.89)" fill="#300806" opacity="0.59"/>
<ellipse cx="282.33" cy="776.89" rx="2.38" ry="1.98" transform="rotate(119.24 282.33 776.89)" fill="#5a100c" opacity="0.7"/>
<path d="M301.44,777.11 Q289.77,779.74 278.78,784.45 Q290.45,781.82 301.44,777.11Z" fill="#300806" opacity="0.39"/>
<ellipse cx="290.11" cy="780.78" rx="3.69" ry="2.42" transform="rotate(156.49 290.11 780.78)" fill="#300806" opacity="0.59"/>
<ellipse cx="290.11" cy="780.78" rx="2.37" ry="1.97" transform="rotate(156.49 290.11 780.78)" fill="#5a100c" opacity="0.7"/>
<path d="M314.87,776.77 Q329.96,781.52 345.56,784.19 Q330.46,779.45 314.87,776.77Z" fill="#300806" opacity="0.39"/>
<ellipse cx="330.21" cy="780.48" rx="3.53" ry="2.36" transform="rotate(3.75 330.21 780.48)" fill="#300806" opacity="0.59"/>
<ellipse cx="330.21" cy="780.48" rx="2.06" ry="1.72" transform="rotate(3.75 330.21 780.48)" fill="#5a100c" opacity="0.7"/>
<path d="M352.41,778.61 Q342.83,781.71 334.35,787.14 Q343.93,784.05 352.41,778.61Z" fill="#300806" opacity="0.39"/>
<ellipse cx="343.38" cy="782.88" rx="4.39" ry="2.88" transform="rotate(146.4 343.38 782.88)" fill="#300806" opacity="0.59"/>
<ellipse cx="343.38" cy="782.88" rx="2.13" ry="1.77" transform="rotate(146.4 343.38 782.88)" fill="#5a100c" opacity="0.7"/>
<path d="M325.92,788.93 Q341.59,789.91 357.25,788.79 Q341.58,787.81 325.92,788.93Z" fill="#300806" opacity="0.39"/>
<ellipse cx="341.58" cy="788.86" rx="3.47" ry="2.33" transform="rotate(0.22 341.58 788.86)" fill="#300806" opacity="0.59"/>
<ellipse cx="341.58" cy="788.86" rx="2.4" ry="2" transform="rotate(0.22 341.58 788.86)" fill="#5a100c" opacity="0.7"/>
<path d="M341.96,784.49 Q344.3,794.39 348.99,803.41 Q346.65,793.51 341.96,784.49Z" fill="#300806" opacity="0.39"/>
<ellipse cx="345.47" cy="793.95" rx="3.96" ry="2.79" transform="rotate(60.3 345.47 793.95)" fill="#300806" opacity="0.59"/>
<ellipse cx="345.47" cy="793.95" rx="2.04" ry="1.7" transform="rotate(60.3 345.47 793.95)" fill="#5a100c" opacity="0.7"/>
<path d="M360.15,791.43 Q350.59,795.3 342.17,801.26 Q351.73,797.39 360.15,791.43Z" fill="#300806" opacity="0.39"/>
<ellipse cx="351.16" cy="796.34" rx="3.52" ry="2.65" transform="rotate(145.12 351.16 796.34)" fill="#300806" opacity="0.59"/>
<ellipse cx="351.16" cy="796.34" rx="2.13" ry="1.77" transform="rotate(145.12 351.16 796.34)" fill="#5a100c" opacity="0.7"/>
<path d="M351.65,784.8 Q355.48,794.8 361.45,803.69 Q357.62,793.69 351.65,784.8Z" fill="#300806" opacity="0.39"/>
<ellipse cx="356.55" cy="794.25" rx="4.12" ry="2.68" transform="rotate(68.77 356.55 794.25)" fill="#300806" opacity="0.59"/>
<ellipse cx="356.55" cy="794.25" rx="2.46" ry="2.05" transform="rotate(68.77 356.55 794.25)" fill="#5a100c" opacity="0.7"/>
<path d="M322.29,785.65 Q314.67,793.24 308.8,802.25 Q316.42,794.66 322.29,785.65Z" fill="#300806" opacity="0.39"/>
<ellipse cx="315.55" cy="793.95" rx="3.42" ry="2.5" transform="rotate(119.87 315.55 793.95)" fill="#300806" opacity="0.59"/>
<ellipse cx="315.55" cy="793.95" rx="2.09" ry="1.74" transform="rotate(119.87 315.55 793.95)" fill="#5a100c" opacity="0.7"/>
<path d="M366.52,798.82 Q357.52,802.22 349.57,807.64 Q358.57,804.23 366.52,798.82Z" fill="#300806" opacity="0.39"/>
<ellipse cx="358.04" cy="803.23" rx="3.64" ry="2.52" transform="rotate(144.44 358.04 803.23)" fill="#300806" opacity="0.59"/>
<ellipse cx="358.04" cy="803.23" rx="2.49" ry="2.07" transform="rotate(144.44 358.04 803.23)" fill="#5a100c" opacity="0.7"/>
<path d="M358.61,730.14 Q364.49,744.49 372.45,757.81 Q366.56,743.46 358.61,730.14Z" fill="#300806" opacity="0.15"/>
<ellipse cx="365.53" cy="743.97" rx="3.67" ry="2.56" transform="rotate(71.3 365.53 743.97)" fill="#300806" opacity="0.24"/>
<ellipse cx="365.53" cy="743.97" rx="2.14" ry="1.78" transform="rotate(71.3 365.53 743.97)" fill="#5a100c" opacity="0.28"/>
</g></g>
<clipPath id="c18"><rect x="377" y="732.7" width="101.6" height="71.4"/></clipPath>
<g clip-path="url(#c18)">
<rect x="377" y="732.7" width="101.6" height="71.4" fill="#1c0606"/>
<g filter="url(#hb)">
<path d="M396.96,733.76 Q385.68,738.76 375.99,746.4 Q387.27,741.4 396.96,733.76Z" fill="#a02016" opacity="0.55"/>
<ellipse cx="386.47" cy="740.08" rx="4.3" ry="3.09" transform="rotate(147.94 386.47 740.08)" fill="#a02016" opacity="0.8"/>
<ellipse cx="386.47" cy="740.08" rx="2.24" ry="1.86" transform="rotate(147.94 386.47 740.08)" fill="#d83020" opacity="1"/>
<path d="M395.45,729.33 Q395.98,739.81 399.65,749.64 Q399.12,739.16 395.45,729.33Z" fill="#a02016" opacity="0.55"/>
<ellipse cx="397.55" cy="739.48" rx="4.88" ry="3.2" transform="rotate(72.96 397.55 739.48)" fill="#a02016" opacity="0.8"/>
<ellipse cx="397.55" cy="739.48" rx="2.34" ry="1.95" transform="rotate(72.96 397.55 739.48)" fill="#d83020" opacity="1"/>
<path d="M404.83,723.5 Q404.35,738.1 407.02,752.47 Q407.5,737.87 404.83,723.5Z" fill="#a02016" opacity="0.55"/>
<ellipse cx="405.93" cy="737.99" rx="4.89" ry="3.16" transform="rotate(85.96 405.93 737.99)" fill="#a02016" opacity="0.8"/>
<ellipse cx="405.93" cy="737.99" rx="2.44" ry="2.03" transform="rotate(85.96 405.93 737.99)" fill="#d83020" opacity="1"/>
<path d="M421.65,729.88 Q412.71,737.01 405.77,746.09 Q414.7,738.96 421.65,729.88Z" fill="#a02016" opacity="0.55"/>
<ellipse cx="413.71" cy="737.99" rx="4.68" ry="2.79" transform="rotate(139.13 413.71 737.99)" fill="#a02016" opacity="0.8"/>
<ellipse cx="413.71" cy="737.99" rx="2.22" ry="1.85" transform="rotate(139.13 413.71 737.99)" fill="#d83020" opacity="1"/>
<path d="M451.01,731.12 Q437.73,734.11 425.49,740.06 Q438.77,737.08 451.01,731.12Z" fill="#a02016" opacity="0.55"/>
<ellipse cx="438.25" cy="735.59" rx="4.32" ry="3.15" transform="rotate(165.05 438.25 735.59)" fill="#a02016" opacity="0.8"/>
<ellipse cx="438.25" cy="735.59" rx="2.37" ry="1.97" transform="rotate(165.05 438.25 735.59)" fill="#d83020" opacity="1"/>
<path d="M452.27,721.41 Q455.34,735.48 461.34,748.57 Q458.27,734.5 452.27,721.41Z" fill="#a02016" opacity="0.55"/>
<ellipse cx="456.8" cy="734.99" rx="4.43" ry="3.09" transform="rotate(65.98 456.8 734.99)" fill="#a02016" opacity="0.8"/>
<ellipse cx="456.8" cy="734.99" rx="2.24" ry="1.87" transform="rotate(65.98 456.8 734.99)" fill="#d83020" opacity="1"/>
<path d="M402.02,738.7 Q398.38,749.05 397.86,760.01 Q401.51,749.66 402.02,738.7Z" fill="#a02016" opacity="0.55"/>
<ellipse cx="399.94" cy="749.36" rx="5.02" ry="3.19" transform="rotate(101.94 399.94 749.36)" fill="#a02016" opacity="0.8"/>
<ellipse cx="399.94" cy="749.36" rx="2.14" ry="1.78" transform="rotate(101.94 399.94 749.36)" fill="#d83020" opacity="1"/>
<path d="M401.99,745.14 Q413.85,747.93 426.03,747.59 Q414.17,744.8 401.99,745.14Z" fill="#a02016" opacity="0.55"/>
<ellipse cx="414.01" cy="746.36" rx="4.33" ry="3.14" transform="rotate(9.29 414.01 746.36)" fill="#a02016" opacity="0.8"/>
<ellipse cx="414.01" cy="746.36" rx="2.44" ry="2.03" transform="rotate(9.29 414.01 746.36)" fill="#d83020" opacity="1"/>
<path d="M428.17,741.76 Q419.46,746.43 412.41,753.36 Q421.13,748.69 428.17,741.76Z" fill="#a02016" opacity="0.33"/>
<ellipse cx="420.29" cy="747.56" rx="5.14" ry="2.81" transform="rotate(152.06 420.29 747.56)" fill="#a02016" opacity="0.48"/>
<ellipse cx="420.29" cy="747.56" rx="2.23" ry="1.86" transform="rotate(152.06 420.29 747.56)" fill="#d83020" opacity="0.6"/>
<path d="M439.07,735.51 Q425.39,743.31 413.49,753.62 Q427.17,745.83 439.07,735.51Z" fill="#a02016" opacity="0.55"/>
<ellipse cx="426.28" cy="744.57" rx="5.05" ry="3.08" transform="rotate(142.66 426.28 744.57)" fill="#a02016" opacity="0.8"/>
<ellipse cx="426.28" cy="744.57" rx="2.11" ry="1.76" transform="rotate(142.66 426.28 744.57)" fill="#d83020" opacity="1"/>
<path d="M400.98,752.58 Q414.63,756.71 428.83,758.11 Q415.18,753.98 400.98,752.58Z" fill="#a02016" opacity="0.55"/>
<ellipse cx="414.91" cy="755.34" rx="4.33" ry="2.79" transform="rotate(10.21 414.91 755.34)" fill="#a02016" opacity="0.8"/>
<ellipse cx="414.91" cy="755.34" rx="2.32" ry="1.93" transform="rotate(10.21 414.91 755.34)" fill="#d83020" opacity="1"/>
<path d="M413.08,747.55 Q414.3,762.21 418.53,776.31 Q417.3,761.64 413.08,747.55Z" fill="#a02016" opacity="0.55"/>
<ellipse cx="415.8" cy="761.93" rx="4.91" ry="3.06" transform="rotate(81.62 415.8 761.93)" fill="#a02016" opacity="0.8"/>
<ellipse cx="415.8" cy="761.93" rx="2.3" ry="1.91" transform="rotate(81.62 415.8 761.93)" fill="#d83020" opacity="1"/>
<path d="M376.99,759.38 Q387.22,761.9 397.75,761.49 Q387.52,758.96 376.99,759.38Z" fill="#a02016" opacity="0.22"/>
<ellipse cx="387.37" cy="760.43" rx="5.13" ry="2.95" transform="rotate(1.01 387.37 760.43)" fill="#a02016" opacity="0.32"/>
<ellipse cx="387.37" cy="760.43" rx="2.12" ry="1.76" transform="rotate(1.01 387.37 760.43)" fill="#d83020" opacity="0.4"/>
<path d="M375.92,760.38 Q384.07,769.52 394.03,776.64 Q385.89,767.5 375.92,760.38Z" fill="#a02016" opacity="0.55"/>
<ellipse cx="384.98" cy="768.51" rx="4.39" ry="2.72" transform="rotate(44.14 384.98 768.51)" fill="#a02016" opacity="0.8"/>
<ellipse cx="384.98" cy="768.51" rx="2.26" ry="1.89" transform="rotate(44.14 384.98 768.51)" fill="#d83020" opacity="1"/>
<path d="M459.92,741.82 Q452.66,749.09 447.7,758.09 Q454.96,750.82 459.92,741.82Z" fill="#a02016" opacity="0.55"/>
<ellipse cx="453.81" cy="749.96" rx="5.04" ry="2.88" transform="rotate(118.86 453.81 749.96)" fill="#a02016" opacity="0.8"/>
<ellipse cx="453.81" cy="749.96" rx="2.29" ry="1.91" transform="rotate(118.86 453.81 749.96)" fill="#d83020" opacity="1"/>
<path d="M470.54,742.15 Q461.87,746.24 455.04,752.97 Q463.71,748.88 470.54,742.15Z" fill="#a02016" opacity="0.55"/>
<ellipse cx="462.79" cy="747.56" rx="4.74" ry="3.22" transform="rotate(151.62 462.79 747.56)" fill="#a02016" opacity="0.8"/>
<ellipse cx="462.79" cy="747.56" rx="2.45" ry="2.04" transform="rotate(151.62 462.79 747.56)" fill="#d83020" opacity="1"/>
<path d="M445.61,759.91 Q460.5,763.4 475.78,763.95 Q460.89,760.45 445.61,759.91Z" fill="#a02016" opacity="0.55"/>
<ellipse cx="460.69" cy="761.93" rx="4.75" ry="2.97" transform="rotate(5.03 460.69 761.93)" fill="#a02016" opacity="0.8"/>
<ellipse cx="460.69" cy="761.93" rx="2.32" ry="1.94" transform="rotate(5.03 460.69 761.93)" fill="#d83020" opacity="1"/>
<path d="M470.34,752.35 Q463.55,762.13 459.42,773.3 Q466.22,763.52 470.34,752.35Z" fill="#a02016" opacity="0.55"/>
<ellipse cx="464.88" cy="762.82" rx="4.2" ry="3" transform="rotate(115.79 464.88 762.82)" fill="#a02016" opacity="0.8"/>
<ellipse cx="464.88" cy="762.82" rx="2.13" ry="1.77" transform="rotate(115.79 464.88 762.82)" fill="#d83020" opacity="1"/>
<path d="M450.87,766.34 Q460.96,775.25 472.91,781.45 Q462.82,772.54 450.87,766.34Z" fill="#a02016" opacity="0.55"/>
<ellipse cx="461.89" cy="773.9" rx="4.49" ry="3.29" transform="rotate(40.72 461.89 773.9)" fill="#a02016" opacity="0.8"/>
<ellipse cx="461.89" cy="773.9" rx="2.42" ry="2.01" transform="rotate(40.72 461.89 773.9)" fill="#d83020" opacity="1"/>
<path d="M483.62,774.45 Q473.23,775.51 463.5,779.33 Q473.9,778.28 483.62,774.45Z" fill="#a02016" opacity="0.55"/>
<ellipse cx="473.56" cy="776.89" rx="4.61" ry="2.85" transform="rotate(171.54 473.56 776.89)" fill="#a02016" opacity="0.8"/>
<ellipse cx="473.56" cy="776.89" rx="2.37" ry="1.98" transform="rotate(171.54 473.56 776.89)" fill="#d83020" opacity="1"/>
<path d="M382.83,773.99 Q384.39,784.81 388.92,794.75 Q387.36,783.94 382.83,773.99Z" fill="#a02016" opacity="0.55"/>
<ellipse cx="385.88" cy="784.37" rx="5.19" ry="3.1" transform="rotate(71.42 385.88 784.37)" fill="#a02016" opacity="0.8"/>
<ellipse cx="385.88" cy="784.37" rx="2.21" ry="1.84" transform="rotate(71.42 385.88 784.37)" fill="#d83020" opacity="1"/>
<path d="M403.74,777.99 Q418.08,787.23 433.85,793.75 Q419.51,784.51 403.74,777.99Z" fill="#a02016" opacity="0.55"/>
<ellipse cx="418.8" cy="785.87" rx="4.61" ry="3.07" transform="rotate(27.45 418.8 785.87)" fill="#a02016" opacity="0.8"/>
<ellipse cx="418.8" cy="785.87" rx="2.42" ry="2.02" transform="rotate(27.45 418.8 785.87)" fill="#d83020" opacity="1"/>
<path d="M428.86,790.62 Q414.39,788.31 399.75,788.9 Q414.22,791.21 428.86,790.62Z" fill="#a02016" opacity="0.55"/>
<ellipse cx="414.31" cy="789.76" rx="4.67" ry="2.9" transform="rotate(177.43 414.31 789.76)" fill="#a02016" opacity="0.8"/>
<ellipse cx="414.31" cy="789.76" rx="2.09" ry="1.74" transform="rotate(177.43 414.31 789.76)" fill="#d83020" opacity="1"/>
<path d="M447.58,770.41 Q441.33,783.89 437.9,798.34 Q444.14,784.86 447.58,770.41Z" fill="#a02016" opacity="0.55"/>
<ellipse cx="442.74" cy="784.37" rx="4.43" ry="2.97" transform="rotate(112.68 442.74 784.37)" fill="#a02016" opacity="0.8"/>
<ellipse cx="442.74" cy="784.37" rx="2.41" ry="2.01" transform="rotate(112.68 442.74 784.37)" fill="#d83020" opacity="1"/>
<path d="M446.4,780.28 Q443.93,796.25 444.47,812.41 Q446.93,796.43 446.4,780.28Z" fill="#a02016" opacity="0.55"/>
<ellipse cx="445.43" cy="796.34" rx="4.66" ry="3" transform="rotate(98.83 445.43 796.34)" fill="#a02016" opacity="0.8"/>
<ellipse cx="445.43" cy="796.34" rx="2.09" ry="1.75" transform="rotate(98.83 445.43 796.34)" fill="#d83020" opacity="1"/>
<path d="M374.34,790.51 Q379.19,801.06 386.64,809.96 Q381.79,799.41 374.34,790.51Z" fill="#a02016" opacity="0.55"/>
<ellipse cx="380.49" cy="800.23" rx="4.69" ry="3.08" transform="rotate(55.04 380.49 800.23)" fill="#a02016" opacity="0.8"/>
<ellipse cx="380.49" cy="800.23" rx="2.47" ry="2.06" transform="rotate(55.04 380.49 800.23)" fill="#d83020" opacity="1"/>
<path d="M436.63,795.36 Q426.5,802.77 418.32,812.29 Q428.45,804.88 436.63,795.36Z" fill="#a02016" opacity="0.55"/>
<ellipse cx="427.47" cy="803.82" rx="4.68" ry="2.87" transform="rotate(129.03 427.47 803.82)" fill="#a02016" opacity="0.8"/>
<ellipse cx="427.47" cy="803.82" rx="2.23" ry="1.85" transform="rotate(129.03 427.47 803.82)" fill="#d83020" opacity="1"/>
</g></g>
<clipPath id="c19"><rect x="479.4" y="732.7" width="101.6" height="71.4"/></clipPath>
<g clip-path="url(#c19)">
<rect x="479.4" y="732.7" width="101.6" height="71.4" fill="#0a0101"/>
<g filter="url(#hb)">
<path d="M476.47,722.59 Q484.22,735.71 494,747.39 Q486.25,734.27 476.47,722.59Z" fill="#b01c12" opacity="0.55"/>
<ellipse cx="485.23" cy="734.99" rx="3.74" ry="2.77" transform="rotate(44.94 485.23 734.99)" fill="#b01c12" opacity="0.85"/>
<ellipse cx="485.23" cy="734.99" rx="2.39" ry="1.99" transform="rotate(44.94 485.23 734.99)" fill="#f02c16" opacity="1"/>
<path d="M537.82,727.73 Q536.33,742.46 537.39,757.22 Q538.88,742.49 537.82,727.73Z" fill="#b01c12" opacity="0.55"/>
<ellipse cx="537.61" cy="742.47" rx="4.39" ry="2.83" transform="rotate(85.94 537.61 742.47)" fill="#b01c12" opacity="0.85"/>
<ellipse cx="537.61" cy="742.47" rx="2.47" ry="2.06" transform="rotate(85.94 537.61 742.47)" fill="#f02c16" opacity="1"/>
<path d="M541.12,729.48 Q542.32,742.72 546.06,755.47 Q544.86,742.23 541.12,729.48Z" fill="#b01c12" opacity="0.55"/>
<ellipse cx="543.59" cy="742.47" rx="4.09" ry="2.88" transform="rotate(71.63 543.59 742.47)" fill="#b01c12" opacity="0.85"/>
<ellipse cx="543.59" cy="742.47" rx="2.48" ry="2.07" transform="rotate(71.63 543.59 742.47)" fill="#f02c16" opacity="1"/>
<path d="M538.73,734.95 Q551.98,743.56 566.41,750 Q553.16,741.39 538.73,734.95Z" fill="#b01c12" opacity="0.55"/>
<ellipse cx="552.57" cy="742.47" rx="3.56" ry="2.75" transform="rotate(26.86 552.57 742.47)" fill="#b01c12" opacity="0.85"/>
<ellipse cx="552.57" cy="742.47" rx="2.42" ry="2.02" transform="rotate(26.86 552.57 742.47)" fill="#f02c16" opacity="1"/>
<path d="M573.18,740.62 Q561.37,748.37 551.11,758.09 Q562.92,750.34 573.18,740.62Z" fill="#b01c12" opacity="0.55"/>
<ellipse cx="562.15" cy="749.36" rx="3.86" ry="2.79" transform="rotate(132.25 562.15 749.36)" fill="#b01c12" opacity="0.85"/>
<ellipse cx="562.15" cy="749.36" rx="2.4" ry="2" transform="rotate(132.25 562.15 749.36)" fill="#f02c16" opacity="1"/>
<path d="M494.78,753.22 Q508.66,753.6 522.38,751.48 Q508.5,751.1 494.78,753.22Z" fill="#b01c12" opacity="0.55"/>
<ellipse cx="508.58" cy="752.35" rx="4.08" ry="2.78" transform="rotate(0.57 508.58 752.35)" fill="#b01c12" opacity="0.85"/>
<ellipse cx="508.58" cy="752.35" rx="2.21" ry="1.84" transform="rotate(0.57 508.58 752.35)" fill="#f02c16" opacity="1"/>
<path d="M505.92,738.36 Q513.23,752.39 522.6,765.14 Q515.29,751.11 505.92,738.36Z" fill="#b01c12" opacity="0.55"/>
<ellipse cx="514.26" cy="751.75" rx="4.27" ry="2.7" transform="rotate(65.72 514.26 751.75)" fill="#b01c12" opacity="0.85"/>
<ellipse cx="514.26" cy="751.75" rx="2.28" ry="1.9" transform="rotate(65.72 514.26 751.75)" fill="#f02c16" opacity="1"/>
<path d="M514.49,757.26 Q502.64,761.36 491.89,767.79 Q503.74,763.69 514.49,757.26Z" fill="#b01c12" opacity="0.55"/>
<ellipse cx="503.19" cy="762.53" rx="3.81" ry="2.87" transform="rotate(154.15 503.19 762.53)" fill="#b01c12" opacity="0.85"/>
<ellipse cx="503.19" cy="762.53" rx="2.37" ry="1.98" transform="rotate(154.15 503.19 762.53)" fill="#f02c16" opacity="1"/>
<path d="M554.37,745.82 Q555.89,759.76 559.75,773.25 Q558.22,759.3 554.37,745.82Z" fill="#b01c12" opacity="0.55"/>
<ellipse cx="557.06" cy="759.53" rx="4.16" ry="2.64" transform="rotate(86.79 557.06 759.53)" fill="#b01c12" opacity="0.85"/>
<ellipse cx="557.06" cy="759.53" rx="2.12" ry="1.77" transform="rotate(86.79 557.06 759.53)" fill="#f02c16" opacity="1"/>
<path d="M551.95,758.19 Q564.74,763.74 578.33,766.86 Q565.54,761.31 551.95,758.19Z" fill="#b01c12" opacity="0.55"/>
<ellipse cx="565.14" cy="762.53" rx="4.1" ry="2.85" transform="rotate(13.76 565.14 762.53)" fill="#b01c12" opacity="0.85"/>
<ellipse cx="565.14" cy="762.53" rx="2.29" ry="1.91" transform="rotate(13.76 565.14 762.53)" fill="#f02c16" opacity="1"/>
<path d="M501.16,756.6 Q490.33,767.77 481.28,780.43 Q492.11,769.25 501.16,756.6Z" fill="#b01c12" opacity="0.55"/>
<ellipse cx="491.22" cy="768.51" rx="3.79" ry="2.57" transform="rotate(126.91 491.22 768.51)" fill="#b01c12" opacity="0.85"/>
<ellipse cx="491.22" cy="768.51" rx="2.22" ry="1.85" transform="rotate(126.91 491.22 768.51)" fill="#f02c16" opacity="1"/>
<path d="M542.04,761.53 Q545.58,769.99 551.13,777.29 Q547.59,768.83 542.04,761.53Z" fill="#b01c12" opacity="0.55"/>
<ellipse cx="546.58" cy="769.41" rx="3.72" ry="2.59" transform="rotate(59.9 546.58 769.41)" fill="#b01c12" opacity="0.85"/>
<ellipse cx="546.58" cy="769.41" rx="2.07" ry="1.73" transform="rotate(59.9 546.58 769.41)" fill="#f02c16" opacity="1"/>
<path d="M541.52,766.97 Q550.46,773.47 560.62,777.83 Q551.68,771.33 541.52,766.97Z" fill="#b01c12" opacity="0.55"/>
<ellipse cx="551.07" cy="772.4" rx="3.76" ry="2.74" transform="rotate(27.67 551.07 772.4)" fill="#b01c12" opacity="0.85"/>
<ellipse cx="551.07" cy="772.4" rx="2.34" ry="1.95" transform="rotate(27.67 551.07 772.4)" fill="#f02c16" opacity="1"/>
<path d="M508.06,771.81 Q522.37,776.49 537.22,778.98 Q522.91,774.3 508.06,771.81Z" fill="#b01c12" opacity="0.55"/>
<ellipse cx="522.64" cy="775.39" rx="3.5" ry="2.51" transform="rotate(18.63 522.64 775.39)" fill="#b01c12" opacity="0.85"/>
<ellipse cx="522.64" cy="775.39" rx="2.49" ry="2.07" transform="rotate(18.63 522.64 775.39)" fill="#f02c16" opacity="1"/>
<path d="M527.63,769.03 Q536.26,778.59 546.38,786.55 Q537.76,776.98 527.63,769.03Z" fill="#b01c12" opacity="0.55"/>
<ellipse cx="537.01" cy="777.79" rx="4.12" ry="2.45" transform="rotate(49.46 537.01 777.79)" fill="#b01c12" opacity="0.85"/>
<ellipse cx="537.01" cy="777.79" rx="2.22" ry="1.85" transform="rotate(49.46 537.01 777.79)" fill="#f02c16" opacity="1"/>
<path d="M514.38,775.2 Q506.84,781.48 500.98,789.36 Q508.52,783.07 514.38,775.2Z" fill="#b01c12" opacity="0.55"/>
<ellipse cx="507.68" cy="782.28" rx="4.33" ry="2.57" transform="rotate(124.93 507.68 782.28)" fill="#b01c12" opacity="0.85"/>
<ellipse cx="507.68" cy="782.28" rx="2.06" ry="1.72" transform="rotate(124.93 507.68 782.28)" fill="#f02c16" opacity="1"/>
<path d="M538.63,771.41 Q546.18,784.46 555.73,796.14 Q548.18,783.08 538.63,771.41Z" fill="#b01c12" opacity="0.55"/>
<ellipse cx="547.18" cy="783.77" rx="4.27" ry="2.7" transform="rotate(48.42 547.18 783.77)" fill="#b01c12" opacity="0.85"/>
<ellipse cx="547.18" cy="783.77" rx="2.22" ry="1.85" transform="rotate(48.42 547.18 783.77)" fill="#f02c16" opacity="1"/>
<path d="M563.43,778.19 Q549.84,781.2 536.92,786.37 Q550.51,783.35 563.43,778.19Z" fill="#b01c12" opacity="0.55"/>
<ellipse cx="550.18" cy="782.28" rx="3.75" ry="2.5" transform="rotate(154.88 550.18 782.28)" fill="#b01c12" opacity="0.85"/>
<ellipse cx="550.18" cy="782.28" rx="2.23" ry="1.85" transform="rotate(154.88 550.18 782.28)" fill="#f02c16" opacity="1"/>
<path d="M536.7,778 Q538.6,789.75 542.7,800.92 Q540.8,789.17 536.7,778Z" fill="#b01c12" opacity="0.55"/>
<ellipse cx="539.7" cy="789.46" rx="3.96" ry="2.52" transform="rotate(69.77 539.7 789.46)" fill="#b01c12" opacity="0.85"/>
<ellipse cx="539.7" cy="789.46" rx="2.18" ry="1.82" transform="rotate(69.77 539.7 789.46)" fill="#f02c16" opacity="1"/>
<path d="M495.24,787.35 Q481.95,789.09 469.24,793.37 Q482.53,791.62 495.24,787.35Z" fill="#b01c12" opacity="0.55"/>
<ellipse cx="482.24" cy="790.36" rx="3.87" ry="2.88" transform="rotate(169 482.24 790.36)" fill="#b01c12" opacity="0.85"/>
<ellipse cx="482.24" cy="790.36" rx="2.14" ry="1.79" transform="rotate(169 482.24 790.36)" fill="#f02c16" opacity="1"/>
<path d="M542.39,794.12 Q553.4,798.97 565.15,801.56 Q554.14,796.71 542.39,794.12Z" fill="#b01c12" opacity="0.55"/>
<ellipse cx="553.77" cy="797.84" rx="3.47" ry="2.64" transform="rotate(18.07 553.77 797.84)" fill="#b01c12" opacity="0.85"/>
<ellipse cx="553.77" cy="797.84" rx="2.25" ry="1.88" transform="rotate(18.07 553.77 797.84)" fill="#f02c16" opacity="1"/>
<path d="M503.33,799.04 Q488.85,801.16 474.92,805.62 Q489.39,803.5 503.33,799.04Z" fill="#b01c12" opacity="0.55"/>
<ellipse cx="489.12" cy="802.33" rx="4.08" ry="2.66" transform="rotate(173.53 489.12 802.33)" fill="#b01c12" opacity="0.85"/>
<ellipse cx="489.12" cy="802.33" rx="2.5" ry="2.08" transform="rotate(173.53 489.12 802.33)" fill="#f02c16" opacity="1"/>
<path d="M487.5,730.79 Q479.8,743.48 473.99,757.15 Q481.69,744.46 487.5,730.79Z" fill="#b01c12" opacity="0.22"/>
<ellipse cx="480.74" cy="743.97" rx="3.87" ry="2.37" transform="rotate(110.57 480.74 743.97)" fill="#b01c12" opacity="0.34"/>
<ellipse cx="480.74" cy="743.97" rx="2.08" ry="1.73" transform="rotate(110.57 480.74 743.97)" fill="#f02c16" opacity="0.4"/>
</g></g>
<clipPath id="c20"><rect x="582.3" y="732.7" width="101.6" height="71.4"/></clipPath>
<g clip-path="url(#c20)">
<rect x="582.3" y="732.7" width="101.6" height="71.4" fill="#160404"/>
<g filter="url(#hb)">
<path d="M575.04,731.64 Q583.06,735.29 591.71,736.96 Q583.69,733.31 575.04,731.64Z" fill="#b01c12" opacity="0.55"/>
<ellipse cx="583.37" cy="734.3" rx="3.81" ry="2.3" transform="rotate(15.74 583.37 734.3)" fill="#b01c12" opacity="0.85"/>
<ellipse cx="583.37" cy="734.3" rx="2.2" ry="1.83" transform="rotate(15.74 583.37 734.3)" fill="#f02c16" opacity="1"/>
<path d="M599.39,726.75 Q602.56,739.77 608.13,751.96 Q604.96,738.94 599.39,726.75Z" fill="#b01c12" opacity="0.55"/>
<ellipse cx="603.76" cy="739.36" rx="3.5" ry="2.83" transform="rotate(71.28 603.76 739.36)" fill="#b01c12" opacity="0.85"/>
<ellipse cx="603.76" cy="739.36" rx="2.3" ry="1.91" transform="rotate(71.28 603.76 739.36)" fill="#f02c16" opacity="1"/>
<path d="M612.5,739.03 Q620.56,744.16 629.66,747.05 Q621.6,741.92 612.5,739.03Z" fill="#b01c12" opacity="0.55"/>
<ellipse cx="621.08" cy="743.04" rx="3.99" ry="2.75" transform="rotate(32.24 621.08 743.04)" fill="#b01c12" opacity="0.85"/>
<ellipse cx="621.08" cy="743.04" rx="2.28" ry="1.9" transform="rotate(32.24 621.08 743.04)" fill="#f02c16" opacity="1"/>
<path d="M607.12,744.38 Q614.56,748.36 622.78,750.28 Q615.34,746.29 607.12,744.38Z" fill="#b01c12" opacity="0.55"/>
<ellipse cx="614.95" cy="747.33" rx="3.81" ry="2.46" transform="rotate(23.84 614.95 747.33)" fill="#b01c12" opacity="0.85"/>
<ellipse cx="614.95" cy="747.33" rx="2.43" ry="2.03" transform="rotate(23.84 614.95 747.33)" fill="#f02c16" opacity="1"/>
<path d="M595.29,745.45 Q591.57,753.44 589.85,762.09 Q593.57,754.09 595.29,745.45Z" fill="#b01c12" opacity="0.33"/>
<ellipse cx="592.57" cy="753.77" rx="3.61" ry="2.33" transform="rotate(98.28 592.57 753.77)" fill="#b01c12" opacity="0.51"/>
<ellipse cx="592.57" cy="753.77" rx="2.41" ry="2" transform="rotate(98.28 592.57 753.77)" fill="#f02c16" opacity="0.6"/>
<path d="M602.31,746.57 Q597.55,754.17 595.09,762.8 Q599.86,755.2 602.31,746.57Z" fill="#b01c12" opacity="0.55"/>
<ellipse cx="598.7" cy="754.69" rx="3.95" ry="2.81" transform="rotate(108.4 598.7 754.69)" fill="#b01c12" opacity="0.85"/>
<ellipse cx="598.7" cy="754.69" rx="2.44" ry="2.03" transform="rotate(108.4 598.7 754.69)" fill="#f02c16" opacity="1"/>
<path d="M651.63,728.2 Q659.64,738.88 669.32,748.07 Q661.31,737.39 651.63,728.2Z" fill="#b01c12" opacity="0.33"/>
<ellipse cx="660.47" cy="738.13" rx="4.13" ry="2.49" transform="rotate(53.27 660.47 738.13)" fill="#b01c12" opacity="0.51"/>
<ellipse cx="660.47" cy="738.13" rx="2.13" ry="1.78" transform="rotate(53.27 660.47 738.13)" fill="#f02c16" opacity="0.6"/>
<path d="M655.2,750.24 Q645.1,749.6 635.09,751.16 Q645.2,751.8 655.2,750.24Z" fill="#b01c12" opacity="0.55"/>
<ellipse cx="645.15" cy="750.7" rx="3.61" ry="2.44" transform="rotate(177.25 645.15 750.7)" fill="#b01c12" opacity="0.85"/>
<ellipse cx="645.15" cy="750.7" rx="2.13" ry="1.78" transform="rotate(177.25 645.15 750.7)" fill="#f02c16" opacity="1"/>
<path d="M650.76,749.2 Q658.13,752.73 666.2,754.04 Q658.83,750.52 650.76,749.2Z" fill="#b01c12" opacity="0.55"/>
<ellipse cx="658.48" cy="751.62" rx="3.75" ry="2.57" transform="rotate(7.71 658.48 751.62)" fill="#b01c12" opacity="0.85"/>
<ellipse cx="658.48" cy="751.62" rx="2.09" ry="1.75" transform="rotate(7.71 658.48 751.62)" fill="#f02c16" opacity="1"/>
<path d="M672.67,737.12 Q668.45,751.68 666.68,766.74 Q670.9,752.17 672.67,737.12Z" fill="#b01c12" opacity="0.55"/>
<ellipse cx="669.67" cy="751.93" rx="4.37" ry="2.78" transform="rotate(92.5 669.67 751.93)" fill="#b01c12" opacity="0.85"/>
<ellipse cx="669.67" cy="751.93" rx="2.36" ry="1.97" transform="rotate(92.5 669.67 751.93)" fill="#f02c16" opacity="1"/>
<path d="M655.14,740.73 Q651.71,755.9 650.48,771.4 Q653.91,756.23 655.14,740.73Z" fill="#b01c12" opacity="0.55"/>
<ellipse cx="652.81" cy="756.07" rx="3.97" ry="2.47" transform="rotate(99.26 652.81 756.07)" fill="#b01c12" opacity="0.85"/>
<ellipse cx="652.81" cy="756.07" rx="2.38" ry="1.98" transform="rotate(99.26 652.81 756.07)" fill="#f02c16" opacity="1"/>
<path d="M635.1,752.38 Q647.89,761.82 661.93,769.25 Q649.15,759.82 635.1,752.38Z" fill="#b01c12" opacity="0.55"/>
<ellipse cx="648.52" cy="760.82" rx="3.49" ry="2.63" transform="rotate(33.58 648.52 760.82)" fill="#b01c12" opacity="0.85"/>
<ellipse cx="648.52" cy="760.82" rx="2.16" ry="1.8" transform="rotate(33.58 648.52 760.82)" fill="#f02c16" opacity="1"/>
<path d="M675.64,749.81 Q677.03,761.06 680.57,771.83 Q679.17,760.58 675.64,749.81Z" fill="#b01c12" opacity="0.55"/>
<ellipse cx="678.1" cy="760.82" rx="4.38" ry="2.44" transform="rotate(73.51 678.1 760.82)" fill="#b01c12" opacity="0.85"/>
<ellipse cx="678.1" cy="760.82" rx="2.16" ry="1.8" transform="rotate(73.51 678.1 760.82)" fill="#f02c16" opacity="1"/>
<path d="M674.98,757.47 Q675.65,766.3 678.77,774.59 Q678.1,765.76 674.98,757.47Z" fill="#b01c12" opacity="0.55"/>
<ellipse cx="676.88" cy="766.03" rx="3.61" ry="2.79" transform="rotate(84.81 676.88 766.03)" fill="#b01c12" opacity="0.85"/>
<ellipse cx="676.88" cy="766.03" rx="2.24" ry="1.86" transform="rotate(84.81 676.88 766.03)" fill="#f02c16" opacity="1"/>
<path d="M673.04,759.89 Q664.84,767.98 658.63,777.68 Q666.84,769.6 673.04,759.89Z" fill="#b01c12" opacity="0.55"/>
<ellipse cx="665.84" cy="768.79" rx="4.19" ry="2.86" transform="rotate(136.82 665.84 768.79)" fill="#b01c12" opacity="0.85"/>
<ellipse cx="665.84" cy="768.79" rx="2.29" ry="1.91" transform="rotate(136.82 665.84 768.79)" fill="#f02c16" opacity="1"/>
<path d="M594.47,759.73 Q585.27,767.16 577.79,776.31 Q586.99,768.89 594.47,759.73Z" fill="#b01c12" opacity="0.55"/>
<ellipse cx="586.13" cy="768.02" rx="3.87" ry="2.71" transform="rotate(134.69 586.13 768.02)" fill="#b01c12" opacity="0.85"/>
<ellipse cx="586.13" cy="768.02" rx="2.48" ry="2.07" transform="rotate(134.69 586.13 768.02)" fill="#f02c16" opacity="1"/>
<path d="M582.63,762.2 Q584.68,777.91 589.02,793.15 Q586.97,777.44 582.63,762.2Z" fill="#b01c12" opacity="0.55"/>
<ellipse cx="585.82" cy="777.68" rx="3.93" ry="2.59" transform="rotate(70.03 585.82 777.68)" fill="#b01c12" opacity="0.85"/>
<ellipse cx="585.82" cy="777.68" rx="2.21" ry="1.85" transform="rotate(70.03 585.82 777.68)" fill="#f02c16" opacity="1"/>
<path d="M642.07,769.01 Q642.56,780.43 645.15,791.56 Q644.67,780.14 642.07,769.01Z" fill="#b01c12" opacity="0.33"/>
<ellipse cx="643.61" cy="780.28" rx="3.77" ry="2.37" transform="rotate(80.37 643.61 780.28)" fill="#b01c12" opacity="0.51"/>
<ellipse cx="643.61" cy="780.28" rx="2.21" ry="1.85" transform="rotate(80.37 643.61 780.28)" fill="#f02c16" opacity="0.6"/>
<path d="M659.17,764.81 Q659.67,778.46 662.7,791.77 Q662.2,778.13 659.17,764.81Z" fill="#b01c12" opacity="0.55"/>
<ellipse cx="660.93" cy="778.29" rx="3.55" ry="2.84" transform="rotate(92.26 660.93 778.29)" fill="#b01c12" opacity="0.85"/>
<ellipse cx="660.93" cy="778.29" rx="2.19" ry="1.82" transform="rotate(92.26 660.93 778.29)" fill="#f02c16" opacity="1"/>
<path d="M669.31,774.57 Q663.06,780.62 658.69,788.15 Q664.94,782.09 669.31,774.57Z" fill="#b01c12" opacity="0.55"/>
<ellipse cx="664" cy="781.36" rx="4.29" ry="2.65" transform="rotate(127.48 664 781.36)" fill="#b01c12" opacity="0.85"/>
<ellipse cx="664" cy="781.36" rx="2.06" ry="1.71" transform="rotate(127.48 664 781.36)" fill="#f02c16" opacity="1"/>
<path d="M655.99,780.05 Q665.77,784.5 676.3,786.65 Q666.52,782.2 655.99,780.05Z" fill="#b01c12" opacity="0.55"/>
<ellipse cx="666.15" cy="783.35" rx="3.65" ry="2.68" transform="rotate(25.53 666.15 783.35)" fill="#b01c12" opacity="0.85"/>
<ellipse cx="666.15" cy="783.35" rx="2.27" ry="1.9" transform="rotate(25.53 666.15 783.35)" fill="#f02c16" opacity="1"/>
<path d="M628.96,780.35 Q622.74,785.6 618.41,792.48 Q624.63,787.24 628.96,780.35Z" fill="#b01c12" opacity="0.55"/>
<ellipse cx="623.69" cy="786.42" rx="3.65" ry="2.77" transform="rotate(131.08 623.69 786.42)" fill="#b01c12" opacity="0.85"/>
<ellipse cx="623.69" cy="786.42" rx="2.05" ry="1.71" transform="rotate(131.08 623.69 786.42)" fill="#f02c16" opacity="1"/>
<path d="M663.6,784.94 Q654.07,795.94 646.62,808.43 Q656.15,797.44 663.6,784.94Z" fill="#b01c12" opacity="0.33"/>
<ellipse cx="655.11" cy="796.69" rx="3.63" ry="2.84" transform="rotate(127.96 655.11 796.69)" fill="#b01c12" opacity="0.51"/>
<ellipse cx="655.11" cy="796.69" rx="2.05" ry="1.71" transform="rotate(127.96 655.11 796.69)" fill="#f02c16" opacity="0.6"/>
</g></g>
<clipPath id="c21"><rect x="171.2" y="805.7" width="101.6" height="71.4"/></clipPath>
<g clip-path="url(#c21)">
<rect x="171.2" y="805.7" width="101.6" height="71.4" fill="#160206"/>
<g filter="url(#cb)">
<path d="M220.56,805.02 Q225.31,816.06 232.17,825.93 Q227.42,814.89 220.56,805.02Z" fill="#4a0a0c" opacity="0.23"/>
<ellipse cx="226.36" cy="815.47" rx="3.45" ry="2.69" transform="rotate(55.38 226.36 815.47)" fill="#4a0a0c" opacity="0.34"/>
<path d="M243.11,807.54 Q241.61,819.34 242.54,831.19 Q244.04,819.39 243.11,807.54Z" fill="#4a0a0c" opacity="0.23"/>
<ellipse cx="242.82" cy="819.36" rx="4.14" ry="2.71" transform="rotate(82.51 242.82 819.36)" fill="#4a0a0c" opacity="0.34"/>
<path d="M242.34,802.27 Q249.27,815.25 258.27,826.88 Q251.34,813.91 242.34,802.27Z" fill="#4a0a0c" opacity="0.23"/>
<ellipse cx="250.31" cy="814.58" rx="3.41" ry="2.74" transform="rotate(51.27 250.31 814.58)" fill="#4a0a0c" opacity="0.34"/>
<path d="M257.15,812.02 Q249.4,823.01 243.46,835.09 Q251.22,824.09 257.15,812.02Z" fill="#4a0a0c" opacity="0.23"/>
<ellipse cx="250.31" cy="823.55" rx="3.24" ry="2.35" transform="rotate(130.58 250.31 823.55)" fill="#4a0a0c" opacity="0.34"/>
<path d="M226.48,819.55 Q232.04,827.39 239.42,833.55 Q233.86,825.7 226.48,819.55Z" fill="#4a0a0c" opacity="0.23"/>
<ellipse cx="232.95" cy="826.55" rx="3.43" ry="2.76" transform="rotate(55.3 232.95 826.55)" fill="#4a0a0c" opacity="0.34"/>
<path d="M209.15,819.86 Q214.26,833.03 221.43,845.21 Q216.33,832.03 209.15,819.86Z" fill="#4a0a0c" opacity="0.23"/>
<ellipse cx="215.29" cy="832.53" rx="4.12" ry="2.56" transform="rotate(58.67 215.29 832.53)" fill="#4a0a0c" opacity="0.34"/>
<path d="M220.03,838.52 Q212.28,842.02 205.77,847.49 Q213.52,843.99 220.03,838.52Z" fill="#4a0a0c" opacity="0.23"/>
<ellipse cx="212.9" cy="843.01" rx="4.2" ry="2.58" transform="rotate(155.95 212.9 843.01)" fill="#4a0a0c" opacity="0.34"/>
<path d="M260.12,839.14 Q247.73,839.67 235.7,842.68 Q248.09,842.16 260.12,839.14Z" fill="#4a0a0c" opacity="0.23"/>
<ellipse cx="247.91" cy="840.91" rx="3.75" ry="2.8" transform="rotate(161.84 247.91 840.91)" fill="#4a0a0c" opacity="0.34"/>
<path d="M221.72,827.99 Q225.21,841.91 231.01,855.04 Q227.52,841.11 221.72,827.99Z" fill="#4a0a0c" opacity="0.09"/>
<ellipse cx="226.36" cy="841.51" rx="4.09" ry="2.72" transform="rotate(72.62 226.36 841.51)" fill="#4a0a0c" opacity="0.14"/>
<path d="M175.87,837.19 Q180.51,846.06 187.08,853.61 Q182.44,844.74 175.87,837.19Z" fill="#4a0a0c" opacity="0.23"/>
<ellipse cx="181.47" cy="845.4" rx="3.89" ry="2.6" transform="rotate(51.03 181.47 845.4)" fill="#4a0a0c" opacity="0.34"/>
<path d="M207.59,849.79 Q196.11,852.5 185.29,857.17 Q196.76,854.46 207.59,849.79Z" fill="#4a0a0c" opacity="0.23"/>
<ellipse cx="196.44" cy="853.48" rx="4.04" ry="2.3" transform="rotate(157.66 196.44 853.48)" fill="#4a0a0c" opacity="0.34"/>
<path d="M180.48,842.71 Q173.69,852.99 168.7,864.25 Q175.5,853.98 180.48,842.71Z" fill="#4a0a0c" opacity="0.23"/>
<ellipse cx="174.59" cy="853.48" rx="3.44" ry="2.29" transform="rotate(110.28 174.59 853.48)" fill="#4a0a0c" opacity="0.34"/>
<path d="M232.89,849.65 Q242.42,854.76 252.76,857.91 Q243.23,852.8 232.89,849.65Z" fill="#4a0a0c" opacity="0.23"/>
<ellipse cx="242.82" cy="853.78" rx="3.99" ry="2.37" transform="rotate(13.68 242.82 853.78)" fill="#4a0a0c" opacity="0.34"/>
<path d="M259.39,850.8 Q250.47,857.46 243.02,865.74 Q251.94,859.08 259.39,850.8Z" fill="#4a0a0c" opacity="0.23"/>
<ellipse cx="251.2" cy="858.27" rx="3.32" ry="2.44" transform="rotate(134.2 251.2 858.27)" fill="#4a0a0c" opacity="0.34"/>
<path d="M233.34,852.92 Q224.06,861.75 216.39,872 Q225.67,863.17 233.34,852.92Z" fill="#4a0a0c" opacity="0.23"/>
<ellipse cx="224.87" cy="862.46" rx="4" ry="2.39" transform="rotate(130.68 224.87 862.46)" fill="#4a0a0c" opacity="0.34"/>
<path d="M209.59,846.46 Q212.71,860.11 218.01,873.07 Q214.88,859.42 209.59,846.46Z" fill="#4a0a0c" opacity="0.11"/>
<ellipse cx="213.8" cy="859.77" rx="3.66" ry="2.52" transform="rotate(65.09 213.8 859.77)" fill="#4a0a0c" opacity="0.17"/>
<path d="M220.95,864.57 Q227.61,873.16 235.97,880.11 Q229.31,871.51 220.95,864.57Z" fill="#4a0a0c" opacity="0.09"/>
<ellipse cx="228.46" cy="872.34" rx="3.68" ry="2.63" transform="rotate(55.44 228.46 872.34)" fill="#4a0a0c" opacity="0.14"/>
<ellipse cx="226.36" cy="815.47" rx="1.91" ry="1.74" transform="rotate(107.59 226.36 815.47)" fill="#3a1cff" opacity="1"/>
<ellipse cx="242.82" cy="819.36" rx="2.33" ry="1.93" transform="rotate(62.36 242.82 819.36)" fill="#3a1cff" opacity="1"/>
<ellipse cx="250.31" cy="814.58" rx="2.01" ry="1.66" transform="rotate(104.37 250.31 814.58)" fill="#3a1cff" opacity="1"/>
<ellipse cx="250.31" cy="823.55" rx="1.92" ry="1.66" transform="rotate(66.28 250.31 823.55)" fill="#3a1cff" opacity="1"/>
<ellipse cx="232.95" cy="826.55" rx="2.39" ry="1.95" transform="rotate(16.98 232.95 826.55)" fill="#3a1cff" opacity="1"/>
<ellipse cx="215.29" cy="832.53" rx="2.43" ry="1.91" transform="rotate(92.74 215.29 832.53)" fill="#3a1cff" opacity="1"/>
<ellipse cx="212.9" cy="843.01" rx="2.42" ry="1.95" transform="rotate(53.42 212.9 843.01)" fill="#3a1cff" opacity="1"/>
<ellipse cx="247.91" cy="840.91" rx="2.03" ry="1.71" transform="rotate(172.27 247.91 840.91)" fill="#3a1cff" opacity="1"/>
<ellipse cx="226.36" cy="841.51" rx="2.41" ry="1.92" transform="rotate(11.94 226.36 841.51)" fill="#3a1cff" opacity="0.4"/>
<ellipse cx="181.47" cy="845.4" rx="2.33" ry="1.75" transform="rotate(145.63 181.47 845.4)" fill="#3a1cff" opacity="1"/>
<ellipse cx="196.44" cy="853.48" rx="2.13" ry="1.93" transform="rotate(135.26 196.44 853.48)" fill="#3a1cff" opacity="1"/>
<ellipse cx="174.59" cy="853.48" rx="2.54" ry="1.98" transform="rotate(148.15 174.59 853.48)" fill="#3a1cff" opacity="1"/>
<ellipse cx="242.82" cy="853.78" rx="2.16" ry="1.85" transform="rotate(79.97 242.82 853.78)" fill="#3a1cff" opacity="1"/>
<ellipse cx="251.2" cy="858.27" rx="2.47" ry="1.96" transform="rotate(35.36 251.2 858.27)" fill="#3a1cff" opacity="1"/>
<ellipse cx="224.87" cy="862.46" rx="2.04" ry="1.7" transform="rotate(157.68 224.87 862.46)" fill="#3a1cff" opacity="1"/>
<ellipse cx="213.8" cy="859.77" rx="2.04" ry="1.66" transform="rotate(147.76 213.8 859.77)" fill="#3a1cff" opacity="0.5"/>
<ellipse cx="228.46" cy="872.34" rx="2.18" ry="1.7" transform="rotate(81.78 228.46 872.34)" fill="#3a1cff" opacity="0.4"/>
</g></g>
<clipPath id="c22"><rect x="274.4" y="805.7" width="101.6" height="71.4"/></clipPath>
<g clip-path="url(#c22)">
<rect x="274.4" y="805.7" width="101.6" height="71.4" fill="#140206"/>
<g filter="url(#cb)">
<path d="M276.44,798.98 Q273.94,812.37 273.86,825.98 Q276.35,812.6 276.44,798.98Z" fill="#6a1010" opacity="0.3"/>
<ellipse cx="275.15" cy="812.48" rx="3.63" ry="2.69" transform="rotate(89.58 275.15 812.48)" fill="#6a1010" opacity="0.45"/>
<path d="M291.47,799.47 Q294.2,812.77 298.93,825.5 Q296.2,812.2 291.47,799.47Z" fill="#6a1010" opacity="0.3"/>
<ellipse cx="295.2" cy="812.48" rx="4.15" ry="2.31" transform="rotate(70.63 295.2 812.48)" fill="#6a1010" opacity="0.45"/>
<path d="M323.58,808.64 Q329.48,814.89 336.85,819.32 Q330.95,813.06 323.58,808.64Z" fill="#6a1010" opacity="0.3"/>
<ellipse cx="330.21" cy="813.98" rx="4.14" ry="2.61" transform="rotate(33.74 330.21 813.98)" fill="#6a1010" opacity="0.45"/>
<path d="M356.79,804.5 Q347.72,813.32 340.15,823.46 Q349.21,814.63 356.79,804.5Z" fill="#6a1010" opacity="0.3"/>
<ellipse cx="348.47" cy="813.98" rx="3.73" ry="2.21" transform="rotate(121.87 348.47 813.98)" fill="#6a1010" opacity="0.45"/>
<path d="M313.88,826.03 Q304.78,827.21 296.27,830.66 Q305.37,829.47 313.88,826.03Z" fill="#6a1010" opacity="0.3"/>
<ellipse cx="305.07" cy="828.34" rx="3.5" ry="2.6" transform="rotate(164.79 305.07 828.34)" fill="#6a1010" opacity="0.45"/>
<path d="M323.29,821.2 Q331.35,829.14 340.73,835.48 Q332.66,827.54 323.29,821.2Z" fill="#6a1010" opacity="0.3"/>
<ellipse cx="332.01" cy="828.34" rx="3.72" ry="2.3" transform="rotate(41.54 332.01 828.34)" fill="#6a1010" opacity="0.45"/>
<path d="M314.06,824.2 Q320.23,834.76 328.41,843.85 Q322.24,833.3 314.06,824.2Z" fill="#6a1010" opacity="0.3"/>
<ellipse cx="321.23" cy="834.03" rx="4.08" ry="2.76" transform="rotate(48.07 321.23 834.03)" fill="#6a1010" opacity="0.45"/>
<path d="M331.09,823.98 Q327.11,833.11 325.14,842.88 Q329.12,833.75 331.09,823.98Z" fill="#6a1010" opacity="0.3"/>
<ellipse cx="328.12" cy="833.43" rx="3.96" ry="2.35" transform="rotate(111.32 328.12 833.43)" fill="#6a1010" opacity="0.45"/>
<path d="M349.19,817.69 Q348.43,831.38 350.13,844.98 Q350.9,831.29 349.19,817.69Z" fill="#6a1010" opacity="0.18"/>
<ellipse cx="349.66" cy="831.34" rx="3.72" ry="2.75" transform="rotate(91.31 349.66 831.34)" fill="#6a1010" opacity="0.27"/>
<path d="M293.87,829.39 Q296.21,837.51 300.71,844.65 Q298.38,836.54 293.87,829.39Z" fill="#6a1010" opacity="0.3"/>
<ellipse cx="297.29" cy="837.02" rx="3.9" ry="2.64" transform="rotate(67.37 297.29 837.02)" fill="#6a1010" opacity="0.45"/>
<path d="M309,838.36 Q318.18,840.07 327.48,839.28 Q318.3,837.56 309,838.36Z" fill="#6a1010" opacity="0.3"/>
<ellipse cx="318.24" cy="838.82" rx="3.89" ry="2.79" transform="rotate(1.38 318.24 838.82)" fill="#6a1010" opacity="0.45"/>
<path d="M299.65,843.55 Q287.56,844.41 275.78,847.26 Q287.87,846.39 299.65,843.55Z" fill="#6a1010" opacity="0.3"/>
<ellipse cx="287.72" cy="845.4" rx="3.51" ry="2.23" transform="rotate(169.24 287.72 845.4)" fill="#6a1010" opacity="0.45"/>
<path d="M289.75,840.08 Q281.46,849.23 274.9,859.71 Q283.2,850.55 289.75,840.08Z" fill="#6a1010" opacity="0.3"/>
<ellipse cx="282.33" cy="849.89" rx="4.07" ry="2.43" transform="rotate(118.5 282.33 849.89)" fill="#6a1010" opacity="0.45"/>
<path d="M283,848.04 Q289.39,854.67 297.22,859.53 Q290.83,852.89 283,848.04Z" fill="#6a1010" opacity="0.3"/>
<ellipse cx="290.11" cy="853.78" rx="3.26" ry="2.55" transform="rotate(32.57 290.11 853.78)" fill="#6a1010" opacity="0.45"/>
<path d="M341.23,847.07 Q329.62,852.47 319.19,859.89 Q330.8,854.49 341.23,847.07Z" fill="#6a1010" opacity="0.3"/>
<ellipse cx="330.21" cy="853.48" rx="3.85" ry="2.6" transform="rotate(159.68 330.21 853.48)" fill="#6a1010" opacity="0.45"/>
<path d="M329.29,855.83 Q343.38,857.06 357.47,855.92 Q343.38,854.69 329.29,855.83Z" fill="#6a1010" opacity="0.3"/>
<ellipse cx="343.38" cy="855.88" rx="3.27" ry="2.63" transform="rotate(4.45 343.38 855.88)" fill="#6a1010" opacity="0.45"/>
<path d="M330.22,856.11 Q341.04,862.93 352.95,867.62 Q342.13,860.79 330.22,856.11Z" fill="#6a1010" opacity="0.3"/>
<ellipse cx="341.58" cy="861.86" rx="3.69" ry="2.67" transform="rotate(36.44 341.58 861.86)" fill="#6a1010" opacity="0.45"/>
<path d="M331.03,863.11 Q345.15,868.16 359.92,870.78 Q345.8,865.74 331.03,863.11Z" fill="#6a1010" opacity="0.3"/>
<ellipse cx="345.47" cy="866.95" rx="3.31" ry="2.78" transform="rotate(23.84 345.47 866.95)" fill="#6a1010" opacity="0.45"/>
<path d="M359.97,865.18 Q350.63,868.21 342.36,873.5 Q351.69,870.47 359.97,865.18Z" fill="#6a1010" opacity="0.3"/>
<ellipse cx="351.16" cy="869.34" rx="4.19" ry="2.78" transform="rotate(146.4 351.16 869.34)" fill="#6a1010" opacity="0.45"/>
<path d="M350.38,861.68 Q355.87,868 362.72,872.81 Q357.22,866.5 350.38,861.68Z" fill="#6a1010" opacity="0.3"/>
<ellipse cx="356.55" cy="867.25" rx="3.2" ry="2.24" transform="rotate(32.88 356.55 867.25)" fill="#6a1010" opacity="0.45"/>
<path d="M315.97,855.01 Q314.47,866.91 315.13,878.89 Q316.63,866.99 315.97,855.01Z" fill="#6a1010" opacity="0.3"/>
<ellipse cx="315.55" cy="866.95" rx="3.95" ry="2.4" transform="rotate(85.72 315.55 866.95)" fill="#6a1010" opacity="0.45"/>
<path d="M347.51,867.56 Q357.41,876.99 368.58,884.9 Q358.67,875.46 347.51,867.56Z" fill="#6a1010" opacity="0.3"/>
<ellipse cx="358.04" cy="876.23" rx="4.17" ry="2.2" transform="rotate(47.02 358.04 876.23)" fill="#6a1010" opacity="0.45"/>
<path d="M367.48,807.91 Q364.34,816.72 363.57,826.03 Q366.71,817.23 367.48,807.91Z" fill="#6a1010" opacity="0.12"/>
<ellipse cx="365.53" cy="816.97" rx="3.48" ry="2.69" transform="rotate(104.54 365.53 816.97)" fill="#6a1010" opacity="0.18"/>
<ellipse cx="275.15" cy="812.48" rx="2.35" ry="1.92" transform="rotate(71.77 275.15 812.48)" fill="#4a22f0" opacity="1"/>
<ellipse cx="295.2" cy="812.48" rx="2.15" ry="1.69" transform="rotate(82.63 295.2 812.48)" fill="#4a22f0" opacity="1"/>
<ellipse cx="330.21" cy="813.98" rx="2.31" ry="1.99" transform="rotate(45.88 330.21 813.98)" fill="#4a22f0" opacity="1"/>
<ellipse cx="348.47" cy="813.98" rx="1.98" ry="1.64" transform="rotate(173.12 348.47 813.98)" fill="#4a22f0" opacity="1"/>
<ellipse cx="305.07" cy="828.34" rx="2.6" ry="1.98" transform="rotate(99.51 305.07 828.34)" fill="#4a22f0" opacity="1"/>
<ellipse cx="332.01" cy="828.34" rx="2.44" ry="1.85" transform="rotate(55.8 332.01 828.34)" fill="#4a22f0" opacity="1"/>
<ellipse cx="321.23" cy="834.03" rx="2.51" ry="1.93" transform="rotate(31.49 321.23 834.03)" fill="#4a22f0" opacity="1"/>
<ellipse cx="328.12" cy="833.43" rx="2.17" ry="1.69" transform="rotate(173.57 328.12 833.43)" fill="#4a22f0" opacity="1"/>
<ellipse cx="349.66" cy="831.34" rx="2.56" ry="1.98" transform="rotate(82.36 349.66 831.34)" fill="#4a22f0" opacity="0.6"/>
<ellipse cx="297.29" cy="837.02" rx="2.58" ry="1.98" transform="rotate(3.15 297.29 837.02)" fill="#4a22f0" opacity="1"/>
<ellipse cx="318.24" cy="838.82" rx="2.27" ry="1.99" transform="rotate(51.09 318.24 838.82)" fill="#4a22f0" opacity="1"/>
<ellipse cx="287.72" cy="845.4" rx="2.03" ry="1.84" transform="rotate(169.28 287.72 845.4)" fill="#4a22f0" opacity="1"/>
<ellipse cx="282.33" cy="849.89" rx="1.93" ry="1.73" transform="rotate(145.97 282.33 849.89)" fill="#4a22f0" opacity="1"/>
<ellipse cx="290.11" cy="853.78" rx="1.98" ry="1.63" transform="rotate(29.69 290.11 853.78)" fill="#4a22f0" opacity="1"/>
<ellipse cx="330.21" cy="853.48" rx="2.35" ry="1.97" transform="rotate(51.66 330.21 853.48)" fill="#4a22f0" opacity="1"/>
<ellipse cx="343.38" cy="855.88" rx="2.04" ry="1.6" transform="rotate(19.2 343.38 855.88)" fill="#4a22f0" opacity="1"/>
<ellipse cx="341.58" cy="861.86" rx="2.55" ry="1.98" transform="rotate(19.43 341.58 861.86)" fill="#4a22f0" opacity="1"/>
<ellipse cx="345.47" cy="866.95" rx="2.14" ry="1.83" transform="rotate(102.32 345.47 866.95)" fill="#4a22f0" opacity="1"/>
<ellipse cx="351.16" cy="869.34" rx="1.96" ry="1.72" transform="rotate(162.62 351.16 869.34)" fill="#4a22f0" opacity="1"/>
<ellipse cx="356.55" cy="867.25" rx="2.61" ry="1.95" transform="rotate(104.09 356.55 867.25)" fill="#4a22f0" opacity="1"/>
<ellipse cx="315.55" cy="866.95" rx="2.06" ry="1.7" transform="rotate(68.29 315.55 866.95)" fill="#4a22f0" opacity="1"/>
<ellipse cx="358.04" cy="876.23" rx="2.12" ry="1.84" transform="rotate(19.34 358.04 876.23)" fill="#4a22f0" opacity="1"/>
<ellipse cx="365.53" cy="816.97" rx="2.56" ry="1.92" transform="rotate(53.45 365.53 816.97)" fill="#4a22f0" opacity="0.4"/>
</g></g>
<clipPath id="c23"><rect x="377" y="805.7" width="101.6" height="71.4"/></clipPath>
<g clip-path="url(#c23)">
<rect x="377" y="805.7" width="101.6" height="71.4" fill="#16030a"/>
<g filter="url(#cb)">
<path d="M395.76,807.49 Q385.87,812.08 377.19,818.67 Q387.07,814.08 395.76,807.49Z" fill="#b02018" opacity="0.45"/>
<ellipse cx="386.47" cy="813.08" rx="3.3" ry="2.59" transform="rotate(147.94 386.47 813.08)" fill="#b02018" opacity="0.68"/>
<path d="M392.14,799.7 Q396.47,812.94 402.96,825.26 Q398.63,812.02 392.14,799.7Z" fill="#b02018" opacity="0.45"/>
<ellipse cx="397.55" cy="812.48" rx="3.61" ry="2.61" transform="rotate(73.63 397.55 812.48)" fill="#b02018" opacity="0.68"/>
<path d="M416.25,803.33 Q405.26,810.09 395.61,818.64 Q406.59,811.88 416.25,803.33Z" fill="#b02018" opacity="0.45"/>
<ellipse cx="405.93" cy="810.99" rx="3.82" ry="2.49" transform="rotate(138.25 405.93 810.99)" fill="#b02018" opacity="0.68"/>
<path d="M421.19,799.86 Q412.7,810.31 406.23,822.12 Q414.71,811.66 421.19,799.86Z" fill="#b02018" opacity="0.45"/>
<ellipse cx="413.71" cy="810.99" rx="3.69" ry="2.69" transform="rotate(124.36 413.71 810.99)" fill="#b02018" opacity="0.68"/>
<path d="M429.61,802.41 Q437.63,809.45 446.89,814.77 Q438.87,807.73 429.61,802.41Z" fill="#b02018" opacity="0.45"/>
<ellipse cx="438.25" cy="808.59" rx="3.49" ry="2.36" transform="rotate(27.23 438.25 808.59)" fill="#b02018" opacity="0.68"/>
<path d="M447.75,803.8 Q456.32,809.03 465.85,812.19 Q457.28,806.96 447.75,803.8Z" fill="#b02018" opacity="0.45"/>
<ellipse cx="456.8" cy="807.99" rx="3.95" ry="2.54" transform="rotate(21.15 456.8 807.99)" fill="#b02018" opacity="0.68"/>
<path d="M395.94,810.35 Q398.84,822.73 403.95,834.36 Q401.05,821.99 395.94,810.35Z" fill="#b02018" opacity="0.45"/>
<ellipse cx="399.94" cy="822.36" rx="3.43" ry="2.59" transform="rotate(65.98 399.94 822.36)" fill="#b02018" opacity="0.68"/>
<path d="M409.49,806.39 Q412.86,819.76 418.52,832.34 Q415.15,818.97 409.49,806.39Z" fill="#b02018" opacity="0.45"/>
<ellipse cx="414.01" cy="819.36" rx="3.77" ry="2.69" transform="rotate(76.18 414.01 819.36)" fill="#b02018" opacity="0.68"/>
<path d="M419.79,811.64 Q419.29,820.62 420.8,829.48 Q421.29,820.51 419.79,811.64Z" fill="#b02018" opacity="0.27"/>
<ellipse cx="420.29" cy="820.56" rx="3.4" ry="2.23" transform="rotate(82.05 420.29 820.56)" fill="#b02018" opacity="0.41"/>
<path d="M423.43,803.95 Q425.09,817.82 429.12,831.19 Q427.47,817.32 423.43,803.95Z" fill="#b02018" opacity="0.45"/>
<ellipse cx="426.28" cy="817.57" rx="3.53" ry="2.7" transform="rotate(69.36 426.28 817.57)" fill="#b02018" opacity="0.68"/>
<path d="M406.54,821.46 Q414.26,829.12 423.27,835.22 Q415.55,827.56 406.54,821.46Z" fill="#b02018" opacity="0.45"/>
<ellipse cx="414.91" cy="828.34" rx="3.3" ry="2.25" transform="rotate(33.58 414.91 828.34)" fill="#b02018" opacity="0.68"/>
<path d="M425.94,828.11 Q415.13,833.92 405.66,841.74 Q416.48,835.94 425.94,828.11Z" fill="#b02018" opacity="0.45"/>
<ellipse cx="415.8" cy="834.93" rx="3.84" ry="2.7" transform="rotate(153.3 415.8 834.93)" fill="#b02018" opacity="0.68"/>
<path d="M375.06,830.99 Q387.17,834.44 399.68,835.87 Q387.57,832.42 375.06,830.99Z" fill="#b02018" opacity="0.18"/>
<ellipse cx="387.37" cy="833.43" rx="3.33" ry="2.29" transform="rotate(10.21 387.37 833.43)" fill="#b02018" opacity="0.27"/>
<path d="M389.1,830.07 Q383.87,841.11 380.86,852.95 Q386.09,841.91 389.1,830.07Z" fill="#b02018" opacity="0.45"/>
<ellipse cx="384.98" cy="841.51" rx="3.65" ry="2.63" transform="rotate(105.73 384.98 841.51)" fill="#b02018" opacity="0.68"/>
<path d="M448.13,809.57 Q452.9,823.34 459.49,836.34 Q454.72,822.57 448.13,809.57Z" fill="#b02018" opacity="0.45"/>
<ellipse cx="453.81" cy="822.96" rx="3.74" ry="2.2" transform="rotate(68.73 453.81 822.96)" fill="#b02018" opacity="0.68"/>
<path d="M454.07,816.28 Q462.33,821.49 471.51,824.85 Q463.24,819.64 454.07,816.28Z" fill="#b02018" opacity="0.45"/>
<ellipse cx="462.79" cy="820.56" rx="3.94" ry="2.29" transform="rotate(32.3 462.79 820.56)" fill="#b02018" opacity="0.68"/>
<path d="M449.58,833.24 Q460.53,836.01 471.81,836.62 Q460.86,833.84 449.58,833.24Z" fill="#b02018" opacity="0.45"/>
<ellipse cx="460.69" cy="834.93" rx="3.6" ry="2.43" transform="rotate(5.44 460.69 834.93)" fill="#b02018" opacity="0.68"/>
<path d="M477.54,829.15 Q464.4,834.91 452.22,842.5 Q465.36,836.74 477.54,829.15Z" fill="#b02018" opacity="0.45"/>
<ellipse cx="464.88" cy="835.82" rx="3.51" ry="2.29" transform="rotate(151.84 464.88 835.82)" fill="#b02018" opacity="0.68"/>
<path d="M468.77,842.09 Q461.19,845.89 455.01,851.7 Q462.59,847.9 468.77,842.09Z" fill="#b02018" opacity="0.45"/>
<ellipse cx="461.89" cy="846.9" rx="3.74" ry="2.72" transform="rotate(151.62 461.89 846.9)" fill="#b02018" opacity="0.68"/>
<path d="M483.98,845.83 Q473.15,848.83 463.15,853.96 Q473.98,850.95 483.98,845.83Z" fill="#b02018" opacity="0.45"/>
<ellipse cx="473.56" cy="849.89" rx="3.23" ry="2.53" transform="rotate(153.13 473.56 849.89)" fill="#b02018" opacity="0.68"/>
<path d="M389.07,850.02 Q384.81,856.91 382.68,864.73 Q386.94,857.84 389.07,850.02Z" fill="#b02018" opacity="0.45"/>
<ellipse cx="385.88" cy="857.37" rx="3.79" ry="2.59" transform="rotate(113.33 385.88 857.37)" fill="#b02018" opacity="0.68"/>
<path d="M413.88,850.64 Q417.9,859.4 423.71,867.1 Q419.69,858.34 413.88,850.64Z" fill="#b02018" opacity="0.45"/>
<ellipse cx="418.8" cy="858.87" rx="3.79" ry="2.31" transform="rotate(63.35 418.8 858.87)" fill="#b02018" opacity="0.68"/>
<path d="M427.73,863.92 Q414.4,861.72 400.88,861.6 Q414.22,863.8 427.73,863.92Z" fill="#b02018" opacity="0.45"/>
<ellipse cx="414.31" cy="862.76" rx="3.74" ry="2.31" transform="rotate(175.86 414.31 862.76)" fill="#b02018" opacity="0.68"/>
<path d="M440.65,847.9 Q441.73,857.59 444.82,866.84 Q443.75,857.15 440.65,847.9Z" fill="#b02018" opacity="0.45"/>
<ellipse cx="442.74" cy="857.37" rx="3.45" ry="2.3" transform="rotate(73.71 442.74 857.37)" fill="#b02018" opacity="0.68"/>
<path d="M442.73,860.14 Q444.31,869.67 448.13,878.55 Q446.55,869.01 442.73,860.14Z" fill="#b02018" opacity="0.45"/>
<ellipse cx="445.43" cy="869.34" rx="4.19" ry="2.6" transform="rotate(71.42 445.43 869.34)" fill="#b02018" opacity="0.68"/>
<path d="M377.28,861.37 Q379.43,873.52 383.69,885.1 Q381.55,872.95 377.28,861.37Z" fill="#b02018" opacity="0.45"/>
<ellipse cx="380.49" cy="873.23" rx="3.35" ry="2.45" transform="rotate(64.89 380.49 873.23)" fill="#b02018" opacity="0.68"/>
<path d="M427.15,865.56 Q426.22,876.86 427.79,888.09 Q428.73,876.79 427.15,865.56Z" fill="#b02018" opacity="0.45"/>
<ellipse cx="427.47" cy="876.82" rx="3.99" ry="2.79" transform="rotate(91.57 427.47 876.82)" fill="#b02018" opacity="0.68"/>
<ellipse cx="386.47" cy="813.08" rx="2.25" ry="1.82" transform="rotate(173.74 386.47 813.08)" fill="#9a44fa" opacity="1"/>
<ellipse cx="397.55" cy="812.48" rx="1.86" ry="1.68" transform="rotate(85.47 397.55 812.48)" fill="#9a44fa" opacity="1"/>
<ellipse cx="405.93" cy="810.99" rx="2.33" ry="1.8" transform="rotate(71.59 405.93 810.99)" fill="#9a44fa" opacity="1"/>
<ellipse cx="413.71" cy="810.99" rx="2.24" ry="1.99" transform="rotate(61.12 413.71 810.99)" fill="#9a44fa" opacity="1"/>
<ellipse cx="438.25" cy="808.59" rx="1.86" ry="1.61" transform="rotate(118.3 438.25 808.59)" fill="#9a44fa" opacity="1"/>
<ellipse cx="456.8" cy="807.99" rx="2.53" ry="1.99" transform="rotate(22.98 456.8 807.99)" fill="#9a44fa" opacity="1"/>
<ellipse cx="399.94" cy="822.36" rx="2.6" ry="1.94" transform="rotate(99.72 399.94 822.36)" fill="#9a44fa" opacity="1"/>
<ellipse cx="414.01" cy="819.36" rx="2.28" ry="1.94" transform="rotate(67.9 414.01 819.36)" fill="#9a44fa" opacity="1"/>
<ellipse cx="420.29" cy="820.56" rx="2.31" ry="1.93" transform="rotate(126.71 420.29 820.56)" fill="#9a44fa" opacity="0.6"/>
<ellipse cx="426.28" cy="817.57" rx="2.12" ry="1.89" transform="rotate(118.09 426.28 817.57)" fill="#9a44fa" opacity="1"/>
<ellipse cx="414.91" cy="828.34" rx="1.97" ry="1.68" transform="rotate(137.12 414.91 828.34)" fill="#9a44fa" opacity="1"/>
<ellipse cx="415.8" cy="834.93" rx="2.29" ry="1.71" transform="rotate(43.42 415.8 834.93)" fill="#9a44fa" opacity="1"/>
<ellipse cx="387.37" cy="833.43" rx="2.2" ry="1.94" transform="rotate(78.01 387.37 833.43)" fill="#9a44fa" opacity="0.4"/>
<ellipse cx="384.98" cy="841.51" rx="1.95" ry="1.6" transform="rotate(44.65 384.98 841.51)" fill="#9a44fa" opacity="1"/>
<ellipse cx="453.81" cy="822.96" rx="2.31" ry="1.81" transform="rotate(171.08 453.81 822.96)" fill="#9a44fa" opacity="1"/>
<ellipse cx="462.79" cy="820.56" rx="1.88" ry="1.62" transform="rotate(29.44 462.79 820.56)" fill="#9a44fa" opacity="1"/>
<ellipse cx="460.69" cy="834.93" rx="2.5" ry="1.88" transform="rotate(171.48 460.69 834.93)" fill="#9a44fa" opacity="1"/>
<ellipse cx="464.88" cy="835.82" rx="1.96" ry="1.7" transform="rotate(139.48 464.88 835.82)" fill="#9a44fa" opacity="1"/>
<ellipse cx="461.89" cy="846.9" rx="2.02" ry="1.66" transform="rotate(110.27 461.89 846.9)" fill="#9a44fa" opacity="1"/>
<ellipse cx="473.56" cy="849.89" rx="2.28" ry="1.7" transform="rotate(96.86 473.56 849.89)" fill="#9a44fa" opacity="1"/>
<ellipse cx="385.88" cy="857.37" rx="2.19" ry="1.97" transform="rotate(10.5 385.88 857.37)" fill="#9a44fa" opacity="1"/>
<ellipse cx="418.8" cy="858.87" rx="2.01" ry="1.76" transform="rotate(174.23 418.8 858.87)" fill="#9a44fa" opacity="1"/>
<ellipse cx="414.31" cy="862.76" rx="2.26" ry="1.88" transform="rotate(112.44 414.31 862.76)" fill="#9a44fa" opacity="1"/>
<ellipse cx="442.74" cy="857.37" rx="2.18" ry="1.87" transform="rotate(85.7 442.74 857.37)" fill="#9a44fa" opacity="1"/>
<ellipse cx="445.43" cy="869.34" rx="2.28" ry="1.88" transform="rotate(56.24 445.43 869.34)" fill="#9a44fa" opacity="1"/>
<ellipse cx="380.49" cy="873.23" rx="2.28" ry="1.78" transform="rotate(150.2 380.49 873.23)" fill="#9a44fa" opacity="1"/>
<ellipse cx="427.47" cy="876.82" rx="2.02" ry="1.7" transform="rotate(98.23 427.47 876.82)" fill="#9a44fa" opacity="1"/>
</g></g>
<clipPath id="c24"><rect x="479.4" y="805.7" width="101.6" height="71.4"/></clipPath>
<g clip-path="url(#c24)">
<rect x="479.4" y="805.7" width="101.6" height="71.4" fill="#0a0004"/>
<g filter="url(#cb)">
<path d="M476.99,796.33 Q484.25,808.69 493.48,819.66 Q486.21,807.3 476.99,796.33Z" fill="#d02418" opacity="0.5"/>
<ellipse cx="485.23" cy="807.99" rx="3.54" ry="2.67" transform="rotate(44.94 485.23 807.99)" fill="#d02418" opacity="0.75"/>
<path d="M548.24,806.14 Q536.78,814.53 526.97,824.81 Q538.43,816.42 548.24,806.14Z" fill="#d02418" opacity="0.5"/>
<ellipse cx="537.61" cy="815.47" rx="3.68" ry="2.79" transform="rotate(131.88 537.61 815.47)" fill="#d02418" opacity="0.75"/>
<path d="M553.9,807.79 Q542.94,814.59 533.28,823.16 Q544.25,816.35 553.9,807.79Z" fill="#d02418" opacity="0.5"/>
<ellipse cx="543.59" cy="815.47" rx="4.09" ry="2.44" transform="rotate(134 543.59 815.47)" fill="#d02418" opacity="0.75"/>
<path d="M555.77,807.02 Q551.41,815.04 549.36,823.93 Q553.73,815.91 555.77,807.02Z" fill="#d02418" opacity="0.5"/>
<ellipse cx="552.57" cy="815.47" rx="4.08" ry="2.75" transform="rotate(117.58 552.57 815.47)" fill="#d02418" opacity="0.75"/>
<path d="M572.66,813.77 Q561.42,821.47 551.63,830.95 Q562.87,823.25 572.66,813.77Z" fill="#d02418" opacity="0.5"/>
<ellipse cx="562.15" cy="822.36" rx="4.17" ry="2.55" transform="rotate(136.05 562.15 822.36)" fill="#d02418" opacity="0.75"/>
<path d="M508.16,810.57 Q507.38,825.38 509,840.13 Q509.77,825.32 508.16,810.57Z" fill="#d02418" opacity="0.5"/>
<ellipse cx="508.58" cy="825.35" rx="4.01" ry="2.66" transform="rotate(83.44 508.58 825.35)" fill="#d02418" opacity="0.75"/>
<path d="M501.19,825.58 Q514.34,825.95 527.33,823.93 Q514.19,823.55 501.19,825.58Z" fill="#d02418" opacity="0.5"/>
<ellipse cx="514.26" cy="824.75" rx="3.88" ry="2.68" transform="rotate(0.57 514.26 824.75)" fill="#d02418" opacity="0.75"/>
<path d="M499.4,823.48 Q502.02,835.89 506.98,847.57 Q504.36,835.16 499.4,823.48Z" fill="#d02418" opacity="0.5"/>
<ellipse cx="503.19" cy="835.53" rx="3.57" ry="2.72" transform="rotate(63.11 503.19 835.53)" fill="#d02418" opacity="0.75"/>
<path d="M547.64,827.04 Q556.44,833.59 566.47,838.02 Q557.67,831.48 547.64,827.04Z" fill="#d02418" opacity="0.5"/>
<ellipse cx="557.06" cy="832.53" rx="3.71" ry="2.71" transform="rotate(21.34 557.06 832.53)" fill="#d02418" opacity="0.75"/>
<path d="M568.22,824.58 Q564.01,835.21 562.06,846.47 Q566.27,835.84 568.22,824.58Z" fill="#d02418" opacity="0.5"/>
<ellipse cx="565.14" cy="835.53" rx="3.74" ry="2.62" transform="rotate(100.47 565.14 835.53)" fill="#d02418" opacity="0.75"/>
<path d="M491.71,832.35 Q490.2,841.46 490.73,850.67 Q492.24,841.57 491.71,832.35Z" fill="#d02418" opacity="0.5"/>
<ellipse cx="491.22" cy="841.51" rx="3.95" ry="2.26" transform="rotate(101.55 491.22 841.51)" fill="#d02418" opacity="0.75"/>
<path d="M554.15,831.78 Q545.62,841.72 539.02,853.04 Q547.55,843.1 554.15,831.78Z" fill="#d02418" opacity="0.5"/>
<ellipse cx="546.58" cy="842.41" rx="4.12" ry="2.64" transform="rotate(125.1 546.58 842.41)" fill="#d02418" opacity="0.75"/>
<path d="M560.41,834.21 Q550.22,844.69 541.74,856.59 Q551.93,846.11 560.41,834.21Z" fill="#d02418" opacity="0.5"/>
<ellipse cx="551.07" cy="845.4" rx="3.59" ry="2.47" transform="rotate(126.91 551.07 845.4)" fill="#d02418" opacity="0.75"/>
<path d="M516.78,838.67 Q521.72,848.95 528.5,858.12 Q523.57,847.84 516.78,838.67Z" fill="#d02418" opacity="0.5"/>
<ellipse cx="522.64" cy="848.39" rx="3.53" ry="2.39" transform="rotate(66.19 522.64 848.39)" fill="#d02418" opacity="0.75"/>
<path d="M538.04,840.34 Q535.98,850.69 535.98,861.23 Q538.03,850.89 538.04,840.34Z" fill="#d02418" opacity="0.5"/>
<ellipse cx="537.01" cy="850.79" rx="3.27" ry="2.29" transform="rotate(90.96 537.01 850.79)" fill="#d02418" opacity="0.75"/>
<path d="M503.21,847.78 Q506.68,855.87 512.15,862.77 Q508.67,854.68 503.21,847.78Z" fill="#d02418" opacity="0.5"/>
<ellipse cx="507.68" cy="855.28" rx="3.8" ry="2.57" transform="rotate(67.19 507.68 855.28)" fill="#d02418" opacity="0.75"/>
<path d="M539.7,844.3 Q546.27,857.32 554.67,869.25 Q548.09,856.23 539.7,844.3Z" fill="#d02418" opacity="0.5"/>
<ellipse cx="547.18" cy="856.77" rx="4.08" ry="2.36" transform="rotate(63.53 547.18 856.77)" fill="#d02418" opacity="0.75"/>
<path d="M555.72,847.87 Q549.25,854.59 544.63,862.69 Q551.1,855.97 555.72,847.87Z" fill="#d02418" opacity="0.5"/>
<ellipse cx="550.18" cy="855.28" rx="3.44" ry="2.56" transform="rotate(129.17 550.18 855.28)" fill="#d02418" opacity="0.75"/>
<path d="M546.25,855.54 Q538.89,861.7 533.15,869.38 Q540.51,863.22 546.25,855.54Z" fill="#d02418" opacity="0.5"/>
<ellipse cx="539.7" cy="862.46" rx="4.13" ry="2.47" transform="rotate(124.93 539.7 862.46)" fill="#d02418" opacity="0.75"/>
<path d="M470.05,860.07 Q481.92,864.54 494.43,866.65 Q482.56,862.18 470.05,860.07Z" fill="#d02418" opacity="0.5"/>
<ellipse cx="482.24" cy="863.36" rx="3.47" ry="2.72" transform="rotate(7.51 482.24 863.36)" fill="#d02418" opacity="0.75"/>
<path d="M562.71,865.41 Q553.13,869.79 544.82,876.27 Q554.4,871.88 562.71,865.41Z" fill="#d02418" opacity="0.5"/>
<ellipse cx="553.77" cy="870.84" rx="3.58" ry="2.72" transform="rotate(152.16 553.77 870.84)" fill="#d02418" opacity="0.75"/>
<path d="M496.45,867.51 Q488.33,874.58 481.8,883.14 Q489.92,876.08 496.45,867.51Z" fill="#d02418" opacity="0.5"/>
<ellipse cx="489.12" cy="875.33" rx="4.1" ry="2.43" transform="rotate(132.02 489.12 875.33)" fill="#d02418" opacity="0.75"/>
<path d="M478.24,807.2 Q479.58,817.27 483.25,826.75 Q481.91,816.67 478.24,807.2Z" fill="#d02418" opacity="0.2"/>
<ellipse cx="480.74" cy="816.97" rx="3.68" ry="2.67" transform="rotate(66.87 480.74 816.97)" fill="#d02418" opacity="0.3"/>
<ellipse cx="485.23" cy="807.99" rx="2.28" ry="1.99" transform="rotate(5.7 485.23 807.99)" fill="#e044d8" opacity="1"/>
<ellipse cx="537.61" cy="815.47" rx="2.3" ry="1.98" transform="rotate(178.99 537.61 815.47)" fill="#e044d8" opacity="1"/>
<ellipse cx="543.59" cy="815.47" rx="2.12" ry="1.76" transform="rotate(92.93 543.59 815.47)" fill="#e044d8" opacity="1"/>
<ellipse cx="552.57" cy="815.47" rx="2.25" ry="1.93" transform="rotate(142.14 552.57 815.47)" fill="#e044d8" opacity="1"/>
<ellipse cx="562.15" cy="822.36" rx="2.34" ry="1.87" transform="rotate(97.9 562.15 822.36)" fill="#e044d8" opacity="1"/>
<ellipse cx="508.58" cy="825.35" rx="2.15" ry="1.76" transform="rotate(21.86 508.58 825.35)" fill="#e044d8" opacity="1"/>
<ellipse cx="514.26" cy="824.75" rx="2.45" ry="1.93" transform="rotate(166.34 514.26 824.75)" fill="#e044d8" opacity="1"/>
<ellipse cx="503.19" cy="835.53" rx="2.29" ry="1.98" transform="rotate(50.43 503.19 835.53)" fill="#e044d8" opacity="1"/>
<ellipse cx="557.06" cy="832.53" rx="2.07" ry="1.66" transform="rotate(60.81 557.06 832.53)" fill="#e044d8" opacity="1"/>
<ellipse cx="565.14" cy="835.53" rx="2.46" ry="1.88" transform="rotate(143.21 565.14 835.53)" fill="#e044d8" opacity="1"/>
<ellipse cx="491.22" cy="841.51" rx="2.16" ry="1.86" transform="rotate(126.44 491.22 841.51)" fill="#e044d8" opacity="1"/>
<ellipse cx="546.58" cy="842.41" rx="2.56" ry="2" transform="rotate(172.53 546.58 842.41)" fill="#e044d8" opacity="1"/>
<ellipse cx="551.07" cy="845.4" rx="2.58" ry="1.95" transform="rotate(179.46 551.07 845.4)" fill="#e044d8" opacity="1"/>
<ellipse cx="522.64" cy="848.39" rx="2.45" ry="1.92" transform="rotate(136.23 522.64 848.39)" fill="#e044d8" opacity="1"/>
<ellipse cx="537.01" cy="850.79" rx="2.3" ry="1.93" transform="rotate(22.97 537.01 850.79)" fill="#e044d8" opacity="1"/>
<ellipse cx="507.68" cy="855.28" rx="2.4" ry="1.96" transform="rotate(115.86 507.68 855.28)" fill="#e044d8" opacity="1"/>
<ellipse cx="547.18" cy="856.77" rx="2.4" ry="1.82" transform="rotate(48.68 547.18 856.77)" fill="#e044d8" opacity="1"/>
<ellipse cx="550.18" cy="855.28" rx="2.65" ry="2" transform="rotate(151.35 550.18 855.28)" fill="#e044d8" opacity="1"/>
<ellipse cx="539.7" cy="862.46" rx="2.06" ry="1.79" transform="rotate(144.88 539.7 862.46)" fill="#e044d8" opacity="1"/>
<ellipse cx="482.24" cy="863.36" rx="2.16" ry="1.62" transform="rotate(167.9 482.24 863.36)" fill="#e044d8" opacity="1"/>
<ellipse cx="553.77" cy="870.84" rx="1.93" ry="1.69" transform="rotate(115.07 553.77 870.84)" fill="#e044d8" opacity="1"/>
<ellipse cx="489.12" cy="875.33" rx="1.97" ry="1.63" transform="rotate(129.05 489.12 875.33)" fill="#e044d8" opacity="1"/>
<ellipse cx="480.74" cy="816.97" rx="1.92" ry="1.65" transform="rotate(19.2 480.74 816.97)" fill="#e044d8" opacity="0.4"/>
</g></g>
<clipPath id="c25"><rect x="582.3" y="805.7" width="101.6" height="71.4"/></clipPath>
<g clip-path="url(#c25)">
<rect x="582.3" y="805.7" width="101.6" height="71.4" fill="#14010c"/>
<g filter="url(#cb)">
<path d="M575.13,804.67 Q583.07,808.24 591.62,809.93 Q583.67,806.36 575.13,804.67Z" fill="#c82018" opacity="0.5"/>
<ellipse cx="583.37" cy="807.3" rx="3.61" ry="2.2" transform="rotate(15.74 583.37 807.3)" fill="#c82018" opacity="0.75"/>
<path d="M597.38,799.7 Q602.85,812.82 610.14,825.02 Q604.67,811.9 597.38,799.7Z" fill="#c82018" opacity="0.5"/>
<ellipse cx="603.76" cy="812.36" rx="3.6" ry="2.26" transform="rotate(59.89 603.76 812.36)" fill="#c82018" opacity="0.75"/>
<path d="M621.37,803.94 Q620.04,816.01 620.79,828.13 Q622.12,816.06 621.37,803.94Z" fill="#c82018" opacity="0.5"/>
<ellipse cx="621.08" cy="816.04" rx="3.73" ry="2.31" transform="rotate(86.4 621.08 816.04)" fill="#c82018" opacity="0.75"/>
<path d="M607.32,815.7 Q614.36,821.29 622.58,824.96 Q615.53,819.37 607.32,815.7Z" fill="#c82018" opacity="0.5"/>
<ellipse cx="614.95" cy="820.33" rx="3.34" ry="2.5" transform="rotate(33.07 614.95 820.33)" fill="#c82018" opacity="0.75"/>
<path d="M583.57,816.42 Q591.75,827.48 601.57,837.11 Q593.39,826.06 583.57,816.42Z" fill="#c82018" opacity="0.3"/>
<ellipse cx="592.57" cy="826.77" rx="3.25" ry="2.4" transform="rotate(48.07 592.57 826.77)" fill="#c82018" opacity="0.45"/>
<path d="M587.73,817.56 Q598.01,828.43 609.67,837.81 Q599.39,826.94 587.73,817.56Z" fill="#c82018" opacity="0.5"/>
<ellipse cx="598.7" cy="827.69" rx="3.25" ry="2.26" transform="rotate(37.46 598.7 827.69)" fill="#c82018" opacity="0.75"/>
<path d="M664.04,803.12 Q659.36,810.64 656.91,819.15 Q661.59,811.63 664.04,803.12Z" fill="#c82018" opacity="0.3"/>
<ellipse cx="660.47" cy="811.13" rx="3.75" ry="2.71" transform="rotate(108.4 660.47 811.13)" fill="#c82018" opacity="0.45"/>
<path d="M654.24,818.99 Q644.6,822.65 636.05,828.41 Q645.69,824.75 654.24,818.99Z" fill="#c82018" opacity="0.5"/>
<ellipse cx="645.15" cy="823.7" rx="3.5" ry="2.64" transform="rotate(149.36 645.15 823.7)" fill="#c82018" opacity="0.75"/>
<path d="M651.23,818.51 Q657.67,825.58 665.73,830.73 Q659.29,823.66 651.23,818.51Z" fill="#c82018" opacity="0.5"/>
<ellipse cx="658.48" cy="824.62" rx="3.4" ry="2.79" transform="rotate(45.31 658.48 824.62)" fill="#c82018" opacity="0.75"/>
<path d="M663.66,819.21 Q668.95,825.68 675.68,830.65 Q670.39,824.17 663.66,819.21Z" fill="#c82018" opacity="0.5"/>
<ellipse cx="669.67" cy="824.93" rx="3.71" ry="2.32" transform="rotate(46.5 669.67 824.93)" fill="#c82018" opacity="0.75"/>
<path d="M651.67,820.34 Q651.56,829.23 653.95,837.79 Q654.06,828.9 651.67,820.34Z" fill="#c82018" opacity="0.5"/>
<ellipse cx="652.81" cy="829.07" rx="3.21" ry="2.79" transform="rotate(82.31 652.81 829.07)" fill="#c82018" opacity="0.75"/>
<path d="M663.13,833.16 Q648.46,832.59 633.91,834.48 Q648.57,835.05 663.13,833.16Z" fill="#c82018" opacity="0.5"/>
<ellipse cx="648.52" cy="833.82" rx="3.99" ry="2.73" transform="rotate(173.91 648.52 833.82)" fill="#c82018" opacity="0.75"/>
<path d="M680.29,819.41 Q677.05,833.66 675.92,848.22 Q679.16,833.98 680.29,819.41Z" fill="#c82018" opacity="0.5"/>
<ellipse cx="678.1" cy="833.82" rx="3.77" ry="2.37" transform="rotate(99.26 678.1 833.82)" fill="#c82018" opacity="0.75"/>
<path d="M685.64,831.04 Q676.19,838.28 668.11,847.02 Q677.56,839.78 685.64,831.04Z" fill="#c82018" opacity="0.5"/>
<ellipse cx="676.88" cy="839.03" rx="3.39" ry="2.25" transform="rotate(128.03 676.88 839.03)" fill="#c82018" opacity="0.75"/>
<path d="M661.18,827.67 Q664.79,842.13 670.49,855.91 Q666.88,841.44 661.18,827.67Z" fill="#c82018" opacity="0.5"/>
<ellipse cx="665.84" cy="841.79" rx="3.45" ry="2.45" transform="rotate(77.22 665.84 841.79)" fill="#c82018" opacity="0.75"/>
<path d="M581.91,830.54 Q585.15,841.42 590.36,851.5 Q587.11,840.63 581.91,830.54Z" fill="#c82018" opacity="0.5"/>
<ellipse cx="586.13" cy="841.02" rx="3.89" ry="2.35" transform="rotate(73.85 586.13 841.02)" fill="#c82018" opacity="0.75"/>
<path d="M595.42,845.6 Q585.34,849.77 576.23,855.76 Q586.31,851.59 595.42,845.6Z" fill="#c82018" opacity="0.5"/>
<ellipse cx="585.82" cy="850.68" rx="3.3" ry="2.28" transform="rotate(146.88 585.82 850.68)" fill="#c82018" opacity="0.75"/>
<path d="M650.61,848.01 Q642.95,852.4 636.61,858.56 Q644.28,854.17 650.61,848.01Z" fill="#c82018" opacity="0.3"/>
<ellipse cx="643.61" cy="853.28" rx="4.13" ry="2.46" transform="rotate(142.7 643.61 853.28)" fill="#c82018" opacity="0.45"/>
<path d="M668.94,843.33 Q660.11,850.46 652.93,859.25 Q661.76,852.12 668.94,843.33Z" fill="#c82018" opacity="0.5"/>
<ellipse cx="660.93" cy="851.29" rx="3.67" ry="2.61" transform="rotate(134.69 660.93 851.29)" fill="#c82018" opacity="0.75"/>
<path d="M675.31,853.15 Q663.88,853.23 652.69,855.57 Q664.12,855.48 675.31,853.15Z" fill="#c82018" opacity="0.5"/>
<ellipse cx="664" cy="854.36" rx="3.59" ry="2.52" transform="rotate(164.4 664 854.36)" fill="#c82018" opacity="0.75"/>
<path d="M675.86,852.17 Q665.71,855.33 656.43,860.53 Q666.58,857.37 675.86,852.17Z" fill="#c82018" opacity="0.5"/>
<ellipse cx="666.15" cy="856.35" rx="3.56" ry="2.47" transform="rotate(164.57 666.15 856.35)" fill="#c82018" opacity="0.75"/>
<path d="M619.55,848.59 Q622.67,859.8 627.83,870.24 Q624.7,859.03 619.55,848.59Z" fill="#c82018" opacity="0.5"/>
<ellipse cx="623.69" cy="859.42" rx="3.79" ry="2.42" transform="rotate(76.07 623.69 859.42)" fill="#c82018" opacity="0.75"/>
<path d="M664.98,867.38 Q654.88,868.72 645.24,871.99 Q655.34,870.65 664.98,867.38Z" fill="#c82018" opacity="0.3"/>
<ellipse cx="655.11" cy="869.69" rx="3.9" ry="2.21" transform="rotate(162.71 655.11 869.69)" fill="#c82018" opacity="0.45"/>
<ellipse cx="583.37" cy="807.3" rx="2.33" ry="1.77" transform="rotate(24.1 583.37 807.3)" fill="#e048e8" opacity="1"/>
<ellipse cx="603.76" cy="812.36" rx="2.15" ry="1.69" transform="rotate(81.25 603.76 812.36)" fill="#e048e8" opacity="1"/>
<ellipse cx="621.08" cy="816.04" rx="2.12" ry="1.83" transform="rotate(55.08 621.08 816.04)" fill="#e048e8" opacity="1"/>
<ellipse cx="614.95" cy="820.33" rx="1.9" ry="1.62" transform="rotate(136.06 614.95 820.33)" fill="#e048e8" opacity="1"/>
<ellipse cx="592.57" cy="826.77" rx="1.96" ry="1.63" transform="rotate(167.32 592.57 826.77)" fill="#e048e8" opacity="0.6"/>
<ellipse cx="598.7" cy="827.69" rx="2.18" ry="1.75" transform="rotate(33.55 598.7 827.69)" fill="#e048e8" opacity="1"/>
<ellipse cx="660.47" cy="811.13" rx="2.33" ry="1.98" transform="rotate(171.79 660.47 811.13)" fill="#e048e8" opacity="0.6"/>
<ellipse cx="645.15" cy="823.7" rx="2.01" ry="1.78" transform="rotate(137.64 645.15 823.7)" fill="#e048e8" opacity="1"/>
<ellipse cx="658.48" cy="824.62" rx="2.07" ry="1.73" transform="rotate(48.29 658.48 824.62)" fill="#e048e8" opacity="1"/>
<ellipse cx="669.67" cy="824.93" rx="2.16" ry="1.92" transform="rotate(179.58 669.67 824.93)" fill="#e048e8" opacity="1"/>
<ellipse cx="652.81" cy="829.07" rx="2" ry="1.72" transform="rotate(104.38 652.81 829.07)" fill="#e048e8" opacity="1"/>
<ellipse cx="648.52" cy="833.82" rx="2.09" ry="1.63" transform="rotate(157.19 648.52 833.82)" fill="#e048e8" opacity="1"/>
<ellipse cx="678.1" cy="833.82" rx="1.88" ry="1.6" transform="rotate(159.83 678.1 833.82)" fill="#e048e8" opacity="1"/>
<ellipse cx="676.88" cy="839.03" rx="1.93" ry="1.62" transform="rotate(142.19 676.88 839.03)" fill="#e048e8" opacity="1"/>
<ellipse cx="665.84" cy="841.79" rx="2.55" ry="1.95" transform="rotate(42.33 665.84 841.79)" fill="#e048e8" opacity="1"/>
<ellipse cx="586.13" cy="841.02" rx="1.93" ry="1.71" transform="rotate(137.62 586.13 841.02)" fill="#e048e8" opacity="1"/>
<ellipse cx="585.82" cy="850.68" rx="1.95" ry="1.69" transform="rotate(162.77 585.82 850.68)" fill="#e048e8" opacity="1"/>
<ellipse cx="643.61" cy="853.28" rx="2.34" ry="1.93" transform="rotate(14.66 643.61 853.28)" fill="#e048e8" opacity="0.6"/>
<ellipse cx="660.93" cy="851.29" rx="1.95" ry="1.61" transform="rotate(31.78 660.93 851.29)" fill="#e048e8" opacity="1"/>
<ellipse cx="664" cy="854.36" rx="1.95" ry="1.6" transform="rotate(7.49 664 854.36)" fill="#e048e8" opacity="1"/>
<ellipse cx="666.15" cy="856.35" rx="2.42" ry="1.82" transform="rotate(101.45 666.15 856.35)" fill="#e048e8" opacity="1"/>
<ellipse cx="623.69" cy="859.42" rx="1.83" ry="1.63" transform="rotate(7.98 623.69 859.42)" fill="#e048e8" opacity="1"/>
<ellipse cx="655.11" cy="869.69" rx="2.16" ry="1.86" transform="rotate(110.45 655.11 869.69)" fill="#e048e8" opacity="0.6"/>
</g></g>
<clipPath id="c26"><rect x="171.2" y="878.8" width="101.6" height="73.2"/></clipPath>
<g clip-path="url(#c26)">
<rect x="171.2" y="878.8" width="101.6" height="73.2" fill="#170208"/>
<g>
<g filter="url(#gr)">
<ellipse cx="217.4" cy="899" rx="13" ry="12" transform="rotate(0 217.4 899)" fill="#6a0c10" opacity="0.6"/>
<ellipse cx="207.5" cy="936.4" rx="15" ry="13" transform="rotate(0 207.5 936.4)" fill="#7a1010" opacity="0.65"/>
<path d="M233.05,940.54 Q261.56,944.9 276.55,920.26 Q248.04,915.9 233.05,940.54Z" fill="#5a0c10" opacity="0.6"/>
<path d="M200.36,938 Q239,924.93 269.64,898 Q231,911.07 200.36,938Z" fill="#40080c" opacity="0.5"/>
</g><g filter="url(#nb)">
<ellipse cx="217.4" cy="899" rx="7.6" ry="7.1" transform="rotate(0 217.4 899)" fill="#3a22ff" opacity="1"/>
<ellipse cx="207.5" cy="936.4" rx="8.4" ry="8.2" transform="rotate(0 207.5 936.4)" fill="#3a22ff" opacity="1"/>
<ellipse cx="254.8" cy="930.4" rx="6.6" ry="4.8" transform="rotate(20 254.8 930.4)" fill="#4a34c8" opacity="0.85"/>
</g>
</g></g>
<clipPath id="c27"><rect x="274.4" y="878.8" width="101.6" height="73.2"/></clipPath>
<g clip-path="url(#c27)">
<rect x="274.4" y="878.8" width="101.6" height="73.2" fill="#140208"/>
<g>
<g filter="url(#gr)">
<ellipse cx="311.7" cy="914.5" rx="14" ry="13" transform="rotate(0 311.7 914.5)" fill="#7a1010" opacity="0.65"/>
<ellipse cx="337.1" cy="913.3" rx="13" ry="13" transform="rotate(0 337.1 913.3)" fill="#801212" opacity="0.65"/>
<ellipse cx="350" cy="896" rx="12" ry="13" transform="rotate(0 350 896)" fill="#6a0c10" opacity="0.6"/>
<ellipse cx="301.2" cy="932.8" rx="13" ry="11" transform="rotate(0 301.2 932.8)" fill="#7a1010" opacity="0.65"/>
<path d="M326.02,920 Q347,943.66 377.98,950 Q357,926.34 326.02,920Z" fill="#40080c" opacity="0.55"/>
</g><g filter="url(#nb)">
<ellipse cx="311.7" cy="914.5" rx="7.8" ry="7.5" transform="rotate(0 311.7 914.5)" fill="#3a22ff" opacity="1"/>
<ellipse cx="337.1" cy="913.3" rx="7.2" ry="7.5" transform="rotate(0 337.1 913.3)" fill="#3a22ff" opacity="1"/>
<ellipse cx="350" cy="896" rx="6.6" ry="7.5" transform="rotate(0 350 896)" fill="#5040e0" opacity="0.85"/>
<ellipse cx="301.2" cy="932.8" rx="7.5" ry="5.4" transform="rotate(0 301.2 932.8)" fill="#4a2af0" opacity="1"/>
</g>
</g></g>
<clipPath id="c28"><rect x="377" y="878.8" width="101.6" height="73.2"/></clipPath>
<g clip-path="url(#c28)">
<rect x="377" y="878.8" width="101.6" height="73.2" fill="#1c040c"/>
<g>
<g filter="url(#gr)">
<ellipse cx="428" cy="915" rx="60" ry="45" transform="rotate(0 428 915)" fill="#5a0c10" opacity="0.55"/>
<path d="M364.54,870.3 Q381.53,921.64 435.46,925.7 Q418.47,874.36 364.54,870.3Z" fill="#901818" opacity="0.8"/>
<ellipse cx="409.8" cy="907" rx="16" ry="12" transform="rotate(28 409.8 907)" fill="#a81e16" opacity="0.7"/>
<ellipse cx="461" cy="915" rx="13" ry="30" transform="rotate(0 461 915)" fill="#981c16" opacity="0.6"/>
<ellipse cx="463" cy="920" rx="17" ry="40" transform="rotate(0 463 920)" fill="#901818" opacity="0.7"/>
<path d="M365.29,886.18 Q396.39,891.9 424.71,877.82 Q393.61,872.1 365.29,886.18Z" fill="#7a1414" opacity="0.5"/>
<path d="M395.36,960 Q435,948.66 464.64,920 Q425,931.34 395.36,960Z" fill="#601010" opacity="0.4"/>
</g><g filter="url(#nb)">
<ellipse cx="409.8" cy="907" rx="11.9" ry="8.2" transform="rotate(28 409.8 907)" fill="#9050f2" opacity="1"/>
<ellipse cx="459.6" cy="897.1" rx="8.2" ry="8.2" transform="rotate(0 459.6 897.1)" fill="#9050f2" opacity="1"/>
<ellipse cx="463.4" cy="927.9" rx="8.5" ry="7.5" transform="rotate(0 463.4 927.9)" fill="#9050f2" opacity="1"/>
<ellipse cx="465.6" cy="946.5" rx="7.5" ry="5.5" transform="rotate(0 465.6 946.5)" fill="#9050f2" opacity="1"/>
<ellipse cx="476.8" cy="901.8" rx="4" ry="5" transform="rotate(0 476.8 901.8)" fill="#8a40e0" opacity="0.8"/>
</g>
</g></g>
<clipPath id="c29"><rect x="479.4" y="878.8" width="101.6" height="73.2"/></clipPath>
<g clip-path="url(#c29)">
<rect x="479.4" y="878.8" width="101.6" height="73.2" fill="#0a0003"/>
<g>
<g filter="url(#gr)">
<ellipse cx="530" cy="915" rx="55" ry="40" transform="rotate(0 530 915)" fill="#3a0808" opacity="0.5"/>
<path d="M520.48,882.84 Q533.6,930.59 580.52,914.76 Q567.4,867.01 520.48,882.84Z" fill="#b02016" opacity="0.85"/>
<path d="M497.6,922.48 Q513.92,963.19 555.6,949.52 Q539.28,908.81 497.6,922.48Z" fill="#a81e16" opacity="0.85"/>
<ellipse cx="544.5" cy="901.8" rx="14" ry="12" transform="rotate(0 544.5 901.8)" fill="#c42418" opacity="0.7"/>
<ellipse cx="526.3" cy="937.3" rx="15" ry="12" transform="rotate(10 526.3 937.3)" fill="#c42418" opacity="0.7"/>
<ellipse cx="492.4" cy="887" rx="20" ry="9" transform="rotate(0 492.4 887)" fill="#901818" opacity="0.6"/>
<ellipse cx="512" cy="882" rx="12" ry="6" transform="rotate(0 512 882)" fill="#a01c18" opacity="0.6"/>
</g><g filter="url(#nb)">
<ellipse cx="544.5" cy="901.8" rx="8.9" ry="8.2" transform="rotate(0 544.5 901.8)" fill="#d064ec" opacity="1"/>
<ellipse cx="526.3" cy="937.3" rx="9.7" ry="8.2" transform="rotate(10 526.3 937.3)" fill="#c660f0" opacity="1"/>
<ellipse cx="510.3" cy="880.2" rx="6.5" ry="4" transform="rotate(0 510.3 880.2)" fill="#b048e8" opacity="1"/>
<ellipse cx="556.4" cy="948" rx="8" ry="5" transform="rotate(0 556.4 948)" fill="#b048e8" opacity="1"/>
<ellipse cx="483.5" cy="897.4" rx="3" ry="5" transform="rotate(0 483.5 897.4)" fill="#3020a0" opacity="0.7"/>
</g>
</g></g>
<clipPath id="c30"><rect x="582.3" y="878.8" width="101.6" height="73.2"/></clipPath>
<g clip-path="url(#c30)">
<rect x="582.3" y="878.8" width="101.6" height="73.2" fill="#180410"/>
<g>
<g filter="url(#gr)">
<ellipse cx="633" cy="915" rx="55" ry="40" transform="rotate(0 633 915)" fill="#4a0a10" opacity="0.5"/>
<path d="M564.22,935.94 Q638.89,936.43 695.78,888.06 Q621.11,887.57 564.22,935.94Z" fill="#8c1616" opacity="0.75"/>
<ellipse cx="639" cy="897.2" rx="15" ry="12" transform="rotate(0 639 897.2)" fill="#961a1a" opacity="0.6"/>
<ellipse cx="616" cy="913.6" rx="15" ry="12" transform="rotate(0 616 913.6)" fill="#961a1a" opacity="0.6"/>
<ellipse cx="586" cy="886" rx="8" ry="10" transform="rotate(0 586 886)" fill="#801414" opacity="0.5"/>
</g><g filter="url(#nb)">
<ellipse cx="639" cy="897.2" rx="8.9" ry="8.4" transform="rotate(0 639 897.2)" fill="#c860f0" opacity="1"/>
<ellipse cx="616" cy="913.6" rx="9.5" ry="7.7" transform="rotate(-10 616 913.6)" fill="#c05cf0" opacity="1"/>
<ellipse cx="584.6" cy="886.4" rx="5.4" ry="6.9" transform="rotate(0 584.6 886.4)" fill="#a040e8" opacity="1"/>
</g>
</g></g>
<rect x="202.7" y="827.1" width="27.9" height="19.3" fill="none" stroke="#f4f4f4" stroke-width="1"/>
<line x1="202.7" y1="846.4" x2="171.2" y2="878" stroke="#f4f4f4" stroke-width="1"/>
<line x1="230.6" y1="846.4" x2="272.8" y2="878" stroke="#f4f4f4" stroke-width="1"/>
<rect x="311.0" y="823.9" width="27.9" height="19.3" fill="none" stroke="#f4f4f4" stroke-width="1"/>
<line x1="311" y1="843.2" x2="274.4" y2="878" stroke="#f4f4f4" stroke-width="1"/>
<line x1="338.9" y1="843.2" x2="376" y2="878" stroke="#f4f4f4" stroke-width="1"/>
<rect x="391.5" y="815.2" width="27.6" height="19.3" fill="none" stroke="#f4f4f4" stroke-width="1"/>
<line x1="391.5" y1="834.5" x2="377" y2="878" stroke="#f4f4f4" stroke-width="1"/>
<line x1="419.1" y1="834.5" x2="478.6" y2="878" stroke="#f4f4f4" stroke-width="1"/>
<rect x="544.4" y="816.5" width="27.9" height="18.6" fill="none" stroke="#f4f4f4" stroke-width="1"/>
<line x1="544.4" y1="835.1" x2="479.4" y2="878" stroke="#f4f4f4" stroke-width="1"/>
<line x1="572.3" y1="835.1" x2="581" y2="878" stroke="#f4f4f4" stroke-width="1"/>
<rect x="606.0" y="811.3" width="27.2" height="19" fill="none" stroke="#f4f4f4" stroke-width="1"/>
<line x1="606" y1="830.3" x2="582.3" y2="878" stroke="#f4f4f4" stroke-width="1"/>
<line x1="633.2" y1="830.3" x2="683.9" y2="878" stroke="#f4f4f4" stroke-width="1"/>
<line x1="252.8" y1="728.5" x2="269" y2="728.5" stroke="#fff" stroke-width="0.9"/>
<text x="260.9" y="726.8" font-size="5.4" text-anchor="middle" fill="#fff" stroke="#fff" stroke-width="0.3">100μm</text>
</svg></body></html>
